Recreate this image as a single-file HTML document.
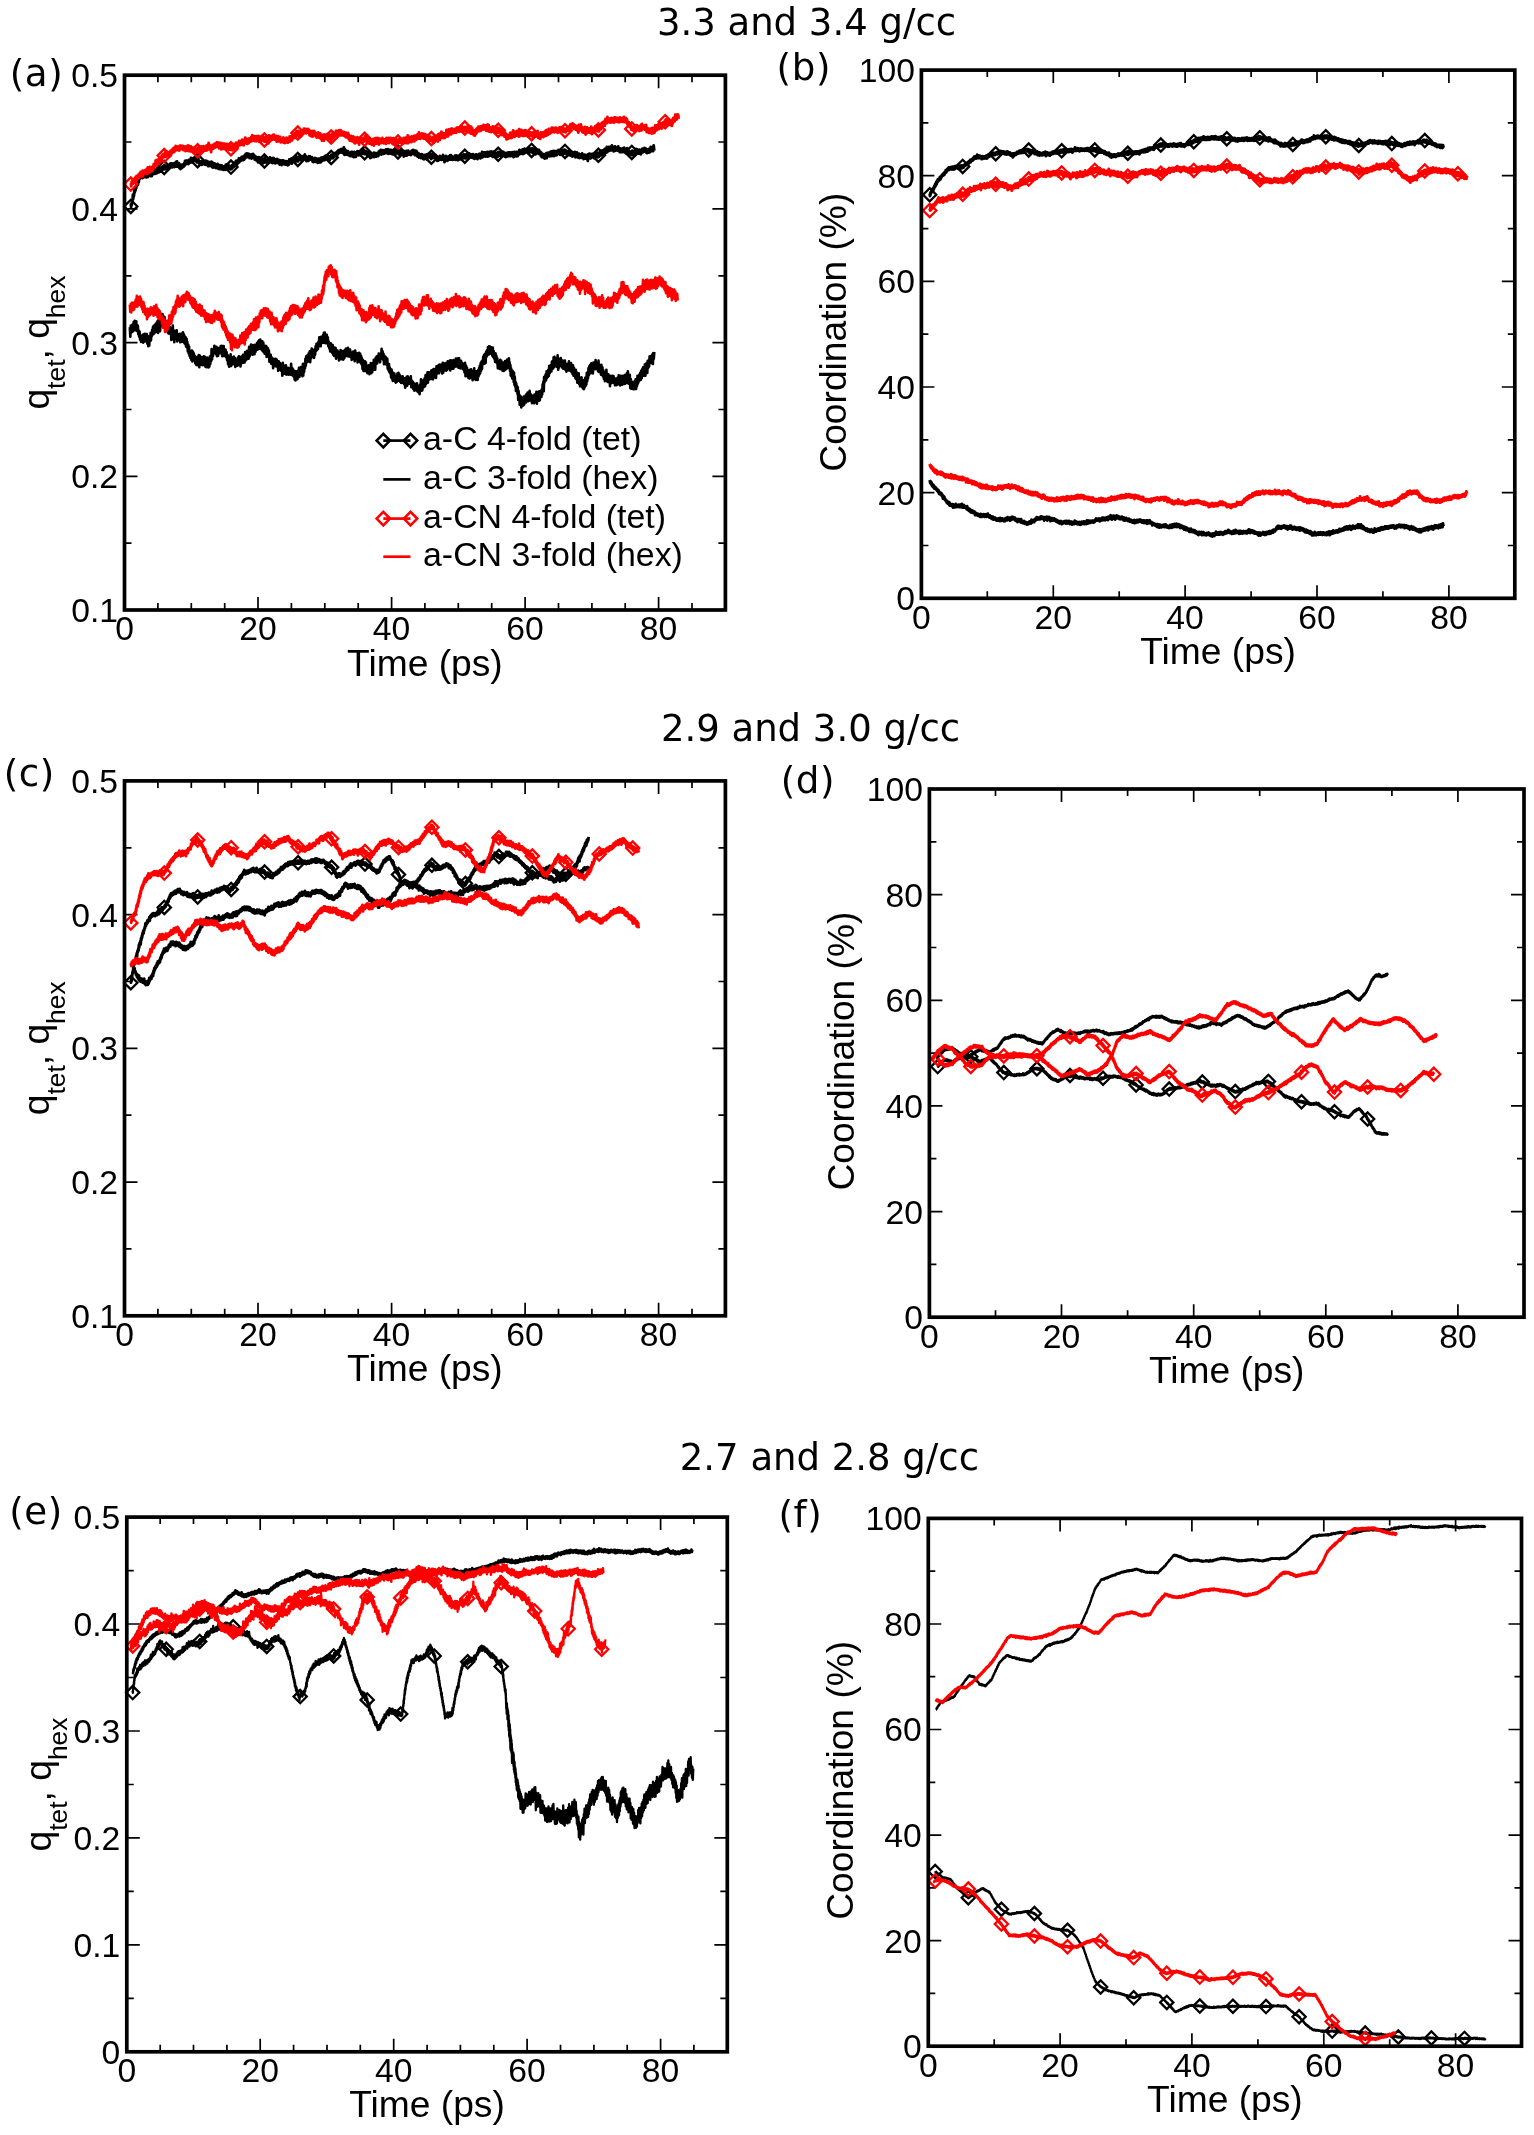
<!DOCTYPE html>
<html lang="en"><head><meta charset="utf-8"><title>Figure</title>
<style>html,body{margin:0;padding:0;background:#fff}svg{display:block;filter:blur(0.45px)}</style></head>
<body>
<svg width="1534" height="2135" viewBox="0 0 1534 2135" role="img" aria-label="Time evolution of order parameters and coordination">
<rect width="1534" height="2135" fill="#fff"/>
<g id="panel-a">
<path d="M157.9 610.0v-7.0M157.9 75.2v7.0M191.3 610.0v-7.0M191.3 75.2v7.0M224.7 610.0v-7.0M224.7 75.2v7.0M258.0 610.0v-13.0M258.0 75.2v13.0M291.4 610.0v-7.0M291.4 75.2v7.0M324.8 610.0v-7.0M324.8 75.2v7.0M358.2 610.0v-7.0M358.2 75.2v7.0M391.6 610.0v-13.0M391.6 75.2v13.0M424.9 610.0v-7.0M424.9 75.2v7.0M458.3 610.0v-7.0M458.3 75.2v7.0M491.7 610.0v-7.0M491.7 75.2v7.0M525.1 610.0v-13.0M525.1 75.2v13.0M558.5 610.0v-7.0M558.5 75.2v7.0M591.9 610.0v-7.0M591.9 75.2v7.0M625.2 610.0v-7.0M625.2 75.2v7.0M658.6 610.0v-13.0M658.6 75.2v13.0M692.0 610.0v-7.0M692.0 75.2v7.0M124.5 543.1h7.0M725.4 543.1h-7.0M124.5 476.3h13.0M725.4 476.3h-13.0M124.5 409.5h7.0M725.4 409.5h-7.0M124.5 342.6h13.0M725.4 342.6h-13.0M124.5 275.8h7.0M725.4 275.8h-7.0M124.5 208.9h13.0M725.4 208.9h-13.0M124.5 142.0h7.0M725.4 142.0h-7.0" stroke="#000" stroke-width="1.7" fill="none"/>
<path d="M130.8 203.5L131.1 207.2L131.5 203.3L131.8 205.0L132.2 199.8L132.5 202.0L132.9 194.7L133.2 199.1L133.6 194.3L134.0 195.9L134.3 190.2L134.7 192.6L135.1 188.8L135.5 190.5L135.9 186.6L136.3 188.2L136.7 183.0L137.1 185.8L137.5 182.3L137.9 184.8L138.3 179.9L138.7 182.3L139.2 178.1L139.6 179.0L140.1 174.8L140.6 177.6L141.1 175.3L141.6 177.8L142.1 175.2L142.6 178.0L143.1 173.7L143.6 177.1L144.1 172.7L144.7 177.0L145.2 173.8L145.7 177.0L146.2 173.0L146.7 177.3L147.2 172.9L147.7 177.1L148.2 173.1L148.7 176.2L149.3 171.9L149.8 175.3L150.3 173.2L150.8 176.1L151.3 172.3L151.8 176.1L152.3 171.8L152.8 174.4L153.3 171.6L153.8 174.0L154.3 170.1L154.9 173.8L155.4 170.1L155.9 173.3L156.4 169.0L156.9 173.3L157.4 169.7L157.9 172.5L158.4 168.8L158.9 172.4L159.4 168.5L159.9 171.3L160.4 167.7L161.0 171.7L161.5 167.6L162.0 170.2L162.5 166.5L163.0 168.7L163.5 165.9L164.0 169.3L164.5 165.0L165.1 168.6L165.6 166.1L166.1 169.3L166.6 165.9L167.2 168.9L167.7 165.6L168.2 167.9L168.7 165.1L169.3 168.1L169.8 163.9L170.3 166.8L170.9 163.3L171.4 166.1L171.9 163.3L172.4 167.3L172.9 163.9L173.4 166.3L173.9 163.3L174.4 167.0L174.9 162.8L175.4 166.1L176.0 161.8L176.5 166.6L177.0 161.4L177.5 164.9L178.0 163.1L178.5 166.8L179.0 163.2L179.5 168.0L180.0 164.3L180.5 169.1L181.1 165.0L181.6 168.2L182.1 164.7L182.6 167.4L183.1 164.3L183.6 166.8L184.1 163.4L184.5 165.8L185.0 161.0L185.5 164.6L186.0 160.6L186.5 163.9L187.0 160.6L187.5 163.7L188.0 161.0L188.5 164.2L188.9 160.0L189.4 162.6L189.9 159.6L190.4 162.6L190.9 157.8L191.5 162.4L192.0 158.8L192.5 162.0L193.0 158.2L193.6 161.3L194.1 157.9L194.6 160.7L195.1 157.6L195.7 160.5L196.2 158.4L196.7 162.3L197.3 158.7L197.8 162.0L198.3 158.5L198.8 163.4L199.3 160.8L199.8 164.0L200.4 161.3L200.9 164.1L201.4 161.4L201.9 164.8L202.4 160.9L202.9 164.0L203.5 160.8L204.0 164.1L204.5 161.5L205.0 164.5L205.5 160.6L206.1 164.9L206.6 160.8L207.1 163.9L207.6 161.7L208.1 166.1L208.6 162.0L209.1 166.0L209.6 162.2L210.1 165.4L210.6 162.2L211.1 165.9L211.6 161.7L212.1 167.1L212.6 162.4L213.1 167.7L213.6 163.3L214.1 167.4L214.6 163.3L215.1 167.4L215.6 165.0L216.1 168.1L216.7 164.3L217.2 167.2L217.7 163.8L218.2 168.7L218.7 165.6L219.2 169.1L219.7 165.2L220.2 168.1L220.7 165.4L221.2 169.4L221.7 165.4L222.2 168.8L222.7 166.1L223.3 169.8L223.8 166.5L224.3 169.6L224.8 166.2L225.3 169.9L225.8 164.6L226.4 169.5L226.9 164.4L227.4 168.5L227.9 165.0L228.4 168.2L228.9 165.3L229.5 169.1L230.0 166.1L230.5 169.4L231.0 166.7L231.5 169.1L232.0 165.2L232.5 168.2L232.9 164.3L233.4 166.7L233.9 162.8L234.4 166.6L234.9 163.2L235.4 165.6L235.9 160.9L236.4 164.8L236.9 160.7L237.3 164.4L237.8 160.4L238.3 162.9L238.8 158.4L239.3 162.4L239.8 158.6L240.3 161.1L240.8 158.0L241.3 160.7L241.7 156.9L242.2 160.1L242.7 156.7L243.2 160.2L243.7 156.5L244.2 159.6L244.7 155.1L245.2 158.3L245.7 154.0L246.3 156.9L246.8 153.4L247.3 157.1L247.9 153.7L248.4 157.2L249.0 153.9L249.5 158.0L250.1 154.7L250.6 156.8L251.1 154.7L251.6 158.5L252.2 154.1L252.7 156.7L253.2 154.0L253.7 157.9L254.3 155.3L254.8 159.5L255.3 156.2L255.9 160.1L256.4 157.1L256.9 160.3L257.4 157.5L258.0 162.4L258.5 157.2L259.0 161.7L259.5 157.3L260.1 161.5L260.6 159.0L261.1 162.8L261.6 159.3L262.2 163.1L262.7 159.0L263.2 163.3L263.8 159.2L264.3 162.6L264.8 157.3L265.3 162.3L265.8 159.8L266.3 162.6L266.9 159.6L267.4 162.1L267.9 159.4L268.4 162.2L268.9 158.4L269.4 161.9L270.0 157.5L270.5 161.0L271.0 158.4L271.5 162.6L272.0 158.5L272.6 163.0L273.1 157.8L273.6 161.4L274.1 158.3L274.6 163.2L275.1 159.9L275.6 163.3L276.1 159.3L276.6 161.8L277.1 158.8L277.6 162.5L278.1 159.9L278.6 163.4L279.1 159.9L279.7 164.7L280.2 160.4L280.7 164.0L281.2 160.7L281.7 165.0L282.2 160.4L282.7 163.7L283.2 160.4L283.7 164.1L284.2 161.0L284.7 164.1L285.2 161.3L285.7 164.7L286.2 161.1L286.8 164.6L287.3 161.3L287.8 165.4L288.3 161.1L288.8 164.7L289.3 159.5L289.8 163.3L290.3 160.1L290.9 163.2L291.4 158.3L291.9 163.7L292.4 159.0L292.9 162.1L293.4 158.2L293.9 161.2L294.4 157.7L295.0 161.5L295.5 158.3L296.0 160.7L296.5 156.4L297.0 161.4L297.5 157.4L298.1 161.4L298.6 157.7L299.1 159.8L299.6 155.2L300.2 159.8L300.7 156.0L301.2 160.4L301.7 156.4L302.3 159.2L302.8 156.3L303.3 158.7L303.8 155.7L304.4 157.7L304.9 154.4L305.4 158.5L305.9 156.1L306.4 161.0L306.9 157.8L307.4 160.9L308.0 157.0L308.5 160.9L309.0 156.2L309.5 159.5L310.0 156.5L310.5 159.5L311.1 157.4L311.6 159.8L312.1 157.1L312.6 161.5L313.1 158.9L313.6 162.1L314.1 159.5L314.6 161.3L315.1 157.8L315.6 161.8L316.2 158.3L316.7 161.8L317.2 159.5L317.7 162.8L318.2 158.6L318.7 162.7L319.2 158.9L319.7 162.2L320.2 158.5L320.7 162.3L321.2 157.7L321.7 161.3L322.2 157.3L322.7 160.2L323.2 157.1L323.7 160.4L324.3 156.7L324.8 160.1L325.3 155.8L325.8 159.1L326.3 155.4L326.8 158.7L327.3 155.3L327.8 158.2L328.3 155.6L328.8 159.5L329.3 156.7L329.8 160.4L330.3 156.2L330.8 158.7L331.3 154.6L331.9 158.2L332.4 156.2L332.9 158.3L333.4 154.5L333.9 157.3L334.4 153.1L334.9 156.4L335.5 153.4L336.0 156.0L336.5 152.2L337.0 154.9L337.5 151.2L338.0 154.4L338.5 150.2L339.0 152.9L339.6 150.7L340.1 152.3L340.7 149.2L341.2 152.6L341.8 148.9L342.3 152.3L342.9 149.5L343.4 153.4L343.9 147.4L344.5 154.8L345.0 149.2L345.5 153.5L346.0 150.3L346.6 154.7L347.1 151.2L347.6 154.9L348.2 151.2L348.7 155.0L349.2 152.7L349.7 155.9L350.3 152.7L350.8 156.2L351.3 151.8L351.8 155.5L352.3 152.0L352.8 156.5L353.3 153.2L353.8 157.2L354.3 151.9L354.8 156.1L355.3 152.8L355.9 156.8L356.4 152.1L356.9 155.4L357.4 151.2L357.9 154.7L358.4 151.4L358.9 155.3L359.4 151.3L359.9 154.7L360.4 151.1L360.9 153.8L361.4 149.8L361.9 152.7L362.4 150.9L363.0 153.8L363.5 149.5L364.0 153.4L364.5 150.5L365.0 154.2L365.5 151.6L366.0 154.3L366.6 151.3L367.1 154.7L367.6 152.6L368.1 155.4L368.6 152.2L369.2 156.6L369.7 153.4L370.2 158.1L370.7 153.6L371.3 157.6L371.8 153.9L372.3 156.9L372.8 154.2L373.3 156.9L373.8 152.7L374.3 157.1L374.8 153.0L375.3 156.5L375.8 153.9L376.3 156.6L376.8 153.2L377.3 156.1L377.8 153.6L378.3 156.1L378.8 151.5L379.3 154.2L379.8 150.6L380.3 154.1L380.8 149.8L381.4 154.5L381.9 150.6L382.4 153.5L382.9 150.1L383.4 153.8L383.9 150.5L384.4 153.5L384.9 150.5L385.4 153.0L385.9 149.5L386.4 153.1L386.9 149.6L387.4 153.2L387.9 149.2L388.4 153.8L388.9 149.6L389.4 153.3L389.9 149.8L390.4 153.6L390.9 150.0L391.5 153.5L392.0 150.2L392.5 154.3L393.0 150.8L393.6 154.2L394.1 150.1L394.6 153.9L395.1 149.7L395.6 153.9L396.2 150.4L396.7 153.0L397.2 149.5L397.7 153.0L398.2 149.9L398.7 154.4L399.3 150.6L399.8 154.9L400.3 150.3L400.8 154.3L401.3 151.7L401.8 154.0L402.3 150.8L402.8 154.8L403.3 151.3L403.8 156.5L404.4 151.1L404.9 153.7L405.4 151.3L405.9 155.7L406.4 150.9L406.9 155.6L407.4 150.9L407.9 154.2L408.4 150.7L408.9 154.7L409.5 151.9L410.0 154.6L410.5 151.7L411.0 155.0L411.5 151.0L412.0 154.2L412.5 150.1L413.0 153.3L413.5 150.0L414.0 154.0L414.5 151.6L415.0 155.2L415.5 150.6L416.0 154.4L416.5 151.0L417.0 156.2L417.5 152.8L418.0 156.7L418.5 153.2L419.1 157.6L419.6 154.4L420.1 157.1L420.6 154.4L421.1 158.1L421.6 154.1L422.1 157.7L422.6 154.6L423.1 158.9L423.6 155.2L424.1 159.3L424.7 155.0L425.2 158.9L425.7 155.4L426.2 158.7L426.7 154.4L427.2 159.5L427.7 154.6L428.2 157.3L428.7 153.6L429.3 156.8L429.8 154.6L430.3 158.0L430.8 154.1L431.3 159.1L431.8 155.3L432.3 157.8L432.8 154.1L433.3 157.2L433.8 154.6L434.3 158.2L434.8 154.9L435.3 158.1L435.9 155.1L436.4 159.6L436.9 156.7L437.4 160.9L437.9 157.2L438.4 160.6L438.9 157.0L439.4 159.2L439.9 155.8L440.4 159.5L440.9 156.6L441.4 159.8L441.9 156.7L442.4 159.6L443.0 155.0L443.5 159.7L444.0 156.5L444.5 162.1L445.0 156.6L445.5 160.3L446.0 155.9L446.5 160.4L447.0 156.7L447.5 160.9L448.0 157.0L448.5 159.9L449.0 156.1L449.5 159.6L450.0 155.4L450.5 159.6L451.0 155.1L451.5 159.6L452.0 156.1L452.5 159.8L453.0 156.8L453.5 159.5L454.0 156.8L454.5 159.0L455.0 155.7L455.5 159.9L456.0 155.4L456.5 158.9L457.0 155.7L457.5 160.0L458.0 156.4L458.5 160.0L459.0 157.0L459.5 159.1L460.0 155.6L460.5 159.1L461.0 155.3L461.5 159.7L462.0 154.8L462.5 158.7L463.0 155.6L463.5 158.2L464.0 154.5L464.5 156.9L465.0 155.3L465.5 158.3L466.1 154.5L466.6 157.2L467.1 154.4L467.6 158.6L468.1 154.5L468.6 158.3L469.1 153.5L469.6 157.0L470.1 154.2L470.6 156.8L471.1 154.7L471.6 157.7L472.1 154.5L472.6 157.6L473.1 154.2L473.6 158.4L474.1 154.8L474.6 158.8L475.1 155.2L475.6 158.2L476.1 154.5L476.6 158.3L477.1 154.6L477.6 159.1L478.1 155.8L478.6 158.0L479.1 154.0L479.6 157.6L480.1 153.9L480.6 158.3L481.1 153.8L481.6 157.3L482.1 151.9L482.6 157.3L483.2 152.4L483.7 156.5L484.2 152.5L484.7 156.2L485.2 152.3L485.7 156.6L486.2 152.8L486.7 155.6L487.2 152.0L487.7 156.5L488.2 153.0L488.7 156.3L489.2 151.9L489.7 155.9L490.2 151.8L490.7 155.4L491.2 151.5L491.7 155.7L492.2 152.2L492.7 156.8L493.2 151.6L493.8 156.0L494.3 152.1L494.8 156.5L495.3 153.0L495.8 156.8L496.3 153.0L496.8 156.2L497.3 152.8L497.8 156.9L498.3 152.0L498.8 155.1L499.3 152.3L499.8 155.6L500.3 152.1L500.8 156.3L501.3 152.5L501.8 155.9L502.3 152.0L502.8 155.6L503.3 151.9L503.8 155.0L504.3 152.6L504.8 156.5L505.3 153.6L505.8 157.1L506.3 152.9L506.8 156.6L507.3 153.2L507.8 156.3L508.3 152.4L508.8 156.2L509.3 152.5L509.8 155.6L510.3 152.5L510.8 156.0L511.3 152.8L511.8 155.7L512.3 152.1L512.8 156.4L513.3 153.5L513.8 157.2L514.3 152.0L514.8 155.9L515.3 152.2L515.8 156.1L516.3 152.0L516.8 156.3L517.3 152.0L517.9 156.1L518.4 151.7L518.9 154.5L519.4 150.0L520.0 153.5L520.5 150.6L521.0 153.8L521.5 150.5L522.0 153.1L522.6 149.3L523.1 154.0L523.6 150.5L524.1 153.5L524.6 148.7L525.2 152.9L525.7 149.3L526.2 152.3L526.8 149.1L527.3 151.9L527.8 148.8L528.3 153.0L528.9 149.0L529.4 152.7L529.9 148.4L530.4 152.2L531.0 149.2L531.5 151.8L532.0 148.5L532.5 152.6L533.0 148.3L533.5 153.4L534.1 149.3L534.6 151.8L535.1 148.3L535.6 154.4L536.1 149.9L536.6 153.3L537.1 150.0L537.6 153.1L538.1 149.8L538.6 153.8L539.1 150.0L539.6 154.1L540.2 151.7L540.7 155.7L541.2 152.5L541.7 157.0L542.2 153.7L542.7 156.6L543.2 154.0L543.7 157.7L544.2 154.2L544.7 158.6L545.2 154.1L545.7 157.7L546.3 153.1L546.8 158.0L547.3 152.9L547.8 155.5L548.3 152.6L548.8 156.2L549.3 153.9L549.8 156.4L550.3 151.9L550.9 155.8L551.4 151.5L551.9 156.1L552.4 152.1L552.9 155.4L553.4 151.0L553.9 156.0L554.4 151.1L554.9 155.0L555.4 151.1L556.0 155.4L556.5 151.3L557.0 155.1L557.5 150.7L558.0 153.8L558.5 149.9L559.1 153.4L559.6 150.6L560.1 154.9L560.6 150.5L561.1 153.7L561.6 150.6L562.2 153.8L562.7 150.3L563.2 153.4L563.7 150.0L564.2 153.7L564.7 149.7L565.3 153.1L565.8 150.2L566.3 154.0L566.8 151.2L567.3 155.9L567.8 151.2L568.3 154.8L568.9 150.7L569.4 154.3L569.9 150.7L570.4 155.5L570.9 152.1L571.4 154.7L571.9 151.8L572.4 156.6L572.9 152.5L573.5 155.8L574.0 152.3L574.5 156.3L575.0 152.0L575.5 157.3L576.0 152.8L576.5 156.1L577.0 152.4L577.6 157.1L578.1 154.5L578.6 157.7L579.1 153.7L579.6 158.0L580.1 154.5L580.6 157.7L581.1 154.7L581.6 157.9L582.1 153.5L582.7 158.0L583.2 154.8L583.7 159.2L584.2 154.7L584.7 158.3L585.2 154.8L585.7 158.7L586.2 155.1L586.7 158.4L587.2 155.0L587.8 160.9L588.3 154.2L588.8 158.0L589.3 153.7L589.8 158.4L590.3 153.8L590.8 158.4L591.3 154.8L591.9 157.3L592.4 154.0L592.9 157.0L593.4 154.6L593.9 158.0L594.4 154.6L594.9 158.1L595.4 154.0L596.0 157.1L596.5 153.3L597.0 156.0L597.5 152.7L598.0 157.4L598.5 153.3L599.0 156.8L599.5 152.3L600.1 155.5L600.6 151.0L601.1 154.4L601.6 150.6L602.1 155.3L602.7 150.4L603.2 154.6L603.7 151.4L604.2 153.7L604.7 148.9L605.2 153.2L605.8 148.8L606.3 152.6L606.8 146.8L607.3 152.0L607.8 147.4L608.4 150.9L608.9 147.0L609.4 150.8L609.9 147.2L610.4 149.6L611.0 146.3L611.5 150.3L612.0 145.3L612.5 149.6L613.1 147.1L613.6 151.3L614.1 146.9L614.6 151.0L615.1 146.5L615.6 150.6L616.1 147.4L616.6 149.8L617.2 147.6L617.7 150.7L618.2 146.5L618.7 150.8L619.2 148.1L619.7 152.1L620.2 148.3L620.7 152.2L621.2 149.0L621.7 152.2L622.2 148.6L622.7 152.0L623.2 148.2L623.7 151.0L624.2 147.7L624.7 152.3L625.2 150.0L625.7 153.1L626.2 148.9L626.7 153.5L627.2 148.1L627.7 152.4L628.2 149.4L628.7 152.9L629.2 151.1L629.7 154.0L630.3 151.6L630.8 154.5L631.3 151.4L631.8 155.2L632.3 150.7L632.8 155.2L633.3 152.3L633.8 154.9L634.3 151.0L634.8 154.6L635.3 150.0L635.8 152.8L636.3 148.8L636.8 152.8L637.4 149.5L637.9 152.8L638.4 149.9L638.9 153.7L639.4 149.7L639.9 153.5L640.4 150.1L640.9 154.4L641.4 149.6L641.9 152.5L642.4 148.7L642.9 152.3L643.5 148.8L644.0 151.5L644.5 147.9L645.0 151.3L645.5 148.7L646.0 152.4L646.5 148.9L647.0 153.2L647.6 149.3L648.1 152.7L648.6 149.3L649.1 152.7L649.6 148.5L650.1 152.0L650.7 147.0L651.2 151.1L651.7 147.2L652.2 151.1L652.7 147.6L653.2 151.1L653.7 145.4L654.3 150.7" fill="none" stroke="#000" stroke-width="2.8" stroke-linejoin="round"/>
<path d="M124.2 206.4L130.8 199.8L137.4 206.4L130.8 213.0Z" fill="none" stroke="#000" stroke-width="2.3"/><path d="M157.6 167.4L164.2 160.8L170.8 167.4L164.2 174.0Z" fill="none" stroke="#000" stroke-width="2.3"/><path d="M191.0 160.7L197.6 154.1L204.2 160.7L197.6 167.3Z" fill="none" stroke="#000" stroke-width="2.3"/><path d="M224.4 167.1L231.0 160.5L237.6 167.1L231.0 173.7Z" fill="none" stroke="#000" stroke-width="2.3"/><path d="M257.8 161.0L264.4 154.4L271.0 161.0L264.4 167.6Z" fill="none" stroke="#000" stroke-width="2.3"/><path d="M291.2 159.4L297.8 152.8L304.4 159.4L297.8 166.0Z" fill="none" stroke="#000" stroke-width="2.3"/><path d="M324.6 157.4L331.2 150.8L337.8 157.4L331.2 164.0Z" fill="none" stroke="#000" stroke-width="2.3"/><path d="M358.0 152.8L364.6 146.2L371.2 152.8L364.6 159.4Z" fill="none" stroke="#000" stroke-width="2.3"/><path d="M391.4 151.9L398.0 145.3L404.6 151.9L398.0 158.5Z" fill="none" stroke="#000" stroke-width="2.3"/><path d="M424.8 157.3L431.4 150.7L438.0 157.3L431.4 163.9Z" fill="none" stroke="#000" stroke-width="2.3"/><path d="M458.2 156.3L464.8 149.7L471.4 156.3L464.8 162.9Z" fill="none" stroke="#000" stroke-width="2.3"/><path d="M491.6 154.3L498.2 147.7L504.8 154.3L498.2 160.9Z" fill="none" stroke="#000" stroke-width="2.3"/><path d="M525.0 150.4L531.6 143.8L538.2 150.4L531.6 157.0Z" fill="none" stroke="#000" stroke-width="2.3"/><path d="M558.4 151.4L565.0 144.8L571.6 151.4L565.0 158.0Z" fill="none" stroke="#000" stroke-width="2.3"/><path d="M591.8 155.3L598.4 148.7L605.0 155.3L598.4 161.9Z" fill="none" stroke="#000" stroke-width="2.3"/><path d="M625.2 152.4L631.8 145.8L638.4 152.4L631.8 159.0Z" fill="none" stroke="#000" stroke-width="2.3"/>
<path d="M129.8 327.1L130.3 336.6L130.8 325.6L131.2 332.6L131.7 325.4L132.2 331.9L132.7 324.3L133.2 331.3L133.7 321.8L134.2 328.6L134.7 320.7L135.1 329.9L135.5 321.1L135.9 329.7L136.3 321.4L136.7 330.9L137.1 325.8L137.5 330.8L137.9 325.9L138.3 334.2L138.7 330.5L139.2 336.7L139.6 331.5L140.1 339.6L140.6 336.1L141.1 342.0L141.6 335.8L142.1 340.8L142.6 334.9L143.2 342.7L143.7 334.2L144.2 341.8L144.7 333.7L145.2 340.7L145.7 334.1L146.2 341.2L146.8 334.0L147.3 343.7L147.8 336.4L148.3 346.2L148.8 336.6L149.3 345.4L149.7 335.9L150.2 341.2L150.6 332.8L151.0 340.3L151.4 332.6L151.8 336.1L152.2 329.9L152.6 333.7L153.0 326.7L153.4 334.3L153.8 325.7L154.2 333.4L154.7 325.0L155.2 330.8L155.7 323.9L156.2 332.0L156.7 322.5L157.2 331.0L157.6 321.0L158.1 332.9L158.6 319.2L159.1 325.3L159.6 317.8L160.1 331.2L160.6 318.3L161.1 326.3L161.6 316.6L162.0 323.1L162.5 314.1L163.0 323.8L163.5 316.6L164.0 320.8L164.5 316.9L164.9 325.8L165.4 320.3L165.8 330.3L166.3 321.5L166.7 330.5L167.2 325.2L167.7 332.5L168.1 326.7L168.6 333.5L169.0 327.0L169.5 333.6L169.9 326.8L170.4 332.9L170.9 328.4L171.3 339.9L171.8 328.6L172.3 339.2L172.8 325.5L173.3 338.7L173.8 330.8L174.3 342.2L174.8 330.7L175.3 338.8L175.7 332.8L176.2 338.7L176.7 330.3L177.2 341.4L177.7 334.0L178.2 339.6L178.7 335.7L179.2 340.1L179.8 333.9L180.3 342.3L180.8 334.2L181.4 341.6L181.9 333.5L182.5 341.6L183.0 332.2L183.6 339.8L184.0 334.5L184.4 343.1L184.8 336.6L185.3 344.2L185.7 337.2L186.1 346.8L186.6 338.7L187.0 347.5L187.4 342.1L187.8 351.4L188.3 344.8L188.7 353.4L189.1 346.7L189.6 356.0L190.0 351.2L190.4 357.8L190.9 353.1L191.4 359.9L191.9 350.6L192.4 361.5L192.9 351.5L193.3 359.9L193.8 353.4L194.3 360.2L194.8 355.7L195.3 363.5L195.8 357.1L196.3 364.9L196.8 357.2L197.3 365.1L197.8 356.6L198.3 365.2L198.8 355.1L199.3 367.2L199.8 355.5L200.4 363.6L200.9 357.4L201.4 364.7L201.9 357.1L202.4 365.2L202.9 357.6L203.4 364.1L203.9 356.3L204.4 365.3L204.9 356.9L205.5 366.6L206.0 359.0L206.5 367.1L207.0 357.5L207.5 366.0L208.0 359.8L208.5 367.4L208.9 358.4L209.4 366.5L209.8 356.6L210.3 363.9L210.7 355.7L211.2 360.9L211.6 349.0L212.1 359.1L212.5 349.7L213.0 356.2L213.4 349.5L213.9 353.5L214.4 345.7L214.9 352.7L215.4 346.8L216.0 354.2L216.5 346.8L217.0 356.1L217.5 349.7L218.1 356.0L218.6 348.0L219.1 353.2L219.6 347.8L220.1 353.2L220.7 346.1L221.2 353.2L221.7 345.9L222.2 356.2L222.7 347.8L223.2 355.0L223.7 346.0L224.1 356.0L224.6 349.0L225.1 354.4L225.6 349.9L226.1 357.2L226.6 352.1L227.1 360.2L227.6 355.1L228.1 364.3L228.5 359.1L229.1 366.6L229.6 356.2L230.1 362.7L230.6 354.4L231.2 366.0L231.7 357.6L232.2 364.4L232.7 357.4L233.2 363.0L233.8 356.6L234.3 364.4L234.8 357.8L235.3 367.0L235.8 359.3L236.4 364.9L236.9 359.2L237.4 365.6L237.9 357.5L238.4 365.0L238.9 356.2L239.4 364.0L240.0 357.9L240.5 366.5L241.0 356.7L241.5 362.8L242.0 356.3L242.5 362.9L243.0 354.8L243.5 362.7L244.1 354.9L244.6 362.4L245.1 352.0L245.6 360.3L246.1 352.0L246.6 359.5L247.1 350.8L247.6 358.0L248.1 351.5L248.6 358.6L249.1 346.9L249.6 356.4L250.1 348.6L250.5 354.0L251.0 344.6L251.5 354.3L252.0 346.2L252.5 354.6L253.0 345.1L253.5 352.8L254.0 345.6L254.5 354.2L255.0 344.7L255.5 352.0L256.0 345.4L256.6 349.7L257.1 342.7L257.7 349.6L258.2 341.4L258.8 347.9L259.3 340.1L259.8 348.7L260.3 339.6L260.8 348.0L261.3 341.3L261.8 350.0L262.3 341.3L262.8 351.2L263.3 342.6L263.8 352.1L264.2 346.4L264.7 353.6L265.2 345.9L265.7 354.0L266.2 346.1L266.6 357.0L267.1 347.6L267.5 353.7L268.0 348.3L268.4 356.5L268.9 350.5L269.4 361.8L269.8 355.0L270.3 360.7L270.7 354.8L271.2 363.7L271.6 357.3L272.1 363.5L272.6 358.5L273.1 368.3L273.6 358.9L274.1 366.3L274.6 360.2L275.1 364.4L275.6 358.7L276.2 366.4L276.7 359.5L277.2 366.2L277.7 362.4L278.2 370.8L278.7 361.4L279.2 370.0L279.8 362.7L280.3 369.0L280.8 365.1L281.3 370.8L281.8 363.9L282.3 375.7L282.8 362.8L283.4 374.0L283.9 366.4L284.4 371.5L284.9 365.8L285.4 373.8L285.9 365.2L286.4 374.6L287.0 368.4L287.5 373.7L288.0 367.7L288.5 374.6L289.0 368.4L289.5 374.4L290.1 368.9L290.6 374.6L291.1 363.8L291.6 374.8L292.1 367.7L292.6 375.5L293.1 369.3L293.6 376.4L294.1 370.8L294.6 379.4L295.0 371.1L295.5 380.5L296.0 371.4L296.5 378.3L297.0 372.8L297.5 379.2L298.0 370.5L298.5 376.1L299.0 367.8L299.4 377.0L299.9 369.6L300.4 375.2L300.9 367.0L301.4 374.3L301.9 367.9L302.4 376.2L302.9 363.8L303.3 375.4L303.7 366.4L304.1 372.0L304.5 363.6L305.0 368.5L305.4 358.9L305.8 365.6L306.2 356.2L306.6 362.7L307.1 355.5L307.5 360.9L307.9 356.1L308.3 361.5L308.7 353.3L309.2 357.7L309.7 351.4L310.2 362.3L310.7 350.8L311.2 358.1L311.7 348.5L312.2 356.6L312.6 349.5L313.1 356.6L313.6 351.2L314.1 358.0L314.6 349.6L315.1 355.0L315.6 346.3L316.0 351.2L316.5 343.7L317.0 350.1L317.4 343.2L317.9 349.1L318.4 341.9L318.8 346.8L319.3 337.4L319.7 344.6L320.2 338.7L320.7 346.2L321.1 336.9L321.6 342.4L322.1 337.2L322.5 343.0L323.0 335.1L323.5 342.8L323.9 332.7L324.4 341.7L324.9 332.5L325.4 343.2L325.8 336.4L326.3 341.0L326.8 334.9L327.3 343.3L327.8 337.3L328.3 346.2L328.8 341.5L329.3 348.4L329.8 343.5L330.2 351.4L330.7 343.4L331.2 351.5L331.7 344.5L332.2 353.0L332.7 345.0L333.2 354.7L333.7 349.8L334.2 355.9L334.6 347.5L335.1 354.2L335.6 348.1L336.1 358.6L336.6 351.2L337.1 357.2L337.6 350.6L338.1 357.5L338.6 352.9L339.0 360.4L339.6 352.1L340.1 357.9L340.6 350.0L341.2 359.2L341.7 352.0L342.2 356.8L342.8 351.1L343.3 359.7L343.9 351.7L344.4 358.1L344.9 349.8L345.4 355.6L346.0 348.6L346.5 356.0L347.0 349.3L347.5 356.1L348.0 347.9L348.6 356.0L349.1 350.7L349.6 356.8L350.1 349.5L350.7 356.5L351.2 352.9L351.7 360.0L352.2 352.3L352.7 358.9L353.2 351.6L353.7 358.9L354.2 353.6L354.7 361.1L355.2 350.6L355.7 358.9L356.2 353.1L356.7 358.5L357.1 353.3L357.6 362.4L358.1 355.6L358.6 361.4L359.1 352.9L359.6 361.4L360.1 353.5L360.6 362.8L361.1 355.9L361.5 364.2L362.0 358.4L362.5 368.9L363.0 360.1L363.5 370.9L364.0 362.8L364.5 370.9L365.0 361.4L365.5 370.8L365.9 362.2L366.4 371.3L366.9 365.5L367.4 373.1L367.9 367.6L368.4 372.0L368.9 365.2L369.4 374.1L369.9 366.2L370.3 373.1L370.8 363.0L371.3 373.1L371.8 363.3L372.3 372.0L372.8 363.0L373.3 369.7L373.8 359.7L374.3 367.3L374.7 361.6L375.2 369.8L375.7 357.7L376.2 364.2L376.7 356.4L377.2 363.4L377.7 356.2L378.2 360.0L378.7 353.5L379.1 360.4L379.6 353.8L380.1 362.3L380.6 353.6L381.1 358.9L381.6 348.9L382.1 358.4L382.6 351.4L383.1 359.6L383.5 353.7L384.0 364.1L384.5 355.9L385.0 363.6L385.5 356.8L386.0 364.1L386.4 357.9L386.8 365.0L387.3 358.7L387.7 368.6L388.1 363.7L388.6 370.3L389.0 364.0L389.4 372.2L389.8 367.5L390.3 373.4L390.7 369.0L391.1 377.4L391.6 369.5L392.0 378.6L392.4 372.0L392.8 381.0L393.4 373.1L393.9 380.6L394.4 373.5L394.9 381.5L395.4 375.7L395.9 382.6L396.5 376.1L397.0 381.6L397.5 373.3L398.0 380.3L398.5 372.7L399.0 380.6L399.6 374.5L400.1 381.6L400.6 376.2L401.1 382.8L401.6 376.6L402.1 382.9L402.7 376.3L403.2 382.6L403.7 378.6L404.2 384.1L404.7 378.2L405.2 387.7L405.7 378.9L406.2 384.9L406.7 376.9L407.2 385.7L407.7 376.4L408.3 384.0L408.8 378.3L409.3 383.6L409.8 377.7L410.3 383.6L410.8 376.4L411.3 387.1L411.8 380.6L412.4 387.2L412.9 381.7L413.4 389.1L413.9 383.3L414.4 390.7L414.9 384.5L415.4 390.0L416.0 383.9L416.5 390.5L417.0 383.4L417.5 391.4L418.0 385.9L418.5 392.4L419.0 385.8L419.6 394.1L420.0 384.7L420.5 390.9L421.0 379.3L421.4 390.8L421.9 382.2L422.4 390.2L422.8 381.2L423.3 387.4L423.7 379.8L424.2 386.7L424.7 378.2L425.1 386.1L425.6 375.0L426.1 383.9L426.5 376.5L427.0 381.1L427.5 372.4L427.9 382.6L428.4 372.3L428.9 379.7L429.3 372.6L429.9 378.5L430.4 372.0L430.9 379.0L431.4 370.4L431.9 379.0L432.4 371.0L432.9 379.3L433.5 369.1L434.0 377.4L434.5 369.5L435.0 377.1L435.5 368.9L436.0 377.9L436.5 366.3L437.1 373.7L437.6 367.0L438.1 372.7L438.6 365.0L439.1 373.1L439.6 364.6L440.1 371.2L440.6 365.3L441.1 370.8L441.7 364.6L442.2 373.5L442.7 362.9L443.2 372.8L443.7 364.0L444.2 370.5L444.7 363.5L445.2 370.5L445.7 363.0L446.2 370.6L446.7 363.0L447.2 370.0L447.7 361.4L448.2 368.5L448.8 362.2L449.3 367.2L449.8 360.5L450.3 370.5L450.8 360.4L451.3 366.7L451.8 360.5L452.3 368.8L452.8 360.6L453.3 368.6L453.8 360.1L454.4 367.2L454.9 360.5L455.4 366.4L455.9 358.5L456.5 366.4L457.0 358.8L457.5 365.4L458.0 358.4L458.5 367.7L459.1 358.2L459.6 367.9L460.1 362.1L460.6 368.5L461.1 360.8L461.6 367.5L462.1 362.9L462.6 368.6L463.1 364.9L463.6 369.6L464.1 363.5L464.5 372.5L465.0 362.7L465.5 376.3L466.0 365.6L466.5 375.6L467.0 367.6L467.5 376.2L468.0 370.1L468.5 377.9L469.0 370.3L469.5 378.5L470.0 369.7L470.6 377.4L471.1 369.4L471.6 377.6L472.1 370.7L472.6 380.3L473.1 371.0L473.7 377.0L474.2 368.3L474.7 378.7L475.2 374.1L475.7 379.9L476.2 371.3L476.7 379.1L477.3 371.9L477.7 380.0L478.1 370.4L478.5 376.4L479.0 368.3L479.4 374.5L479.8 365.7L480.2 373.3L480.7 363.0L481.1 370.6L481.5 361.5L482.0 369.0L482.4 360.5L482.8 364.3L483.2 356.8L483.7 364.0L484.1 354.8L484.6 363.6L485.1 353.7L485.6 363.0L486.1 351.8L486.5 357.0L487.0 350.4L487.5 355.3L488.0 347.1L488.5 353.3L489.0 346.3L489.5 354.1L490.0 346.5L490.5 353.4L490.9 347.0L491.4 353.1L491.9 347.8L492.3 355.8L492.8 347.6L493.2 356.9L493.7 351.1L494.1 358.5L494.6 353.0L495.1 361.9L495.5 353.2L496.0 361.5L496.4 355.9L496.9 363.1L497.3 358.2L497.8 368.3L498.3 360.8L498.8 366.2L499.3 361.0L499.7 369.0L500.2 359.8L500.7 367.6L501.2 360.5L501.7 369.4L502.2 362.9L502.7 370.8L503.2 362.6L503.7 371.0L504.1 363.1L504.6 370.2L505.1 361.0L505.6 369.5L506.1 361.6L506.6 368.7L507.1 359.6L507.6 367.9L508.1 359.8L508.5 364.6L508.9 358.4L509.3 366.1L509.6 362.3L510.0 370.9L510.4 365.0L510.7 375.4L511.1 368.3L511.5 376.5L511.8 370.2L512.2 378.5L512.6 370.9L512.9 378.8L513.3 372.5L513.7 381.9L514.0 372.5L514.4 384.8L514.8 376.9L515.2 386.8L515.6 382.1L515.9 390.9L516.3 383.5L516.7 391.1L517.1 386.2L517.5 394.0L517.8 387.3L518.2 399.9L518.6 391.1L519.0 400.3L519.4 394.7L519.7 404.8L520.1 396.0L520.5 403.1L520.9 396.5L521.3 407.5L521.7 397.8L522.2 406.1L522.7 398.7L523.2 405.5L523.7 396.5L524.2 404.6L524.7 397.2L525.2 402.2L525.7 395.2L526.1 402.4L526.6 394.0L527.1 399.3L527.6 392.6L528.1 401.2L528.6 392.7L529.1 400.8L529.6 390.9L530.1 399.3L530.5 393.9L531.0 400.5L531.5 395.3L532.0 403.1L532.5 395.8L533.0 402.9L533.5 395.5L534.0 403.1L534.5 394.5L535.0 400.8L535.4 394.2L535.9 402.1L536.4 391.8L536.9 403.7L537.4 394.6L537.9 400.8L538.4 391.7L538.9 400.8L539.4 391.3L539.8 400.1L540.2 391.8L540.6 397.3L541.0 390.7L541.4 396.9L541.8 389.4L542.2 394.4L542.6 384.2L543.0 388.5L543.4 381.5L543.8 391.2L544.1 377.1L544.5 382.6L544.9 376.2L545.3 381.1L545.7 374.2L546.1 379.9L546.6 371.2L547.0 378.1L547.5 372.2L547.9 376.9L548.3 369.8L548.8 375.9L549.2 365.9L549.7 373.3L550.1 365.6L550.5 371.8L551.0 365.1L551.4 371.5L551.9 361.5L552.3 368.0L552.7 362.1L553.2 368.4L553.6 357.4L554.1 366.9L554.5 356.8L555.0 362.3L555.6 358.6L556.1 366.1L556.6 358.5L557.1 367.0L557.6 355.4L558.2 369.8L558.7 360.0L559.2 367.4L559.7 358.9L560.2 365.8L560.8 358.1L561.3 365.7L561.8 360.7L562.3 367.7L562.8 360.6L563.4 368.8L563.9 361.1L564.4 368.8L564.9 360.5L565.4 369.8L565.9 364.2L566.4 371.6L567.0 363.8L567.5 369.4L568.0 363.9L568.5 370.5L569.0 361.3L569.5 370.4L570.1 363.2L570.6 371.0L571.1 363.1L571.6 372.3L572.1 365.0L572.6 373.9L573.0 365.3L573.5 375.6L574.0 367.9L574.5 375.8L574.9 370.8L575.4 378.2L575.9 369.8L576.3 379.3L576.8 372.5L577.3 382.6L577.7 375.3L578.2 382.0L578.7 373.4L579.2 384.3L579.6 378.3L580.1 386.3L580.6 377.7L581.0 383.2L581.5 377.4L582.0 386.8L582.4 380.5L582.9 388.5L583.4 380.3L583.8 389.2L584.3 381.6L584.7 387.4L585.1 378.1L585.5 386.0L585.9 377.1L586.4 384.5L586.8 372.9L587.2 381.2L587.6 373.6L588.0 378.5L588.5 368.1L588.9 375.2L589.3 366.4L589.7 372.6L590.2 364.8L590.8 373.1L591.3 363.3L591.8 372.6L592.4 364.3L592.9 373.4L593.4 362.6L594.0 368.4L594.5 363.4L595.0 369.3L595.6 360.0L596.1 368.2L596.6 363.8L597.0 369.0L597.5 363.5L598.0 371.2L598.5 360.5L599.0 371.9L599.5 364.8L600.0 371.5L600.5 365.8L601.0 374.6L601.4 364.8L601.9 372.7L602.4 367.4L602.9 376.5L603.4 370.4L603.9 378.9L604.4 372.2L604.9 381.1L605.4 374.1L605.9 380.6L606.4 369.7L606.9 381.2L607.4 374.5L607.9 381.9L608.4 374.4L609.0 381.9L609.5 377.3L610.0 386.2L610.5 375.7L611.0 383.5L611.5 376.9L612.0 383.0L612.6 375.9L613.1 381.9L613.6 376.3L614.1 383.1L614.6 378.7L615.1 385.3L615.6 378.6L616.2 385.3L616.7 379.4L617.2 384.6L617.7 377.5L618.2 381.6L618.7 375.2L619.2 384.5L619.7 377.9L620.2 385.4L620.8 375.7L621.3 384.0L621.8 378.2L622.3 384.6L622.8 375.8L623.3 382.1L623.8 376.5L624.3 383.9L624.8 375.1L625.3 383.7L625.9 374.7L626.4 382.4L626.9 373.1L627.4 382.8L627.9 371.4L628.3 383.5L628.8 375.6L629.3 383.9L629.8 374.8L630.3 388.2L630.8 379.1L631.3 388.8L631.8 381.6L632.3 388.7L632.7 382.9L633.2 389.1L633.7 382.6L634.2 389.2L634.7 381.0L635.2 387.6L635.6 379.2L636.1 389.0L636.6 379.2L637.0 386.2L637.5 375.7L638.0 383.6L638.4 377.8L638.9 381.4L639.4 374.5L639.8 379.8L640.3 372.7L640.7 379.9L641.2 370.7L641.7 378.3L642.1 369.3L642.6 374.3L643.1 367.3L643.5 375.7L644.0 367.9L644.5 374.7L644.9 364.3L645.4 375.7L645.9 363.8L646.3 371.2L646.8 362.9L647.3 372.9L647.7 360.9L648.2 367.9L648.7 360.7L649.1 366.4L649.6 356.4L650.1 363.1L650.5 356.0L651.0 362.8L651.5 356.2L651.9 363.2L652.4 354.2L652.9 364.0L653.3 353.0L653.8 358.9L654.3 352.0" fill="none" stroke="#000" stroke-width="2.6" stroke-linejoin="round"/>
<path d="M130.8 183.1L131.2 186.4L131.7 181.6L132.2 184.0L132.7 180.0L133.2 183.8L133.7 179.5L134.2 182.8L134.7 178.2L135.2 181.6L135.6 177.0L136.1 180.4L136.6 175.9L137.1 179.5L137.6 175.9L138.1 178.5L138.6 174.3L139.1 177.9L139.6 173.4L140.1 177.2L140.6 171.8L141.1 175.4L141.6 171.6L142.1 176.4L142.6 170.7L143.1 176.3L143.6 171.5L144.1 173.5L144.7 170.4L145.2 172.8L145.7 169.8L146.2 173.9L146.7 168.9L147.2 173.8L147.7 167.5L148.2 173.1L148.7 167.7L149.3 171.6L149.8 166.9L150.3 172.0L150.8 167.1L151.3 169.3L151.8 166.8L152.3 171.1L152.8 167.2L153.2 168.7L153.7 164.1L154.2 168.0L154.7 163.4L155.2 166.0L155.7 160.4L156.2 165.0L156.7 159.9L157.2 165.5L157.6 159.7L158.1 162.9L158.6 159.4L159.1 163.8L159.6 158.2L160.1 162.7L160.6 157.7L161.1 161.4L161.6 155.9L162.0 159.1L162.5 154.7L163.0 157.5L163.5 153.8L164.0 156.8L164.5 153.3L165.0 157.1L165.5 151.5L166.0 156.6L166.5 151.5L167.1 156.2L167.6 151.9L168.1 156.2L168.6 152.6L169.1 156.1L169.6 152.1L170.1 156.0L170.6 150.7L171.1 154.7L171.6 150.2L172.1 153.0L172.7 148.6L173.2 151.1L173.7 147.9L174.2 152.0L174.7 147.4L175.2 150.0L175.7 146.0L176.2 150.3L176.7 146.4L177.2 149.4L177.7 146.7L178.3 150.1L178.8 147.0L179.3 150.6L179.8 145.6L180.3 148.8L180.8 145.7L181.4 149.0L181.9 146.0L182.4 148.9L182.9 145.8L183.4 150.0L183.9 146.3L184.4 150.0L185.0 147.1L185.5 151.0L186.0 146.4L186.5 149.8L187.0 146.7L187.5 150.6L188.0 145.4L188.5 151.0L189.1 146.0L189.6 151.1L190.1 146.9L190.6 151.3L191.1 146.3L191.6 150.8L192.1 148.5L192.6 150.9L193.2 147.7L193.7 152.3L194.2 148.3L194.7 151.6L195.2 147.1L195.7 152.1L196.2 149.6L196.7 152.9L197.3 148.7L197.8 152.4L198.3 147.3L198.8 151.7L199.3 148.1L199.8 153.2L200.4 147.4L200.9 152.2L201.4 146.4L201.9 150.5L202.4 147.4L202.9 151.1L203.5 146.1L204.0 150.8L204.5 146.6L205.0 150.7L205.5 147.4L206.1 150.7L206.6 145.5L207.1 150.4L207.6 145.8L208.1 148.9L208.6 142.8L209.1 149.4L209.6 144.8L210.1 149.0L210.6 145.6L211.1 152.1L211.6 145.7L212.1 149.0L212.6 145.0L213.1 148.9L213.6 144.8L214.1 148.2L214.6 143.7L215.1 147.5L215.6 143.8L216.1 146.0L216.7 142.4L217.2 146.8L217.7 142.4L218.2 146.9L218.7 144.1L219.2 148.3L219.7 142.9L220.2 146.7L220.7 142.9L221.2 149.3L221.7 143.6L222.2 148.4L222.7 143.4L223.3 148.8L223.8 144.4L224.3 148.5L224.8 143.6L225.3 148.1L225.8 144.7L226.4 148.8L226.9 143.8L227.4 148.2L227.9 144.2L228.4 149.6L228.9 146.6L229.5 149.6L230.0 147.5L230.5 149.8L231.0 145.5L231.5 149.8L232.0 145.7L232.5 150.3L233.0 145.4L233.5 149.1L234.0 144.2L234.5 149.1L235.1 144.5L235.6 149.8L236.1 142.6L236.6 148.6L237.1 142.8L237.6 147.4L238.1 142.7L238.6 145.8L239.1 140.8L239.6 144.2L240.1 141.2L240.6 145.1L241.1 140.9L241.6 144.0L242.1 139.6L242.6 144.5L243.1 140.4L243.7 145.4L244.2 139.9L244.7 143.1L245.2 137.7L245.7 143.2L246.2 139.2L246.7 143.5L247.2 139.0L247.7 143.8L248.2 140.5L248.7 142.8L249.3 138.3L249.8 142.0L250.3 138.4L250.8 141.7L251.3 137.0L251.8 139.9L252.3 135.1L252.8 140.8L253.3 136.8L253.8 140.3L254.4 136.1L254.9 141.0L255.4 137.2L255.9 141.2L256.4 136.2L256.9 141.1L257.4 137.1L258.0 140.9L258.5 136.0L259.0 141.5L259.5 137.3L260.1 141.2L260.6 136.6L261.1 141.6L261.6 136.3L262.2 140.5L262.7 135.6L263.2 140.3L263.8 137.0L264.3 141.5L264.8 137.4L265.3 141.8L265.8 136.9L266.3 141.6L266.8 136.2L267.3 141.7L267.8 136.9L268.4 143.3L268.9 135.5L269.4 142.0L269.9 136.2L270.4 140.9L270.9 135.9L271.4 139.9L271.9 136.1L272.5 139.6L273.0 134.8L273.5 138.2L274.0 134.7L274.5 139.7L275.0 136.4L275.6 139.3L276.1 135.9L276.6 141.6L277.1 137.1L277.6 140.1L278.2 136.2L278.7 141.3L279.2 137.3L279.7 141.4L280.2 136.8L280.8 142.4L281.3 138.9L281.8 142.2L282.3 139.6L282.9 141.9L283.4 137.3L283.9 142.7L284.4 138.8L284.9 143.0L285.5 138.6L286.0 141.7L286.5 137.7L287.0 142.3L287.5 139.2L288.1 142.7L288.6 138.0L289.1 141.3L289.6 136.5L290.2 141.5L290.6 137.0L291.1 140.7L291.6 136.2L292.1 140.4L292.6 136.1L293.1 138.5L293.6 133.7L294.1 137.8L294.6 133.9L295.0 137.8L295.5 132.6L296.0 137.0L296.5 130.8L297.0 135.3L297.5 131.1L298.1 134.8L298.6 131.0L299.1 137.2L299.6 131.8L300.2 136.9L300.7 131.4L301.2 136.0L301.7 131.3L302.3 134.2L302.8 130.1L303.3 132.6L303.8 128.7L304.4 131.2L304.9 128.8L305.4 133.1L305.9 128.8L306.4 133.4L306.9 129.3L307.4 131.8L308.0 128.9L308.5 132.7L309.0 129.6L309.5 135.1L310.0 131.4L310.5 135.8L311.1 131.1L311.6 136.3L312.1 130.8L312.6 136.6L313.1 132.2L313.6 134.4L314.1 130.8L314.7 135.4L315.2 132.2L315.7 136.4L316.2 133.4L316.7 137.5L317.2 133.8L317.7 137.4L318.3 132.5L318.8 137.4L319.3 134.0L319.8 138.1L320.3 133.4L320.8 138.7L321.3 135.5L321.9 140.6L322.4 134.8L322.9 140.2L323.4 135.5L323.9 140.6L324.5 134.3L325.0 138.6L325.5 135.2L326.1 138.9L326.6 135.5L327.1 138.9L327.6 134.0L328.2 138.6L328.7 134.1L329.2 138.5L329.8 135.0L330.3 139.0L330.8 135.8L331.3 140.8L331.9 134.5L332.4 138.0L332.9 132.2L333.4 138.3L333.9 134.0L334.4 137.4L334.9 133.1L335.4 135.8L335.9 130.8L336.4 133.7L336.9 130.9L337.4 135.2L338.0 130.8L338.5 134.6L339.0 130.3L339.5 135.3L340.0 130.2L340.5 134.8L341.0 130.4L341.5 135.4L342.0 131.3L342.5 135.1L343.1 132.1L343.6 135.5L344.1 131.8L344.6 135.7L345.1 133.0L345.6 137.1L346.2 132.6L346.7 137.3L347.2 133.6L347.7 137.1L348.2 133.0L348.7 139.2L349.2 135.2L349.8 140.7L350.3 137.1L350.8 140.1L351.3 136.0L351.8 141.2L352.3 137.2L352.9 141.3L353.4 136.5L353.9 142.3L354.4 137.5L355.0 143.3L355.5 137.6L356.0 142.4L356.5 139.2L357.0 142.4L357.6 137.2L358.1 142.4L358.6 139.4L359.1 144.6L359.7 138.4L360.2 142.0L360.7 137.6L361.3 141.7L361.8 137.9L362.3 140.9L362.9 138.5L363.4 141.7L363.9 137.8L364.5 141.3L365.0 136.2L365.5 140.8L366.0 135.8L366.6 141.7L367.1 135.5L367.6 141.6L368.1 138.9L368.6 143.4L369.2 138.0L369.7 143.7L370.2 139.3L370.7 143.4L371.3 140.3L371.8 144.9L372.3 140.6L372.8 144.6L373.3 139.0L373.8 145.5L374.3 140.0L374.8 143.9L375.3 138.2L375.8 142.6L376.4 138.2L376.9 143.7L377.4 137.8L377.9 141.6L378.4 138.1L378.9 144.5L379.4 138.6L379.9 143.0L380.4 139.0L380.9 143.1L381.4 139.0L381.9 141.9L382.4 137.9L382.9 142.9L383.5 140.2L384.0 143.4L384.5 139.5L385.0 142.4L385.5 139.3L386.0 143.9L386.5 137.8L387.0 142.5L387.5 138.3L388.0 142.6L388.5 138.0L389.0 143.0L389.6 138.2L390.1 142.3L390.6 137.9L391.1 142.2L391.6 139.0L392.1 143.3L392.6 138.5L393.1 144.1L393.6 138.2L394.2 143.6L394.7 138.9L395.2 143.5L395.7 138.9L396.2 146.4L396.7 140.2L397.2 144.4L397.7 139.9L398.2 142.8L398.7 139.1L399.2 142.8L399.7 140.1L400.2 142.5L400.7 138.9L401.2 142.7L401.7 139.6L402.2 143.6L402.7 139.7L403.2 143.5L403.7 137.8L404.2 143.0L404.7 139.0L405.2 142.8L405.7 137.6L406.2 143.2L406.7 138.3L407.2 141.9L407.7 135.4L408.2 143.2L408.7 136.5L409.2 140.4L409.7 137.8L410.2 141.8L410.7 137.2L411.2 142.1L411.7 136.3L412.2 141.3L412.8 137.6L413.3 141.2L413.8 135.9L414.3 141.4L414.8 135.6L415.3 139.1L415.8 136.5L416.3 139.8L416.8 134.9L417.3 138.4L417.9 134.1L418.4 138.5L418.9 132.4L419.4 138.5L419.9 134.7L420.4 138.9L420.9 134.0L421.4 137.4L421.9 133.3L422.4 137.7L423.0 133.6L423.5 138.6L424.0 134.2L424.5 138.7L425.0 134.1L425.6 138.8L426.1 135.2L426.6 139.3L427.1 135.0L427.6 140.4L428.2 135.3L428.7 140.5L429.2 137.2L429.7 141.1L430.2 136.7L430.8 140.9L431.3 137.7L431.8 141.3L432.3 137.6L432.8 140.2L433.3 137.0L433.8 142.8L434.3 137.0L434.8 140.4L435.3 136.5L435.9 141.0L436.4 135.6L436.9 139.3L437.4 135.6L437.9 141.5L438.4 134.1L438.9 138.6L439.4 133.6L439.9 139.9L440.4 134.1L440.9 138.0L441.4 131.7L441.9 137.2L442.4 133.4L443.0 137.9L443.5 133.2L444.0 138.1L444.5 133.5L445.0 137.8L445.5 133.1L446.0 136.9L446.5 129.9L447.0 136.4L447.5 131.3L448.0 136.3L448.6 129.5L449.1 133.5L449.6 130.1L450.1 134.3L450.6 129.1L451.1 134.4L451.6 128.3L452.1 132.4L452.6 129.2L453.1 133.1L453.7 129.2L454.2 132.5L454.7 129.2L455.2 132.5L455.7 128.6L456.2 132.8L456.7 127.6L457.2 131.1L457.8 127.3L458.3 131.2L458.8 127.6L459.3 131.9L459.8 127.3L460.4 131.4L460.9 127.6L461.4 130.6L461.9 126.5L462.5 131.8L463.0 127.8L463.5 131.6L464.0 127.1L464.5 130.1L465.1 126.9L465.6 131.0L466.1 127.6L466.6 131.2L467.1 126.7L467.6 131.2L468.1 126.7L468.7 132.3L469.2 129.2L469.7 132.3L470.2 126.9L470.7 133.6L471.2 126.6L471.7 133.4L472.3 128.4L472.8 134.1L473.3 130.6L473.8 135.1L474.3 130.3L474.8 135.6L475.3 130.8L475.9 134.1L476.4 129.0L476.9 132.6L477.4 128.0L477.9 131.5L478.4 126.6L478.9 130.8L479.4 126.8L479.9 131.0L480.4 126.4L481.0 130.7L481.5 126.4L482.0 129.8L482.5 125.9L483.0 129.6L483.5 124.8L484.0 128.7L484.5 125.5L485.0 129.3L485.5 125.3L486.1 130.6L486.6 126.5L487.1 130.8L487.6 124.5L488.1 130.5L488.6 124.9L489.1 131.5L489.6 127.2L490.1 130.6L490.6 127.7L491.2 132.0L491.7 127.3L492.2 131.4L492.7 126.3L493.2 131.4L493.7 126.7L494.2 131.7L494.7 128.1L495.2 131.7L495.7 127.8L496.3 132.4L496.8 129.0L497.3 132.7L497.8 127.6L498.3 132.9L498.8 128.1L499.3 132.0L499.8 128.9L500.4 132.3L500.9 129.2L501.4 134.6L501.9 130.2L502.4 135.2L502.9 131.7L503.5 135.1L504.0 131.5L504.5 136.6L505.0 132.5L505.5 136.7L506.0 133.6L506.5 139.4L507.1 134.6L507.6 139.0L508.1 135.2L508.6 138.4L509.1 134.8L509.6 138.0L510.1 132.8L510.6 136.5L511.1 132.6L511.6 138.0L512.1 133.8L512.6 136.9L513.1 130.5L513.7 136.8L514.2 132.2L514.7 136.8L515.2 131.6L515.7 135.0L516.2 131.9L516.7 135.7L517.2 130.9L517.7 134.2L518.2 131.8L518.7 136.7L519.2 129.1L519.7 136.1L520.2 130.4L520.8 135.3L521.3 129.9L521.8 135.0L522.3 131.5L522.8 135.8L523.3 130.7L523.8 134.8L524.3 131.1L524.8 135.8L525.4 130.2L525.9 134.4L526.4 130.6L526.9 134.9L527.4 131.3L527.9 136.5L528.4 131.7L528.9 136.0L529.5 132.0L530.0 135.7L530.5 132.3L531.0 135.6L531.5 132.7L532.0 136.4L532.5 133.2L533.1 136.9L533.6 131.9L534.1 134.9L534.6 132.1L535.1 136.6L535.6 131.6L536.2 136.4L536.7 132.0L537.2 136.7L537.7 131.0L538.2 138.0L538.7 133.9L539.3 136.2L539.8 134.0L540.3 138.8L540.8 132.4L541.3 136.9L541.8 132.7L542.3 136.3L542.8 132.4L543.4 137.2L543.9 133.2L544.4 136.3L544.9 131.4L545.4 135.1L545.9 130.3L546.4 135.6L546.9 129.8L547.4 133.3L547.9 130.0L548.4 134.5L548.9 128.8L549.4 133.5L549.9 129.6L550.5 133.4L551.0 128.4L551.5 132.0L552.0 127.6L552.5 132.1L553.0 127.8L553.5 131.5L554.0 127.8L554.5 132.3L555.0 129.1L555.5 131.6L556.0 127.7L556.6 130.6L557.1 128.6L557.6 132.8L558.1 128.3L558.6 132.1L559.1 127.7L559.6 131.5L560.1 127.1L560.7 131.0L561.2 127.4L561.7 130.5L562.2 127.2L562.7 131.7L563.2 127.8L563.7 131.9L564.2 128.9L564.8 131.7L565.3 128.7L565.8 132.3L566.3 128.8L566.8 130.8L567.4 127.2L567.9 130.7L568.4 127.0L569.0 130.3L569.5 126.0L570.0 130.7L570.5 124.2L571.1 129.6L571.6 125.1L572.1 127.8L572.6 123.3L573.1 127.9L573.7 124.1L574.2 129.0L574.7 125.1L575.2 128.9L575.7 126.1L576.2 129.8L576.7 125.8L577.3 130.7L577.8 127.0L578.3 132.7L578.8 124.9L579.3 130.9L579.8 124.9L580.3 128.9L580.9 124.3L581.4 129.4L581.9 127.4L582.4 132.2L582.9 127.6L583.5 132.7L584.0 127.4L584.5 131.0L585.0 127.0L585.5 134.5L586.1 128.7L586.6 133.5L587.1 127.5L587.6 132.3L588.1 128.3L588.7 132.4L589.2 128.5L589.7 132.9L590.2 129.2L590.7 131.8L591.3 126.7L591.8 134.1L592.3 128.5L592.8 133.2L593.3 128.3L593.9 131.9L594.4 128.2L594.9 132.0L595.4 126.2L595.9 130.8L596.4 126.1L597.0 131.0L597.5 125.8L598.0 131.3L598.5 126.2L599.0 131.3L599.5 126.6L600.0 129.5L600.5 126.1L601.0 129.4L601.4 123.5L601.9 126.7L602.4 122.5L602.9 126.4L603.4 122.0L603.9 125.3L604.4 121.2L604.9 125.7L605.4 119.0L605.9 123.0L606.4 119.4L606.9 123.1L607.4 117.0L607.9 122.3L608.4 118.5L609.0 121.4L609.5 118.9L610.0 122.5L610.5 118.4L611.0 121.8L611.5 117.9L612.0 122.3L612.6 118.6L613.1 122.1L613.6 118.0L614.1 122.6L614.6 117.4L615.1 120.7L615.7 117.4L616.2 121.3L616.7 118.1L617.2 121.7L617.7 118.0L618.2 122.2L618.7 118.3L619.3 122.3L619.8 117.5L620.3 121.6L620.8 118.2L621.3 121.6L621.8 119.2L622.3 121.8L622.9 117.7L623.4 121.9L623.9 117.0L624.4 122.0L624.9 118.3L625.4 121.4L625.9 117.8L626.4 122.5L626.9 118.9L627.4 124.2L627.9 122.1L628.3 126.4L628.8 122.2L629.3 126.0L629.8 123.3L630.3 127.3L630.8 124.7L631.3 129.6L631.8 126.2L632.3 130.2L632.8 127.5L633.3 130.5L633.8 127.2L634.3 131.2L634.8 125.5L635.3 130.5L635.9 125.3L636.4 129.4L636.9 125.2L637.4 129.4L637.9 126.7L638.4 129.6L638.9 126.1L639.4 131.0L640.0 126.4L640.5 128.8L641.0 124.6L641.5 130.4L642.0 123.9L642.5 127.7L643.0 125.5L643.5 128.3L644.1 125.7L644.6 129.5L645.1 125.5L645.6 129.6L646.1 124.8L646.6 132.0L647.2 128.0L647.7 131.1L648.2 128.6L648.7 132.8L649.2 128.8L649.7 132.8L650.2 128.7L650.8 132.8L651.3 128.4L651.8 133.5L652.3 127.9L652.8 132.6L653.3 129.2L653.8 133.0L654.3 127.6L654.7 132.3L655.2 125.3L655.7 130.0L656.2 126.6L656.7 130.4L657.2 125.1L657.7 128.7L658.2 124.3L658.7 129.0L659.1 125.0L659.6 128.4L660.1 122.9L660.6 128.2L661.1 123.2L661.6 128.7L662.1 123.3L662.6 127.5L663.1 122.3L663.5 125.6L664.0 122.0L664.5 125.8L665.0 120.4L665.5 124.1L666.0 119.5L666.5 124.7L667.1 120.5L667.6 124.5L668.1 119.8L668.7 124.0L669.2 120.0L669.7 124.9L670.3 120.5L670.8 125.0L671.3 120.3L671.9 125.9L672.3 119.7L672.8 123.5L673.3 118.0L673.8 121.5L674.3 118.2L674.8 121.3L675.3 114.6L675.8 119.4L676.3 116.2L676.7 119.5L677.2 114.4L677.7 118.2L678.2 114.7L678.7 118.8" fill="none" stroke="#f00" stroke-width="2.8" stroke-linejoin="round"/>
<path d="M124.2 184.1L130.8 177.5L137.4 184.1L130.8 190.7Z" fill="none" stroke="#f00" stroke-width="2.3"/><path d="M157.6 155.6L164.2 149.0L170.8 155.6L164.2 162.2Z" fill="none" stroke="#f00" stroke-width="2.3"/><path d="M191.0 150.7L197.6 144.1L204.2 150.7L197.6 157.3Z" fill="none" stroke="#f00" stroke-width="2.3"/><path d="M224.4 148.7L231.0 142.1L237.6 148.7L231.0 155.3Z" fill="none" stroke="#f00" stroke-width="2.3"/><path d="M257.8 139.9L264.4 133.3L271.0 139.9L264.4 146.5Z" fill="none" stroke="#f00" stroke-width="2.3"/><path d="M291.2 133.0L297.8 126.4L304.4 133.0L297.8 139.6Z" fill="none" stroke="#f00" stroke-width="2.3"/><path d="M324.6 137.0L331.2 130.4L337.8 137.0L331.2 143.6Z" fill="none" stroke="#f00" stroke-width="2.3"/><path d="M358.0 139.2L364.6 132.6L371.2 139.2L364.6 145.8Z" fill="none" stroke="#f00" stroke-width="2.3"/><path d="M391.4 142.0L398.0 135.4L404.6 142.0L398.0 148.6Z" fill="none" stroke="#f00" stroke-width="2.3"/><path d="M424.8 138.6L431.4 132.0L438.0 138.6L431.4 145.2Z" fill="none" stroke="#f00" stroke-width="2.3"/><path d="M458.2 128.0L464.8 121.4L471.4 128.0L464.8 134.6Z" fill="none" stroke="#f00" stroke-width="2.3"/><path d="M491.6 130.2L498.2 123.6L504.8 130.2L498.2 136.8Z" fill="none" stroke="#f00" stroke-width="2.3"/><path d="M525.0 133.7L531.6 127.1L538.2 133.7L531.6 140.3Z" fill="none" stroke="#f00" stroke-width="2.3"/><path d="M558.4 130.8L565.0 124.2L571.6 130.8L565.0 137.4Z" fill="none" stroke="#f00" stroke-width="2.3"/><path d="M591.8 129.9L598.4 123.3L605.0 129.9L598.4 136.5Z" fill="none" stroke="#f00" stroke-width="2.3"/><path d="M625.2 128.9L631.8 122.3L638.4 128.9L631.8 135.5Z" fill="none" stroke="#f00" stroke-width="2.3"/><path d="M658.6 121.7L665.2 115.1L671.8 121.7L665.2 128.3Z" fill="none" stroke="#f00" stroke-width="2.3"/>
<path d="M129.8 304.6L130.3 311.8L130.8 303.7L131.2 312.5L131.7 302.8L132.2 310.4L132.7 302.9L133.2 310.1L133.7 303.7L134.2 309.5L134.7 302.1L135.2 307.0L135.7 299.5L136.3 305.6L136.8 295.7L137.3 306.8L137.9 299.1L138.4 305.1L138.9 297.1L139.5 304.6L140.0 296.6L140.5 304.8L141.0 298.6L141.4 306.9L141.9 301.9L142.3 309.5L142.8 301.9L143.2 312.0L143.6 302.2L144.1 311.9L144.5 305.8L145.0 314.1L145.4 308.8L146.0 314.8L146.5 309.0L147.0 319.1L147.6 308.8L148.1 316.8L148.6 309.2L149.2 315.7L149.7 308.8L150.2 315.0L150.8 307.4L151.3 313.7L151.8 308.0L152.4 313.6L152.9 308.3L153.5 315.6L154.0 306.3L154.6 315.0L155.1 306.4L155.6 314.6L156.2 304.8L156.6 314.9L157.1 307.6L157.5 317.1L158.0 309.2L158.4 317.4L158.8 309.8L159.3 319.2L159.7 311.0L160.2 318.3L160.6 313.0L161.1 319.5L161.6 315.7L162.0 323.8L162.5 317.1L163.0 327.8L163.5 318.4L164.0 326.6L164.5 320.3L165.0 332.0L165.5 321.3L166.0 327.6L166.5 323.9L166.9 330.6L167.4 321.4L167.8 329.2L168.3 320.3L168.7 326.5L169.2 315.6L169.6 322.7L170.1 316.3L170.5 323.7L170.9 315.0L171.4 322.9L171.8 312.1L172.2 319.8L172.6 310.5L173.1 316.4L173.5 307.1L173.9 313.8L174.3 307.0L174.7 313.6L175.1 305.4L175.5 312.1L175.9 301.6L176.3 308.0L176.7 299.7L177.2 305.2L177.7 295.7L178.2 306.2L178.7 298.2L179.2 306.7L179.7 298.8L180.1 306.0L180.6 299.2L181.1 304.8L181.6 297.0L182.1 303.5L182.6 295.9L183.1 306.2L183.7 295.4L184.2 302.0L184.8 295.7L185.3 302.1L185.8 293.5L186.4 299.3L186.9 291.9L187.5 298.7L188.0 292.9L188.5 300.0L188.9 293.6L189.4 299.9L189.9 295.7L190.4 302.9L190.9 298.6L191.4 304.5L191.9 297.9L192.4 306.7L192.9 298.4L193.3 307.7L193.8 298.9L194.3 306.3L194.8 299.5L195.3 309.6L195.8 301.7L196.3 311.7L196.8 305.7L197.3 311.6L197.7 305.1L198.2 313.0L198.7 306.3L199.2 313.4L199.7 304.6L200.2 314.2L200.7 307.4L201.2 315.7L201.7 306.1L202.1 315.2L202.6 309.4L203.1 315.5L203.6 311.2L204.1 316.3L204.6 310.5L205.1 319.2L205.6 312.9L206.1 322.0L206.6 313.4L207.1 320.4L207.6 314.1L208.1 321.4L208.6 314.2L209.1 321.7L209.7 315.0L210.2 322.1L210.7 316.0L211.2 322.8L211.7 315.2L212.2 322.9L212.7 316.6L213.3 321.3L213.8 313.5L214.3 321.1L214.8 310.9L215.3 317.4L215.8 312.9L216.3 318.1L216.8 312.8L217.3 319.3L217.8 313.4L218.3 319.8L218.8 312.1L219.3 319.3L219.7 314.2L220.2 320.2L220.7 314.5L221.1 322.1L221.6 315.4L222.0 326.7L222.4 319.6L222.8 328.1L223.2 321.2L223.7 329.7L224.1 322.4L224.5 329.5L224.9 325.0L225.3 332.4L225.8 326.9L226.2 335.4L226.6 328.9L227.1 337.3L227.6 331.2L228.1 339.8L228.5 332.7L229.0 339.1L229.5 333.5L230.0 342.1L230.5 333.7L231.0 348.9L231.5 339.3L232.0 350.2L232.5 334.8L232.9 345.0L233.4 337.1L233.9 345.9L234.4 338.9L234.9 347.2L235.4 338.4L235.9 345.3L236.4 340.2L236.9 347.5L237.3 340.4L237.8 347.7L238.3 340.7L238.8 346.8L239.3 339.8L239.8 344.4L240.3 335.6L240.8 343.5L241.3 338.2L241.7 342.0L242.2 333.0L242.7 342.7L243.2 334.3L243.7 340.8L244.2 332.2L244.7 344.4L245.2 332.7L245.7 339.9L246.1 329.6L246.6 337.6L247.1 329.7L247.6 337.4L248.1 327.8L248.6 334.3L249.1 326.3L249.6 333.6L250.1 325.5L250.5 332.8L251.0 323.8L251.5 329.7L252.0 323.8L252.5 329.7L253.0 322.2L253.5 329.9L254.0 319.3L254.5 326.4L255.0 322.1L255.4 329.9L255.9 317.6L256.4 328.8L256.9 319.1L257.4 324.5L257.9 316.9L258.4 327.1L258.9 316.7L259.4 322.1L259.8 313.4L260.3 318.2L260.8 310.7L261.3 317.2L261.8 310.2L262.3 318.3L262.8 310.9L263.3 315.2L263.8 308.4L264.2 314.8L264.7 309.1L265.2 315.7L265.7 308.2L266.2 315.0L266.7 308.9L267.2 317.1L267.7 308.8L268.2 317.7L268.6 310.8L269.1 317.5L269.6 311.6L270.1 321.1L270.6 315.7L271.1 324.2L271.6 312.8L272.1 322.5L272.6 318.0L273.0 323.9L273.5 317.4L274.0 325.2L274.5 319.6L275.0 327.5L275.5 318.6L276.0 327.2L276.5 318.2L277.0 327.4L277.4 321.5L277.9 331.1L278.4 323.6L278.9 330.5L279.4 323.2L279.9 328.6L280.4 322.5L280.9 330.4L281.4 321.5L281.8 331.3L282.3 322.5L282.8 327.9L283.3 317.6L283.8 325.3L284.3 315.3L284.8 322.6L285.3 314.3L285.8 323.6L286.2 312.7L286.7 320.7L287.2 313.4L287.7 320.5L288.1 313.3L288.6 319.9L289.0 311.3L289.5 319.0L290.0 308.3L290.4 316.0L290.9 306.3L291.3 314.1L291.8 308.1L292.2 314.5L292.7 305.0L293.2 312.2L293.6 305.1L294.1 311.9L294.6 305.6L295.0 313.8L295.5 305.5L296.0 313.2L296.5 306.4L297.0 312.2L297.5 306.2L298.0 314.8L298.5 307.8L299.0 315.6L299.4 310.7L299.9 317.4L300.4 310.2L300.9 316.4L301.4 308.7L301.9 317.5L302.4 308.9L302.9 314.9L303.4 307.8L303.8 312.9L304.3 305.6L304.8 311.4L305.3 303.3L305.8 309.5L306.3 302.3L306.8 308.8L307.3 300.5L307.8 308.8L308.3 298.3L308.8 307.1L309.3 302.7L309.8 310.2L310.4 301.9L310.9 309.4L311.4 300.8L311.9 307.3L312.5 300.1L313.0 307.2L313.5 297.6L314.0 307.5L314.5 299.9L315.1 306.8L315.6 296.5L316.1 302.3L316.6 299.1L317.0 305.0L317.5 298.0L318.0 302.9L318.5 294.5L319.0 303.6L319.5 296.3L320.0 302.8L320.5 295.0L321.0 302.7L321.4 295.6L321.7 298.6L322.0 290.6L322.2 295.7L322.5 290.0L322.8 294.6L323.0 286.4L323.3 293.7L323.5 285.0L323.8 290.8L324.1 280.9L324.3 286.0L324.6 276.9L324.8 282.7L325.1 275.4L325.4 280.4L325.8 271.9L326.3 279.7L326.8 270.2L327.3 274.9L327.8 269.8L328.3 276.3L328.8 266.8L329.3 271.0L329.8 265.8L330.2 270.9L330.7 265.4L331.2 274.4L331.7 267.0L332.2 276.8L332.7 270.0L333.2 277.3L333.7 270.0L334.2 276.7L334.6 269.7L335.1 276.8L335.5 271.9L335.9 281.0L336.3 271.2L336.7 282.6L337.1 276.9L337.5 287.2L337.9 280.9L338.3 286.8L338.7 283.8L339.0 292.9L339.4 285.2L339.8 295.4L340.2 286.9L340.6 293.9L341.0 287.8L341.5 296.6L342.1 289.5L342.6 297.9L343.1 290.4L343.7 294.1L344.2 290.7L344.7 295.6L345.3 290.8L345.8 298.0L346.3 292.6L346.9 298.1L347.4 290.9L347.9 298.9L348.3 291.3L348.8 300.2L349.3 292.3L349.8 299.0L350.3 290.4L350.8 300.9L351.3 293.9L351.8 300.5L352.3 293.3L352.7 301.8L353.2 292.9L353.7 302.0L354.2 295.7L354.7 303.3L355.2 298.3L355.6 305.9L356.1 297.6L356.6 310.3L357.0 301.3L357.5 309.8L358.0 301.6L358.4 309.9L358.9 303.5L359.4 313.2L359.8 305.6L360.3 313.9L360.7 310.4L361.2 315.9L361.7 309.2L362.1 320.3L362.6 311.0L363.1 320.2L363.5 310.3L364.0 317.5L364.5 312.4L365.0 320.2L365.5 314.3L365.9 322.2L366.4 312.1L366.9 320.8L367.4 313.7L367.9 318.2L368.4 313.4L368.9 319.5L369.4 307.9L369.9 318.3L370.3 305.8L370.8 317.4L371.3 309.0L371.8 315.1L372.3 305.3L372.8 314.7L373.3 307.4L373.9 313.1L374.4 308.4L374.9 316.6L375.4 308.0L375.9 317.2L376.5 309.6L377.0 318.3L377.5 311.6L378.0 317.0L378.6 306.4L379.1 316.7L379.6 309.8L380.1 321.1L380.6 310.3L381.1 319.0L381.6 310.4L382.1 319.2L382.6 313.1L383.1 319.2L383.5 314.8L384.0 320.6L384.5 314.2L385.0 321.8L385.5 311.5L386.0 320.5L386.5 316.7L387.0 324.2L387.5 318.0L387.9 324.6L388.5 315.8L389.0 324.9L389.5 316.2L390.1 325.0L390.6 318.4L391.1 327.2L391.7 319.1L392.2 327.3L392.7 320.0L393.3 327.1L393.8 321.4L394.2 326.5L394.7 318.9L395.1 323.7L395.6 316.9L396.0 321.0L396.4 313.2L396.9 319.3L397.3 309.7L397.7 318.2L398.2 309.3L398.6 316.8L399.0 308.5L399.5 315.4L399.9 305.7L400.3 313.4L400.8 304.5L401.2 312.5L401.6 301.2L402.2 309.1L402.7 302.4L403.2 308.6L403.8 300.9L404.3 308.5L404.8 300.1L405.3 306.6L405.9 301.5L406.4 307.5L407.0 299.9L407.5 308.3L408.0 301.2L408.5 311.1L409.0 302.5L409.5 311.0L410.0 304.4L410.6 312.4L411.1 306.1L411.6 314.3L412.1 306.6L412.6 315.2L413.1 307.3L413.6 313.0L414.1 309.4L414.6 315.3L415.1 309.2L415.6 318.4L416.1 308.3L416.6 316.0L417.1 309.4L417.6 318.3L418.1 308.8L418.6 315.3L419.1 304.5L419.6 312.0L420.0 305.4L420.5 314.3L421.0 304.4L421.5 310.6L422.0 300.3L422.5 305.4L423.0 297.2L423.5 304.9L424.0 296.9L424.4 305.5L424.9 299.3L425.4 305.1L425.9 297.5L426.4 302.1L426.9 295.3L427.4 305.2L427.9 295.4L428.4 305.8L428.8 300.3L429.3 308.6L429.8 300.5L430.3 305.9L430.8 298.9L431.3 305.3L431.8 301.0L432.3 307.6L432.8 302.4L433.2 310.7L433.7 303.5L434.2 308.6L434.7 304.4L435.2 311.2L435.7 304.4L436.2 311.5L436.7 303.4L437.2 312.9L437.7 304.7L438.2 310.6L438.7 303.7L439.2 311.7L439.7 304.6L440.2 313.3L440.7 303.6L441.2 312.8L441.7 304.4L442.2 310.1L442.7 302.6L443.2 310.1L443.8 302.6L444.3 307.9L444.8 301.4L445.3 309.7L445.8 301.3L446.3 308.2L446.8 299.1L447.3 306.9L447.8 301.4L448.3 310.8L448.8 303.1L449.3 309.1L449.8 299.5L450.3 306.0L450.9 298.7L451.4 305.9L451.9 298.0L452.4 307.3L452.9 299.7L453.4 306.1L453.9 297.3L454.4 304.4L454.9 299.1L455.4 304.5L455.9 294.0L456.4 306.0L456.9 296.2L457.4 303.6L457.9 297.7L458.5 304.9L459.0 296.4L459.5 307.2L460.0 297.3L460.5 306.7L461.0 299.0L461.5 306.3L462.0 298.6L462.5 305.5L463.0 298.9L463.5 306.1L464.0 297.4L464.5 305.0L465.0 297.6L465.5 305.4L466.0 299.0L466.5 309.0L467.0 302.5L467.5 307.9L468.0 302.2L468.5 308.9L468.9 298.8L469.4 309.7L469.9 303.3L470.4 310.0L470.9 301.5L471.4 310.8L471.9 304.7L472.4 312.9L472.9 306.3L473.3 313.8L473.8 307.4L474.3 314.5L474.8 306.1L475.3 316.1L475.8 310.4L476.3 314.9L476.8 308.3L477.3 315.4L477.7 306.9L478.2 314.2L478.7 305.0L479.2 310.8L479.7 303.6L480.2 309.0L480.7 301.8L481.2 308.8L481.7 299.5L482.1 307.3L482.6 301.1L483.1 306.8L483.6 298.6L484.1 305.2L484.6 296.5L485.2 306.5L485.7 297.5L486.2 306.8L486.8 296.6L487.3 308.2L487.8 301.1L488.4 308.8L488.9 300.4L489.4 309.2L490.0 300.4L490.5 307.1L490.9 300.0L491.4 308.4L491.9 300.3L492.4 310.1L492.9 302.4L493.4 312.0L493.9 303.1L494.4 312.2L494.9 304.0L495.3 315.2L495.8 306.7L496.3 314.8L496.8 308.4L497.3 312.0L497.7 302.9L498.1 310.7L498.6 304.9L499.0 308.5L499.5 301.9L499.9 305.7L500.4 299.0L500.8 309.4L501.3 301.0L501.7 307.8L502.1 300.0L502.6 306.5L503.0 295.9L503.5 303.2L503.9 292.6L504.4 299.6L504.8 292.7L505.3 295.7L505.7 289.0L506.1 296.0L506.6 289.2L507.1 298.8L507.6 290.2L508.1 299.0L508.5 291.7L509.0 300.2L509.5 293.1L510.0 299.8L510.5 295.2L511.0 302.7L511.5 293.8L512.0 301.8L512.5 295.1L512.9 304.2L513.4 298.5L513.9 305.3L514.5 296.1L515.0 301.8L515.5 294.3L516.0 302.3L516.5 293.6L517.0 301.4L517.5 293.3L518.0 301.6L518.5 295.2L519.0 301.1L519.6 294.2L520.1 300.8L520.6 294.5L521.1 303.0L521.6 293.3L522.1 301.9L522.6 294.6L523.1 301.9L523.6 292.8L524.2 300.5L524.7 294.3L525.2 301.7L525.7 294.7L526.1 304.1L526.6 294.5L527.1 304.7L527.6 297.7L528.1 306.1L528.6 299.1L529.1 308.8L529.6 299.3L530.1 309.5L530.5 302.1L531.0 308.3L531.5 302.6L532.0 308.1L532.5 301.6L533.0 312.0L533.5 302.8L534.0 310.6L534.5 304.1L535.0 312.2L535.4 304.3L535.9 313.4L536.4 301.9L536.9 308.6L537.4 304.1L537.9 310.0L538.4 299.9L538.9 308.1L539.4 302.8L539.8 308.0L540.3 298.8L540.8 305.3L541.3 298.2L541.8 305.2L542.3 296.9L542.8 302.6L543.3 295.7L543.8 303.8L544.2 296.9L544.7 305.0L545.2 295.8L545.7 304.0L546.2 293.7L546.7 300.5L547.2 292.9L547.7 299.0L548.2 291.8L548.6 297.9L549.1 290.2L549.6 299.5L550.1 292.0L550.6 295.3L551.1 288.9L551.6 294.2L552.1 289.7L552.6 295.8L553.0 286.8L553.5 293.4L554.0 288.1L554.5 293.7L555.0 285.4L555.6 292.8L556.1 287.1L556.6 292.4L557.1 284.7L557.6 295.7L558.2 290.2L558.7 297.5L559.2 289.8L559.7 298.7L560.2 288.7L560.8 297.7L561.3 290.7L561.8 296.4L562.3 287.2L562.8 294.9L563.3 286.4L563.8 289.7L564.3 284.2L564.8 290.3L565.3 281.5L565.8 289.6L566.2 280.5L566.7 287.4L567.2 278.7L567.7 285.2L568.2 277.8L568.7 287.6L569.2 277.7L569.7 285.6L570.2 275.4L570.6 281.7L571.1 272.7L571.7 281.5L572.2 274.0L572.7 284.2L573.2 277.5L573.7 284.1L574.2 277.1L574.8 283.3L575.3 277.5L575.8 285.1L576.3 280.6L576.8 286.6L577.3 280.2L577.9 289.3L578.4 281.6L578.9 290.0L579.4 283.5L579.9 293.8L580.4 281.8L581.0 290.0L581.5 282.6L582.0 288.7L582.5 283.5L583.0 288.1L583.5 280.2L584.1 287.6L584.6 280.7L585.1 293.9L585.6 282.7L586.1 288.7L586.6 281.7L587.1 290.7L587.7 287.2L588.2 292.6L588.7 283.4L589.2 292.9L589.7 285.9L590.2 293.8L590.6 284.5L591.1 293.7L591.6 288.2L592.0 296.3L592.5 291.3L592.9 303.4L593.4 293.0L593.9 302.0L594.3 294.0L594.8 302.0L595.2 295.1L595.7 305.6L596.2 297.1L596.6 305.9L597.1 298.8L597.5 305.4L598.0 299.0L598.5 304.5L599.1 297.3L599.6 307.8L600.1 297.6L600.6 306.1L601.1 298.1L601.6 305.6L602.1 295.3L602.6 305.2L603.1 297.7L603.6 307.8L604.1 302.5L604.6 307.3L605.1 301.8L605.6 307.8L606.2 300.8L606.7 306.4L607.2 299.1L607.7 304.7L608.2 297.6L608.7 307.1L609.2 298.9L609.7 308.1L610.2 301.0L610.7 306.6L611.2 297.8L611.7 307.4L612.2 298.8L612.6 305.8L613.1 296.8L613.6 301.5L614.1 292.7L614.5 301.2L615.0 293.2L615.5 300.7L615.9 294.6L616.4 301.4L616.9 294.3L617.3 302.8L617.8 294.6L618.3 299.1L618.8 291.7L619.2 297.7L619.7 289.2L620.2 295.1L620.6 288.4L621.1 293.0L621.6 282.4L622.1 293.0L622.5 282.0L623.0 290.0L623.5 282.2L623.9 291.7L624.4 285.5L624.9 294.1L625.4 286.0L625.9 294.9L626.4 289.2L626.9 294.9L627.4 286.4L627.9 295.4L628.3 288.8L628.8 297.1L629.3 290.8L629.8 296.1L630.3 292.3L630.8 298.4L631.3 294.0L631.8 302.6L632.3 294.2L632.7 303.3L633.2 294.9L633.7 300.0L634.2 292.4L634.7 301.7L635.2 291.4L635.7 297.9L636.2 290.0L636.7 296.9L637.1 289.3L637.6 297.3L638.1 287.0L638.6 296.0L639.1 287.8L639.6 295.0L640.1 286.6L640.6 294.3L641.1 286.8L641.5 293.3L642.0 286.1L642.5 290.1L643.0 279.7L643.5 290.4L644.0 283.8L644.6 291.8L645.1 280.8L645.6 287.3L646.1 280.1L646.6 289.0L647.1 279.6L647.6 287.6L648.1 281.4L648.6 289.1L649.2 280.6L649.7 289.5L650.2 280.3L650.7 287.8L651.2 279.7L651.7 288.3L652.2 280.7L652.7 288.2L653.2 280.2L653.7 286.6L654.3 279.8L654.8 287.7L655.3 277.6L655.9 288.8L656.4 279.1L656.9 288.0L657.5 278.4L658.0 286.3L658.5 279.2L659.1 283.9L659.6 276.6L660.1 283.9L660.6 277.5L661.1 285.5L661.6 278.4L662.1 286.4L662.6 279.2L663.1 284.9L663.5 281.6L664.0 288.3L664.5 281.9L665.0 290.5L665.5 282.2L666.0 293.3L666.5 286.3L667.0 293.4L667.5 286.4L667.9 296.8L668.4 287.2L668.9 295.1L669.4 290.0L669.9 295.7L670.4 288.0L670.9 296.5L671.4 290.8L671.9 300.2L672.3 289.3L672.8 297.4L673.3 290.6L673.8 297.9L674.3 289.6L674.8 298.9L675.3 291.2L675.8 301.0L676.3 294.5L676.7 299.3L677.2 293.7L677.7 300.5" fill="none" stroke="#f00" stroke-width="2.6" stroke-linejoin="round"/>
<rect x="124.5" y="75.2" width="600.9" height="534.8" fill="none" stroke="#000" stroke-width="3.7"/>
<text x="124.5" y="640.4" font-family='"Liberation Sans", sans-serif' font-size="33.7" text-anchor="middle">0</text>
<text x="258.0" y="640.4" font-family='"Liberation Sans", sans-serif' font-size="33.7" text-anchor="middle">20</text>
<text x="391.6" y="640.4" font-family='"Liberation Sans", sans-serif' font-size="33.7" text-anchor="middle">40</text>
<text x="525.1" y="640.4" font-family='"Liberation Sans", sans-serif' font-size="33.7" text-anchor="middle">60</text>
<text x="658.6" y="640.4" font-family='"Liberation Sans", sans-serif' font-size="33.7" text-anchor="middle">80</text>
<text x="118.0" y="621.9" font-family='"Liberation Sans", sans-serif' font-size="33.7" text-anchor="end">0.1</text>
<text x="118.0" y="488.2" font-family='"Liberation Sans", sans-serif' font-size="33.7" text-anchor="end">0.2</text>
<text x="118.0" y="354.5" font-family='"Liberation Sans", sans-serif' font-size="33.7" text-anchor="end">0.3</text>
<text x="118.0" y="220.8" font-family='"Liberation Sans", sans-serif' font-size="33.7" text-anchor="end">0.4</text>
<text x="118.0" y="87.1" font-family='"Liberation Sans", sans-serif' font-size="33.7" text-anchor="end">0.5</text>
<text x="424.9" y="675.6" font-family='"Liberation Sans", sans-serif' font-size="37.2" text-anchor="middle">Time (ps)</text>
<text transform="translate(48.7 342.6) rotate(-90)" font-family='"Liberation Sans", sans-serif' font-size="37.2" text-anchor="middle">q<tspan font-size="26.4" dy="16">tet</tspan><tspan dy="-16">, q</tspan><tspan font-size="26.4" dy="16">hex</tspan></text>
</g>
<g id="panel-b">
<path d="M987.3 598.3v-7.0M987.3 70.1v7.0M1053.3 598.3v-13.0M1053.3 70.1v13.0M1119.2 598.3v-7.0M1119.2 70.1v7.0M1185.1 598.3v-13.0M1185.1 70.1v13.0M1251.1 598.3v-7.0M1251.1 70.1v7.0M1317.0 598.3v-13.0M1317.0 70.1v13.0M1382.9 598.3v-7.0M1382.9 70.1v7.0M1448.9 598.3v-13.0M1448.9 70.1v13.0M921.4 545.5h7.0M1514.8 545.5h-7.0M921.4 492.7h13.0M1514.8 492.7h-13.0M921.4 439.8h7.0M1514.8 439.8h-7.0M921.4 387.0h13.0M1514.8 387.0h-13.0M921.4 334.2h7.0M1514.8 334.2h-7.0M921.4 281.4h13.0M1514.8 281.4h-13.0M921.4 228.6h7.0M1514.8 228.6h-7.0M921.4 175.7h13.0M1514.8 175.7h-13.0M921.4 122.9h7.0M1514.8 122.9h-7.0" stroke="#000" stroke-width="1.7" fill="none"/>
<path d="M929.7 193.5L930.1 195.9L930.6 192.4L931.1 193.0L931.5 191.0L932.0 191.8L932.4 188.9L932.9 191.6L933.4 188.1L933.8 189.4L934.3 186.0L934.8 187.1L935.2 184.3L935.7 185.7L936.2 182.2L936.6 184.3L937.1 180.8L937.5 182.1L938.0 179.3L938.5 180.9L939.0 179.0L939.4 180.2L939.9 176.9L940.4 179.2L940.9 176.5L941.4 177.5L941.9 175.1L942.4 175.9L942.9 174.0L943.4 175.3L943.8 173.1L944.3 174.7L944.8 172.0L945.3 173.1L945.8 170.2L946.3 172.2L946.8 169.4L947.3 170.7L947.8 168.5L948.2 170.1L948.8 167.6L949.3 169.8L949.8 167.4L950.3 169.3L950.8 167.2L951.3 168.8L951.8 167.0L952.3 169.1L952.8 166.8L953.3 169.4L953.9 166.8L954.4 169.2L954.9 166.3L955.4 168.5L955.9 166.2L956.4 167.5L956.9 166.4L957.4 168.2L957.9 166.0L958.4 168.7L959.0 166.3L959.5 167.8L960.0 165.8L960.5 168.5L961.0 166.0L961.5 168.2L962.0 165.5L962.5 168.0L963.0 166.0L963.5 167.5L964.0 165.2L964.5 166.2L965.0 163.7L965.5 165.5L966.1 163.0L966.6 164.9L967.1 162.9L967.6 164.3L968.1 162.0L968.6 163.5L969.1 161.2L969.6 162.3L970.1 160.1L970.6 162.2L971.1 159.8L971.6 160.9L972.1 159.0L972.6 160.5L973.1 158.2L973.6 159.5L974.1 156.7L974.6 158.9L975.1 156.6L975.6 158.0L976.1 156.3L976.7 158.4L977.2 154.8L977.7 157.9L978.2 155.5L978.7 158.1L979.2 155.8L979.7 158.0L980.3 155.9L980.8 158.0L981.3 156.6L981.8 159.1L982.3 156.2L982.8 158.7L983.4 156.6L983.9 158.3L984.4 156.7L984.9 158.4L985.4 156.4L985.9 158.1L986.4 155.8L987.0 158.4L987.5 155.3L988.0 157.2L988.5 154.6L989.0 156.7L989.5 154.6L990.0 156.1L990.6 153.9L991.1 155.5L991.6 153.4L992.1 155.8L992.6 152.9L993.1 155.0L993.6 152.9L994.2 155.0L994.7 153.5L995.2 154.9L995.7 152.7L996.2 154.1L996.8 152.4L997.3 154.2L997.8 152.1L998.3 153.9L998.8 152.5L999.4 153.8L999.9 151.6L1000.4 152.8L1000.9 151.1L1001.4 152.9L1002.0 151.3L1002.5 153.6L1003.0 151.4L1003.5 153.4L1004.0 151.7L1004.6 154.1L1005.1 151.9L1005.6 154.1L1006.1 152.4L1006.6 154.6L1007.1 151.5L1007.6 154.3L1008.2 151.9L1008.7 154.1L1009.2 153.0L1009.7 154.6L1010.2 152.6L1010.7 155.6L1011.2 153.6L1011.8 156.0L1012.3 153.9L1012.8 157.2L1013.3 153.6L1013.8 156.1L1014.3 153.5L1014.9 155.2L1015.4 152.9L1015.9 154.7L1016.4 152.9L1016.9 153.9L1017.4 151.9L1018.0 153.7L1018.5 151.8L1019.0 153.2L1019.5 150.8L1020.0 152.7L1020.6 150.7L1021.1 153.1L1021.6 150.2L1022.1 152.4L1022.6 150.0L1023.2 152.8L1023.7 150.6L1024.2 152.2L1024.8 148.7L1025.3 151.7L1025.8 150.0L1026.3 150.9L1026.9 149.1L1027.4 151.3L1027.9 149.3L1028.4 150.8L1029.0 149.6L1029.5 153.0L1030.0 150.1L1030.5 152.5L1031.0 150.5L1031.5 152.2L1032.0 150.3L1032.6 152.4L1033.1 151.1L1033.6 152.6L1034.1 151.4L1034.6 153.9L1035.1 151.7L1035.6 153.9L1036.2 152.0L1036.7 154.2L1037.2 151.4L1037.7 155.1L1038.2 152.9L1038.7 155.1L1039.2 152.5L1039.7 155.4L1040.3 152.9L1040.8 155.1L1041.3 153.3L1041.8 155.2L1042.3 153.2L1042.8 155.1L1043.3 152.5L1043.8 154.7L1044.3 152.9L1044.8 154.9L1045.4 151.7L1045.9 156.1L1046.4 152.8L1046.9 154.8L1047.4 152.4L1047.9 154.9L1048.4 153.2L1048.9 155.1L1049.4 153.0L1050.0 155.5L1050.5 153.3L1051.0 154.7L1051.5 152.4L1052.0 154.0L1052.5 151.7L1053.0 153.7L1053.6 151.7L1054.1 153.3L1054.6 151.2L1055.1 153.3L1055.6 151.2L1056.1 153.0L1056.7 151.0L1057.2 153.4L1057.7 151.0L1058.2 152.7L1058.7 150.8L1059.2 153.1L1059.7 150.4L1060.3 152.5L1060.8 150.0L1061.3 152.4L1061.8 149.9L1062.3 151.9L1062.8 149.9L1063.3 152.8L1063.8 149.6L1064.3 151.6L1064.8 149.6L1065.3 151.1L1065.8 149.0L1066.3 151.4L1066.9 149.4L1067.4 151.4L1067.9 150.1L1068.4 152.0L1068.9 149.6L1069.4 151.7L1069.9 149.3L1070.4 151.1L1070.9 149.4L1071.4 151.6L1071.9 149.1L1072.4 152.5L1072.9 149.6L1073.4 151.0L1073.9 149.2L1074.4 150.9L1075.0 147.5L1075.5 150.7L1076.0 148.0L1076.5 150.7L1077.0 148.8L1077.5 150.5L1078.0 148.4L1078.5 150.6L1079.0 148.6L1079.5 151.2L1080.1 148.8L1080.6 150.7L1081.1 148.5L1081.6 150.2L1082.1 148.9L1082.6 150.6L1083.1 149.2L1083.6 150.4L1084.1 148.9L1084.6 150.8L1085.2 148.8L1085.7 150.5L1086.2 148.8L1086.7 150.6L1087.2 148.3L1087.8 150.1L1088.3 148.3L1088.8 151.1L1089.3 148.7L1089.8 150.1L1090.4 148.9L1090.9 151.0L1091.4 148.3L1091.9 150.9L1092.5 147.7L1093.0 150.2L1093.5 148.3L1094.0 151.0L1094.5 148.4L1095.1 150.7L1095.6 149.0L1096.1 151.6L1096.6 148.3L1097.1 151.6L1097.6 149.3L1098.1 151.8L1098.6 150.5L1099.2 152.5L1099.7 150.3L1100.2 152.6L1100.7 150.4L1101.2 152.6L1101.7 150.1L1102.2 152.5L1102.8 150.8L1103.3 152.7L1103.8 151.4L1104.3 153.8L1104.8 151.2L1105.3 153.5L1105.8 152.6L1106.4 154.7L1106.9 152.7L1107.4 154.7L1107.9 153.3L1108.4 155.3L1108.9 152.8L1109.4 155.9L1110.0 154.7L1110.5 156.8L1111.0 154.2L1111.5 157.4L1112.0 154.8L1112.5 156.9L1113.1 154.7L1113.6 156.8L1114.1 154.4L1114.6 156.6L1115.1 154.9L1115.7 156.9L1116.2 154.6L1116.7 156.1L1117.2 154.2L1117.8 155.8L1118.3 153.6L1118.8 155.7L1119.3 154.0L1119.8 155.4L1120.4 153.6L1120.9 155.3L1121.4 153.4L1121.9 155.5L1122.4 153.2L1122.9 155.3L1123.5 153.1L1124.0 154.8L1124.5 152.2L1125.0 154.4L1125.5 152.4L1126.0 153.9L1126.6 151.7L1127.1 154.5L1127.6 152.1L1128.1 154.7L1128.6 150.7L1129.1 154.0L1129.6 152.0L1130.2 153.6L1130.7 152.2L1131.2 153.7L1131.7 152.3L1132.2 153.6L1132.7 151.7L1133.2 154.5L1133.8 152.0L1134.3 153.8L1134.8 151.9L1135.3 153.6L1135.8 151.4L1136.3 153.7L1136.8 151.9L1137.3 153.5L1137.9 151.5L1138.4 153.5L1138.9 151.5L1139.4 154.3L1139.9 151.1L1140.4 152.9L1140.9 151.0L1141.5 152.3L1142.0 150.3L1142.5 151.8L1143.0 150.4L1143.5 152.2L1144.0 149.8L1144.5 151.8L1145.1 149.2L1145.6 152.1L1146.1 149.0L1146.6 150.8L1147.1 149.4L1147.6 151.6L1148.2 148.1L1148.7 150.2L1149.2 148.0L1149.7 150.3L1150.2 147.6L1150.7 149.2L1151.2 147.7L1151.7 149.3L1152.3 147.6L1152.8 149.4L1153.3 147.4L1153.8 149.7L1154.3 146.1L1154.8 148.4L1155.3 146.2L1155.8 147.2L1156.4 145.1L1156.9 147.2L1157.4 145.3L1157.9 146.9L1158.4 145.0L1158.9 146.7L1159.4 144.3L1159.9 146.5L1160.5 143.8L1161.0 146.3L1161.5 143.9L1162.0 146.4L1162.5 143.4L1163.0 146.0L1163.6 144.4L1164.1 146.3L1164.6 143.6L1165.1 146.1L1165.6 143.8L1166.1 146.1L1166.7 144.4L1167.2 146.1L1167.7 144.5L1168.2 146.6L1168.7 144.6L1169.3 146.5L1169.8 144.2L1170.3 145.8L1170.8 144.1L1171.3 145.7L1171.8 144.2L1172.3 146.4L1172.8 144.8L1173.3 146.2L1173.8 143.5L1174.3 146.0L1174.8 144.1L1175.3 146.2L1175.8 144.1L1176.3 146.4L1176.8 144.6L1177.3 146.5L1177.8 144.1L1178.3 145.9L1178.8 143.8L1179.3 145.7L1179.9 143.4L1180.4 146.1L1180.9 143.3L1181.4 146.3L1181.9 144.1L1182.4 146.0L1182.9 144.5L1183.4 146.3L1183.9 144.7L1184.4 146.7L1184.9 144.6L1185.4 145.6L1186.0 143.8L1186.5 145.1L1187.0 143.0L1187.5 144.8L1188.1 142.9L1188.6 144.7L1189.1 142.6L1189.6 144.2L1190.2 142.2L1190.7 143.5L1191.2 141.2L1191.7 143.7L1192.3 141.1L1192.8 143.1L1193.3 140.8L1193.8 142.4L1194.3 139.9L1194.8 142.1L1195.4 139.6L1195.9 141.4L1196.4 140.1L1196.9 141.4L1197.4 139.4L1197.9 141.6L1198.4 138.1L1198.9 140.7L1199.4 138.5L1199.9 140.3L1200.5 137.9L1201.0 139.7L1201.5 137.7L1202.0 139.6L1202.5 137.2L1203.0 139.8L1203.5 136.6L1204.0 138.9L1204.5 136.9L1205.0 139.7L1205.5 137.5L1206.0 139.8L1206.5 137.6L1207.1 139.7L1207.6 137.1L1208.1 139.0L1208.6 137.2L1209.1 139.7L1209.6 137.3L1210.1 139.5L1210.6 137.3L1211.1 139.0L1211.6 136.4L1212.1 139.0L1212.6 136.9L1213.1 138.6L1213.6 136.6L1214.1 139.3L1214.6 136.6L1215.1 138.9L1215.6 136.3L1216.2 139.2L1216.7 137.0L1217.2 139.3L1217.7 137.5L1218.2 138.8L1218.7 137.2L1219.2 139.6L1219.7 137.2L1220.2 138.5L1220.7 136.8L1221.2 138.7L1221.7 136.6L1222.2 138.7L1222.7 136.7L1223.2 139.4L1223.8 137.3L1224.3 139.3L1224.8 137.5L1225.3 140.3L1225.8 137.7L1226.3 139.4L1226.8 138.0L1227.3 139.4L1227.8 137.8L1228.3 139.5L1228.8 137.6L1229.4 139.8L1229.9 137.6L1230.4 139.9L1230.9 137.9L1231.4 140.0L1231.9 138.4L1232.4 140.2L1233.0 138.2L1233.5 140.4L1234.0 138.4L1234.5 140.3L1235.0 138.1L1235.5 140.9L1236.0 139.1L1236.5 140.9L1237.1 138.9L1237.6 141.4L1238.1 138.5L1238.6 141.0L1239.1 138.8L1239.6 140.4L1240.1 138.6L1240.6 140.6L1241.2 138.9L1241.7 140.4L1242.2 138.1L1242.7 140.6L1243.2 138.3L1243.7 140.8L1244.2 138.1L1244.7 140.5L1245.2 138.0L1245.7 139.9L1246.3 137.8L1246.8 140.2L1247.3 137.6L1247.8 140.8L1248.3 138.4L1248.8 140.4L1249.3 138.3L1249.8 140.6L1250.3 138.9L1250.9 140.1L1251.4 138.2L1251.9 140.5L1252.4 138.3L1252.9 139.6L1253.4 138.4L1254.0 140.7L1254.5 138.4L1255.0 140.5L1255.5 137.1L1256.0 139.6L1256.5 137.6L1257.1 139.4L1257.6 137.3L1258.1 139.1L1258.6 136.0L1259.1 139.5L1259.7 137.2L1260.2 139.3L1260.7 136.6L1261.2 138.8L1261.7 137.3L1262.2 138.8L1262.7 137.0L1263.2 139.4L1263.7 137.6L1264.3 139.7L1264.8 138.2L1265.3 140.2L1265.8 138.0L1266.3 140.3L1266.8 138.5L1267.3 140.6L1267.8 138.1L1268.4 141.2L1268.9 137.6L1269.4 140.0L1269.9 137.8L1270.4 140.8L1270.9 139.1L1271.4 141.2L1271.9 139.9L1272.4 141.5L1273.0 140.0L1273.5 142.5L1274.0 140.8L1274.5 143.1L1275.0 139.7L1275.5 143.0L1276.0 140.6L1276.5 143.1L1277.0 141.7L1277.6 143.7L1278.1 142.2L1278.6 144.2L1279.1 142.9L1279.6 144.9L1280.1 143.6L1280.6 146.2L1281.1 143.1L1281.6 146.0L1282.1 143.8L1282.7 146.1L1283.2 144.6L1283.7 146.4L1284.2 143.7L1284.7 146.0L1285.3 143.1L1285.8 146.2L1286.3 144.2L1286.8 145.6L1287.3 143.5L1287.8 145.6L1288.4 143.8L1288.9 145.5L1289.4 143.4L1289.9 145.3L1290.4 143.8L1291.0 146.0L1291.5 143.1L1292.0 145.2L1292.5 143.3L1293.0 145.3L1293.5 143.0L1294.0 144.8L1294.5 143.1L1295.0 145.1L1295.5 142.3L1296.1 144.8L1296.6 141.7L1297.1 144.1L1297.6 142.0L1298.1 143.8L1298.6 141.7L1299.1 143.1L1299.6 141.5L1300.1 143.1L1300.6 140.8L1301.1 142.4L1301.6 139.7L1302.1 142.6L1302.6 139.9L1303.2 143.0L1303.7 140.8L1304.2 142.7L1304.7 140.4L1305.2 142.2L1305.7 140.2L1306.2 141.7L1306.7 139.7L1307.2 142.0L1307.7 139.6L1308.2 141.7L1308.8 139.7L1309.3 141.0L1309.8 138.4L1310.3 141.2L1310.8 138.8L1311.3 139.8L1311.8 137.6L1312.3 139.4L1312.8 137.4L1313.4 139.1L1313.9 135.6L1314.4 138.4L1314.9 136.3L1315.4 138.8L1315.9 136.5L1316.4 137.5L1316.9 136.1L1317.5 138.0L1318.0 135.7L1318.5 137.8L1319.0 136.4L1319.5 138.1L1320.1 136.6L1320.6 138.0L1321.1 136.3L1321.6 138.3L1322.1 135.6L1322.6 138.2L1323.2 136.4L1323.7 138.5L1324.2 135.7L1324.7 138.0L1325.2 135.7L1325.8 138.1L1326.3 135.7L1326.8 137.7L1327.3 135.6L1327.8 138.5L1328.3 136.2L1328.8 139.1L1329.3 136.4L1329.8 138.9L1330.3 136.5L1330.8 138.4L1331.3 136.6L1331.8 139.6L1332.3 137.6L1332.9 139.5L1333.4 137.6L1333.9 140.3L1334.4 136.9L1334.9 140.0L1335.4 137.8L1335.9 140.0L1336.4 137.9L1336.9 140.0L1337.4 139.2L1337.9 140.8L1338.4 138.5L1338.9 140.9L1339.5 139.1L1340.0 141.7L1340.5 139.6L1341.0 141.9L1341.5 139.6L1342.0 142.4L1342.5 140.0L1343.0 142.8L1343.5 140.2L1344.0 142.4L1344.6 140.6L1345.1 142.9L1345.6 140.4L1346.1 142.7L1346.6 141.0L1347.1 142.9L1347.6 141.9L1348.1 143.5L1348.6 141.3L1349.1 143.5L1349.7 141.3L1350.2 144.2L1350.7 141.6L1351.2 144.4L1351.7 142.4L1352.2 144.2L1352.7 142.6L1353.2 144.6L1353.7 142.7L1354.2 144.9L1354.7 143.3L1355.3 145.2L1355.8 143.7L1356.3 145.7L1356.8 143.3L1357.3 145.9L1357.8 142.9L1358.3 146.5L1358.8 143.9L1359.3 146.1L1359.8 143.9L1360.4 145.9L1360.9 143.5L1361.4 145.7L1361.9 143.5L1362.4 145.5L1362.9 143.6L1363.5 145.5L1364.0 142.9L1364.5 145.5L1365.0 142.9L1365.5 144.2L1366.0 142.5L1366.5 143.9L1367.1 142.0L1367.6 143.7L1368.1 141.2L1368.6 143.6L1369.1 140.8L1369.6 142.8L1370.2 140.2L1370.7 142.6L1371.2 140.9L1371.7 142.5L1372.2 140.8L1372.7 143.2L1373.2 140.9L1373.8 142.9L1374.3 140.5L1374.8 143.1L1375.3 141.1L1375.8 142.8L1376.3 141.2L1376.8 143.1L1377.4 141.8L1377.9 143.6L1378.4 141.0L1378.9 143.4L1379.4 141.2L1379.9 143.3L1380.4 141.2L1381.0 143.1L1381.5 141.6L1382.0 143.8L1382.5 141.5L1383.0 144.1L1383.5 141.5L1384.0 143.9L1384.5 142.0L1385.0 143.9L1385.5 140.9L1386.1 144.2L1386.6 141.3L1387.1 144.0L1387.6 142.0L1388.1 144.3L1388.6 141.5L1389.1 143.5L1389.6 141.6L1390.1 145.1L1390.6 141.8L1391.2 143.8L1391.7 142.4L1392.2 144.0L1392.7 142.6L1393.2 144.7L1393.7 143.0L1394.2 145.4L1394.7 142.3L1395.2 145.0L1395.7 142.9L1396.3 144.7L1396.8 143.0L1397.3 144.9L1397.8 143.3L1398.3 145.8L1398.8 143.3L1399.3 145.4L1399.8 143.7L1400.3 145.8L1400.9 144.4L1401.4 146.8L1401.9 144.1L1402.4 146.8L1402.9 144.4L1403.4 145.8L1403.9 143.9L1404.4 145.4L1404.9 143.2L1405.4 145.8L1406.0 143.3L1406.5 144.9L1407.0 142.7L1407.5 144.6L1408.0 142.3L1408.5 144.4L1409.0 143.0L1409.5 144.6L1410.0 141.7L1410.5 144.0L1411.1 142.5L1411.6 144.3L1412.1 142.0L1412.6 144.0L1413.1 141.6L1413.6 143.6L1414.1 141.7L1414.6 145.1L1415.1 142.1L1415.7 143.5L1416.2 141.6L1416.7 142.9L1417.2 141.0L1417.7 142.5L1418.2 140.4L1418.7 143.2L1419.3 140.7L1419.8 143.0L1420.3 140.6L1420.8 143.1L1421.3 141.1L1421.8 143.3L1422.3 141.0L1422.9 142.2L1423.4 139.9L1423.9 141.9L1424.4 140.1L1424.9 142.2L1425.4 140.4L1425.9 142.4L1426.5 140.0L1427.0 143.2L1427.5 141.0L1428.0 143.6L1428.5 141.1L1429.0 143.6L1429.5 141.5L1430.1 142.8L1430.6 141.6L1431.1 143.8L1431.6 141.8L1432.1 144.6L1432.6 142.6L1433.2 145.0L1433.7 143.1L1434.2 145.0L1434.7 143.7L1435.2 146.0L1435.7 143.8L1436.2 146.3L1436.8 144.7L1437.3 146.9L1437.8 145.0L1438.3 146.6L1438.8 145.0L1439.4 147.2L1439.9 145.3L1440.4 147.7L1440.9 145.1L1441.4 147.4L1441.9 145.1L1442.5 147.9L1443.0 145.3L1443.5 147.8" fill="none" stroke="#000" stroke-width="3.0" stroke-linejoin="round"/>
<path d="M923.1 194.8L929.7 188.2L936.3 194.8L929.7 201.4Z" fill="none" stroke="#000" stroke-width="2.3"/><path d="M956.1 166.4L962.7 159.8L969.3 166.4L962.7 173.0Z" fill="none" stroke="#000" stroke-width="2.3"/><path d="M989.1 153.7L995.7 147.1L1002.3 153.7L995.7 160.3Z" fill="none" stroke="#000" stroke-width="2.3"/><path d="M1022.1 150.0L1028.7 143.4L1035.3 150.0L1028.7 156.6Z" fill="none" stroke="#000" stroke-width="2.3"/><path d="M1055.1 150.8L1061.7 144.2L1068.3 150.8L1061.7 157.4Z" fill="none" stroke="#000" stroke-width="2.3"/><path d="M1088.2 149.9L1094.8 143.3L1101.3 149.9L1094.8 156.5Z" fill="none" stroke="#000" stroke-width="2.3"/><path d="M1121.2 153.2L1127.8 146.6L1134.4 153.2L1127.8 159.8Z" fill="none" stroke="#000" stroke-width="2.3"/><path d="M1154.2 145.0L1160.8 138.4L1167.4 145.0L1160.8 151.6Z" fill="none" stroke="#000" stroke-width="2.3"/><path d="M1187.2 141.8L1193.8 135.2L1200.4 141.8L1193.8 148.4Z" fill="none" stroke="#000" stroke-width="2.3"/><path d="M1220.2 138.7L1226.8 132.1L1233.4 138.7L1226.8 145.3Z" fill="none" stroke="#000" stroke-width="2.3"/><path d="M1253.2 137.7L1259.8 131.1L1266.4 137.7L1259.8 144.3Z" fill="none" stroke="#000" stroke-width="2.3"/><path d="M1286.2 144.5L1292.8 137.9L1299.4 144.5L1292.8 151.1Z" fill="none" stroke="#000" stroke-width="2.3"/><path d="M1319.2 136.7L1325.8 130.1L1332.4 136.7L1325.8 143.3Z" fill="none" stroke="#000" stroke-width="2.3"/><path d="M1352.2 145.5L1358.8 138.9L1365.4 145.5L1358.8 152.1Z" fill="none" stroke="#000" stroke-width="2.3"/><path d="M1385.2 143.6L1391.8 137.0L1398.4 143.6L1391.8 150.2Z" fill="none" stroke="#000" stroke-width="2.3"/><path d="M1418.2 140.6L1424.8 134.0L1431.4 140.6L1424.8 147.2Z" fill="none" stroke="#000" stroke-width="2.3"/>
<path d="M929.7 480.0L930.2 483.0L930.6 481.2L931.1 484.3L931.6 482.4L932.1 486.0L932.6 484.5L933.1 487.2L933.6 484.9L934.1 488.4L934.6 486.6L935.0 488.8L935.5 487.0L936.0 489.5L936.5 488.2L937.0 490.8L937.5 489.3L938.0 491.9L938.5 490.2L939.0 493.8L939.4 491.9L939.9 494.3L940.4 492.5L940.9 494.7L941.4 493.2L941.9 496.1L942.4 494.5L942.9 498.7L943.4 495.8L943.8 498.5L944.3 496.6L944.8 499.7L945.3 499.0L945.8 501.2L946.3 500.4L946.8 502.8L947.3 500.9L947.8 503.7L948.2 502.2L948.8 504.4L949.3 502.2L949.8 505.7L950.4 503.5L950.9 505.9L951.4 504.4L952.0 506.1L952.5 504.2L953.0 507.6L953.6 504.5L954.1 507.3L954.6 505.5L955.2 507.2L955.7 504.0L956.2 507.0L956.7 505.3L957.2 507.0L957.8 505.0L958.3 506.8L958.8 504.7L959.3 507.2L959.9 504.9L960.4 507.1L960.9 504.3L961.4 506.5L961.9 503.9L962.5 507.7L963.0 505.0L963.5 507.6L964.0 505.1L964.5 507.6L965.1 506.0L965.6 508.2L966.1 506.8L966.6 509.1L967.2 506.1L967.7 509.9L968.2 508.6L968.7 510.8L969.2 508.6L969.8 511.5L970.3 509.3L970.8 512.3L971.3 510.2L971.8 512.5L972.4 510.6L972.9 512.9L973.4 511.0L973.9 513.1L974.5 511.6L975.0 515.1L975.5 512.7L976.0 515.1L976.5 513.4L977.1 515.4L977.6 513.7L978.1 515.9L978.6 514.0L979.1 516.0L979.6 514.7L980.2 516.9L980.7 514.0L981.2 516.8L981.7 515.0L982.2 516.7L982.7 514.3L983.2 516.3L983.8 514.2L984.3 516.8L984.8 514.6L985.3 516.5L985.8 514.5L986.3 516.8L986.8 514.1L987.4 516.6L987.9 513.7L988.4 516.4L988.9 515.0L989.4 517.7L989.9 515.3L990.5 517.9L991.0 516.4L991.5 518.8L992.0 516.5L992.5 519.0L993.0 516.6L993.5 519.7L994.1 517.7L994.6 519.3L995.1 517.5L995.6 519.9L996.1 518.6L996.6 520.7L997.1 518.7L997.7 520.6L998.2 518.6L998.7 520.6L999.2 518.1L999.8 521.1L1000.3 517.9L1000.8 520.8L1001.3 518.6L1001.8 520.8L1002.4 518.4L1002.9 520.7L1003.4 519.3L1003.9 521.2L1004.4 518.8L1005.0 521.2L1005.5 518.1L1006.0 520.5L1006.5 518.0L1007.1 520.3L1007.6 517.2L1008.1 519.8L1008.6 518.2L1009.1 519.8L1009.7 517.7L1010.2 520.7L1010.7 517.7L1011.2 520.0L1011.7 516.8L1012.3 519.4L1012.8 516.9L1013.3 518.8L1013.8 517.5L1014.4 519.5L1014.9 517.7L1015.4 520.5L1015.9 518.8L1016.4 521.2L1017.0 519.2L1017.5 522.1L1018.0 519.1L1018.5 521.5L1019.0 519.1L1019.6 521.3L1020.1 519.7L1020.6 522.4L1021.1 519.2L1021.7 522.6L1022.2 520.9L1022.7 523.2L1023.2 521.3L1023.7 523.2L1024.3 521.0L1024.8 523.8L1025.3 522.1L1025.8 523.5L1026.4 522.2L1026.9 524.6L1027.4 522.3L1027.9 524.4L1028.4 522.6L1029.0 523.8L1029.5 521.3L1030.0 522.8L1030.5 521.3L1031.0 523.6L1031.5 519.7L1032.0 522.7L1032.6 520.5L1033.1 521.7L1033.6 520.1L1034.1 522.2L1034.6 519.1L1035.1 520.8L1035.6 518.3L1036.2 520.1L1036.7 517.1L1037.2 519.7L1037.7 517.4L1038.2 519.1L1038.7 517.6L1039.2 519.3L1039.7 517.5L1040.3 519.2L1040.8 516.3L1041.3 518.4L1041.8 516.5L1042.3 518.9L1042.8 517.0L1043.3 519.2L1043.8 517.3L1044.3 520.6L1044.8 517.2L1045.4 519.2L1045.9 517.4L1046.4 519.6L1046.9 516.6L1047.4 520.6L1047.9 517.7L1048.4 519.5L1048.9 516.8L1049.4 519.5L1050.0 517.9L1050.5 521.2L1051.0 518.1L1051.5 520.0L1052.0 518.2L1052.5 520.7L1053.0 518.5L1053.6 520.5L1054.1 518.3L1054.6 520.4L1055.1 519.1L1055.6 521.3L1056.1 519.5L1056.6 521.9L1057.2 520.1L1057.7 522.4L1058.2 521.0L1058.7 523.0L1059.2 521.2L1059.7 523.5L1060.2 521.1L1060.8 522.9L1061.3 521.1L1061.8 524.2L1062.3 521.8L1062.8 523.5L1063.3 521.6L1063.8 523.2L1064.4 521.2L1064.9 522.6L1065.4 521.0L1065.9 523.7L1066.4 520.9L1066.9 523.3L1067.4 521.1L1068.0 523.5L1068.5 521.0L1069.0 523.2L1069.5 521.0L1070.0 524.1L1070.5 521.6L1071.1 523.0L1071.6 521.6L1072.1 524.6L1072.6 522.1L1073.1 523.9L1073.6 521.8L1074.1 524.2L1074.7 520.7L1075.2 523.3L1075.7 521.4L1076.2 523.7L1076.7 521.6L1077.2 524.3L1077.7 522.5L1078.3 524.1L1078.8 522.3L1079.3 524.6L1079.8 522.0L1080.3 524.8L1080.8 522.5L1081.3 524.5L1081.8 521.7L1082.3 523.9L1082.9 522.2L1083.4 523.9L1083.9 521.3L1084.4 524.2L1084.9 521.6L1085.4 523.4L1085.9 522.1L1086.4 524.1L1086.9 520.4L1087.5 523.6L1088.0 520.6L1088.5 523.3L1089.0 520.7L1089.5 523.0L1090.0 520.8L1090.5 522.8L1091.0 520.9L1091.5 522.5L1092.1 520.7L1092.6 522.2L1093.1 520.6L1093.6 522.6L1094.1 520.5L1094.6 522.0L1095.1 519.7L1095.7 521.0L1096.2 518.5L1096.7 520.6L1097.2 518.8L1097.7 520.5L1098.2 518.6L1098.7 520.5L1099.3 518.6L1099.8 521.4L1100.3 518.7L1100.8 520.7L1101.3 518.6L1101.8 520.2L1102.3 517.6L1102.9 520.3L1103.4 517.7L1103.9 519.9L1104.4 517.8L1104.9 520.3L1105.4 517.8L1105.9 520.0L1106.5 517.4L1107.0 519.7L1107.5 517.1L1108.0 520.1L1108.5 516.6L1109.0 518.9L1109.6 516.8L1110.1 518.8L1110.6 515.2L1111.1 519.2L1111.6 516.0L1112.1 519.6L1112.6 516.0L1113.2 518.8L1113.7 515.7L1114.2 518.3L1114.7 516.4L1115.2 519.5L1115.7 516.0L1116.2 518.6L1116.8 515.5L1117.3 518.0L1117.8 515.9L1118.3 518.6L1118.8 516.7L1119.3 519.2L1119.8 516.9L1120.4 519.2L1120.9 517.2L1121.4 519.0L1121.9 516.7L1122.4 519.1L1122.9 518.0L1123.4 520.1L1123.9 517.3L1124.4 520.5L1125.0 518.4L1125.5 520.3L1126.0 517.8L1126.5 520.2L1127.0 518.8L1127.5 520.8L1128.0 518.9L1128.5 520.3L1129.0 518.6L1129.5 521.6L1130.1 519.7L1130.6 521.8L1131.1 519.9L1131.6 522.2L1132.1 520.6L1132.6 522.6L1133.1 520.3L1133.7 522.8L1134.2 519.8L1134.7 523.1L1135.2 520.6L1135.7 522.9L1136.3 520.2L1136.8 521.8L1137.3 519.9L1137.8 522.3L1138.4 520.1L1138.9 521.8L1139.4 519.6L1139.9 521.7L1140.4 519.6L1140.9 521.9L1141.5 520.1L1142.0 522.6L1142.5 520.8L1143.0 522.1L1143.5 520.4L1144.0 523.1L1144.5 520.5L1145.1 522.8L1145.6 520.7L1146.1 522.4L1146.6 520.4L1147.1 523.9L1147.6 520.5L1148.2 523.3L1148.7 521.0L1149.2 522.9L1149.7 520.1L1150.2 523.3L1150.7 521.7L1151.2 523.4L1151.7 522.0L1152.2 525.3L1152.8 522.8L1153.3 524.7L1153.8 523.5L1154.3 525.1L1154.8 523.7L1155.3 525.7L1155.8 524.3L1156.3 526.2L1156.8 524.1L1157.3 526.9L1157.9 524.1L1158.4 527.3L1158.9 524.7L1159.4 527.5L1159.9 524.6L1160.4 527.3L1160.9 525.5L1161.4 527.4L1162.0 525.2L1162.5 526.8L1163.0 524.9L1163.5 526.9L1164.0 524.7L1164.6 527.1L1165.1 524.4L1165.6 526.7L1166.1 524.5L1166.6 527.3L1167.2 525.8L1167.7 527.5L1168.2 526.2L1168.7 528.0L1169.3 525.6L1169.8 528.0L1170.3 524.9L1170.8 527.7L1171.3 525.1L1171.8 527.8L1172.3 524.4L1172.9 527.2L1173.4 525.4L1173.9 527.0L1174.4 524.0L1174.9 526.8L1175.4 524.6L1175.9 526.8L1176.5 523.7L1177.0 527.0L1177.5 525.0L1178.0 526.9L1178.5 524.1L1179.0 526.5L1179.5 524.9L1180.1 528.1L1180.6 525.1L1181.1 527.9L1181.6 525.5L1182.1 527.8L1182.6 526.2L1183.2 528.7L1183.7 526.5L1184.2 529.6L1184.7 526.8L1185.2 529.5L1185.7 527.1L1186.2 530.2L1186.8 527.6L1187.3 530.2L1187.8 528.4L1188.3 530.8L1188.8 528.9L1189.3 531.8L1189.8 529.2L1190.4 531.8L1190.9 528.7L1191.4 531.8L1191.9 530.1L1192.4 532.0L1192.9 529.9L1193.4 532.2L1194.0 530.1L1194.5 532.8L1195.0 530.3L1195.5 533.1L1196.0 531.2L1196.5 533.6L1197.0 532.2L1197.6 534.5L1198.1 531.8L1198.6 535.0L1199.3 531.9L1200.0 533.9L1200.5 532.4L1201.0 534.5L1201.5 531.8L1202.1 535.2L1202.6 532.3L1203.1 534.5L1203.6 532.2L1204.1 534.9L1204.6 533.0L1205.1 535.2L1205.7 533.5L1206.2 535.3L1206.7 532.9L1207.2 534.9L1207.7 533.1L1208.2 534.8L1208.7 532.5L1209.3 535.1L1209.8 533.9L1210.3 535.7L1210.8 533.7L1211.3 536.1L1211.8 534.8L1212.4 536.6L1212.9 533.5L1213.4 535.7L1213.9 533.6L1214.4 536.1L1214.9 533.1L1215.4 534.6L1216.0 531.6L1216.5 534.5L1217.0 532.6L1217.5 534.6L1218.0 532.5L1218.5 534.6L1219.0 532.2L1219.6 534.7L1220.1 532.3L1220.6 534.1L1221.1 532.0L1221.6 533.8L1222.1 532.6L1222.6 534.8L1223.2 532.5L1223.7 534.2L1224.2 532.0L1224.7 533.9L1225.2 531.2L1225.7 532.6L1226.2 531.1L1226.8 533.2L1227.3 531.1L1227.8 532.8L1228.3 530.0L1228.8 532.5L1229.3 530.5L1229.9 533.2L1230.4 531.3L1230.9 533.2L1231.4 531.6L1231.9 534.0L1232.4 531.3L1232.9 533.1L1233.5 530.7L1234.0 533.6L1234.5 531.1L1235.0 533.1L1235.5 529.8L1236.0 533.1L1236.5 531.1L1237.1 532.9L1237.6 531.0L1238.1 532.9L1238.6 531.3L1239.1 533.9L1239.6 530.9L1240.1 533.7L1240.6 530.9L1241.2 533.2L1241.7 531.5L1242.2 533.6L1242.7 531.3L1243.2 533.3L1243.7 531.0L1244.2 533.1L1244.7 531.5L1245.2 533.0L1245.7 531.1L1246.3 533.4L1246.8 531.4L1247.3 533.3L1247.8 530.4L1248.3 532.7L1248.8 529.5L1249.3 532.0L1249.8 530.1L1250.3 533.0L1250.9 530.0L1251.4 532.4L1251.9 530.3L1252.4 532.8L1252.9 530.6L1253.4 532.8L1253.9 531.0L1254.5 533.6L1255.0 531.6L1255.5 533.2L1256.0 532.3L1256.5 533.9L1257.0 532.5L1257.5 534.5L1258.1 532.5L1258.6 535.5L1259.1 532.7L1259.6 535.1L1260.1 532.7L1260.6 535.5L1261.2 532.8L1261.7 534.5L1262.2 533.0L1262.7 534.3L1263.2 532.0L1263.8 534.6L1264.3 532.4L1264.8 535.0L1265.3 532.5L1265.8 534.8L1266.4 532.0L1266.9 534.1L1267.4 532.0L1267.9 533.9L1268.5 531.8L1269.0 533.9L1269.5 531.1L1270.0 533.7L1270.5 531.2L1271.0 533.5L1271.5 531.3L1272.1 532.8L1272.6 530.1L1273.1 532.7L1273.6 529.7L1274.1 531.5L1274.6 529.6L1275.1 531.3L1275.7 528.7L1276.2 530.0L1276.7 526.8L1277.2 528.4L1277.7 525.8L1278.2 528.6L1278.8 526.0L1279.3 528.2L1279.8 526.1L1280.3 528.7L1280.8 526.6L1281.4 528.7L1281.9 526.1L1282.4 527.4L1282.9 526.1L1283.4 527.6L1284.0 525.5L1284.5 527.7L1285.0 525.8L1285.5 528.4L1286.1 526.0L1286.6 528.6L1287.1 526.1L1287.6 529.6L1288.1 526.5L1288.6 528.8L1289.1 526.4L1289.6 528.5L1290.1 525.7L1290.6 527.9L1291.1 525.7L1291.6 528.8L1292.1 527.3L1292.6 529.6L1293.1 527.1L1293.6 529.1L1294.1 526.9L1294.6 529.2L1295.1 527.0L1295.6 529.6L1296.1 527.6L1296.7 529.9L1297.2 527.6L1297.7 529.7L1298.2 527.8L1298.7 529.4L1299.2 527.5L1299.7 530.7L1300.2 527.3L1300.7 529.9L1301.2 527.8L1301.7 530.2L1302.2 528.1L1302.7 530.4L1303.2 528.5L1303.8 531.1L1304.3 529.1L1304.8 532.1L1305.3 530.2L1305.8 532.2L1306.3 529.6L1306.8 532.6L1307.4 530.4L1307.9 532.6L1308.4 530.9L1308.9 533.1L1309.4 531.3L1309.9 533.9L1310.5 531.2L1311.0 534.2L1311.5 532.0L1312.0 535.3L1312.5 532.9L1313.1 535.3L1313.6 532.8L1314.1 534.7L1314.7 531.8L1315.2 535.2L1315.7 533.0L1316.3 535.2L1316.8 532.8L1317.3 534.7L1317.9 532.8L1318.4 534.7L1318.9 532.3L1319.4 534.6L1319.9 532.6L1320.4 534.6L1321.0 532.3L1321.5 534.2L1322.0 532.6L1322.5 535.0L1323.0 532.3L1323.5 534.6L1324.0 532.5L1324.6 534.9L1325.1 532.8L1325.6 534.9L1326.1 532.6L1326.6 535.2L1327.1 532.2L1327.6 533.9L1328.1 532.3L1328.7 534.3L1329.2 531.3L1329.7 535.2L1330.2 532.2L1330.7 534.2L1331.2 531.3L1331.7 533.8L1332.2 531.6L1332.7 533.6L1333.2 530.5L1333.8 533.1L1334.3 530.8L1334.8 532.8L1335.3 531.1L1335.8 532.4L1336.3 530.5L1336.8 532.4L1337.3 530.5L1337.8 532.5L1338.4 529.9L1338.9 531.9L1339.4 529.0L1339.9 531.3L1340.4 529.2L1340.9 531.2L1341.4 529.3L1341.9 530.6L1342.5 528.6L1343.0 530.5L1343.5 528.2L1344.0 530.2L1344.5 527.1L1345.0 529.6L1345.6 526.9L1346.1 529.4L1346.6 526.3L1347.1 529.4L1347.6 527.6L1348.1 529.3L1348.6 526.4L1349.2 529.2L1349.7 525.9L1350.2 528.7L1350.7 526.3L1351.2 529.8L1351.7 526.6L1352.2 529.0L1352.8 525.7L1353.3 528.3L1353.8 526.4L1354.3 528.0L1354.8 526.2L1355.3 528.6L1355.8 525.9L1356.4 527.6L1356.9 525.5L1357.4 527.8L1357.9 524.3L1358.4 527.8L1358.9 524.3L1359.5 527.0L1360.0 524.6L1360.5 528.0L1361.0 524.5L1361.5 527.4L1362.1 525.9L1362.6 528.8L1363.1 526.1L1363.6 529.0L1364.2 527.3L1364.7 529.7L1365.2 528.3L1365.7 530.5L1366.2 528.5L1366.8 530.6L1367.3 528.5L1367.8 531.4L1368.3 529.3L1368.9 531.3L1369.4 529.5L1369.9 532.2L1370.5 530.2L1371.0 531.4L1371.5 529.1L1372.0 531.9L1372.6 530.3L1373.1 532.7L1373.6 530.5L1374.1 532.3L1374.6 528.4L1375.2 531.6L1375.7 529.1L1376.2 531.6L1376.7 529.6L1377.2 530.8L1377.7 528.6L1378.3 530.5L1378.8 528.5L1379.3 530.7L1379.8 528.2L1380.3 530.3L1380.9 527.4L1381.4 529.3L1381.9 527.2L1382.4 529.5L1382.9 527.3L1383.4 529.5L1383.9 527.3L1384.4 528.7L1384.9 526.3L1385.4 528.9L1385.9 526.4L1386.4 528.5L1386.9 526.4L1387.4 528.7L1387.9 526.9L1388.5 528.5L1389.0 526.1L1389.5 528.0L1390.0 525.8L1390.5 527.6L1391.0 525.6L1391.5 527.6L1392.0 525.8L1392.5 527.4L1393.0 525.3L1393.5 527.0L1394.0 525.5L1394.5 528.5L1395.0 526.3L1395.5 528.4L1396.0 525.9L1396.5 528.3L1397.0 525.5L1397.5 527.2L1398.1 525.1L1398.6 527.0L1399.1 524.7L1399.6 526.6L1400.1 525.1L1400.6 527.3L1401.1 525.0L1401.7 527.1L1402.2 525.0L1402.7 527.2L1403.2 525.4L1403.7 527.1L1404.2 525.0L1404.7 528.2L1405.3 526.1L1405.8 527.8L1406.3 525.4L1406.8 527.7L1407.3 526.2L1407.8 528.3L1408.3 526.1L1408.8 528.8L1409.3 526.6L1409.8 529.5L1410.4 526.8L1410.9 528.7L1411.4 526.1L1411.9 529.1L1412.4 527.3L1412.9 529.7L1413.4 527.0L1413.9 528.8L1414.4 528.1L1414.9 530.0L1415.4 528.1L1415.9 530.6L1416.4 528.8L1416.9 531.2L1417.5 529.4L1418.0 531.4L1418.5 529.9L1419.0 532.1L1419.5 529.2L1420.0 532.0L1420.5 529.4L1421.0 532.3L1421.5 529.3L1422.0 531.2L1422.5 528.8L1423.1 531.0L1423.6 528.6L1424.1 530.6L1424.6 528.1L1425.1 530.4L1425.6 527.8L1426.2 529.6L1426.7 527.8L1427.2 530.0L1427.7 527.1L1428.2 530.3L1428.7 527.0L1429.2 529.3L1429.8 526.8L1430.3 528.8L1430.8 526.6L1431.3 528.7L1431.8 526.1L1432.3 529.2L1432.8 526.4L1433.3 529.5L1433.8 526.1L1434.3 527.9L1434.9 525.3L1435.4 528.1L1435.9 525.6L1436.4 527.8L1436.9 525.5L1437.4 527.8L1437.9 525.8L1438.4 528.3L1438.9 524.9L1439.4 527.0L1439.9 524.8L1440.4 527.5L1441.0 524.2L1441.5 527.1L1442.0 524.7L1442.5 527.2L1443.0 523.5L1443.5 526.3" fill="none" stroke="#000" stroke-width="2.8" stroke-linejoin="round"/>
<path d="M929.7 208.7L930.2 210.5L930.6 206.6L931.1 209.8L931.6 206.6L932.1 208.6L932.6 205.0L933.1 207.7L933.6 204.3L934.1 206.5L934.6 203.7L935.0 205.1L935.5 202.3L936.0 204.2L936.5 201.2L937.0 202.6L937.5 199.4L938.0 201.6L938.5 197.6L939.0 201.7L939.5 199.0L940.0 202.3L940.5 198.5L941.0 201.4L941.5 199.3L942.0 201.5L942.6 197.4L943.1 202.4L943.6 197.7L944.1 201.5L944.6 198.3L945.1 200.7L945.6 197.9L946.1 199.9L946.6 197.2L947.1 201.1L947.7 196.9L948.2 199.3L948.7 195.8L949.2 199.1L949.7 196.1L950.2 199.6L950.7 196.8L951.2 198.8L951.7 195.1L952.3 199.2L952.8 195.3L953.3 199.5L953.8 195.8L954.3 198.6L954.8 194.8L955.3 197.8L955.9 194.8L956.4 197.3L956.9 193.8L957.4 197.1L957.9 194.0L958.4 196.8L958.9 194.0L959.4 196.3L960.0 193.2L960.5 196.3L961.0 191.7L961.5 196.6L962.0 192.8L962.5 195.7L963.0 193.8L963.5 196.2L964.0 193.1L964.6 195.7L965.1 191.8L965.6 194.8L966.1 190.9L966.6 193.8L967.1 189.9L967.6 193.7L968.1 188.9L968.6 192.6L969.1 189.2L969.6 191.4L970.1 187.6L970.6 191.6L971.1 188.3L971.6 191.4L972.2 188.9L972.7 190.8L973.2 188.5L973.7 190.7L974.2 186.2L974.7 190.5L975.2 187.1L975.7 189.8L976.2 186.3L976.8 189.4L977.3 186.3L977.8 188.1L978.3 185.8L978.8 188.4L979.3 185.4L979.9 188.3L980.4 183.9L980.9 189.9L981.4 184.8L981.9 187.7L982.4 184.7L982.9 187.6L983.5 184.3L984.0 187.3L984.5 183.4L985.0 188.2L985.5 185.1L986.0 187.8L986.5 184.1L987.0 187.2L987.5 183.0L988.0 186.6L988.6 183.4L989.1 187.3L989.6 183.7L990.1 185.9L990.6 181.8L991.1 185.9L991.6 181.8L992.1 185.9L992.6 182.7L993.1 185.2L993.7 181.8L994.2 186.4L994.7 182.8L995.2 186.2L995.7 183.2L996.2 187.3L996.8 181.8L997.3 186.2L997.8 181.4L998.3 186.4L998.8 182.8L999.4 185.9L999.9 182.6L1000.4 186.0L1000.9 182.6L1001.4 186.3L1002.0 183.7L1002.5 186.5L1003.0 182.5L1003.5 186.9L1004.0 184.3L1004.6 187.6L1005.1 183.6L1005.6 186.9L1006.1 183.6L1006.6 187.4L1007.2 184.7L1007.7 189.9L1008.2 185.3L1008.7 188.3L1009.2 186.0L1009.7 188.8L1010.3 185.7L1010.8 188.7L1011.3 186.1L1011.8 190.6L1012.3 186.1L1012.8 188.4L1013.4 185.8L1013.9 188.2L1014.4 184.7L1014.9 187.8L1015.4 183.8L1016.0 187.7L1016.5 184.4L1017.0 186.0L1017.5 183.3L1018.0 187.7L1018.5 183.4L1019.1 185.9L1019.6 182.2L1020.1 185.6L1020.6 179.9L1021.1 184.9L1021.7 182.4L1022.2 184.6L1022.7 181.4L1023.2 184.2L1023.7 180.6L1024.3 183.1L1024.8 179.8L1025.3 183.8L1025.8 179.3L1026.4 182.3L1026.9 179.0L1027.4 182.3L1027.9 178.2L1028.4 180.8L1028.9 177.2L1029.5 180.6L1030.0 177.1L1030.5 180.0L1031.0 178.0L1031.5 180.6L1032.0 177.4L1032.5 180.3L1033.0 175.6L1033.5 178.9L1034.0 175.3L1034.6 179.5L1035.1 175.0L1035.6 178.7L1036.1 174.2L1036.6 178.7L1037.1 174.9L1037.6 176.7L1038.1 174.1L1038.6 177.1L1039.2 173.7L1039.7 176.6L1040.2 172.7L1040.7 175.9L1041.2 172.6L1041.7 175.4L1042.2 172.9L1042.7 176.2L1043.2 172.9L1043.7 176.4L1044.3 172.2L1044.8 176.3L1045.3 173.4L1045.8 176.8L1046.3 173.6L1046.8 176.1L1047.3 171.1L1047.8 175.8L1048.3 171.5L1048.8 175.1L1049.4 172.1L1049.9 176.2L1050.4 172.7L1050.9 176.0L1051.4 172.0L1051.9 175.3L1052.4 172.6L1052.9 174.9L1053.5 171.2L1054.0 174.0L1054.5 171.5L1055.0 174.9L1055.6 172.1L1056.1 174.9L1056.6 170.9L1057.1 174.7L1057.6 171.3L1058.2 176.2L1058.7 171.5L1059.2 174.0L1059.7 171.3L1060.3 173.8L1060.8 171.1L1061.3 174.6L1061.8 171.3L1062.3 174.1L1062.8 172.3L1063.3 176.1L1063.8 172.1L1064.3 175.6L1064.9 172.6L1065.4 175.5L1065.9 173.4L1066.4 176.1L1066.9 173.0L1067.4 176.2L1067.9 173.4L1068.4 176.5L1068.9 173.0L1069.4 177.2L1069.9 174.1L1070.4 179.0L1071.0 174.7L1071.5 177.5L1072.0 174.8L1072.5 176.5L1073.0 172.8L1073.5 176.4L1074.0 173.5L1074.5 176.1L1075.0 172.9L1075.5 176.0L1076.1 172.9L1076.6 178.1L1077.1 172.4L1077.6 175.7L1078.1 174.0L1078.6 176.7L1079.1 173.2L1079.6 176.3L1080.1 171.5L1080.6 175.5L1081.2 172.8L1081.7 176.6L1082.2 172.2L1082.7 176.7L1083.2 172.2L1083.7 176.2L1084.2 173.0L1084.7 175.0L1085.3 170.5L1085.8 175.2L1086.3 172.1L1086.8 174.4L1087.3 171.9L1087.8 174.9L1088.4 170.9L1088.9 173.9L1089.4 170.3L1089.9 173.7L1090.4 169.9L1090.9 172.3L1091.4 169.4L1092.0 172.0L1092.5 169.7L1093.0 171.8L1093.5 168.6L1094.0 172.7L1094.5 168.5L1095.1 171.1L1095.6 168.2L1096.1 171.9L1096.6 168.6L1097.1 171.1L1097.6 167.9L1098.1 172.0L1098.6 168.5L1099.2 173.7L1099.7 168.1L1100.2 173.7L1100.7 168.9L1101.2 173.1L1101.7 170.1L1102.2 172.8L1102.8 170.5L1103.3 173.6L1103.8 169.7L1104.3 174.3L1104.8 171.3L1105.3 174.0L1105.8 171.2L1106.3 174.8L1106.8 170.9L1107.3 174.1L1107.8 171.5L1108.3 173.5L1108.8 169.1L1109.3 174.5L1109.8 171.3L1110.3 176.1L1110.8 171.0L1111.3 173.8L1111.8 170.9L1112.3 174.6L1112.9 171.7L1113.4 175.0L1113.9 170.9L1114.4 174.6L1114.9 172.6L1115.4 175.5L1115.9 171.9L1116.4 175.7L1116.9 172.5L1117.4 176.6L1117.9 171.8L1118.4 176.0L1118.9 173.1L1119.4 176.5L1119.9 173.2L1120.4 175.9L1121.0 172.3L1121.5 177.1L1122.0 173.3L1122.5 178.1L1123.0 173.3L1123.5 176.5L1124.0 173.7L1124.5 176.3L1125.0 174.6L1125.6 176.4L1126.1 173.3L1126.6 177.5L1127.1 174.8L1127.6 178.0L1128.1 175.8L1128.6 177.7L1129.2 173.7L1129.7 176.7L1130.2 174.5L1130.7 177.5L1131.3 173.1L1131.8 176.5L1132.3 171.9L1132.9 175.1L1133.4 171.7L1133.9 177.1L1134.4 172.6L1135.0 176.9L1135.5 172.6L1136.0 176.1L1136.5 172.8L1137.0 176.9L1137.5 173.4L1138.0 175.2L1138.6 172.0L1139.1 174.4L1139.6 171.4L1140.1 174.0L1140.6 171.2L1141.1 173.2L1141.6 170.4L1142.1 173.3L1142.6 170.4L1143.1 173.6L1143.7 170.2L1144.2 173.1L1144.7 171.2L1145.2 174.4L1145.7 169.6L1146.2 173.7L1146.7 169.7L1147.2 173.4L1147.7 170.3L1148.2 173.7L1148.8 169.9L1149.3 172.7L1149.8 170.2L1150.3 173.3L1150.8 169.6L1151.3 172.6L1151.8 170.1L1152.3 173.3L1152.8 170.1L1153.3 174.6L1153.8 170.8L1154.4 174.8L1154.9 171.4L1155.4 175.4L1155.9 170.7L1156.4 174.7L1156.9 171.6L1157.4 173.4L1157.9 170.8L1158.4 173.5L1158.9 171.5L1159.4 175.1L1159.9 171.3L1160.5 174.8L1161.0 171.6L1161.5 176.2L1162.0 170.3L1162.5 173.8L1163.0 169.8L1163.6 174.1L1164.1 169.3L1164.6 174.4L1165.1 170.7L1165.6 172.9L1166.1 169.9L1166.7 174.1L1167.2 169.9L1167.7 172.6L1168.2 169.0L1168.7 172.4L1169.3 168.0L1169.8 172.7L1170.3 168.9L1170.8 171.2L1171.3 168.6L1171.8 171.3L1172.3 168.1L1172.8 171.3L1173.3 167.9L1173.8 171.6L1174.3 168.0L1174.8 170.1L1175.3 167.9L1175.8 170.3L1176.3 166.9L1176.8 170.5L1177.3 166.2L1177.8 170.0L1178.3 166.9L1178.8 170.4L1179.3 167.5L1179.9 171.2L1180.4 167.6L1180.9 171.9L1181.4 168.2L1181.9 170.9L1182.4 167.5L1182.9 170.2L1183.4 166.9L1183.9 170.0L1184.4 167.1L1184.9 170.7L1185.4 168.6L1186.0 171.1L1186.5 167.9L1187.0 171.3L1187.5 168.8L1188.1 172.2L1188.6 168.5L1189.1 172.1L1189.6 167.7L1190.2 172.3L1190.7 169.0L1191.2 171.1L1191.7 169.0L1192.3 172.3L1192.8 168.5L1193.3 172.0L1193.8 169.2L1194.3 171.5L1194.8 168.8L1195.3 171.7L1195.8 168.2L1196.4 171.3L1196.9 168.2L1197.4 171.4L1197.9 167.2L1198.4 170.3L1198.9 168.4L1199.4 170.3L1199.9 166.9L1200.4 170.8L1200.9 167.2L1201.4 169.9L1201.9 166.2L1202.4 169.9L1203.0 166.9L1203.5 169.5L1204.0 167.0L1204.5 169.9L1205.0 166.9L1205.5 169.8L1206.0 167.1L1206.5 170.3L1207.0 167.1L1207.5 170.1L1208.0 165.5L1208.5 169.8L1209.0 166.8L1209.6 170.4L1210.1 166.9L1210.6 170.8L1211.1 166.8L1211.6 171.4L1212.1 167.2L1212.6 169.7L1213.1 166.9L1213.6 169.7L1214.1 166.8L1214.6 171.2L1215.1 167.7L1215.6 170.8L1216.2 167.3L1216.7 169.9L1217.2 166.9L1217.7 169.5L1218.2 166.3L1218.7 169.3L1219.2 166.6L1219.7 168.2L1220.2 166.4L1220.7 169.4L1221.2 165.2L1221.7 168.9L1222.2 165.6L1222.7 168.2L1223.2 164.6L1223.8 168.7L1224.3 164.8L1224.8 168.4L1225.3 165.7L1225.8 168.4L1226.3 164.4L1226.8 168.2L1227.3 164.0L1227.8 167.6L1228.3 165.0L1228.8 167.4L1229.4 164.2L1229.9 167.9L1230.4 165.2L1230.9 167.9L1231.4 165.1L1231.9 169.9L1232.4 165.9L1233.0 168.4L1233.5 166.4L1234.0 169.3L1234.5 165.3L1235.0 168.3L1235.5 165.5L1236.0 169.4L1236.5 165.8L1237.1 169.2L1237.6 166.8L1238.1 169.3L1238.6 166.1L1239.1 169.0L1239.6 165.3L1240.1 169.8L1240.6 167.1L1241.2 171.3L1241.7 168.6L1242.2 172.3L1242.7 168.6L1243.2 171.2L1243.7 169.1L1244.2 172.6L1244.7 168.9L1245.2 172.2L1245.7 170.2L1246.3 173.6L1246.8 171.5L1247.3 173.5L1247.8 171.2L1248.3 174.9L1248.8 172.6L1249.3 177.7L1249.8 172.8L1250.3 176.7L1250.9 172.7L1251.4 177.5L1251.9 174.7L1252.4 178.0L1252.9 174.4L1253.4 177.9L1254.0 175.5L1254.5 179.7L1255.0 176.1L1255.5 178.9L1256.0 175.8L1256.5 180.6L1257.1 177.4L1257.6 180.7L1258.1 177.5L1258.6 181.3L1259.1 178.5L1259.7 182.5L1260.2 179.5L1260.7 182.7L1261.2 179.0L1261.7 181.9L1262.2 179.1L1262.7 182.7L1263.2 179.0L1263.7 182.0L1264.2 178.4L1264.7 182.2L1265.2 178.9L1265.8 180.9L1266.3 178.9L1266.8 181.9L1267.3 178.5L1267.8 181.5L1268.3 179.1L1268.8 181.9L1269.3 179.1L1269.8 182.8L1270.3 179.0L1270.8 182.1L1271.3 179.5L1271.9 182.7L1272.4 180.0L1272.9 182.4L1273.4 179.7L1273.9 181.5L1274.4 178.2L1274.9 181.6L1275.4 178.8L1275.9 182.1L1276.4 178.7L1277.0 182.0L1277.5 179.1L1278.0 182.6L1278.5 178.9L1279.0 181.7L1279.5 179.6L1280.0 182.0L1280.5 179.2L1281.0 182.2L1281.5 178.3L1282.1 182.2L1282.6 178.9L1283.1 182.9L1283.6 178.9L1284.1 182.1L1284.6 178.7L1285.2 182.0L1285.7 177.7L1286.2 181.7L1286.7 178.4L1287.3 181.3L1287.8 177.2L1288.3 180.4L1288.8 176.7L1289.4 179.9L1289.9 175.6L1290.4 179.1L1290.9 176.7L1291.5 179.0L1292.0 175.4L1292.5 179.6L1293.0 175.8L1293.5 179.6L1294.0 174.6L1294.5 178.6L1295.0 173.4L1295.5 175.5L1296.1 172.9L1296.6 175.6L1297.1 171.2L1297.6 176.8L1298.1 172.3L1298.6 177.4L1299.1 172.3L1299.6 176.0L1300.1 171.1L1300.6 175.1L1301.1 171.1L1301.6 173.7L1302.1 171.1L1302.6 173.6L1303.2 169.8L1303.7 171.9L1304.2 169.0L1304.7 172.3L1305.2 169.1L1305.7 172.0L1306.2 168.6L1306.7 172.3L1307.2 169.4L1307.7 172.2L1308.2 168.6L1308.8 171.7L1309.3 168.7L1309.8 172.1L1310.3 169.1L1310.8 172.7L1311.3 168.7L1311.8 172.6L1312.3 169.1L1312.8 172.2L1313.4 167.5L1313.9 170.5L1314.4 168.5L1314.9 171.4L1315.4 168.4L1315.9 171.0L1316.4 166.6L1316.9 169.8L1317.5 166.7L1318.0 169.9L1318.5 167.1L1319.0 171.7L1319.5 167.1L1320.1 169.7L1320.6 165.7L1321.1 169.7L1321.6 166.6L1322.1 170.4L1322.6 166.3L1323.2 169.3L1323.7 165.1L1324.2 168.4L1324.7 164.8L1325.2 169.0L1325.8 165.9L1326.3 169.9L1326.8 165.9L1327.3 167.9L1327.8 164.8L1328.3 167.3L1328.8 164.5L1329.3 168.0L1329.8 164.2L1330.3 167.2L1330.8 164.7L1331.3 167.5L1331.8 164.2L1332.3 167.1L1332.9 164.6L1333.4 167.3L1333.9 163.6L1334.4 168.1L1334.9 165.4L1335.4 168.6L1335.9 164.6L1336.4 167.9L1336.9 164.4L1337.4 167.7L1337.9 164.5L1338.4 167.0L1338.9 164.3L1339.5 166.6L1340.0 163.1L1340.5 166.9L1341.0 164.6L1341.5 167.8L1342.0 164.5L1342.5 167.6L1343.0 165.5L1343.5 169.4L1344.0 165.5L1344.6 168.6L1345.1 166.0L1345.6 169.1L1346.1 166.1L1346.6 169.9L1347.1 165.8L1347.6 170.2L1348.1 166.0L1348.6 168.7L1349.1 166.1L1349.7 169.5L1350.2 167.0L1350.7 170.7L1351.2 168.1L1351.7 171.1L1352.2 167.3L1352.7 170.4L1353.2 166.9L1353.7 171.4L1354.2 168.5L1354.7 171.5L1355.3 168.4L1355.8 172.1L1356.3 168.5L1356.8 172.2L1357.3 168.9L1357.8 171.8L1358.3 169.4L1358.8 174.4L1359.3 169.2L1359.8 173.5L1360.4 169.9L1360.9 173.1L1361.4 170.9L1361.9 174.3L1362.4 169.2L1362.9 174.1L1363.5 168.8L1364.0 172.4L1364.5 169.2L1365.0 173.0L1365.5 170.4L1366.0 172.8L1366.5 168.3L1367.1 172.7L1367.6 168.3L1368.1 172.1L1368.6 168.8L1369.1 171.7L1369.6 168.5L1370.2 171.1L1370.7 167.5L1371.2 171.1L1371.7 167.5L1372.2 170.9L1372.7 166.5L1373.2 170.0L1373.7 166.1L1374.2 170.0L1374.7 166.5L1375.3 169.5L1375.8 165.8L1376.3 169.1L1376.8 164.0L1377.3 168.7L1377.8 164.7L1378.3 168.8L1378.8 165.7L1379.3 169.3L1379.8 164.5L1380.4 169.1L1380.9 165.1L1381.4 167.7L1381.9 164.3L1382.4 167.5L1382.9 164.0L1383.4 167.0L1383.9 163.7L1384.5 168.5L1385.0 165.1L1385.5 167.6L1386.0 164.9L1386.5 168.3L1387.0 164.1L1387.6 168.5L1388.1 164.2L1388.6 167.4L1389.1 164.3L1389.6 166.8L1390.1 163.3L1390.6 166.4L1391.2 162.5L1391.7 165.8L1392.2 163.1L1392.6 167.2L1393.1 164.2L1393.6 167.7L1394.1 163.4L1394.6 169.0L1395.1 165.9L1395.6 170.2L1396.1 165.8L1396.6 169.4L1397.0 167.4L1397.5 171.0L1398.0 168.8L1398.5 172.8L1399.0 170.6L1399.5 173.4L1400.0 170.9L1400.5 174.1L1401.0 172.3L1401.4 175.6L1401.9 173.3L1402.4 177.0L1402.9 174.5L1403.4 177.4L1403.9 175.2L1404.4 178.1L1404.9 175.1L1405.4 178.3L1405.8 175.7L1406.3 178.9L1406.8 175.8L1407.3 179.9L1407.8 177.0L1408.3 180.4L1408.8 177.5L1409.3 181.3L1409.8 177.5L1410.3 182.5L1410.8 177.6L1411.4 180.9L1411.9 177.9L1412.4 180.8L1412.9 176.8L1413.4 180.2L1414.0 177.2L1414.5 179.7L1415.0 176.1L1415.5 179.3L1416.1 176.4L1416.6 180.1L1417.1 175.8L1417.6 177.9L1418.1 174.3L1418.6 176.8L1419.0 173.5L1419.5 176.6L1420.0 173.5L1420.5 175.4L1421.0 171.8L1421.5 175.8L1422.0 171.6L1422.5 174.4L1423.0 171.4L1423.5 174.3L1423.9 170.6L1424.4 173.1L1424.9 169.9L1425.4 172.5L1425.9 170.2L1426.5 174.5L1427.0 169.7L1427.5 172.6L1428.0 168.3L1428.5 172.2L1429.0 169.1L1429.5 173.2L1430.1 169.0L1430.6 172.7L1431.1 168.3L1431.6 172.7L1432.1 168.4L1432.6 171.9L1433.2 167.4L1433.7 171.9L1434.2 169.4L1434.7 172.1L1435.2 168.6L1435.7 171.6L1436.2 168.1L1436.7 171.8L1437.2 169.5L1437.8 172.5L1438.3 169.3L1438.8 172.3L1439.3 168.4L1439.8 172.2L1440.3 169.7L1440.8 173.0L1441.3 169.6L1441.8 172.3L1442.3 169.4L1442.9 172.9L1443.4 170.3L1443.9 172.3L1444.4 169.0L1444.9 171.2L1445.4 168.8L1445.9 172.9L1446.4 168.9L1446.9 172.9L1447.5 169.6L1448.0 172.5L1448.5 169.4L1449.0 172.3L1449.5 170.0L1450.0 173.4L1450.5 170.1L1451.0 172.9L1451.5 170.1L1452.0 173.3L1452.6 169.7L1453.1 173.8L1453.6 171.0L1454.1 174.4L1454.6 171.5L1455.1 174.9L1455.6 173.0L1456.1 175.6L1456.6 172.3L1457.1 175.6L1457.7 172.2L1458.2 176.0L1458.7 172.6L1459.2 176.1L1459.7 173.2L1460.2 175.8L1460.8 172.4L1461.3 177.7L1461.8 174.7L1462.3 177.4L1462.8 174.7L1463.3 177.4L1463.9 174.6L1464.4 178.8L1464.9 175.8L1465.4 178.5L1465.9 175.5L1466.4 178.8L1467.0 175.8" fill="none" stroke="#f00" stroke-width="3.0" stroke-linejoin="round"/>
<path d="M923.1 210.5L929.7 203.9L936.3 210.5L929.7 217.1Z" fill="none" stroke="#f00" stroke-width="2.3"/><path d="M956.1 194.2L962.7 187.6L969.3 194.2L962.7 200.8Z" fill="none" stroke="#f00" stroke-width="2.3"/><path d="M989.1 184.2L995.7 177.6L1002.3 184.2L995.7 190.8Z" fill="none" stroke="#f00" stroke-width="2.3"/><path d="M1022.1 179.1L1028.7 172.5L1035.3 179.1L1028.7 185.7Z" fill="none" stroke="#f00" stroke-width="2.3"/><path d="M1055.1 172.9L1061.7 166.3L1068.3 172.9L1061.7 179.5Z" fill="none" stroke="#f00" stroke-width="2.3"/><path d="M1088.2 170.4L1094.8 163.8L1101.3 170.4L1094.8 177.0Z" fill="none" stroke="#f00" stroke-width="2.3"/><path d="M1121.2 176.2L1127.8 169.6L1134.4 176.2L1127.8 182.8Z" fill="none" stroke="#f00" stroke-width="2.3"/><path d="M1154.2 173.2L1160.8 166.6L1167.4 173.2L1160.8 179.8Z" fill="none" stroke="#f00" stroke-width="2.3"/><path d="M1187.2 170.4L1193.8 163.8L1200.4 170.4L1193.8 177.0Z" fill="none" stroke="#f00" stroke-width="2.3"/><path d="M1220.2 166.1L1226.8 159.5L1233.4 166.1L1226.8 172.7Z" fill="none" stroke="#f00" stroke-width="2.3"/><path d="M1253.2 179.8L1259.8 173.2L1266.4 179.8L1259.8 186.4Z" fill="none" stroke="#f00" stroke-width="2.3"/><path d="M1286.2 176.7L1292.8 170.1L1299.4 176.7L1292.8 183.3Z" fill="none" stroke="#f00" stroke-width="2.3"/><path d="M1319.2 167.0L1325.8 160.4L1332.4 167.0L1325.8 173.6Z" fill="none" stroke="#f00" stroke-width="2.3"/><path d="M1352.2 171.9L1358.8 165.3L1365.4 171.9L1358.8 178.5Z" fill="none" stroke="#f00" stroke-width="2.3"/><path d="M1385.2 165.2L1391.8 158.6L1398.4 165.2L1391.8 171.8Z" fill="none" stroke="#f00" stroke-width="2.3"/><path d="M1418.2 171.0L1424.8 164.4L1431.4 171.0L1424.8 177.6Z" fill="none" stroke="#f00" stroke-width="2.3"/><path d="M1451.3 173.8L1457.9 167.2L1464.5 173.8L1457.9 180.4Z" fill="none" stroke="#f00" stroke-width="2.3"/>
<path d="M929.7 463.9L930.2 466.6L930.6 465.0L931.1 468.1L931.6 466.0L932.1 469.1L932.6 467.3L933.1 470.5L933.6 468.3L934.1 471.6L934.6 469.7L935.1 472.8L935.6 470.0L936.1 472.5L936.6 470.4L937.1 474.3L937.6 471.3L938.2 473.0L938.7 472.0L939.2 474.1L939.7 471.9L940.2 474.2L940.7 471.8L941.2 474.9L941.8 472.2L942.3 475.0L942.8 472.9L943.3 475.5L943.8 473.7L944.3 476.6L944.9 474.9L945.4 477.5L945.9 474.5L946.4 477.1L946.9 474.9L947.5 476.8L948.0 474.7L948.5 477.5L949.0 475.3L949.6 477.6L950.1 475.0L950.6 478.1L951.1 474.2L951.6 478.3L952.2 475.0L952.7 477.8L953.2 475.6L953.7 478.5L954.2 475.5L954.7 478.4L955.2 475.4L955.8 478.6L956.3 476.1L956.8 478.6L957.3 476.9L957.8 479.0L958.3 476.8L958.9 479.7L959.4 477.1L959.9 479.8L960.4 477.2L960.9 479.5L961.4 477.5L961.9 480.2L962.4 477.0L963.0 480.1L963.5 477.6L964.0 479.7L964.5 478.1L965.0 479.9L965.5 478.5L966.0 482.4L966.5 478.9L967.0 481.8L967.6 478.7L968.1 482.7L968.6 479.9L969.1 482.7L969.6 480.5L970.1 482.7L970.6 480.8L971.1 482.8L971.6 480.6L972.1 484.1L972.7 481.2L973.2 484.2L973.7 481.4L974.2 484.1L974.7 481.7L975.2 484.8L975.7 482.9L976.2 485.0L976.8 482.5L977.3 485.3L977.8 483.6L978.3 486.1L978.8 484.4L979.3 487.0L979.9 483.7L980.4 487.6L980.9 484.1L981.4 488.0L981.9 484.9L982.4 488.3L982.9 484.9L983.5 487.7L984.0 485.3L984.5 487.9L985.0 485.6L985.5 488.5L986.0 484.9L986.5 488.3L987.0 485.0L987.5 488.8L988.0 486.5L988.6 488.8L989.1 486.5L989.6 488.6L990.1 486.7L990.6 488.7L991.1 487.0L991.6 489.5L992.1 486.5L992.6 490.1L993.1 486.9L993.7 489.4L994.2 487.3L994.7 489.7L995.2 487.3L995.7 490.0L996.2 487.9L996.8 489.7L997.3 487.2L997.8 488.6L998.3 485.7L998.8 488.6L999.4 485.9L999.9 488.3L1000.4 485.9L1000.9 488.8L1001.4 486.0L1002.0 489.5L1002.5 486.1L1003.0 489.0L1003.5 485.7L1004.0 488.1L1004.5 485.6L1005.1 487.3L1005.6 485.4L1006.1 487.3L1006.6 485.1L1007.1 487.7L1007.6 485.4L1008.1 487.3L1008.6 484.3L1009.1 487.7L1009.6 485.6L1010.2 488.8L1010.7 486.1L1011.2 488.1L1011.7 484.7L1012.2 487.8L1012.7 485.6L1013.2 488.0L1013.7 485.8L1014.2 487.8L1014.7 485.3L1015.3 487.5L1015.8 485.6L1016.3 489.1L1016.8 486.8L1017.3 488.7L1017.8 486.6L1018.3 490.2L1018.9 486.7L1019.4 489.7L1019.9 487.5L1020.4 491.0L1020.9 488.4L1021.4 490.6L1022.0 488.2L1022.5 491.7L1023.0 489.2L1023.5 491.9L1024.0 490.5L1024.5 492.7L1025.0 490.7L1025.6 492.8L1026.1 490.5L1026.6 493.1L1027.1 490.8L1027.6 493.4L1028.1 490.7L1028.6 494.0L1029.2 491.6L1029.7 494.0L1030.2 491.8L1030.7 494.9L1031.2 492.0L1031.7 495.0L1032.2 492.2L1032.8 495.3L1033.3 492.2L1033.8 495.1L1034.3 492.7L1034.8 495.0L1035.3 492.1L1035.8 495.1L1036.4 492.6L1036.9 494.9L1037.4 492.5L1037.9 496.2L1038.4 494.7L1038.9 496.9L1039.5 494.4L1040.0 497.0L1040.5 495.3L1041.0 498.0L1041.5 495.4L1042.0 498.5L1042.5 494.9L1043.1 497.4L1043.6 494.6L1044.1 497.7L1044.6 495.5L1045.1 499.2L1045.6 497.0L1046.1 499.4L1046.6 497.6L1047.1 500.1L1047.7 497.5L1048.2 499.7L1048.7 497.9L1049.2 500.7L1049.7 498.2L1050.2 500.1L1050.7 498.1L1051.2 500.6L1051.7 497.9L1052.2 500.3L1052.8 498.5L1053.3 500.7L1053.8 498.4L1054.3 501.3L1054.8 498.7L1055.3 500.5L1055.8 498.9L1056.3 500.8L1056.9 497.5L1057.4 501.2L1057.9 498.9L1058.4 500.2L1058.9 497.8L1059.5 500.7L1060.0 498.5L1060.5 500.9L1061.0 497.5L1061.6 499.9L1062.1 497.9L1062.6 499.6L1063.1 496.9L1063.6 500.0L1064.2 497.3L1064.7 500.6L1065.2 497.3L1065.7 499.6L1066.2 496.6L1066.7 500.5L1067.2 496.1L1067.8 499.3L1068.3 496.7L1068.8 499.2L1069.3 496.8L1069.8 499.7L1070.3 496.6L1070.8 499.6L1071.4 496.2L1071.9 498.5L1072.4 496.5L1072.9 499.2L1073.4 496.5L1073.9 498.2L1074.4 496.3L1075.0 499.0L1075.5 496.0L1076.0 498.6L1076.5 495.5L1077.0 498.1L1077.5 494.8L1078.0 498.3L1078.5 495.2L1079.0 498.0L1079.5 495.7L1080.1 498.4L1080.6 495.2L1081.1 497.2L1081.6 495.0L1082.1 497.9L1082.6 495.4L1083.1 497.7L1083.6 495.3L1084.1 499.2L1084.6 496.4L1085.2 498.3L1085.7 496.5L1086.2 499.2L1086.7 497.5L1087.2 499.4L1087.7 497.0L1088.2 499.6L1088.8 496.9L1089.3 499.5L1089.8 497.4L1090.3 500.1L1090.8 497.8L1091.3 500.7L1091.8 497.6L1092.4 500.5L1092.9 497.5L1093.4 501.6L1093.9 499.0L1094.4 501.1L1094.9 499.0L1095.5 501.4L1096.0 499.1L1096.5 502.0L1097.0 499.2L1097.5 501.5L1098.1 499.7L1098.6 501.5L1099.1 498.3L1099.6 502.1L1100.1 499.8L1100.7 501.8L1101.2 497.9L1101.7 501.9L1102.2 499.0L1102.8 501.5L1103.3 498.4L1103.8 501.7L1104.3 499.1L1104.8 501.8L1105.3 498.9L1105.8 501.9L1106.3 499.2L1106.8 500.9L1107.3 498.9L1107.9 501.1L1108.4 498.2L1108.9 500.4L1109.4 497.9L1109.9 500.5L1110.4 498.1L1110.9 500.7L1111.4 496.6L1111.9 499.9L1112.5 497.0L1113.0 499.6L1113.5 497.7L1114.0 499.7L1114.5 496.9L1115.0 499.8L1115.5 497.7L1116.0 499.5L1116.6 496.7L1117.1 499.4L1117.6 496.2L1118.1 498.3L1118.6 496.6L1119.1 498.3L1119.6 495.6L1120.2 498.1L1120.7 495.5L1121.2 498.4L1121.7 494.9L1122.2 497.3L1122.7 495.3L1123.2 498.1L1123.8 495.3L1124.3 497.8L1124.8 495.1L1125.3 497.9L1125.8 494.2L1126.3 497.7L1126.8 494.8L1127.3 496.7L1127.8 494.8L1128.4 496.9L1128.9 494.1L1129.4 497.2L1129.9 494.3L1130.4 497.4L1130.9 494.9L1131.4 497.7L1131.9 495.2L1132.4 497.3L1132.9 495.2L1133.5 497.7L1134.0 495.4L1134.5 499.1L1135.0 495.0L1135.5 497.4L1136.0 495.4L1136.5 497.6L1137.0 495.5L1137.5 498.3L1138.1 495.6L1138.6 498.9L1139.1 496.1L1139.6 498.8L1140.1 496.9L1140.6 499.5L1141.2 497.6L1141.7 499.9L1142.2 496.8L1142.7 500.2L1143.2 496.9L1143.7 500.8L1144.2 498.8L1144.8 501.2L1145.3 499.5L1145.8 502.0L1146.3 499.1L1146.8 501.3L1147.3 499.1L1147.8 501.4L1148.4 499.6L1148.9 501.8L1149.4 499.3L1149.9 501.4L1150.4 498.8L1150.9 502.4L1151.4 498.7L1152.0 501.4L1152.5 499.1L1153.0 500.7L1153.5 498.4L1154.0 500.5L1154.5 498.1L1155.0 500.6L1155.6 497.9L1156.1 499.7L1156.6 497.7L1157.1 499.6L1157.6 497.4L1158.1 500.1L1158.7 498.1L1159.2 500.6L1159.7 497.8L1160.2 500.1L1160.7 497.2L1161.2 499.9L1161.7 497.5L1162.3 499.3L1162.8 497.1L1163.3 499.4L1163.8 497.1L1164.3 500.7L1164.8 497.2L1165.3 499.4L1165.9 497.0L1166.4 499.7L1166.9 498.2L1167.4 502.0L1167.9 498.1L1168.5 501.1L1169.0 498.5L1169.5 502.1L1170.0 499.5L1170.6 502.4L1171.1 500.4L1171.6 503.3L1172.1 500.5L1172.6 503.8L1173.2 501.3L1173.7 504.4L1174.2 501.9L1174.7 503.8L1175.2 500.9L1175.7 503.3L1176.2 500.9L1176.7 503.2L1177.2 500.9L1177.8 503.8L1178.3 499.5L1178.8 502.8L1179.3 500.7L1179.8 503.4L1180.3 501.6L1180.8 504.2L1181.3 501.6L1181.8 503.8L1182.3 500.9L1182.9 504.0L1183.4 501.7L1183.9 504.2L1184.4 502.5L1184.9 505.2L1185.4 502.4L1185.9 504.3L1186.4 502.1L1187.0 504.7L1187.5 502.3L1188.0 503.9L1188.5 501.2L1189.0 503.9L1189.5 501.6L1190.0 503.5L1190.6 500.4L1191.1 502.8L1191.6 500.8L1192.1 503.5L1192.6 500.6L1193.1 503.9L1193.6 501.0L1194.2 503.5L1194.7 500.3L1195.2 503.1L1195.7 500.3L1196.3 502.7L1196.8 500.1L1197.3 502.8L1197.9 500.2L1198.4 503.0L1198.9 500.6L1199.5 502.5L1200.0 501.2L1200.5 503.3L1201.0 501.7L1201.5 503.9L1202.1 501.7L1202.6 504.2L1203.1 502.1L1203.6 504.7L1204.1 501.7L1204.6 504.7L1205.1 502.5L1205.7 505.1L1206.2 502.6L1206.7 504.6L1207.2 503.0L1207.7 505.7L1208.2 503.5L1208.7 507.0L1209.3 504.8L1209.8 506.8L1210.3 503.6L1210.8 506.1L1211.3 503.6L1211.8 506.1L1212.3 503.0L1212.8 506.0L1213.4 503.7L1213.9 506.6L1214.4 503.8L1214.9 506.2L1215.4 503.1L1215.9 505.8L1216.4 503.7L1216.9 506.1L1217.4 503.1L1217.9 506.1L1218.5 502.9L1219.0 504.8L1219.5 501.9L1220.0 503.9L1220.5 501.5L1221.0 504.8L1221.5 502.0L1222.0 504.8L1222.5 501.6L1223.1 505.1L1223.6 502.4L1224.1 504.8L1224.6 503.0L1225.1 505.1L1225.6 503.0L1226.1 506.2L1226.7 504.0L1227.2 507.2L1227.7 504.6L1228.2 506.3L1228.7 504.7L1229.2 506.7L1229.7 504.8L1230.3 507.6L1230.8 504.9L1231.3 508.0L1231.8 505.0L1232.3 507.0L1232.8 504.5L1233.4 506.4L1233.9 504.5L1234.4 506.3L1234.9 504.3L1235.4 506.7L1235.9 503.8L1236.4 505.7L1237.0 501.9L1237.5 505.1L1238.0 502.3L1238.5 503.9L1239.0 502.4L1239.5 504.8L1240.0 502.2L1240.6 504.7L1241.1 503.0L1241.6 504.8L1242.1 501.7L1242.6 503.0L1243.1 500.6L1243.6 502.8L1244.2 498.9L1244.7 501.6L1245.2 498.6L1245.7 500.5L1246.2 497.7L1246.7 499.9L1247.2 497.0L1247.8 499.4L1248.3 496.2L1248.8 498.5L1249.3 495.4L1249.8 497.5L1250.3 495.3L1250.9 497.5L1251.4 495.0L1251.9 496.6L1252.4 493.5L1252.9 496.5L1253.5 493.7L1254.0 495.0L1254.5 492.7L1255.0 495.4L1255.5 492.1L1256.1 494.8L1256.6 491.6L1257.1 494.3L1257.6 492.4L1258.2 494.9L1258.7 491.4L1259.2 493.9L1259.7 492.2L1260.2 494.6L1260.7 491.7L1261.2 493.7L1261.7 491.7L1262.2 493.3L1262.8 490.6L1263.3 493.1L1263.8 491.4L1264.3 494.2L1264.8 491.5L1265.3 492.7L1265.8 490.7L1266.3 493.1L1266.8 491.3L1267.3 492.8L1267.9 491.5L1268.4 493.4L1268.9 490.9L1269.4 493.8L1269.9 491.0L1270.4 494.1L1270.9 492.4L1271.4 493.6L1271.9 491.4L1272.4 494.1L1272.9 491.6L1273.5 493.5L1274.0 491.4L1274.5 493.2L1275.0 489.8L1275.5 494.0L1276.0 491.4L1276.5 494.1L1277.0 490.9L1277.5 493.7L1278.0 490.6L1278.5 493.7L1279.0 490.5L1279.5 493.7L1280.0 491.3L1280.5 494.0L1281.1 492.0L1281.6 494.0L1282.1 491.3L1282.6 495.0L1283.1 490.9L1283.6 493.9L1284.1 490.8L1284.6 492.7L1285.1 491.0L1285.6 493.7L1286.2 491.4L1286.7 494.2L1287.2 491.3L1287.7 494.0L1288.2 490.3L1288.7 494.1L1289.2 492.2L1289.8 494.6L1290.3 491.5L1290.8 494.4L1291.3 492.9L1291.8 495.9L1292.3 493.9L1292.8 496.1L1293.4 493.9L1293.9 496.0L1294.4 494.1L1294.9 496.9L1295.4 494.4L1295.9 498.1L1296.5 496.1L1297.0 498.1L1297.5 496.5L1298.0 499.5L1298.5 496.8L1299.0 499.5L1299.5 496.8L1300.1 498.8L1300.6 497.2L1301.1 499.8L1301.6 497.6L1302.1 500.0L1302.6 497.9L1303.1 501.2L1303.7 498.5L1304.2 501.5L1304.7 499.1L1305.2 501.4L1305.7 499.2L1306.2 501.0L1306.7 499.6L1307.2 503.0L1307.7 500.0L1308.2 502.3L1308.8 500.0L1309.3 503.1L1309.8 499.5L1310.3 502.0L1310.8 499.3L1311.3 502.4L1311.8 500.0L1312.3 502.1L1312.8 500.0L1313.4 502.5L1313.9 500.3L1314.4 502.6L1314.9 500.0L1315.4 502.7L1315.9 500.3L1316.4 502.8L1316.9 500.9L1317.4 503.0L1317.9 500.4L1318.5 503.8L1319.0 500.7L1319.5 503.0L1320.0 501.0L1320.5 503.6L1321.0 501.6L1321.5 504.0L1322.0 501.4L1322.5 504.7L1323.0 502.0L1323.6 504.4L1324.1 501.5L1324.6 506.0L1325.1 503.3L1325.6 505.7L1326.1 502.3L1326.6 504.9L1327.1 502.4L1327.6 505.2L1328.1 501.9L1328.7 505.3L1329.2 503.0L1329.7 505.5L1330.2 502.7L1330.7 505.1L1331.2 503.3L1331.7 506.4L1332.2 503.9L1332.7 507.7L1333.2 504.7L1333.8 506.8L1334.3 504.2L1334.8 506.2L1335.3 503.9L1335.8 506.6L1336.3 503.9L1336.8 506.8L1337.3 504.4L1337.8 506.4L1338.4 504.5L1338.9 506.6L1339.4 505.0L1339.9 506.9L1340.4 503.9L1340.9 506.3L1341.4 503.7L1341.9 505.6L1342.5 503.9L1343.0 506.9L1343.5 503.8L1344.0 506.0L1344.5 504.0L1345.0 505.8L1345.6 503.0L1346.1 506.0L1346.6 503.3L1347.1 505.8L1347.6 503.6L1348.1 506.0L1348.6 503.6L1349.2 505.0L1349.7 502.4L1350.2 504.4L1350.7 501.8L1351.2 503.9L1351.7 500.8L1352.2 503.4L1352.8 500.3L1353.3 503.0L1353.8 500.3L1354.3 502.8L1354.8 499.6L1355.3 502.2L1355.8 499.3L1356.4 501.5L1356.9 498.5L1357.4 501.1L1357.9 498.5L1358.4 500.7L1358.9 498.3L1359.5 500.1L1360.0 496.4L1360.5 500.3L1361.0 498.0L1361.5 500.5L1362.1 498.2L1362.6 500.0L1363.1 498.1L1363.6 500.3L1364.2 497.4L1364.7 500.9L1365.2 497.1L1365.7 499.1L1366.2 497.3L1366.8 499.9L1367.3 496.4L1367.8 500.1L1368.3 497.8L1368.9 501.6L1369.4 499.6L1369.9 501.7L1370.4 500.1L1370.9 502.3L1371.5 499.9L1372.0 502.8L1372.5 500.4L1373.0 503.3L1373.5 501.3L1374.1 503.5L1374.6 502.1L1375.1 504.2L1375.6 502.2L1376.2 504.6L1376.7 502.1L1377.2 504.3L1377.7 501.9L1378.2 504.7L1378.8 501.3L1379.3 506.0L1379.8 503.1L1380.3 506.4L1380.8 503.4L1381.4 505.6L1381.9 503.3L1382.4 506.2L1382.9 504.0L1383.4 506.9L1383.9 503.0L1384.5 505.7L1385.0 503.8L1385.5 505.6L1386.0 502.6L1386.5 505.6L1387.0 502.1L1387.6 505.1L1388.1 502.3L1388.6 504.7L1389.1 502.8L1389.6 505.0L1390.1 502.0L1390.6 504.6L1391.2 501.9L1391.7 505.9L1392.2 501.6L1392.7 504.5L1393.2 501.8L1393.7 503.6L1394.2 500.4L1394.8 503.3L1395.3 500.5L1395.8 503.0L1396.3 500.2L1396.8 502.4L1397.3 499.6L1397.8 500.8L1398.4 498.1L1398.9 501.4L1399.4 498.1L1399.9 499.2L1400.4 496.7L1400.9 498.6L1401.4 496.0L1402.0 498.3L1402.5 494.7L1403.0 497.4L1403.5 494.7L1404.1 497.8L1404.6 494.3L1405.1 496.6L1405.6 494.6L1406.1 496.6L1406.7 492.4L1407.2 494.9L1407.7 491.3L1408.2 494.8L1408.7 491.9L1409.3 493.9L1409.8 490.7L1410.3 493.9L1410.8 491.7L1411.4 494.3L1411.9 491.1L1412.4 493.9L1412.9 491.1L1413.4 493.4L1414.0 490.9L1414.5 493.3L1415.0 490.8L1415.5 493.6L1416.1 490.9L1416.6 492.9L1417.1 490.6L1417.6 494.3L1418.1 491.7L1418.6 495.0L1419.0 493.0L1419.5 497.4L1420.0 494.7L1420.5 497.4L1421.0 495.6L1421.5 498.0L1422.0 496.0L1422.5 499.2L1423.0 497.0L1423.5 500.4L1424.0 497.6L1424.5 500.3L1425.0 498.2L1425.6 501.0L1426.1 498.4L1426.6 501.2L1427.1 498.4L1427.7 501.0L1428.2 498.5L1428.7 501.0L1429.2 499.4L1429.7 501.6L1430.3 499.2L1430.8 502.1L1431.3 499.8L1431.8 501.9L1432.3 499.8L1432.8 501.7L1433.3 500.2L1433.8 501.7L1434.4 499.4L1434.9 502.0L1435.4 499.4L1435.9 502.6L1436.4 498.8L1436.9 502.6L1437.4 499.2L1437.9 502.2L1438.4 500.4L1438.9 501.9L1439.5 499.7L1440.0 502.7L1440.5 499.8L1441.0 502.3L1441.5 499.4L1442.0 501.6L1442.5 499.7L1443.0 500.9L1443.5 497.9L1444.1 500.8L1444.6 497.6L1445.1 499.9L1445.6 497.6L1446.1 500.3L1446.6 497.7L1447.2 499.5L1447.7 497.1L1448.2 499.8L1448.7 497.0L1449.2 499.0L1449.7 496.4L1450.2 499.8L1450.8 496.8L1451.3 499.6L1451.8 496.8L1452.3 498.5L1452.8 496.0L1453.3 498.1L1453.9 495.5L1454.4 497.8L1454.9 495.2L1455.4 497.2L1455.9 495.5L1456.5 498.0L1457.0 495.5L1457.5 498.0L1458.0 495.2L1458.6 498.3L1459.1 495.7L1459.6 497.8L1460.1 495.4L1460.6 497.2L1461.2 495.6L1461.7 497.0L1462.2 494.4L1462.8 496.3L1463.3 494.1L1463.8 496.4L1464.3 494.0L1464.9 496.6L1465.4 493.5L1465.9 495.1L1466.4 491.5L1467.0 493.7" fill="none" stroke="#f00" stroke-width="2.8" stroke-linejoin="round"/>
<rect x="921.4" y="70.1" width="593.4" height="528.2" fill="none" stroke="#000" stroke-width="3.7"/>
<text x="921.4" y="628.7" font-family='"Liberation Sans", sans-serif' font-size="33.7" text-anchor="middle">0</text>
<text x="1053.3" y="628.7" font-family='"Liberation Sans", sans-serif' font-size="33.7" text-anchor="middle">20</text>
<text x="1185.1" y="628.7" font-family='"Liberation Sans", sans-serif' font-size="33.7" text-anchor="middle">40</text>
<text x="1317.0" y="628.7" font-family='"Liberation Sans", sans-serif' font-size="33.7" text-anchor="middle">60</text>
<text x="1448.9" y="628.7" font-family='"Liberation Sans", sans-serif' font-size="33.7" text-anchor="middle">80</text>
<text x="914.9" y="610.2" font-family='"Liberation Sans", sans-serif' font-size="33.7" text-anchor="end">0</text>
<text x="914.9" y="504.6" font-family='"Liberation Sans", sans-serif' font-size="33.7" text-anchor="end">20</text>
<text x="914.9" y="398.9" font-family='"Liberation Sans", sans-serif' font-size="33.7" text-anchor="end">40</text>
<text x="914.9" y="293.3" font-family='"Liberation Sans", sans-serif' font-size="33.7" text-anchor="end">60</text>
<text x="914.9" y="187.6" font-family='"Liberation Sans", sans-serif' font-size="33.7" text-anchor="end">80</text>
<text x="914.9" y="82.0" font-family='"Liberation Sans", sans-serif' font-size="33.7" text-anchor="end">100</text>
<text x="1218.1" y="663.9" font-family='"Liberation Sans", sans-serif' font-size="37.2" text-anchor="middle">Time (ps)</text>
<text transform="translate(846.1 332.2) rotate(-90)" font-family='"Liberation Sans", sans-serif' font-size="37.2" text-anchor="middle">Coordination (%)</text>
</g>
<g id="panel-c">
<path d="M157.9 1315.8v-7.0M157.9 780.9v7.0M191.3 1315.8v-7.0M191.3 780.9v7.0M224.7 1315.8v-7.0M224.7 780.9v7.0M258.0 1315.8v-13.0M258.0 780.9v13.0M291.4 1315.8v-7.0M291.4 780.9v7.0M324.8 1315.8v-7.0M324.8 780.9v7.0M358.2 1315.8v-7.0M358.2 780.9v7.0M391.6 1315.8v-13.0M391.6 780.9v13.0M424.9 1315.8v-7.0M424.9 780.9v7.0M458.3 1315.8v-7.0M458.3 780.9v7.0M491.7 1315.8v-7.0M491.7 780.9v7.0M525.1 1315.8v-13.0M525.1 780.9v13.0M558.5 1315.8v-7.0M558.5 780.9v7.0M591.9 1315.8v-7.0M591.9 780.9v7.0M625.2 1315.8v-7.0M625.2 780.9v7.0M658.6 1315.8v-13.0M658.6 780.9v13.0M692.0 1315.8v-7.0M692.0 780.9v7.0M124.5 1248.9h7.0M725.4 1248.9h-7.0M124.5 1182.1h13.0M725.4 1182.1h-13.0M124.5 1115.2h7.0M725.4 1115.2h-7.0M124.5 1048.3h13.0M725.4 1048.3h-13.0M124.5 981.5h7.0M725.4 981.5h-7.0M124.5 914.6h13.0M725.4 914.6h-13.0M124.5 847.8h7.0M725.4 847.8h-7.0" stroke="#000" stroke-width="1.7" fill="none"/>
<path d="M130.8 981.2L131.0 982.7L131.3 979.0L131.6 981.1L131.8 976.3L132.1 976.7L132.4 972.3L132.6 973.7L132.9 970.4L133.2 970.6L133.4 966.5L133.7 966.9L134.0 962.6L134.4 964.7L134.7 960.7L135.1 961.8L135.4 958.5L135.8 960.5L136.1 955.7L136.5 958.1L136.8 953.2L137.1 956.5L137.5 950.8L137.8 952.4L138.2 949.0L138.5 950.7L138.9 944.8L139.2 947.6L139.6 942.9L139.9 945.4L140.3 941.5L140.7 944.4L141.0 938.3L141.4 940.1L141.8 935.8L142.1 937.8L142.5 933.2L142.9 934.7L143.2 930.9L143.6 933.4L144.0 929.5L144.3 930.3L144.7 927.1L145.1 927.8L145.4 923.4L145.9 926.0L146.4 922.6L146.9 924.1L147.4 920.3L147.9 922.6L148.4 919.7L148.8 920.8L149.3 917.1L149.8 920.8L150.3 916.0L150.8 917.7L151.3 914.6L151.8 916.8L152.4 913.6L152.9 916.0L153.4 913.2L154.0 915.6L154.5 914.0L155.0 916.2L155.6 913.1L156.1 914.8L156.6 912.6L157.2 915.1L157.6 911.3L158.1 913.6L158.6 909.4L159.1 914.0L159.6 910.3L160.1 912.8L160.6 909.4L161.1 911.5L161.6 907.2L162.0 910.5L162.5 907.5L163.0 909.7L163.5 907.1L164.0 908.5L164.5 905.7L164.9 907.4L165.4 904.6L165.8 906.6L166.3 903.0L166.7 904.7L167.2 901.3L167.7 902.7L168.1 899.5L168.6 901.6L169.0 897.4L169.5 899.0L169.9 895.1L170.4 897.6L170.9 893.4L171.3 896.1L171.8 893.1L172.3 895.3L172.8 892.7L173.3 894.7L173.8 891.7L174.3 893.8L174.8 891.0L175.3 893.9L175.7 890.6L176.2 893.6L176.7 890.7L177.2 892.4L177.7 889.2L178.2 891.2L178.7 889.1L179.2 892.4L179.7 888.9L180.2 892.6L180.8 890.5L181.3 894.1L181.8 891.4L182.3 894.3L182.8 892.4L183.4 895.2L183.9 892.0L184.4 894.3L184.9 892.5L185.5 894.8L186.0 893.1L186.5 895.1L187.0 892.2L187.5 896.7L188.0 893.9L188.5 896.5L189.1 893.9L189.6 897.2L190.1 894.1L190.6 897.1L191.1 894.5L191.6 896.6L192.1 893.8L192.6 896.7L193.2 893.2L193.7 897.7L194.2 895.5L194.7 898.9L195.2 895.6L195.7 898.4L196.2 895.1L196.7 898.0L197.3 895.6L197.8 897.7L198.3 895.0L198.8 897.2L199.3 894.5L199.8 897.3L200.4 895.4L200.9 898.2L201.4 894.8L201.9 896.5L202.4 893.8L202.9 896.8L203.5 894.0L204.0 897.5L204.5 894.9L205.0 896.8L205.5 893.4L206.1 897.1L206.6 893.3L207.1 895.6L207.6 893.9L208.1 895.2L208.6 892.7L209.1 895.0L209.6 893.1L210.1 895.5L210.6 892.3L211.2 895.1L211.7 890.7L212.2 894.0L212.7 891.8L213.2 893.7L213.7 891.1L214.2 892.7L214.7 890.0L215.2 892.2L215.7 890.3L216.3 891.9L216.8 889.0L217.3 892.5L217.8 888.8L218.3 892.0L218.8 888.8L219.4 892.0L219.9 888.0L220.4 890.9L220.9 888.0L221.4 890.4L222.0 887.2L222.5 889.9L223.0 887.0L223.5 889.1L224.0 885.9L224.6 888.6L225.1 886.3L225.6 888.7L226.2 886.6L226.7 888.9L227.2 886.9L227.8 890.1L228.3 887.7L228.9 891.3L229.4 888.8L230.0 892.1L230.5 889.5L231.0 890.6L231.5 886.8L232.0 890.1L232.5 886.9L232.9 889.6L233.4 884.6L233.9 887.9L234.4 884.9L234.9 886.7L235.4 883.2L235.9 884.8L236.4 881.7L236.9 884.7L237.3 880.4L237.8 883.1L238.3 879.2L238.8 882.2L239.3 876.9L239.8 879.6L240.3 875.6L240.8 878.6L241.3 874.8L241.7 877.7L242.2 873.8L242.7 875.2L243.2 871.8L243.7 874.3L244.2 869.9L244.8 873.7L245.3 871.0L245.8 874.3L246.3 870.9L246.8 873.4L247.3 871.0L247.8 873.6L248.4 870.5L248.9 872.9L249.4 870.1L249.9 872.1L250.4 869.6L250.9 872.2L251.5 869.0L252.0 871.5L252.5 868.5L253.0 871.1L253.5 868.0L254.0 871.7L254.5 868.9L255.0 872.2L255.6 869.7L256.1 872.2L256.6 868.0L257.1 872.2L257.6 869.8L258.1 872.0L258.6 870.2L259.1 872.4L259.7 869.2L260.2 872.8L260.7 870.6L261.2 872.7L261.7 868.4L262.2 872.6L262.7 869.8L263.2 872.8L263.8 870.2L264.3 873.2L264.8 871.2L265.3 874.6L265.8 872.3L266.3 875.7L266.9 873.3L267.4 875.6L267.9 872.6L268.4 876.5L268.9 873.8L269.4 875.8L270.0 874.3L270.5 877.7L271.0 875.1L271.5 877.8L272.0 875.6L272.6 878.1L273.0 873.5L273.5 876.3L274.0 873.1L274.5 875.4L275.0 872.8L275.5 874.8L276.0 872.0L276.5 874.4L277.0 871.7L277.4 873.8L277.9 870.5L278.4 873.1L278.9 869.7L279.4 872.4L279.9 868.8L280.4 870.6L280.9 867.2L281.4 869.9L281.9 867.0L282.5 869.7L283.0 866.3L283.5 868.6L284.0 865.2L284.5 867.8L285.1 864.2L285.6 866.2L286.1 863.6L286.6 866.2L287.2 863.3L287.7 866.0L288.2 862.1L288.7 865.3L289.2 862.0L289.8 864.6L290.3 861.7L290.8 864.5L291.3 862.1L291.8 863.5L292.3 861.4L292.9 864.4L293.4 861.3L293.9 864.0L294.4 861.8L294.9 863.4L295.4 860.9L296.0 863.8L296.5 861.1L297.0 863.0L297.5 860.7L298.0 863.7L298.6 860.7L299.1 863.5L299.6 861.2L300.1 863.5L300.6 860.1L301.1 863.0L301.7 860.7L302.2 863.6L302.7 860.9L303.2 863.7L303.7 861.0L304.2 863.5L304.8 860.9L305.3 863.7L305.8 861.2L306.3 864.1L306.8 861.3L307.3 863.7L307.9 860.9L308.4 863.3L308.9 861.5L309.4 863.6L309.9 860.6L310.4 862.3L310.9 860.0L311.5 862.8L312.0 859.4L312.5 861.9L313.0 859.6L313.5 861.8L314.0 859.4L314.6 862.2L315.1 858.7L315.6 862.7L316.1 858.4L316.6 862.6L317.1 858.6L317.7 862.4L318.2 859.2L318.7 861.9L319.2 859.3L319.8 862.1L320.3 860.2L320.8 862.9L321.3 860.2L321.8 862.9L322.4 860.2L322.9 862.0L323.4 859.8L323.9 862.3L324.4 860.8L325.0 863.9L325.5 861.8L326.0 864.3L326.5 862.3L327.1 864.8L327.6 862.8L328.1 866.9L328.6 863.2L329.1 866.4L329.7 864.5L330.2 867.6L330.7 865.0L331.2 867.7L331.7 865.6L332.2 869.6L332.7 866.8L333.2 870.6L333.7 867.8L334.2 872.8L334.6 870.8L335.1 873.8L335.6 872.2L336.1 876.7L336.6 873.7L337.1 877.5L337.6 873.6L338.2 876.6L338.7 873.5L339.2 875.7L339.8 873.4L340.3 876.8L340.8 874.2L341.4 875.8L341.9 873.7L342.4 875.2L343.0 871.9L343.5 874.4L343.9 871.2L344.4 873.8L344.9 871.0L345.4 872.4L345.9 869.2L346.4 871.1L346.9 867.4L347.4 870.1L347.9 868.0L348.3 869.9L348.8 866.2L349.3 867.9L349.8 864.7L350.3 866.5L350.8 863.5L351.3 867.7L351.8 864.0L352.3 866.0L352.9 863.7L353.4 865.0L353.9 862.6L354.4 864.4L355.0 862.1L355.5 865.5L356.0 862.1L356.5 864.4L357.0 861.5L357.6 863.8L358.1 860.8L358.6 864.2L359.1 861.2L359.7 863.8L360.2 861.6L360.7 863.9L361.3 860.8L361.8 865.1L362.3 862.0L362.9 863.9L363.4 862.1L363.9 864.7L364.5 862.9L365.0 865.3L365.5 862.7L366.0 865.4L366.6 863.5L367.1 866.8L367.6 864.8L368.1 866.7L368.6 864.8L369.2 867.2L369.7 865.7L370.2 867.6L370.7 866.3L371.3 868.9L371.8 866.7L372.3 869.9L372.8 867.8L373.4 870.7L373.9 868.5L374.4 870.8L375.0 869.7L375.5 871.9L376.0 869.8L376.6 873.3L377.1 869.8L377.6 873.0L378.2 870.3L378.6 872.6L379.1 869.6L379.5 871.8L380.0 867.7L380.4 869.3L380.9 865.7L381.3 867.7L381.8 864.2L382.2 866.1L382.7 862.6L383.1 863.7L383.6 860.3L384.0 861.9L384.6 859.6L385.1 862.2L385.6 858.6L386.2 861.0L386.7 857.7L387.2 859.6L387.8 857.1L388.3 859.4L388.8 856.4L389.4 859.3L389.9 856.5L390.3 859.5L390.8 858.8L391.2 861.3L391.6 860.3L392.1 863.4L392.5 860.5L392.9 864.7L393.4 861.8L393.8 866.1L394.2 864.9L394.7 869.0L395.1 867.0L395.6 869.5L396.0 867.6L396.4 872.6L396.9 869.8L397.3 873.6L397.7 870.8L398.2 874.6L398.6 873.1L399.0 876.2L399.5 875.3L399.9 880.0L400.3 878.0L400.8 882.9L401.2 881.0L401.6 885.0L402.1 881.2L402.7 884.3L403.2 882.2L403.7 884.0L404.2 880.5L404.7 883.3L405.2 880.9L405.7 883.2L406.3 880.7L406.8 882.8L407.3 881.0L407.9 884.2L408.4 881.6L408.9 884.8L409.5 882.4L410.0 885.5L410.5 882.6L411.0 885.1L411.6 882.4L412.1 886.7L412.6 882.1L413.1 885.7L413.7 881.9L414.2 886.1L414.7 882.1L415.2 884.9L415.8 881.3L416.3 883.8L416.7 880.6L417.2 882.9L417.7 879.3L418.2 881.2L418.6 878.2L419.1 880.1L419.6 877.1L420.1 878.8L420.6 874.8L421.0 877.1L421.5 874.3L422.0 875.7L422.5 872.2L422.9 874.3L423.4 871.0L423.9 872.4L424.4 869.5L424.9 871.5L425.4 868.6L425.9 870.7L426.4 867.5L426.9 870.0L427.4 866.7L427.9 869.1L428.4 866.1L428.9 867.3L429.4 864.1L429.8 866.0L430.3 863.4L430.8 864.9L431.3 862.7L431.8 866.3L432.3 864.0L432.8 866.7L433.3 863.6L433.8 868.0L434.3 865.7L434.8 868.1L435.3 866.3L435.8 870.2L436.3 866.5L436.8 868.5L437.3 865.9L437.8 869.7L438.3 866.1L438.8 868.8L439.3 866.1L439.8 869.7L440.3 866.7L440.8 869.3L441.3 866.5L441.8 868.8L442.3 865.7L442.8 868.2L443.3 865.0L443.8 867.0L444.3 865.1L444.8 867.3L445.3 864.4L445.8 866.3L446.3 863.4L446.8 865.0L447.3 863.7L447.8 866.3L448.4 864.0L448.9 868.2L449.4 865.5L449.9 867.8L450.5 865.3L451.0 869.3L451.5 867.0L452.0 869.8L452.5 868.0L453.1 872.8L453.5 869.7L453.9 873.0L454.4 871.4L454.8 876.4L455.3 873.1L455.7 876.4L456.2 874.7L456.6 878.7L457.0 876.2L457.5 879.8L457.9 878.4L458.4 882.2L458.8 879.7L459.3 883.1L459.8 879.7L460.4 882.2L460.9 880.1L461.4 883.2L461.9 881.2L462.4 884.5L463.0 882.1L463.5 885.4L464.0 883.5L464.5 885.7L465.0 883.1L465.5 885.3L466.0 881.5L466.4 883.8L466.9 880.5L467.4 882.3L467.9 878.8L468.4 880.3L468.8 877.6L469.3 879.7L469.8 877.3L470.3 878.8L470.7 875.0L471.2 876.7L471.7 872.9L472.2 874.9L472.7 871.8L473.1 873.8L473.6 870.0L474.1 871.6L474.6 868.2L475.1 870.7L475.5 866.2L476.0 869.5L476.5 866.1L477.0 869.0L477.5 864.7L478.1 866.9L478.6 864.6L479.1 867.3L479.6 864.0L480.1 866.7L480.6 864.5L481.1 866.0L481.6 863.0L482.2 865.0L482.7 862.4L483.2 864.7L483.7 861.1L484.2 864.6L484.7 861.1L485.3 863.6L485.8 861.6L486.3 863.1L486.8 860.5L487.3 862.1L487.9 859.9L488.4 862.9L488.9 859.6L489.4 862.4L489.9 859.0L490.3 860.4L490.8 857.4L491.3 859.3L491.8 857.2L492.3 859.0L492.7 855.4L493.2 856.8L493.7 854.9L494.2 856.5L494.7 852.7L495.2 855.5L495.7 853.5L496.2 856.0L496.7 854.7L497.3 857.4L497.8 854.2L498.3 857.2L498.8 855.2L499.3 858.0L499.9 855.4L500.4 858.8L500.9 856.2L501.4 858.3L502.0 854.8L502.5 856.5L503.0 853.7L503.5 857.7L504.0 854.1L504.6 856.0L505.1 853.7L505.6 854.8L506.1 852.0L506.6 855.4L507.1 852.0L507.7 855.4L508.2 852.5L508.7 855.3L509.2 851.8L509.7 856.4L510.2 853.1L510.7 856.6L511.2 853.6L511.8 856.4L512.3 854.8L512.8 856.9L513.3 855.3L513.8 858.2L514.3 855.6L514.9 859.0L515.4 856.5L515.9 859.5L516.4 856.4L516.9 860.1L517.5 857.8L518.0 860.2L518.5 858.3L519.0 861.9L519.6 860.1L520.1 862.7L520.6 860.9L521.1 863.5L521.6 861.8L522.2 865.1L522.7 863.3L523.2 865.7L523.7 863.8L524.2 866.9L524.8 865.1L525.3 868.1L525.8 866.2L526.3 868.6L526.9 866.7L527.4 870.1L527.9 867.4L528.4 871.3L528.9 869.2L529.5 872.5L530.0 870.9L530.5 873.9L531.0 871.0L531.5 873.8L532.0 871.0L532.6 874.6L533.1 871.4L533.6 875.1L534.1 872.3L534.6 875.7L535.1 872.8L535.6 875.9L536.1 874.4L536.6 877.4L537.2 874.5L537.7 876.5L538.2 873.3L538.7 875.7L539.2 872.4L539.8 873.7L540.3 871.0L540.8 873.6L541.3 870.7L541.8 872.6L542.4 870.0L542.9 872.0L543.4 868.2L543.9 870.7L544.5 868.8L545.0 871.4L545.5 868.3L546.0 870.2L546.5 867.1L547.1 870.2L547.6 867.1L548.1 869.1L548.6 866.5L549.1 869.1L549.7 865.6L550.2 869.7L550.7 867.3L551.2 870.5L551.7 868.7L552.2 870.7L552.7 868.9L553.2 872.4L553.8 869.1L554.3 872.5L554.8 869.9L555.3 873.1L555.8 871.4L556.3 874.8L556.8 870.6L557.3 874.1L557.8 871.6L558.3 874.7L558.8 872.7L559.4 874.8L559.9 873.2L560.4 876.2L560.9 873.4L561.4 875.7L561.9 873.5L562.4 875.7L562.9 872.8L563.4 875.5L563.9 873.3L564.4 875.6L564.9 872.9L565.4 876.1L565.9 873.2L566.5 876.1L567.0 873.1L567.5 874.9L568.0 871.6L568.5 874.3L569.0 871.8L569.5 874.0L570.0 870.0L570.6 872.8L571.1 870.5L571.6 872.2L572.1 869.2L572.6 872.9L573.1 870.6L573.6 872.8L574.1 870.8L574.7 873.5L575.2 871.0L575.7 874.0L576.2 871.6L576.7 875.0L577.2 871.7L577.7 874.5L578.2 870.7L578.8 874.1L579.3 871.5L579.8 873.3L580.3 871.3L580.8 874.3L581.3 870.7L581.9 873.5L582.4 870.2L582.9 872.3L583.4 868.5L584.0 870.1L584.5 867.4L585.0 870.1L585.5 867.9L586.1 869.8L586.6 867.3L587.2 869.1L587.7 867.1L588.2 869.3L588.8 867.5L589.3 870.8" fill="none" stroke="#000" stroke-width="2.8" stroke-linejoin="round"/>
<path d="M124.2 982.8L130.8 976.2L137.4 982.8L130.8 989.4Z" fill="none" stroke="#000" stroke-width="2.3"/><path d="M157.7 907.4L164.3 900.8L170.9 907.4L164.3 914.0Z" fill="none" stroke="#000" stroke-width="2.3"/><path d="M191.1 896.9L197.7 890.3L204.3 896.9L197.7 903.5Z" fill="none" stroke="#000" stroke-width="2.3"/><path d="M224.6 889.4L231.2 882.8L237.8 889.4L231.2 896.0Z" fill="none" stroke="#000" stroke-width="2.3"/><path d="M258.0 872.1L264.6 865.5L271.2 872.1L264.6 878.7Z" fill="none" stroke="#000" stroke-width="2.3"/><path d="M291.5 862.8L298.1 856.2L304.7 862.8L298.1 869.4Z" fill="none" stroke="#000" stroke-width="2.3"/><path d="M325.0 867.2L331.6 860.6L338.2 867.2L331.6 873.8Z" fill="none" stroke="#000" stroke-width="2.3"/><path d="M358.4 864.1L365.0 857.5L371.6 864.1L365.0 870.7Z" fill="none" stroke="#000" stroke-width="2.3"/><path d="M391.9 874.5L398.5 867.9L405.1 874.5L398.5 881.1Z" fill="none" stroke="#000" stroke-width="2.3"/><path d="M425.3 865.2L431.9 858.6L438.5 865.2L431.9 871.8Z" fill="none" stroke="#000" stroke-width="2.3"/><path d="M458.8 883.5L465.4 876.9L472.0 883.5L465.4 890.1Z" fill="none" stroke="#000" stroke-width="2.3"/><path d="M492.3 856.6L498.9 850.0L505.5 856.6L498.9 863.2Z" fill="none" stroke="#000" stroke-width="2.3"/><path d="M525.7 872.8L532.3 866.2L538.9 872.8L532.3 879.4Z" fill="none" stroke="#000" stroke-width="2.3"/><path d="M559.2 874.2L565.8 867.6L572.4 874.2L565.8 880.8Z" fill="none" stroke="#000" stroke-width="2.3"/>
<path d="M133.7 966.9L134.1 971.2L134.6 968.1L135.0 972.4L135.5 971.2L135.9 974.7L136.4 973.5L136.8 976.5L137.3 974.1L137.8 978.3L138.2 976.0L138.7 979.8L139.1 975.6L139.6 980.8L140.1 978.2L140.6 981.6L141.1 978.3L141.6 981.9L142.1 979.0L142.7 982.6L143.2 979.1L143.7 982.3L144.2 978.7L144.7 983.8L145.3 981.8L145.8 985.0L146.3 981.6L146.8 984.8L147.3 981.1L147.8 984.9L148.4 982.3L148.8 983.5L149.2 978.0L149.6 981.4L150.1 977.7L150.5 979.6L150.9 976.5L151.4 979.0L151.8 975.1L152.2 976.5L152.6 973.5L153.1 976.2L153.5 970.9L153.9 973.0L154.3 968.1L154.8 970.4L155.2 966.7L155.6 968.5L156.1 965.4L156.5 967.1L156.9 963.2L157.4 965.5L157.8 961.3L158.2 963.6L158.7 961.5L159.1 963.2L159.6 959.8L160.0 962.0L160.4 957.6L160.9 959.1L161.3 955.1L161.7 957.5L162.2 953.3L162.6 954.7L163.0 951.3L163.5 953.1L164.0 948.7L164.5 952.4L165.0 949.3L165.5 951.3L166.0 948.0L166.5 950.7L166.9 947.6L167.4 950.8L167.9 947.0L168.4 948.6L168.9 945.0L169.4 946.6L169.9 943.8L170.4 946.7L170.9 942.0L171.4 944.8L171.9 941.7L172.5 944.3L173.0 941.7L173.5 945.1L174.1 942.0L174.6 944.9L175.1 942.4L175.7 946.2L176.2 941.9L176.7 945.2L177.2 942.3L177.8 945.4L178.3 942.9L178.8 946.3L179.3 942.7L179.8 946.9L180.3 944.1L180.9 947.9L181.4 945.2L181.9 948.0L182.4 946.0L182.9 949.5L183.4 946.2L184.0 949.8L184.5 946.2L185.0 950.0L185.5 947.8L186.0 950.0L186.6 946.5L187.1 948.9L187.6 946.0L188.1 948.9L188.6 945.2L189.2 947.5L189.7 944.1L190.2 946.6L190.7 942.0L191.3 946.0L191.8 943.7L192.3 945.7L192.8 942.2L193.3 944.6L193.8 940.8L194.2 943.6L194.6 938.9L195.1 940.3L195.5 936.1L195.9 938.2L196.3 935.1L196.8 936.8L197.2 932.7L197.6 934.8L198.0 931.4L198.5 933.2L198.9 929.6L199.3 932.0L199.8 927.7L200.2 929.8L200.7 925.2L201.2 927.3L201.7 924.6L202.1 927.1L202.6 922.4L203.1 925.2L203.6 921.0L204.1 923.4L204.6 920.5L205.1 922.6L205.6 918.8L206.1 921.4L206.6 917.4L207.1 922.9L207.6 918.7L208.1 920.5L208.6 917.9L209.1 920.8L209.6 918.5L210.1 920.6L210.6 919.1L211.2 920.9L211.7 918.5L212.2 921.3L212.7 918.1L213.2 919.7L213.7 917.5L214.2 920.3L214.7 916.1L215.2 920.0L215.7 917.0L216.3 920.6L216.8 917.1L217.3 920.8L217.8 917.5L218.3 919.7L218.8 915.4L219.4 921.1L219.9 917.1L220.4 920.1L220.9 917.7L221.4 920.0L222.0 916.7L222.5 919.5L223.0 915.7L223.5 919.6L224.0 916.0L224.6 917.9L225.1 915.0L225.6 917.1L226.1 914.2L226.7 916.4L227.2 913.4L227.7 917.2L228.2 913.8L228.7 917.3L229.3 914.5L229.8 917.8L230.3 914.6L230.8 917.3L231.4 914.8L231.9 917.5L232.4 913.3L232.9 917.3L233.4 912.4L233.9 915.8L234.5 913.3L235.0 915.1L235.5 911.8L236.0 916.2L236.5 911.3L237.0 915.8L237.5 911.7L238.0 913.7L238.5 911.0L239.0 913.3L239.6 910.4L240.1 912.0L240.6 909.2L241.1 911.5L241.6 909.1L242.1 910.6L242.6 907.5L243.1 910.0L243.6 907.1L244.2 910.1L244.7 906.6L245.2 909.8L245.7 907.0L246.2 910.1L246.7 906.7L247.2 909.8L247.7 907.6L248.3 910.2L248.8 906.8L249.3 910.6L249.8 907.4L250.3 910.4L250.8 908.4L251.3 911.3L251.9 909.0L252.4 912.3L252.9 910.4L253.4 912.9L253.9 909.5L254.4 913.4L255.0 910.3L255.5 913.4L256.0 910.3L256.5 912.9L257.0 909.7L257.5 913.2L258.0 909.9L258.6 912.5L259.1 909.7L259.6 912.9L260.1 910.4L260.6 913.9L261.1 910.8L261.6 913.8L262.2 910.7L262.7 914.2L263.2 911.6L263.7 913.6L264.2 910.8L264.7 915.3L265.2 910.8L265.8 912.6L266.3 909.3L266.8 912.0L267.3 909.5L267.8 911.2L268.3 906.8L268.8 910.9L269.4 907.3L269.9 909.7L270.4 908.0L270.9 909.9L271.4 905.9L271.9 909.6L272.4 906.7L273.0 909.3L273.5 905.6L274.0 907.9L274.5 903.9L275.0 906.6L275.5 904.2L276.0 906.3L276.5 903.1L277.1 906.0L277.6 902.9L278.1 905.4L278.6 902.4L279.1 906.9L279.6 903.8L280.1 906.2L280.6 903.6L281.1 906.6L281.7 902.5L282.2 905.5L282.7 902.0L283.2 905.9L283.7 902.5L284.2 905.5L284.7 903.8L285.2 905.4L285.7 902.4L286.2 905.3L286.8 902.2L287.3 904.2L287.8 901.3L288.3 903.2L288.9 900.7L289.4 904.7L289.9 901.5L290.4 904.0L290.9 900.2L291.5 903.8L292.0 900.6L292.5 902.5L293.0 900.1L293.5 902.6L294.1 898.9L294.6 901.3L295.0 898.6L295.5 900.1L296.0 897.1L296.5 901.3L297.0 896.4L297.5 899.5L298.0 895.9L298.5 897.6L299.0 893.8L299.4 896.9L299.9 892.9L300.4 896.1L300.9 893.4L301.4 895.4L301.9 891.9L302.4 895.7L302.9 892.2L303.4 894.4L303.9 892.1L304.5 894.1L305.0 890.8L305.5 895.6L306.0 892.5L306.5 895.8L307.0 893.1L307.6 895.9L308.1 892.4L308.6 896.0L309.1 893.0L309.6 895.4L310.1 893.1L310.6 896.3L311.2 892.3L311.7 894.1L312.2 891.0L312.7 893.8L313.2 890.8L313.7 893.3L314.2 890.9L314.8 893.7L315.3 890.5L315.8 893.2L316.3 890.0L316.8 892.9L317.3 890.4L317.8 892.4L318.4 890.5L318.9 893.0L319.4 890.7L319.9 892.9L320.4 890.2L320.9 893.2L321.4 890.1L322.0 893.6L322.5 891.2L323.0 894.1L323.5 891.9L324.0 894.8L324.5 891.9L325.0 895.9L325.5 892.9L326.0 895.6L326.5 893.5L327.1 897.6L327.6 894.7L328.1 897.6L328.6 895.0L329.1 898.5L329.6 895.3L330.1 898.1L330.6 896.2L331.1 898.6L331.7 895.4L332.2 899.2L332.7 896.8L333.2 899.9L333.7 896.9L334.2 899.6L334.6 896.5L335.1 898.4L335.6 895.2L336.1 896.9L336.6 895.1L337.1 897.7L337.6 894.0L338.1 896.6L338.6 893.1L339.0 896.0L339.5 891.1L340.0 895.6L340.5 890.7L341.0 892.0L341.5 888.8L342.0 891.6L342.5 886.9L343.0 889.4L343.5 886.3L343.9 887.8L344.4 883.8L344.9 886.6L345.4 882.9L345.9 886.1L346.5 883.3L347.0 886.5L347.5 884.1L348.0 888.6L348.5 884.9L349.0 887.5L349.5 885.0L350.1 888.0L350.6 884.3L351.1 887.1L351.6 884.7L352.1 887.6L352.6 884.4L353.2 887.2L353.7 884.4L354.2 886.7L354.7 883.9L355.2 887.8L355.7 885.7L356.3 888.3L356.8 886.0L357.3 888.8L357.8 885.2L358.3 888.0L358.9 885.6L359.4 889.0L359.9 885.8L360.4 889.3L361.0 886.7L361.5 891.5L362.0 888.1L362.5 891.6L363.0 888.7L363.5 893.2L364.0 889.9L364.5 893.7L365.0 891.3L365.5 895.2L365.9 893.0L366.4 896.8L366.9 894.4L367.4 898.4L367.9 894.8L368.4 899.2L368.9 896.8L369.4 900.8L369.9 898.5L370.3 900.8L370.8 897.8L371.3 901.3L371.8 898.5L372.3 903.4L372.8 899.7L373.3 904.1L373.8 899.8L374.3 904.3L374.7 900.7L375.2 904.8L375.7 902.0L376.2 905.2L376.7 902.9L377.2 905.9L377.7 903.3L378.2 907.5L378.7 903.3L379.2 907.5L379.7 902.5L380.2 905.9L380.7 903.0L381.3 905.6L381.8 902.9L382.3 904.9L382.8 902.0L383.3 905.3L383.8 901.2L384.3 903.8L384.9 900.8L385.4 904.6L385.9 901.1L386.4 903.7L386.9 899.5L387.4 902.8L387.9 898.6L388.4 903.1L388.9 898.5L389.4 901.1L389.9 897.1L390.4 901.3L390.9 897.5L391.4 899.3L391.9 895.4L392.3 897.4L392.8 893.5L393.3 896.1L393.8 892.6L394.3 895.3L394.8 892.1L395.3 895.4L395.8 891.1L396.3 892.1L396.7 887.9L397.2 890.8L397.7 886.9L398.2 888.8L398.7 885.6L399.2 887.4L399.7 883.5L400.2 886.7L400.7 883.0L401.2 885.5L401.7 882.3L402.2 884.8L402.7 882.5L403.2 884.6L403.7 881.0L404.2 883.4L404.7 879.9L405.2 883.7L405.7 880.7L406.3 884.5L406.8 882.0L407.3 885.5L407.9 883.4L408.4 886.1L408.9 884.9L409.5 888.2L410.0 884.2L410.5 887.4L411.0 884.6L411.6 887.1L412.1 884.7L412.6 888.4L413.1 884.0L413.7 886.7L414.2 884.2L414.7 886.7L415.2 884.4L415.8 887.1L416.3 884.9L416.8 888.0L417.3 885.1L417.8 888.3L418.3 886.0L418.8 890.3L419.4 885.6L419.9 890.2L420.4 886.9L420.9 890.1L421.4 887.5L421.9 890.9L422.4 888.2L422.9 891.5L423.5 888.7L424.0 893.5L424.5 890.2L425.0 892.9L425.6 890.3L426.1 892.5L426.6 890.6L427.1 893.1L427.6 890.8L428.2 893.9L428.7 891.6L429.2 894.3L429.7 891.8L430.2 895.8L430.7 891.5L431.2 895.1L431.7 891.6L432.2 894.8L432.7 891.9L433.2 895.5L433.7 891.6L434.2 896.1L434.8 892.6L435.3 894.3L435.8 890.8L436.3 894.1L436.8 890.9L437.3 893.3L437.8 890.8L438.3 892.8L438.8 890.5L439.3 893.5L439.8 890.3L440.3 893.4L440.8 891.3L441.3 895.0L441.8 891.5L442.3 894.5L442.9 891.6L443.4 894.8L443.9 891.3L444.4 894.9L444.9 891.8L445.4 895.5L445.9 893.1L446.4 895.6L446.9 893.0L447.5 895.2L448.0 892.6L448.5 895.6L449.0 891.9L449.5 895.5L450.1 892.8L450.6 895.2L451.1 891.4L451.6 894.6L452.1 892.7L452.7 897.3L453.2 892.8L453.7 895.1L454.2 892.8L454.8 895.4L455.3 893.0L455.8 895.7L456.3 893.1L456.8 895.7L457.4 893.3L457.9 896.5L458.4 892.7L458.9 894.3L459.4 891.4L459.9 893.7L460.4 890.4L460.9 894.8L461.5 891.9L462.0 894.5L462.5 891.5L463.0 894.9L463.5 890.1L464.0 892.1L464.5 889.6L465.0 892.1L465.6 888.9L466.1 890.8L466.6 888.3L467.1 891.1L467.6 888.8L468.1 891.6L468.6 888.1L469.1 890.8L469.7 886.9L470.2 890.1L470.7 887.0L471.2 888.8L471.7 886.5L472.2 890.2L472.7 886.3L473.2 889.5L473.7 885.9L474.2 889.3L474.7 885.6L475.2 888.2L475.8 885.0L476.3 888.4L476.8 885.7L477.3 889.9L477.8 886.7L478.3 889.4L478.8 887.1L479.3 889.5L479.8 886.5L480.3 889.4L480.8 887.1L481.3 889.5L481.8 886.8L482.3 889.4L482.8 886.8L483.3 890.2L483.9 886.4L484.4 890.7L484.9 886.1L485.4 889.8L485.9 886.6L486.4 889.6L486.9 885.8L487.4 889.2L487.9 886.4L488.4 888.8L488.9 885.8L489.4 888.9L490.0 885.9L490.5 888.2L491.0 885.3L491.5 887.2L492.0 884.8L492.6 887.0L493.1 884.0L493.6 886.7L494.1 882.9L494.7 886.6L495.2 881.5L495.7 885.0L496.2 881.5L496.7 885.0L497.2 881.4L497.7 886.1L498.2 881.6L498.7 883.5L499.2 880.9L499.7 883.2L500.2 880.0L500.7 883.7L501.2 880.6L501.7 882.7L502.2 879.9L502.7 882.2L503.3 879.7L503.8 882.0L504.3 879.7L504.8 883.2L505.3 879.0L505.8 882.4L506.3 879.5L506.8 883.0L507.3 880.6L507.8 882.7L508.3 879.1L508.8 882.1L509.3 878.8L509.8 881.8L510.3 879.2L510.8 882.6L511.4 879.2L511.9 881.9L512.4 878.7L512.9 882.9L513.4 878.6L513.9 884.4L514.4 880.1L514.9 883.5L515.4 879.8L516.0 883.4L516.5 881.0L517.0 884.5L517.5 882.2L518.0 884.5L518.5 882.2L519.0 884.5L519.5 881.6L520.1 884.9L520.6 880.0L521.1 884.3L521.6 881.2L522.1 884.1L522.6 880.6L523.1 884.0L523.6 880.7L524.2 883.4L524.7 880.2L525.2 883.6L525.7 878.9L526.2 881.4L526.7 878.0L527.2 880.8L527.8 876.4L528.3 879.9L528.8 876.8L529.3 878.8L529.9 875.2L530.4 878.2L530.9 873.9L531.4 877.4L531.9 873.0L532.4 876.3L533.0 873.7L533.5 876.4L534.0 873.8L534.5 877.2L535.0 873.7L535.5 876.3L536.0 873.4L536.5 876.1L537.1 872.2L537.6 878.0L538.1 873.5L538.6 875.6L539.1 872.9L539.6 875.4L540.1 873.1L540.6 875.7L541.2 872.1L541.7 875.5L542.2 872.9L542.7 876.9L543.2 873.6L543.7 877.7L544.2 873.5L544.7 876.5L545.3 874.2L545.8 878.4L546.3 875.0L546.8 877.8L547.3 875.2L547.8 877.4L548.3 876.1L548.8 879.4L549.3 876.5L549.8 879.4L550.3 877.5L550.8 879.6L551.3 876.5L551.8 879.7L552.4 877.3L552.9 881.1L553.4 878.6L553.9 882.3L554.4 879.7L554.9 881.8L555.4 878.6L555.9 881.9L556.4 877.6L556.9 879.7L557.4 876.2L557.9 880.2L558.4 877.3L558.9 880.2L559.4 876.6L559.9 881.7L560.5 877.0L561.0 880.4L561.5 877.6L562.0 880.3L562.5 877.2L563.0 880.3L563.5 876.4L564.0 879.6L564.5 876.4L565.0 879.8L565.5 875.5L566.0 877.6L566.6 874.1L567.1 876.2L567.6 872.9L568.1 875.8L568.6 872.0L569.1 874.9L569.6 870.5L570.1 873.7L570.7 869.9L571.1 873.1L571.6 869.4L572.1 872.9L572.6 868.0L573.0 870.0L573.5 866.5L574.0 868.3L574.5 865.1L575.0 867.9L575.4 864.1L575.9 867.5L576.4 863.4L576.8 866.2L577.3 861.3L577.7 863.2L578.2 858.5L578.6 860.5L579.0 857.0L579.5 861.3L579.9 855.6L580.4 858.1L580.8 854.4L581.2 856.7L581.7 852.0L582.1 854.3L582.6 849.7L583.0 851.9L583.4 847.9L583.9 850.6L584.3 846.1L584.7 847.5L585.1 843.5L585.6 846.3L586.0 842.0L586.4 845.3L586.9 839.9L587.3 842.6L587.7 839.1L588.2 840.7L588.6 836.8" fill="none" stroke="#000" stroke-width="2.8" stroke-linejoin="round"/>
<path d="M130.8 921.1L131.2 922.8L131.6 919.5L132.1 920.9L132.5 916.9L133.0 919.8L133.4 914.7L133.9 916.3L134.3 913.2L134.8 915.3L135.2 911.9L135.6 914.2L136.0 908.9L136.3 911.0L136.6 905.5L137.0 907.3L137.3 904.1L137.6 906.5L137.9 901.9L138.3 903.7L138.6 899.3L138.9 901.7L139.2 896.0L139.6 897.9L139.9 893.6L140.2 896.2L140.5 891.0L140.9 893.2L141.2 888.1L141.5 890.1L142.0 885.9L142.4 888.7L142.9 884.0L143.3 886.2L143.8 881.4L144.2 883.9L144.7 879.0L145.1 882.1L145.6 877.9L146.0 881.8L146.5 877.6L146.9 880.3L147.4 875.4L147.9 878.6L148.4 873.5L148.9 878.4L149.5 874.6L150.0 878.1L150.5 873.7L151.0 876.8L151.6 872.8L152.1 875.2L152.6 872.4L153.1 875.2L153.6 871.6L154.2 875.1L154.7 871.2L155.2 874.1L155.7 871.3L156.2 875.0L156.8 871.1L157.3 875.6L157.8 872.2L158.3 875.9L158.8 871.5L159.3 874.8L159.9 870.4L160.4 874.4L160.9 870.4L161.4 874.3L161.9 870.7L162.5 875.1L163.0 871.7L163.5 875.1L164.0 871.1L164.5 873.3L164.9 870.3L165.4 872.4L165.8 868.6L166.3 870.5L166.7 866.8L167.2 870.3L167.7 864.5L168.1 866.8L168.6 863.6L169.0 866.8L169.5 861.9L169.9 864.5L170.4 860.6L170.9 863.2L171.3 859.4L171.8 861.6L172.3 858.3L172.8 861.4L173.3 857.1L173.8 859.7L174.3 856.1L174.8 858.0L175.3 854.0L175.7 857.3L176.2 853.2L176.7 855.9L177.2 853.1L177.7 856.1L178.3 852.5L178.8 854.9L179.3 850.6L179.8 855.2L180.3 851.8L180.8 856.4L181.4 851.4L181.9 854.6L182.4 851.0L182.9 855.5L183.4 851.1L183.9 855.1L184.4 851.3L185.0 854.8L185.5 850.8L186.0 856.0L186.5 850.7L187.0 853.2L187.4 849.6L187.9 853.1L188.3 848.1L188.8 850.4L189.2 848.0L189.7 849.3L190.1 846.9L190.6 849.3L191.1 844.0L191.5 846.7L192.0 842.6L192.4 844.9L192.9 841.0L193.3 844.1L193.8 840.5L194.3 843.4L194.8 839.8L195.3 841.5L195.8 838.2L196.3 842.6L196.8 836.7L197.3 840.9L197.7 838.2L198.2 842.3L198.7 839.5L199.2 844.1L199.7 841.0L200.2 843.6L200.7 841.0L201.2 845.6L201.7 842.7L202.1 847.0L202.6 845.2L203.1 849.3L203.5 846.9L203.9 851.7L204.3 849.0L204.8 852.4L205.2 849.0L205.6 854.0L206.0 852.5L206.4 856.9L206.8 854.6L207.2 858.2L207.6 855.4L208.0 860.2L208.5 857.4L209.0 861.9L209.5 857.9L210.0 863.9L210.5 861.0L210.9 865.5L211.4 862.7L211.9 866.2L212.3 861.9L212.8 864.6L213.2 861.0L213.6 863.1L214.0 858.6L214.4 860.8L214.9 856.7L215.3 858.7L215.7 854.8L216.1 858.6L216.5 853.6L217.0 855.8L217.4 851.4L217.8 854.7L218.3 850.9L218.8 853.4L219.3 849.9L219.7 854.1L220.2 848.4L220.7 852.6L221.2 848.9L221.7 850.9L222.2 847.5L222.7 849.8L223.2 845.9L223.7 848.3L224.2 845.1L224.7 848.5L225.2 844.3L225.8 847.0L226.3 844.4L226.8 847.7L227.3 845.4L227.9 848.2L228.4 845.5L228.9 849.0L229.4 847.1L230.0 850.6L230.5 847.2L231.0 851.0L231.5 848.2L232.0 851.6L232.5 848.5L232.9 851.9L233.4 848.0L233.9 851.8L234.4 848.4L234.9 852.8L235.4 850.5L235.9 854.0L236.4 851.4L236.9 855.9L237.3 852.7L237.9 856.0L238.4 853.0L238.9 855.6L239.4 852.0L239.9 856.0L240.4 852.6L240.9 856.0L241.4 851.7L242.0 856.8L242.5 854.1L243.0 856.8L243.5 853.3L244.0 857.3L244.5 853.9L245.0 857.6L245.5 854.6L246.1 857.9L246.6 854.4L247.1 859.1L247.6 854.6L248.1 858.2L248.6 853.5L249.1 856.2L249.6 852.3L250.1 854.9L250.5 851.0L251.0 854.3L251.5 850.6L252.0 854.4L252.5 849.8L253.0 852.4L253.5 848.4L254.0 851.0L254.5 847.4L255.0 851.2L255.4 846.5L255.9 850.8L256.4 843.8L256.9 848.9L257.4 843.9L257.9 848.0L258.4 843.7L258.9 847.3L259.4 842.8L259.8 845.4L260.3 842.3L260.8 845.6L261.3 841.1L261.8 844.0L262.3 839.7L262.8 844.0L263.3 840.1L263.8 843.9L264.3 839.6L264.8 843.7L265.3 840.6L265.8 845.1L266.4 841.3L266.9 844.2L267.4 840.7L267.9 845.5L268.4 842.8L269.0 846.7L269.5 843.2L270.0 846.8L270.5 844.9L271.1 848.3L271.6 845.4L272.1 848.2L272.6 845.3L273.1 847.6L273.6 843.6L274.2 847.5L274.7 842.4L275.2 845.8L275.7 842.5L276.2 845.6L276.8 841.4L277.3 844.4L277.8 841.5L278.3 844.4L278.8 839.2L279.3 843.2L279.9 839.3L280.4 843.1L280.9 839.0L281.4 841.8L281.9 838.7L282.5 842.2L283.0 838.9L283.5 841.4L284.0 837.5L284.5 841.5L285.1 837.1L285.6 841.7L286.1 837.3L286.6 839.6L287.2 836.5L287.7 840.4L288.2 836.2L288.7 840.3L289.2 837.3L289.7 842.0L290.2 839.2L290.6 843.2L291.1 840.3L291.6 843.5L292.1 840.5L292.6 844.3L293.1 841.1L293.6 845.0L294.1 841.8L294.6 844.9L295.0 842.2L295.5 845.3L296.0 843.3L296.5 847.6L297.0 843.9L297.5 848.5L298.1 844.2L298.6 848.2L299.1 845.3L299.6 849.0L300.2 846.0L300.7 850.9L301.2 846.9L301.7 849.8L302.3 846.8L302.8 851.1L303.3 848.3L303.8 851.1L304.4 848.1L304.9 851.6L305.4 847.6L305.9 850.9L306.4 846.9L306.9 849.6L307.4 846.0L308.0 849.5L308.5 845.7L309.0 849.5L309.5 843.6L310.0 849.1L310.5 844.9L311.1 848.3L311.6 845.5L312.1 847.8L312.6 843.7L313.1 846.4L313.6 842.8L314.1 845.6L314.6 843.5L315.1 845.8L315.6 842.4L316.1 844.0L316.6 839.9L317.0 842.8L317.5 839.7L318.0 842.4L318.5 839.4L319.0 843.3L319.5 838.0L320.0 840.1L320.5 836.6L321.0 840.0L321.4 836.1L322.0 839.3L322.5 837.0L323.0 840.9L323.5 836.1L324.0 839.6L324.6 835.2L325.1 838.4L325.6 834.5L326.1 838.2L326.6 834.7L327.1 837.4L327.7 832.8L328.2 836.3L328.7 832.8L329.2 837.1L329.7 834.6L330.2 838.6L330.7 835.5L331.1 839.8L331.6 836.8L332.0 841.5L332.5 837.5L332.9 842.2L333.4 839.9L333.8 844.5L334.2 841.0L334.7 845.3L335.1 842.5L335.6 847.2L336.1 843.6L336.6 848.0L337.1 844.3L337.6 849.2L338.1 847.5L338.6 850.9L339.0 849.1L339.5 853.6L340.0 849.0L340.5 855.2L341.0 851.2L341.5 855.3L342.0 853.5L342.5 859.2L343.0 854.0L343.5 857.6L344.0 854.4L344.5 856.8L345.0 853.5L345.5 856.2L346.0 853.0L346.6 856.4L347.1 852.5L347.6 854.9L348.1 851.5L348.6 855.1L349.1 851.0L349.7 854.8L350.2 851.2L350.7 854.8L351.2 851.6L351.7 853.9L352.2 851.4L352.7 853.3L353.3 850.0L353.8 854.6L354.3 849.6L354.8 852.9L355.3 849.6L355.8 852.0L356.3 849.8L356.8 853.2L357.4 850.8L357.9 855.3L358.4 849.8L358.9 852.6L359.4 849.9L359.9 853.3L360.4 849.0L360.9 853.3L361.4 849.7L362.0 853.0L362.5 850.3L363.0 853.0L363.5 849.2L364.0 852.9L364.5 850.5L365.0 854.3L365.5 850.8L365.9 855.3L366.4 851.5L366.9 855.2L367.4 852.6L367.9 855.7L368.4 853.3L368.9 856.9L369.4 854.7L369.9 859.6L370.3 854.7L370.8 858.3L371.3 854.5L371.8 857.0L372.3 853.0L372.8 855.2L373.3 851.3L373.8 854.7L374.3 850.7L374.7 852.8L375.2 848.7L375.7 851.3L376.2 847.2L376.7 850.8L377.2 846.2L377.7 849.0L378.2 844.7L378.7 848.3L379.1 844.2L379.6 845.7L380.1 841.9L380.6 845.7L381.2 842.4L381.7 845.7L382.2 841.2L382.7 845.2L383.2 840.6L383.7 843.1L384.3 840.1L384.8 844.9L385.3 840.7L385.8 845.3L386.3 840.1L386.9 843.7L387.4 839.7L387.9 843.5L388.4 838.9L388.9 842.7L389.4 839.3L390.0 843.0L390.5 840.2L391.0 843.5L391.5 840.5L392.0 843.0L392.5 840.8L393.1 844.3L393.6 842.6L394.1 846.5L394.6 843.5L395.1 847.1L395.7 844.2L396.2 848.0L396.7 845.1L397.2 848.4L397.7 845.4L398.2 849.7L398.8 845.6L399.3 850.7L399.8 847.7L400.3 851.1L400.9 847.0L401.4 850.6L401.9 848.1L402.4 851.7L402.9 849.0L403.5 851.4L404.0 848.7L404.5 850.9L405.0 847.0L405.5 850.7L406.0 847.9L406.5 851.5L407.0 846.7L407.5 850.4L408.0 847.1L408.5 850.0L409.0 845.4L409.5 849.0L409.9 844.6L410.4 847.5L410.9 843.3L411.4 846.0L411.9 843.5L412.4 846.3L412.9 842.4L413.4 846.7L413.9 841.9L414.4 844.7L414.9 840.7L415.4 844.5L415.9 840.6L416.5 843.9L417.0 840.5L417.5 843.6L418.0 839.9L418.5 843.3L419.0 839.7L419.6 843.7L420.0 838.6L420.5 841.0L421.0 837.0L421.5 840.2L422.0 836.0L422.5 838.3L423.0 834.0L423.5 837.7L424.0 833.7L424.4 836.1L424.9 831.5L425.4 834.8L425.9 831.1L426.4 833.0L426.9 828.7L427.4 832.0L427.9 828.3L428.4 831.4L428.8 827.5L429.3 829.9L429.8 827.3L430.3 829.3L430.8 825.2L431.3 828.1L431.8 824.8L432.3 828.8L432.8 825.7L433.2 828.8L433.7 826.7L434.2 831.1L434.7 829.5L435.2 833.0L435.7 830.3L436.2 835.1L436.7 832.7L437.2 835.7L437.6 833.1L438.1 837.4L438.5 835.8L439.0 839.4L439.4 836.8L439.9 840.1L440.3 837.4L440.8 842.1L441.2 839.0L441.7 844.2L442.1 840.7L442.6 845.9L443.0 840.9L443.6 846.3L444.1 842.2L444.6 845.7L445.2 843.1L445.7 846.8L446.2 842.1L446.8 846.0L447.3 842.0L447.8 844.8L448.4 841.3L448.9 845.4L449.4 842.3L449.9 845.5L450.5 842.0L451.0 846.5L451.5 842.5L452.0 846.0L452.5 844.3L453.1 847.9L453.6 844.5L454.1 848.9L454.6 846.0L455.2 848.9L455.7 846.2L456.2 848.8L456.7 847.0L457.2 849.5L457.8 846.6L458.3 849.1L458.8 846.3L459.3 849.3L459.8 846.1L460.4 851.5L460.9 846.2L461.4 849.8L461.9 846.0L462.5 849.8L463.0 846.4L463.5 849.6L464.0 847.1L464.5 849.9L465.0 847.4L465.5 851.3L466.0 849.3L466.5 853.6L467.0 849.8L467.5 854.5L468.0 850.5L468.5 855.3L468.9 852.5L469.4 856.9L469.9 853.7L470.4 857.7L470.9 854.5L471.4 858.2L471.8 856.0L472.3 861.9L472.8 856.9L473.2 863.0L473.7 859.0L474.1 863.4L474.6 861.0L475.0 865.2L475.5 862.1L476.0 867.1L476.4 862.5L476.9 867.6L477.3 865.4L477.8 868.7L478.2 866.5L478.8 870.2L479.3 867.4L479.8 870.8L480.4 866.7L480.9 871.7L481.4 868.0L482.0 871.9L482.5 868.6L483.0 871.8L483.6 869.5L484.1 872.2L484.5 867.0L484.9 869.0L485.4 865.4L485.8 867.0L486.2 863.7L486.6 865.4L487.0 860.3L487.5 862.7L487.9 857.7L488.3 860.8L488.7 856.6L489.1 858.6L489.5 854.2L490.0 855.9L490.4 851.8L490.7 853.6L491.1 848.0L491.5 851.4L491.9 845.9L492.3 847.8L492.7 843.5L493.1 845.7L493.5 840.7L493.9 842.2L494.4 838.5L494.9 841.0L495.3 838.0L495.8 839.8L496.3 837.2L496.8 839.9L497.3 836.2L497.8 838.2L498.3 835.5L498.8 839.0L499.4 835.9L499.9 840.6L500.4 837.3L500.9 840.7L501.4 836.2L502.0 841.0L502.5 837.9L503.0 842.2L503.5 840.0L504.0 844.1L504.6 839.7L505.1 844.3L505.6 840.7L506.1 844.9L506.6 841.4L507.2 845.2L507.7 840.9L508.2 845.3L508.7 841.2L509.2 844.8L509.7 841.1L510.2 845.8L510.8 841.1L511.3 845.3L511.8 843.6L512.3 847.1L512.8 842.6L513.3 846.4L513.8 843.8L514.4 847.2L514.9 844.6L515.4 848.5L515.9 844.4L516.4 847.7L516.9 845.4L517.5 848.5L518.0 845.1L518.5 848.8L519.0 843.6L519.5 849.8L520.0 845.9L520.5 849.6L521.1 847.3L521.6 849.9L522.1 846.4L522.6 850.0L523.1 847.4L523.6 851.4L524.1 848.2L524.7 852.5L525.2 849.0L525.7 853.0L526.1 849.7L526.6 854.7L527.1 850.8L527.6 854.6L528.1 850.3L528.6 855.9L529.1 851.7L529.6 855.4L530.1 853.2L530.5 857.3L531.0 854.3L531.5 857.9L532.0 853.8L532.5 858.3L533.0 854.7L533.4 858.6L533.9 856.7L534.3 860.4L534.8 857.9L535.3 861.7L535.7 859.4L536.2 863.5L536.6 861.1L537.1 865.2L537.5 862.6L538.0 866.7L538.4 863.7L538.9 868.2L539.3 864.3L539.8 869.3L540.2 866.2L540.7 869.8L541.1 866.9L541.6 872.2L542.0 868.7L542.5 873.6L542.9 870.7L543.4 875.1L543.8 872.0L544.3 875.9L544.7 873.2L545.2 876.0L545.7 872.8L546.2 876.0L546.7 873.0L547.2 876.6L547.7 871.7L548.2 874.1L548.6 869.8L549.1 873.1L549.6 869.5L550.1 871.6L550.6 867.2L551.1 869.2L551.6 866.2L552.1 868.2L552.6 864.5L553.0 866.8L553.5 863.3L554.0 864.2L554.5 860.6L555.0 864.2L555.5 858.9L556.0 862.7L556.5 857.6L557.0 860.1L557.4 856.4L557.9 858.8L558.4 854.5L558.9 858.7L559.5 856.2L560.0 861.1L560.5 857.5L561.0 861.3L561.5 857.1L562.1 861.4L562.6 858.8L563.1 861.4L563.6 859.5L564.2 863.1L564.7 859.2L565.2 862.7L565.7 858.9L566.2 862.5L566.7 861.1L567.2 865.1L567.7 861.5L568.2 865.7L568.7 863.5L569.2 866.8L569.7 864.4L570.2 869.2L570.6 866.3L571.1 869.4L571.6 867.5L572.1 870.3L572.6 868.4L573.1 872.4L573.6 869.8L574.1 872.9L574.6 869.8L575.1 874.5L575.6 869.0L576.1 873.4L576.6 871.3L577.2 874.9L577.7 872.3L578.2 876.2L578.7 873.2L579.2 877.7L579.7 873.8L580.2 876.9L580.8 874.4L581.3 877.4L581.8 874.9L582.3 878.1L582.8 874.8L583.3 878.2L583.8 875.6L584.3 879.6L584.8 875.9L585.3 877.6L585.8 874.6L586.3 877.1L586.8 873.3L587.3 875.6L587.8 870.6L588.2 874.2L588.7 871.3L589.2 873.9L589.7 869.3L590.2 871.9L590.7 868.2L591.1 870.3L591.5 865.0L591.9 867.4L592.3 862.1L592.7 865.6L593.1 861.9L593.5 864.0L594.0 859.0L594.4 861.4L594.8 856.6L595.2 859.3L595.6 854.7L596.1 857.7L596.6 853.7L597.0 857.1L597.5 853.6L598.0 855.6L598.5 853.1L599.0 855.4L599.5 851.4L600.0 855.2L600.5 851.4L601.0 854.8L601.4 850.8L601.9 853.9L602.4 849.9L602.9 853.7L603.4 849.5L603.9 852.2L604.4 850.1L605.0 852.3L605.5 849.6L606.0 851.6L606.5 848.3L607.1 851.1L607.6 847.6L608.1 851.4L608.6 847.4L609.1 850.7L609.7 846.4L610.2 848.9L610.7 846.5L611.2 849.3L611.7 846.1L612.2 848.9L612.8 844.6L613.3 847.8L613.8 843.1L614.3 846.8L614.8 842.8L615.3 845.9L615.8 841.6L616.3 845.1L616.8 842.0L617.3 844.6L617.9 840.4L618.4 844.8L618.9 840.2L619.4 843.3L619.9 839.4L620.4 843.1L620.9 840.1L621.4 844.7L621.9 839.0L622.5 842.8L623.0 838.3L623.5 841.8L623.9 838.6L624.4 842.7L624.9 839.6L625.4 843.7L625.9 841.0L626.4 846.2L626.9 842.1L627.4 845.2L627.9 843.1L628.3 847.1L628.8 843.1L629.3 847.0L629.8 843.9L630.3 847.8L630.8 844.5L631.3 848.2L631.8 845.6L632.3 849.3L632.9 846.4L633.4 850.7L633.9 846.9L634.4 849.9L635.0 847.6L635.5 850.1L636.0 849.1L636.5 851.9L637.0 847.8L637.6 851.9L638.1 848.8L638.6 852.4" fill="none" stroke="#f00" stroke-width="2.8" stroke-linejoin="round"/>
<path d="M124.2 922.9L130.8 916.3L137.4 922.9L130.8 929.5Z" fill="none" stroke="#f00" stroke-width="2.3"/><path d="M157.7 873.1L164.3 866.5L170.9 873.1L164.3 879.7Z" fill="none" stroke="#f00" stroke-width="2.3"/><path d="M191.1 840.0L197.7 833.4L204.3 840.0L197.7 846.6Z" fill="none" stroke="#f00" stroke-width="2.3"/><path d="M224.6 847.8L231.2 841.2L237.8 847.8L231.2 854.4Z" fill="none" stroke="#f00" stroke-width="2.3"/><path d="M258.0 841.8L264.6 835.2L271.2 841.8L264.6 848.4Z" fill="none" stroke="#f00" stroke-width="2.3"/><path d="M291.5 846.8L298.1 840.2L304.7 846.8L298.1 853.4Z" fill="none" stroke="#f00" stroke-width="2.3"/><path d="M325.0 838.8L331.6 832.2L338.2 838.8L331.6 845.4Z" fill="none" stroke="#f00" stroke-width="2.3"/><path d="M358.4 851.6L365.0 845.0L371.6 851.6L365.0 858.2Z" fill="none" stroke="#f00" stroke-width="2.3"/><path d="M391.9 847.4L398.5 840.8L405.1 847.4L398.5 854.0Z" fill="none" stroke="#f00" stroke-width="2.3"/><path d="M425.3 827.3L431.9 820.7L438.5 827.3L431.9 833.9Z" fill="none" stroke="#f00" stroke-width="2.3"/><path d="M458.8 849.9L465.4 843.3L472.0 849.9L465.4 856.5Z" fill="none" stroke="#f00" stroke-width="2.3"/><path d="M492.3 837.8L498.9 831.2L505.5 837.8L498.9 844.4Z" fill="none" stroke="#f00" stroke-width="2.3"/><path d="M525.7 856.1L532.3 849.5L538.9 856.1L532.3 862.7Z" fill="none" stroke="#f00" stroke-width="2.3"/><path d="M559.2 862.3L565.8 855.7L572.4 862.3L565.8 868.9Z" fill="none" stroke="#f00" stroke-width="2.3"/><path d="M592.6 854.0L599.2 847.4L605.8 854.0L599.2 860.6Z" fill="none" stroke="#f00" stroke-width="2.3"/><path d="M626.1 848.1L632.7 841.5L639.3 848.1L632.7 854.7Z" fill="none" stroke="#f00" stroke-width="2.3"/>
<path d="M130.8 963.0L131.3 966.0L131.8 961.8L132.4 964.9L132.9 960.7L133.5 963.8L134.0 960.6L134.6 964.2L135.1 959.0L135.6 962.9L136.2 958.5L136.7 963.0L137.2 958.8L137.8 963.4L138.3 958.8L138.8 963.5L139.4 959.1L139.9 963.0L140.4 959.2L141.0 962.0L141.5 958.7L142.0 962.5L142.6 956.7L143.1 960.8L143.6 958.6L144.2 961.3L144.7 957.8L145.2 960.4L145.8 957.9L146.3 962.0L146.8 957.8L147.4 962.2L147.8 957.9L148.2 959.4L148.6 955.0L149.1 957.7L149.5 952.7L149.9 955.9L150.3 949.4L150.7 952.7L151.2 949.6L151.6 952.4L152.0 947.9L152.4 949.5L152.8 944.6L153.2 948.0L153.7 944.4L154.2 947.9L154.7 942.6L155.2 945.4L155.7 940.7L156.2 943.9L156.7 939.7L157.2 942.3L157.6 938.6L158.1 942.1L158.6 936.3L159.1 940.5L159.6 934.5L160.1 939.2L160.7 936.3L161.2 939.5L161.7 934.4L162.2 939.5L162.7 934.1L163.2 939.3L163.7 935.2L164.3 938.3L164.8 934.8L165.3 938.8L165.8 933.7L166.3 939.0L166.8 933.8L167.4 936.9L167.9 933.6L168.4 936.5L168.9 933.4L169.4 935.9L169.9 932.2L170.4 934.8L170.9 930.4L171.3 934.9L171.8 931.4L172.3 933.2L172.8 930.0L173.3 933.5L173.8 928.4L174.3 932.3L174.8 928.6L175.3 932.1L175.7 927.6L176.2 932.0L176.7 928.0L177.2 930.4L177.7 926.8L178.2 931.1L178.7 928.4L179.2 934.9L179.7 930.5L180.1 934.4L180.6 931.3L181.1 937.9L181.6 932.4L182.1 940.4L182.6 934.1L183.1 939.8L183.6 937.3L184.1 940.7L184.5 935.5L185.0 939.3L185.5 934.5L186.0 936.7L186.5 931.7L187.0 934.6L187.5 930.3L188.0 934.5L188.5 929.0L188.9 934.9L189.4 930.1L189.9 933.0L190.4 928.3L190.9 931.5L191.4 927.5L191.9 929.7L192.4 925.5L192.9 928.0L193.3 924.6L193.8 927.3L194.3 923.2L194.8 926.2L195.3 920.5L195.8 925.4L196.3 921.5L196.8 924.7L197.3 920.0L197.8 924.0L198.3 920.8L198.8 923.8L199.3 920.4L199.8 923.6L200.4 919.0L200.9 923.3L201.4 919.4L201.9 924.3L202.4 921.1L202.9 924.4L203.5 919.5L204.0 924.7L204.5 920.3L205.0 924.2L205.5 920.7L206.1 924.9L206.6 920.3L207.1 925.0L207.6 920.8L208.1 923.9L208.6 920.6L209.1 924.9L209.7 921.7L210.2 924.4L210.7 920.5L211.2 923.5L211.7 920.5L212.2 924.5L212.7 920.8L213.3 924.9L213.8 921.0L214.3 925.4L214.8 920.9L215.3 924.9L215.8 921.3L216.4 925.1L216.9 921.2L217.4 926.6L218.0 923.5L218.5 927.1L219.0 924.6L219.6 928.7L220.1 925.2L220.6 929.4L221.2 925.9L221.7 930.8L222.2 925.7L222.7 929.7L223.2 925.6L223.8 930.0L224.3 925.0L224.8 929.7L225.3 924.6L225.8 929.2L226.3 925.3L226.8 929.1L227.4 925.5L227.9 929.4L228.4 924.3L228.9 927.4L229.4 924.0L229.9 927.3L230.5 924.1L231.0 927.0L231.5 923.7L232.0 927.0L232.5 924.6L233.0 928.4L233.5 924.1L234.0 929.2L234.5 924.7L235.1 927.0L235.6 923.4L236.1 927.3L236.6 924.0L237.1 927.1L237.6 922.3L238.1 928.0L238.6 925.6L239.1 928.7L239.6 924.4L240.2 928.1L240.7 923.3L241.2 926.9L241.7 922.9L242.2 925.0L242.7 920.9L243.2 924.8L243.7 921.6L244.1 926.5L244.6 925.1L245.0 929.6L245.5 926.6L245.9 932.9L246.4 928.5L246.8 932.3L247.3 929.1L247.7 934.0L248.2 930.9L248.6 934.9L249.1 932.1L249.5 937.4L250.0 934.6L250.5 939.4L250.9 935.5L251.4 940.5L251.8 936.5L252.3 941.4L252.8 938.9L253.2 944.1L253.7 940.1L254.1 945.5L254.6 943.1L255.1 945.9L255.5 943.4L256.0 946.9L256.4 943.9L256.9 948.6L257.4 944.5L257.9 949.4L258.5 945.3L259.0 950.1L259.5 945.3L260.0 949.0L260.6 945.0L261.1 947.8L261.6 944.2L262.1 949.7L262.6 943.9L263.2 948.6L263.7 944.3L264.2 946.9L264.7 943.7L265.2 948.0L265.8 945.0L266.3 950.8L266.8 946.4L267.3 950.6L267.8 947.8L268.3 952.7L268.8 947.8L269.4 952.0L269.9 948.9L270.4 952.4L270.9 948.9L271.4 954.2L271.9 949.9L272.4 954.8L273.0 951.7L273.5 954.9L274.0 950.6L274.5 955.4L275.0 950.7L275.5 952.9L276.0 948.6L276.5 953.0L277.0 949.3L277.4 951.3L277.9 947.7L278.4 952.1L278.9 947.6L279.4 952.2L279.9 948.9L280.4 950.9L280.9 948.1L281.4 950.4L281.8 946.5L282.3 950.7L282.8 945.8L283.3 949.2L283.8 944.6L284.3 946.2L284.8 941.8L285.3 945.1L285.8 941.0L286.2 943.4L286.7 940.3L287.2 943.1L287.7 937.6L288.2 940.9L288.7 936.9L289.2 939.5L289.7 934.5L290.2 939.1L290.6 933.2L291.1 937.8L291.5 933.5L292.0 936.7L292.5 932.2L292.9 935.6L293.4 930.3L293.8 933.3L294.3 928.8L294.8 932.2L295.2 928.7L295.7 931.0L296.1 926.6L296.6 929.3L297.1 924.1L297.5 927.6L298.0 922.8L298.5 927.7L299.0 923.8L299.5 928.7L300.1 925.3L300.6 929.8L301.1 925.2L301.6 929.7L302.2 926.2L302.7 928.4L303.2 925.1L303.7 929.8L304.2 926.5L304.8 931.4L305.3 927.7L305.8 930.0L306.3 925.5L306.8 929.5L307.3 923.9L307.8 929.1L308.2 925.2L308.7 927.6L309.2 923.2L309.7 927.9L310.2 922.0L310.7 926.3L311.2 921.3L311.7 923.8L312.2 919.2L312.6 922.8L313.1 918.7L313.6 921.6L314.1 915.8L314.6 919.5L315.1 914.8L315.6 919.0L316.1 913.8L316.6 917.6L317.0 913.5L317.5 915.7L318.0 911.5L318.5 914.0L319.0 910.6L319.5 912.9L320.0 909.3L320.5 913.0L321.0 908.4L321.4 912.9L321.9 908.0L322.4 911.7L322.9 907.9L323.4 910.1L323.9 906.3L324.4 910.6L324.9 906.3L325.5 910.6L326.0 907.2L326.5 911.0L327.0 907.4L327.5 911.1L328.0 907.1L328.5 911.9L329.1 908.6L329.6 912.3L330.1 907.5L330.6 912.5L331.1 909.1L331.6 912.1L332.2 909.2L332.7 912.5L333.2 907.6L333.7 911.6L334.2 908.5L334.7 911.5L335.2 909.2L335.8 913.0L336.3 908.2L336.8 914.1L337.3 910.2L337.8 914.6L338.3 910.4L338.8 914.8L339.4 911.5L339.9 913.3L340.4 911.3L340.9 914.9L341.4 911.4L341.9 916.5L342.4 912.8L343.0 916.7L343.5 911.7L344.0 915.2L344.5 912.6L345.0 916.3L345.5 912.7L346.0 917.7L346.6 913.2L347.1 918.2L347.6 913.6L348.1 917.4L348.6 913.7L349.1 917.8L349.7 915.1L350.2 918.4L350.7 915.6L351.2 919.5L351.7 916.0L352.2 920.0L352.7 917.2L353.2 919.8L353.7 915.9L354.2 918.9L354.7 913.2L355.2 916.6L355.7 912.5L356.2 917.1L356.7 911.7L357.1 915.9L357.6 910.6L358.1 915.2L358.6 910.8L359.1 913.4L359.6 908.2L360.1 912.6L360.6 908.1L361.1 910.3L361.5 906.6L362.0 909.7L362.5 904.8L363.0 911.4L363.5 905.7L364.1 909.3L364.6 905.6L365.1 908.8L365.6 904.9L366.1 907.3L366.6 903.9L367.2 907.3L367.7 903.5L368.2 908.1L368.7 904.3L369.2 909.1L369.7 904.1L370.2 908.2L370.8 904.7L371.3 908.8L371.8 905.2L372.3 908.9L372.8 904.2L373.3 906.9L373.9 902.5L374.4 906.4L374.9 903.1L375.4 905.0L375.9 901.8L376.5 905.5L377.0 900.2L377.5 904.6L378.0 901.6L378.6 904.6L379.1 900.7L379.6 903.5L380.1 900.4L380.6 905.2L381.1 900.7L381.7 903.3L382.2 898.7L382.7 903.8L383.2 900.6L383.7 903.2L384.2 899.5L384.7 904.9L385.2 900.5L385.7 905.2L386.2 902.6L386.8 906.3L387.3 902.7L387.8 906.3L388.3 901.5L388.8 906.7L389.3 903.0L389.8 906.6L390.3 904.6L390.8 907.4L391.3 904.2L391.9 908.9L392.4 904.1L392.9 907.9L393.4 904.2L393.9 907.3L394.4 902.8L394.9 906.1L395.4 903.3L395.9 906.2L396.4 902.4L397.0 905.4L397.5 901.8L398.0 906.1L398.5 900.5L399.0 904.5L399.5 901.5L400.0 904.3L400.5 900.7L401.0 905.2L401.6 901.1L402.1 905.9L402.6 901.7L403.1 905.4L403.6 901.5L404.1 905.3L404.6 900.2L405.1 904.8L405.6 900.3L406.2 905.2L406.7 900.4L407.2 903.7L407.7 899.3L408.2 903.4L408.7 898.9L409.3 903.4L409.8 900.2L410.3 903.0L410.8 898.9L411.3 903.0L411.8 898.6L412.3 903.0L412.9 899.0L413.4 903.2L413.9 899.9L414.4 902.9L414.9 899.7L415.4 902.0L415.9 897.8L416.4 901.4L416.9 896.9L417.4 900.9L418.0 896.8L418.5 900.5L419.0 896.2L419.5 901.3L420.0 896.5L420.5 900.7L421.0 897.0L421.5 901.6L422.0 895.8L422.5 901.2L423.1 897.6L423.6 901.6L424.1 897.3L424.6 901.4L425.1 897.7L425.6 901.1L426.1 896.6L426.7 900.4L427.2 897.5L427.7 901.5L428.2 898.3L428.7 903.1L429.2 897.7L429.7 902.2L430.3 899.0L430.8 902.3L431.3 898.8L431.8 902.4L432.3 899.0L432.8 902.4L433.4 897.7L433.9 900.9L434.4 897.3L434.9 901.1L435.4 897.1L435.9 900.7L436.4 897.1L437.0 900.7L437.5 897.0L438.0 900.8L438.5 896.3L439.0 899.6L439.5 895.7L440.0 899.2L440.6 895.6L441.1 898.3L441.6 896.0L442.1 899.1L442.6 896.2L443.1 898.8L443.6 895.2L444.2 898.7L444.7 892.5L445.2 896.7L445.7 892.8L446.2 898.1L446.7 894.8L447.2 899.2L447.8 895.7L448.3 898.0L448.8 893.7L449.3 898.8L449.8 894.6L450.3 898.0L450.9 895.7L451.4 899.1L451.9 894.8L452.4 901.3L452.9 896.4L453.4 900.2L453.9 897.0L454.4 901.7L454.9 897.2L455.4 900.9L455.9 895.8L456.4 902.2L456.9 897.3L457.4 901.4L457.9 898.6L458.5 901.9L459.0 898.8L459.5 901.9L460.0 898.1L460.5 902.7L461.0 897.9L461.5 902.2L462.0 899.3L462.5 902.9L463.0 899.3L463.5 901.6L464.0 898.6L464.5 903.5L465.1 898.8L465.6 902.8L466.1 899.6L466.6 904.4L467.1 899.4L467.7 902.1L468.2 898.8L468.7 901.4L469.2 897.5L469.8 901.7L470.3 898.5L470.8 901.4L471.3 896.4L471.8 900.2L472.4 897.1L472.9 899.5L473.4 896.5L474.0 898.7L474.5 894.8L475.0 897.6L475.6 892.1L476.1 896.7L476.6 894.3L477.2 896.8L477.7 892.2L478.2 895.6L478.8 891.4L479.3 895.8L479.8 891.6L480.3 895.2L480.8 892.8L481.4 895.9L481.9 893.0L482.4 897.2L482.9 894.4L483.4 898.6L484.0 893.7L484.5 898.1L485.0 894.6L485.5 898.9L486.1 893.7L486.5 898.7L487.0 895.5L487.5 898.9L488.0 895.0L488.5 900.1L489.0 896.3L489.5 900.8L490.0 898.0L490.5 902.0L490.9 898.1L491.4 903.2L491.9 900.3L492.4 903.7L492.9 901.4L493.4 904.0L493.9 900.6L494.4 904.9L494.9 900.8L495.3 905.2L495.8 900.0L496.4 905.3L496.9 902.0L497.4 906.1L497.9 902.5L498.4 906.2L499.0 903.3L499.5 907.4L500.0 903.7L500.5 908.3L501.0 903.6L501.6 908.3L502.1 904.8L502.6 909.0L503.1 903.8L503.7 908.4L504.2 904.1L504.7 908.4L505.2 905.4L505.7 909.3L506.2 905.1L506.7 908.3L507.3 906.5L507.8 908.6L508.3 905.6L508.8 908.4L509.3 906.2L509.8 909.7L510.3 905.5L510.9 909.7L511.4 907.4L511.9 910.7L512.4 906.6L512.9 910.0L513.4 907.1L514.0 911.0L514.5 907.9L515.0 912.3L515.5 907.6L516.0 912.2L516.6 910.1L517.1 913.1L517.6 910.7L518.1 914.5L518.7 910.7L519.2 914.3L519.7 911.8L520.2 914.3L520.7 910.7L521.3 915.1L521.7 910.5L522.2 913.4L522.7 909.6L523.2 913.3L523.7 908.1L524.2 910.5L524.7 907.3L525.2 910.4L525.7 906.4L526.1 909.0L526.6 904.8L527.1 908.0L527.6 903.5L528.1 906.6L528.6 901.5L529.1 905.1L529.6 901.5L530.1 904.3L530.6 900.7L531.1 902.9L531.7 898.6L532.2 902.7L532.7 898.5L533.2 903.1L533.7 898.0L534.2 902.7L534.7 898.8L535.3 902.2L535.8 898.5L536.3 901.3L536.8 897.9L537.3 900.9L537.8 897.4L538.3 900.4L538.9 896.1L539.4 902.1L539.9 898.0L540.4 900.7L540.9 897.1L541.4 900.4L541.9 897.2L542.5 900.1L543.0 896.8L543.5 902.1L544.0 897.5L544.5 902.1L545.0 897.6L545.6 901.9L546.1 896.8L546.6 901.4L547.1 898.6L547.6 901.8L548.1 898.0L548.6 903.0L549.2 898.7L549.7 901.1L550.2 897.1L550.7 899.7L551.2 897.1L551.8 900.0L552.3 896.4L552.8 899.4L553.3 895.0L553.9 898.4L554.4 894.2L554.9 898.0L555.4 894.2L555.9 898.3L556.5 893.7L557.0 899.4L557.5 895.8L558.0 899.0L558.5 895.2L559.0 898.8L559.6 897.8L560.1 901.2L560.6 897.7L561.1 901.8L561.6 897.8L562.1 902.6L562.6 897.6L563.2 902.6L563.7 899.4L564.2 904.2L564.7 900.6L565.2 904.7L565.7 899.6L566.2 905.4L566.7 901.9L567.2 906.4L567.7 902.8L568.2 908.0L568.7 904.4L569.2 907.8L569.7 905.2L570.2 909.6L570.6 906.1L571.1 909.8L571.6 908.0L572.1 912.1L572.6 907.8L573.1 913.1L573.6 909.9L574.1 914.4L574.5 911.3L575.0 915.5L575.4 912.2L575.8 916.8L576.3 914.6L576.7 920.4L577.2 916.0L577.6 919.1L578.1 916.9L578.5 921.2L579.0 917.5L579.5 922.2L580.0 917.3L580.5 921.1L581.0 916.6L581.5 920.3L582.0 916.1L582.5 919.9L583.1 915.2L583.6 918.9L584.1 914.8L584.6 917.6L585.1 914.5L585.6 918.4L586.1 912.3L586.6 917.5L587.2 912.8L587.7 916.0L588.2 912.2L588.7 915.4L589.2 911.7L589.7 915.4L590.2 912.5L590.7 915.9L591.2 912.7L591.7 917.9L592.2 914.0L592.6 918.3L593.1 914.0L593.6 918.9L594.1 914.7L594.6 918.0L595.1 916.6L595.6 920.0L596.1 914.3L596.6 920.5L597.0 917.5L597.5 921.2L598.0 918.6L598.5 920.4L599.0 918.5L599.5 922.5L600.0 918.6L600.5 923.4L601.0 919.3L601.4 923.3L601.9 919.7L602.4 922.8L602.9 918.0L603.4 921.2L603.9 917.6L604.4 920.2L604.9 917.0L605.4 920.1L605.8 917.1L606.3 920.2L606.8 915.3L607.3 918.6L607.8 914.9L608.3 918.0L608.8 914.4L609.3 917.1L609.8 912.9L610.2 916.0L610.7 911.3L611.2 915.4L611.7 910.9L612.3 914.4L612.8 911.0L613.3 914.1L613.8 909.4L614.3 912.9L614.9 909.7L615.4 913.2L615.9 909.4L616.4 912.9L616.9 908.6L617.4 912.1L618.0 908.1L618.5 912.4L619.0 907.3L619.5 912.3L620.0 908.1L620.5 911.6L621.1 908.5L621.6 912.3L622.1 908.2L622.6 912.7L623.1 909.2L623.7 912.9L624.2 909.6L624.7 914.9L625.2 912.1L625.7 915.5L626.2 911.9L626.8 916.1L627.3 912.3L627.8 916.2L628.3 914.8L628.8 918.9L629.3 915.1L629.8 918.8L630.3 915.6L630.8 919.7L631.3 915.7L631.8 920.5L632.3 916.6L632.7 923.5L633.2 918.7L633.7 922.1L634.2 917.8L634.7 923.0L635.2 919.2L635.7 923.5L636.2 921.3L636.7 926.3L637.1 921.4L637.6 926.4L638.1 922.8L638.6 928.3" fill="none" stroke="#f00" stroke-width="2.8" stroke-linejoin="round"/>
<rect x="124.5" y="780.9" width="600.9" height="534.9" fill="none" stroke="#000" stroke-width="3.7"/>
<text x="124.5" y="1346.2" font-family='"Liberation Sans", sans-serif' font-size="33.7" text-anchor="middle">0</text>
<text x="258.0" y="1346.2" font-family='"Liberation Sans", sans-serif' font-size="33.7" text-anchor="middle">20</text>
<text x="391.6" y="1346.2" font-family='"Liberation Sans", sans-serif' font-size="33.7" text-anchor="middle">40</text>
<text x="525.1" y="1346.2" font-family='"Liberation Sans", sans-serif' font-size="33.7" text-anchor="middle">60</text>
<text x="658.6" y="1346.2" font-family='"Liberation Sans", sans-serif' font-size="33.7" text-anchor="middle">80</text>
<text x="118.0" y="1327.7" font-family='"Liberation Sans", sans-serif' font-size="33.7" text-anchor="end">0.1</text>
<text x="118.0" y="1194.0" font-family='"Liberation Sans", sans-serif' font-size="33.7" text-anchor="end">0.2</text>
<text x="118.0" y="1060.2" font-family='"Liberation Sans", sans-serif' font-size="33.7" text-anchor="end">0.3</text>
<text x="118.0" y="926.5" font-family='"Liberation Sans", sans-serif' font-size="33.7" text-anchor="end">0.4</text>
<text x="118.0" y="792.8" font-family='"Liberation Sans", sans-serif' font-size="33.7" text-anchor="end">0.5</text>
<text x="424.9" y="1381.4" font-family='"Liberation Sans", sans-serif' font-size="37.2" text-anchor="middle">Time (ps)</text>
<text transform="translate(48.7 1048.3) rotate(-90)" font-family='"Liberation Sans", sans-serif' font-size="37.2" text-anchor="middle">q<tspan font-size="26.4" dy="16">tet</tspan><tspan dy="-16">, q</tspan><tspan font-size="26.4" dy="16">hex</tspan></text>
</g>
<g id="panel-d">
<path d="M995.5 1317.2v-7.0M995.5 789.0v7.0M1061.5 1317.2v-13.0M1061.5 789.0v13.0M1127.6 1317.2v-7.0M1127.6 789.0v7.0M1193.7 1317.2v-13.0M1193.7 789.0v13.0M1259.7 1317.2v-7.0M1259.7 789.0v7.0M1325.8 1317.2v-13.0M1325.8 789.0v13.0M1391.9 1317.2v-7.0M1391.9 789.0v7.0M1457.9 1317.2v-13.0M1457.9 789.0v13.0M929.4 1264.4h7.0M1524.0 1264.4h-7.0M929.4 1211.6h13.0M1524.0 1211.6h-13.0M929.4 1158.7h7.0M1524.0 1158.7h-7.0M929.4 1105.9h13.0M1524.0 1105.9h-13.0M929.4 1053.1h7.0M1524.0 1053.1h-7.0M929.4 1000.3h13.0M1524.0 1000.3h-13.0M929.4 947.5h7.0M1524.0 947.5h-7.0M929.4 894.6h13.0M1524.0 894.6h-13.0M929.4 841.8h7.0M1524.0 841.8h-7.0" stroke="#000" stroke-width="1.7" fill="none"/>
<path d="M937.7 1065.7L938.2 1066.6L938.7 1064.8L939.2 1065.5L939.7 1064.0L940.2 1064.8L940.6 1063.1L941.1 1063.5L941.6 1061.4L942.1 1062.9L942.6 1061.2L943.1 1061.9L943.6 1060.3L944.1 1060.6L944.6 1059.3L945.1 1060.3L945.6 1059.4L946.1 1060.6L946.6 1059.5L947.2 1060.9L947.7 1059.9L948.2 1061.4L948.7 1060.0L949.3 1061.5L949.8 1060.5L950.3 1062.0L950.8 1060.8L951.3 1062.3L951.9 1061.1L952.4 1062.9L952.9 1061.4L953.4 1062.2L953.9 1060.7L954.5 1061.4L955.0 1059.7L955.5 1060.6L956.0 1059.3L956.6 1059.9L957.1 1058.5L957.6 1059.6L958.1 1058.2L958.6 1058.9L959.2 1057.9L959.7 1059.0L960.2 1057.5L960.7 1058.4L961.2 1057.2L961.7 1058.2L962.3 1057.2L962.8 1058.0L963.3 1057.0L963.8 1057.9L964.3 1056.9L964.8 1058.2L965.3 1056.7L965.8 1058.0L966.4 1056.4L966.9 1057.7L967.4 1056.4L967.9 1058.1L968.4 1056.6L968.9 1057.6L969.4 1056.4L969.9 1057.7L970.4 1055.9L971.0 1057.4L971.5 1056.8L972.0 1058.2L972.5 1057.1L973.0 1059.0L973.5 1057.6L974.1 1059.7L974.6 1058.3L975.1 1059.9L975.6 1058.7L976.1 1060.1L976.7 1059.5L977.2 1061.4L977.7 1059.8L978.2 1061.7L978.7 1060.5L979.2 1062.4L979.8 1061.0L980.3 1062.5L980.8 1061.1L981.3 1061.5L981.8 1060.0L982.3 1061.3L982.9 1059.8L983.4 1060.7L983.9 1059.7L984.4 1060.7L984.9 1059.1L985.4 1060.2L985.9 1058.8L986.5 1060.0L987.0 1058.4L987.5 1059.1L988.0 1057.8L988.5 1058.9L989.0 1057.6L989.5 1058.3L990.0 1057.8L990.5 1059.5L991.0 1058.8L991.5 1060.6L992.0 1060.0L992.5 1061.5L993.0 1060.7L993.5 1062.6L993.9 1061.7L994.4 1063.4L994.9 1062.7L995.4 1064.1L995.9 1063.4L996.4 1064.9L996.9 1064.5L997.4 1066.3L997.9 1065.8L998.3 1067.6L998.8 1066.9L999.3 1068.6L999.8 1068.3L1000.3 1069.9L1000.8 1069.4L1001.3 1070.9L1001.8 1070.0L1002.3 1072.1L1002.7 1071.0L1003.2 1072.9L1003.7 1071.8L1004.3 1073.1L1004.8 1072.4L1005.3 1073.7L1005.8 1072.7L1006.3 1074.3L1006.8 1072.1L1007.3 1074.5L1007.8 1073.2L1008.3 1074.4L1008.8 1073.6L1009.4 1074.5L1009.9 1073.4L1010.4 1074.8L1010.9 1073.7L1011.4 1075.3L1011.9 1074.1L1012.4 1075.0L1012.9 1074.6L1013.4 1075.6L1013.9 1074.5L1014.5 1075.9L1015.0 1074.6L1015.5 1075.9L1016.0 1074.7L1016.5 1075.6L1017.0 1074.1L1017.5 1075.1L1018.1 1074.6L1018.6 1075.2L1019.1 1073.8L1019.6 1075.4L1020.1 1074.1L1020.6 1075.2L1021.1 1074.3L1021.7 1075.0L1022.2 1074.2L1022.7 1074.9L1023.2 1073.4L1023.7 1075.1L1024.2 1073.8L1024.7 1075.0L1025.3 1073.8L1025.8 1074.5L1026.3 1073.1L1026.8 1073.7L1027.3 1072.2L1027.8 1073.4L1028.3 1071.9L1028.9 1072.7L1029.4 1071.1L1029.9 1071.9L1030.4 1070.4L1030.9 1071.1L1031.4 1069.6L1032.0 1070.8L1032.5 1069.0L1033.0 1069.9L1033.5 1068.1L1034.0 1069.5L1034.5 1068.1L1035.0 1069.2L1035.6 1068.0L1036.1 1068.9L1036.6 1068.0L1037.1 1069.3L1037.7 1068.0L1038.2 1069.4L1038.7 1068.5L1039.2 1069.9L1039.7 1068.7L1040.3 1070.1L1040.8 1068.6L1041.3 1070.0L1041.8 1068.8L1042.3 1070.7L1042.8 1069.1L1043.3 1071.1L1043.8 1070.5L1044.3 1072.0L1044.8 1071.5L1045.3 1073.1L1045.8 1072.0L1046.3 1074.0L1046.7 1073.1L1047.2 1074.8L1047.7 1074.2L1048.2 1076.0L1048.7 1075.1L1049.2 1077.2L1049.7 1075.8L1050.2 1078.0L1050.7 1076.9L1051.2 1078.8L1051.7 1077.7L1052.3 1079.3L1052.8 1078.3L1053.3 1079.8L1053.8 1078.8L1054.3 1080.2L1054.9 1079.1L1055.4 1080.4L1055.9 1079.2L1056.4 1081.0L1057.0 1080.4L1057.5 1081.7L1058.0 1080.7L1058.5 1081.6L1059.0 1079.9L1059.6 1080.9L1060.1 1079.7L1060.6 1080.4L1061.1 1079.0L1061.6 1079.7L1062.2 1078.2L1062.7 1079.3L1063.2 1077.7L1063.7 1078.7L1064.3 1076.9L1064.8 1077.7L1065.3 1076.2L1065.8 1077.0L1066.4 1076.0L1066.9 1077.1L1067.5 1075.7L1068.1 1077.0L1068.6 1075.6L1069.2 1076.3L1069.7 1075.4L1070.3 1077.0L1070.8 1075.3L1071.3 1076.6L1071.8 1075.3L1072.3 1076.5L1072.9 1075.1L1073.4 1076.8L1073.9 1075.6L1074.4 1076.6L1074.9 1075.8L1075.5 1077.7L1076.0 1076.2L1076.5 1078.0L1077.0 1076.6L1077.6 1077.9L1078.1 1076.9L1078.6 1078.5L1079.1 1077.2L1079.6 1078.6L1080.2 1076.7L1080.7 1078.1L1081.2 1076.9L1081.7 1078.5L1082.2 1077.3L1082.8 1078.5L1083.3 1077.4L1083.8 1078.9L1084.3 1077.8L1084.9 1079.2L1085.4 1077.9L1085.9 1078.6L1086.4 1077.8L1086.9 1078.9L1087.4 1077.6L1087.9 1078.8L1088.4 1077.8L1088.9 1078.9L1089.5 1077.7L1090.0 1079.7L1090.5 1077.8L1091.0 1079.2L1091.5 1078.1L1092.0 1080.0L1092.5 1078.5L1093.0 1079.8L1093.5 1078.6L1094.0 1079.2L1094.6 1078.2L1095.1 1079.4L1095.6 1078.5L1096.1 1079.6L1096.6 1078.8L1097.1 1080.0L1097.7 1078.5L1098.2 1080.0L1098.8 1078.8L1099.3 1079.8L1099.8 1078.7L1100.4 1079.4L1100.9 1077.6L1101.5 1079.5L1102.0 1077.8L1102.6 1079.0L1103.1 1077.5L1103.6 1078.7L1104.2 1077.3L1104.7 1077.8L1105.2 1076.1L1105.7 1077.6L1106.2 1076.5L1106.8 1077.3L1107.3 1076.4L1107.8 1077.1L1108.3 1075.9L1108.8 1076.8L1109.4 1075.9L1109.9 1077.1L1110.4 1076.0L1110.9 1077.3L1111.4 1076.1L1111.9 1077.4L1112.4 1076.0L1112.9 1077.3L1113.4 1075.7L1113.9 1077.1L1114.5 1075.6L1115.0 1076.7L1115.5 1075.8L1116.0 1077.1L1116.5 1076.3L1117.0 1077.4L1117.5 1076.3L1118.0 1077.7L1118.5 1076.0L1119.0 1077.4L1119.6 1076.5L1120.1 1077.8L1120.6 1076.6L1121.1 1077.9L1121.6 1077.0L1122.1 1078.1L1122.6 1077.5L1123.1 1078.8L1123.6 1078.2L1124.2 1079.3L1124.7 1078.5L1125.2 1080.1L1125.7 1079.0L1126.2 1080.3L1126.7 1079.3L1127.2 1080.9L1127.7 1080.0L1128.2 1081.1L1128.7 1080.4L1129.3 1081.7L1129.8 1080.4L1130.3 1081.7L1130.8 1080.9L1131.3 1082.2L1131.8 1081.8L1132.3 1083.0L1132.8 1082.2L1133.3 1084.1L1133.9 1083.1L1134.4 1084.5L1134.9 1083.1L1135.4 1084.8L1135.9 1083.9L1136.4 1085.6L1136.9 1085.0L1137.5 1086.3L1138.0 1085.8L1138.5 1087.4L1139.0 1086.5L1139.5 1088.4L1140.0 1087.1L1140.5 1088.7L1141.1 1087.8L1141.6 1089.0L1142.1 1088.6L1142.6 1089.7L1143.1 1088.6L1143.6 1090.2L1144.2 1088.9L1144.7 1090.6L1145.2 1089.6L1145.7 1091.3L1146.2 1089.8L1146.7 1091.3L1147.2 1090.3L1147.8 1092.0L1148.3 1091.5L1148.8 1093.0L1149.3 1091.8L1149.8 1093.6L1150.3 1092.7L1150.8 1093.9L1151.4 1093.2L1151.9 1094.6L1152.4 1093.6L1152.9 1094.7L1153.4 1093.1L1153.9 1095.1L1154.4 1093.8L1155.0 1095.0L1155.5 1093.8L1156.0 1095.3L1156.5 1094.2L1157.0 1095.6L1157.5 1094.1L1158.0 1095.4L1158.6 1093.7L1159.1 1095.0L1159.6 1094.0L1160.1 1095.4L1160.6 1094.0L1161.1 1095.1L1161.7 1094.1L1162.1 1094.8L1162.6 1093.5L1163.1 1094.3L1163.6 1092.6L1164.1 1093.9L1164.6 1092.2L1165.1 1093.1L1165.6 1091.4L1166.1 1091.9L1166.6 1090.2L1167.1 1091.1L1167.6 1089.3L1168.1 1090.2L1168.6 1088.8L1169.1 1089.6L1169.6 1088.0L1170.1 1089.7L1170.6 1088.0L1171.1 1089.0L1171.6 1088.1L1172.1 1089.5L1172.6 1088.2L1173.1 1089.2L1173.6 1087.7L1174.1 1088.4L1174.6 1087.4L1175.1 1088.6L1175.7 1087.4L1176.2 1088.4L1176.7 1087.6L1177.2 1088.4L1177.7 1086.8L1178.2 1088.2L1178.7 1086.9L1179.2 1088.1L1179.7 1087.0L1180.2 1088.2L1180.7 1087.0L1181.2 1087.6L1181.7 1086.2L1182.2 1087.6L1182.7 1085.9L1183.2 1087.3L1183.7 1085.0L1184.2 1086.3L1184.7 1085.3L1185.2 1086.4L1185.8 1085.1L1186.3 1085.9L1186.8 1084.7L1187.3 1085.9L1187.8 1084.1L1188.3 1085.1L1188.8 1083.9L1189.3 1085.1L1189.8 1083.9L1190.3 1084.8L1190.8 1083.2L1191.3 1084.3L1191.8 1082.8L1192.3 1084.1L1192.8 1082.6L1193.3 1083.9L1193.8 1082.3L1194.3 1083.5L1194.8 1082.2L1195.3 1083.5L1195.8 1082.3L1196.4 1082.7L1196.9 1081.5L1197.4 1082.8L1197.9 1080.8L1198.4 1082.1L1199.0 1080.5L1199.5 1081.3L1200.0 1080.2L1200.5 1082.1L1201.0 1080.7L1201.5 1082.3L1202.0 1081.6L1202.6 1082.5L1203.1 1081.4L1203.6 1083.2L1204.1 1081.8L1204.6 1083.3L1205.1 1082.5L1205.6 1084.1L1206.1 1082.7L1206.6 1084.6L1207.1 1083.1L1207.7 1084.7L1208.2 1083.6L1208.7 1085.4L1209.2 1084.4L1209.7 1085.5L1210.2 1084.6L1210.7 1086.3L1211.2 1085.2L1211.7 1086.5L1212.2 1084.7L1212.8 1086.4L1213.3 1085.1L1213.8 1086.2L1214.3 1084.8L1214.8 1085.9L1215.3 1085.3L1215.9 1086.7L1216.4 1084.7L1216.9 1086.3L1217.4 1084.3L1217.9 1086.2L1218.4 1084.9L1218.9 1085.9L1219.5 1084.2L1220.0 1085.3L1220.5 1084.2L1221.0 1085.5L1221.5 1084.5L1222.0 1086.4L1222.6 1085.1L1223.1 1086.6L1223.6 1085.0L1224.1 1086.9L1224.6 1086.0L1225.2 1087.2L1225.7 1086.9L1226.2 1088.0L1226.7 1087.2L1227.3 1088.7L1227.8 1087.8L1228.3 1089.4L1228.8 1088.1L1229.3 1089.7L1229.8 1088.7L1230.3 1089.9L1230.8 1089.0L1231.3 1090.0L1231.8 1089.5L1232.3 1091.0L1232.8 1090.2L1233.3 1091.4L1233.8 1090.5L1234.3 1092.2L1234.8 1091.4L1235.3 1092.5L1235.8 1091.1L1236.3 1092.4L1236.8 1090.8L1237.4 1092.2L1237.9 1090.8L1238.4 1091.9L1238.9 1090.5L1239.4 1091.6L1239.9 1090.4L1240.4 1090.6L1240.9 1089.4L1241.4 1090.6L1241.9 1089.0L1242.4 1090.1L1242.9 1088.7L1243.5 1090.1L1244.0 1088.5L1244.5 1089.7L1245.0 1088.4L1245.5 1089.6L1246.0 1087.5L1246.5 1088.6L1247.0 1087.2L1247.6 1088.3L1248.1 1086.7L1248.6 1087.4L1249.1 1086.2L1249.6 1087.2L1250.1 1085.7L1250.6 1086.4L1251.2 1085.3L1251.7 1086.2L1252.2 1084.6L1252.7 1085.7L1253.2 1083.7L1253.7 1085.3L1254.2 1083.9L1254.8 1084.5L1255.3 1083.2L1255.8 1084.1L1256.3 1082.1L1256.8 1084.1L1257.3 1082.3L1257.8 1083.7L1258.3 1082.0L1258.9 1084.1L1259.4 1082.2L1259.9 1083.4L1260.4 1082.0L1260.9 1083.4L1261.4 1081.6L1261.9 1082.9L1262.4 1081.7L1262.9 1082.6L1263.5 1081.4L1264.0 1082.9L1264.5 1081.6L1265.0 1083.1L1265.5 1081.2L1266.0 1082.1L1266.5 1080.9L1267.0 1082.2L1267.6 1080.8L1268.1 1082.1L1268.5 1081.3L1269.0 1082.9L1269.5 1082.2L1270.0 1083.5L1270.5 1082.5L1271.0 1084.3L1271.4 1083.5L1271.9 1085.1L1272.4 1084.4L1272.9 1086.3L1273.4 1085.2L1273.8 1086.8L1274.3 1085.8L1274.8 1087.8L1275.3 1087.0L1275.8 1088.7L1276.3 1088.4L1276.8 1089.8L1277.3 1088.4L1277.7 1090.6L1278.2 1089.3L1278.7 1091.5L1279.2 1090.6L1279.7 1092.0L1280.2 1091.7L1280.7 1093.0L1281.2 1092.1L1281.7 1093.9L1282.1 1093.5L1282.6 1094.9L1283.1 1094.2L1283.6 1096.1L1284.1 1095.0L1284.6 1096.8L1285.1 1096.0L1285.6 1097.6L1286.2 1095.7L1286.7 1097.2L1287.2 1096.2L1287.7 1097.7L1288.2 1096.9L1288.7 1098.0L1289.2 1097.2L1289.8 1098.7L1290.3 1097.4L1290.8 1098.9L1291.3 1098.1L1291.8 1099.1L1292.3 1097.9L1292.8 1099.0L1293.4 1098.4L1293.9 1100.1L1294.4 1099.3L1294.9 1100.5L1295.5 1099.3L1296.0 1100.8L1296.5 1100.0L1297.0 1101.3L1297.6 1100.3L1298.1 1101.6L1298.6 1100.7L1299.1 1101.6L1299.7 1101.0L1300.2 1102.2L1300.7 1101.0L1301.2 1102.2L1301.8 1101.2L1302.3 1102.4L1302.8 1101.3L1303.3 1102.9L1303.8 1101.5L1304.3 1102.8L1304.9 1101.8L1305.4 1103.5L1305.9 1102.2L1306.4 1103.5L1306.9 1102.4L1307.5 1103.7L1308.0 1102.3L1308.5 1104.0L1309.0 1102.8L1309.5 1104.4L1310.0 1103.3L1310.6 1104.7L1311.1 1103.6L1311.6 1104.6L1312.1 1103.4L1312.7 1104.4L1313.2 1103.5L1313.7 1104.7L1314.2 1103.2L1314.7 1104.5L1315.3 1103.4L1315.8 1104.1L1316.3 1102.7L1316.8 1104.3L1317.3 1103.2L1317.9 1104.5L1318.4 1103.0L1318.9 1105.4L1319.4 1104.0L1320.0 1106.2L1320.5 1105.2L1321.0 1106.5L1321.5 1105.8L1322.0 1107.3L1322.6 1106.6L1323.1 1108.0L1323.6 1107.0L1324.1 1108.8L1324.6 1107.6L1325.2 1109.1L1325.7 1108.1L1326.2 1109.5L1326.7 1108.9L1327.2 1110.3L1327.8 1109.0L1328.3 1110.0L1328.8 1108.9L1329.3 1110.8L1329.8 1109.4L1330.3 1110.6L1330.9 1109.7L1331.4 1110.8L1331.9 1109.9L1332.4 1111.1L1332.9 1110.2L1333.5 1111.7L1334.0 1110.7L1334.5 1112.2L1335.0 1111.4L1335.6 1112.9L1336.1 1111.9L1336.6 1113.1L1337.1 1112.6L1337.7 1113.8L1338.2 1112.9L1338.7 1114.7L1339.2 1113.9L1339.8 1115.3L1340.3 1114.5L1340.8 1116.1L1341.3 1114.8L1341.9 1116.0L1342.4 1115.0L1342.9 1116.4L1343.4 1115.1L1343.9 1116.6L1344.5 1115.5L1345.0 1117.1L1345.5 1115.8L1346.0 1117.0L1346.6 1116.1L1347.1 1117.5L1347.6 1116.5L1348.1 1117.7L1348.6 1116.3L1349.1 1117.4L1349.6 1115.6L1350.1 1116.3L1350.6 1114.6L1351.1 1115.2L1351.6 1113.6L1352.1 1114.4L1352.6 1112.5L1353.0 1112.9L1353.5 1111.4L1354.0 1112.2L1354.5 1110.5L1355.1 1111.5L1355.6 1110.0L1356.1 1110.8L1356.7 1109.1L1357.2 1110.1L1357.8 1109.2L1358.3 1109.7L1358.9 1108.3L1359.4 1109.5L1359.9 1108.8L1360.4 1110.4L1360.8 1110.0L1361.3 1111.7L1361.8 1110.9L1362.3 1112.8L1362.8 1112.2L1363.3 1113.9L1363.7 1113.4L1364.2 1114.8L1364.7 1114.0L1365.2 1115.7L1365.7 1115.3L1366.2 1117.2L1366.6 1116.3L1367.1 1118.9L1367.5 1118.2L1368.0 1120.4L1368.5 1119.6L1368.9 1121.9L1369.4 1120.8L1369.8 1123.2L1370.3 1122.9L1370.7 1125.1L1371.2 1124.4L1371.7 1126.5L1372.1 1126.3L1372.6 1128.1L1373.1 1127.5L1373.6 1129.5L1374.1 1129.1L1374.6 1131.5L1375.0 1130.6L1375.5 1132.7L1376.0 1132.2L1376.6 1133.5L1377.1 1132.5L1377.6 1133.5L1378.2 1132.4L1378.7 1133.4L1379.2 1132.5L1379.8 1134.0L1380.3 1132.7L1380.8 1133.8L1381.4 1133.0L1381.9 1134.5L1382.4 1133.4L1383.0 1134.5L1383.5 1133.2L1384.0 1134.5L1384.6 1133.3L1385.1 1134.5L1385.6 1133.7L1386.2 1134.5L1386.7 1133.5L1387.2 1134.6L1387.8 1133.4" fill="none" stroke="#000" stroke-width="2.6" stroke-linejoin="round"/>
<path d="M931.1 1066.6L937.7 1060.0L944.3 1066.6L937.7 1073.2Z" fill="none" stroke="#000" stroke-width="2.3"/><path d="M964.2 1056.8L970.8 1050.2L977.4 1056.8L970.8 1063.4Z" fill="none" stroke="#000" stroke-width="2.3"/><path d="M997.2 1072.6L1003.8 1066.0L1010.4 1072.6L1003.8 1079.2Z" fill="none" stroke="#000" stroke-width="2.3"/><path d="M1030.3 1068.8L1036.9 1062.2L1043.5 1068.8L1036.9 1075.4Z" fill="none" stroke="#000" stroke-width="2.3"/><path d="M1063.4 1075.5L1070.0 1068.9L1076.6 1075.5L1070.0 1082.1Z" fill="none" stroke="#000" stroke-width="2.3"/><path d="M1096.5 1078.2L1103.0 1071.6L1109.6 1078.2L1103.0 1084.8Z" fill="none" stroke="#000" stroke-width="2.3"/><path d="M1129.5 1084.9L1136.1 1078.3L1142.7 1084.9L1136.1 1091.5Z" fill="none" stroke="#000" stroke-width="2.3"/><path d="M1162.6 1089.1L1169.2 1082.5L1175.8 1089.1L1169.2 1095.7Z" fill="none" stroke="#000" stroke-width="2.3"/><path d="M1195.7 1082.0L1202.3 1075.4L1208.9 1082.0L1202.3 1088.6Z" fill="none" stroke="#000" stroke-width="2.3"/><path d="M1228.7 1091.6L1235.3 1085.0L1241.9 1091.6L1235.3 1098.2Z" fill="none" stroke="#000" stroke-width="2.3"/><path d="M1261.8 1081.4L1268.4 1074.8L1275.0 1081.4L1268.4 1088.0Z" fill="none" stroke="#000" stroke-width="2.3"/><path d="M1294.9 1101.7L1301.5 1095.1L1308.1 1101.7L1301.5 1108.3Z" fill="none" stroke="#000" stroke-width="2.3"/><path d="M1327.9 1111.7L1334.5 1105.1L1341.1 1111.7L1334.5 1118.3Z" fill="none" stroke="#000" stroke-width="2.3"/><path d="M1361.0 1119.0L1367.6 1112.4L1374.2 1119.0L1367.6 1125.6Z" fill="none" stroke="#000" stroke-width="2.3"/>
<path d="M936.7 1057.2L937.2 1058.2L937.7 1056.4L938.2 1057.2L938.7 1055.2L939.2 1056.0L939.7 1054.0L940.2 1055.0L940.6 1053.2L941.1 1053.9L941.6 1052.3L942.1 1053.2L942.6 1051.3L943.1 1051.9L943.6 1050.3L944.1 1050.7L944.6 1048.9L945.1 1050.2L945.6 1049.1L946.1 1049.8L946.6 1048.5L947.2 1049.9L947.7 1048.4L948.2 1049.6L948.7 1048.3L949.3 1049.5L949.8 1048.1L950.3 1049.1L950.8 1047.8L951.3 1048.9L951.9 1047.1L952.4 1048.6L952.9 1048.0L953.4 1049.6L953.8 1048.8L954.3 1050.1L954.8 1049.1L955.3 1051.0L955.8 1050.5L956.3 1051.7L956.8 1050.5L957.3 1052.1L957.8 1051.4L958.2 1053.1L958.7 1052.1L959.2 1053.6L959.7 1052.6L960.2 1054.3L960.7 1053.1L961.2 1054.3L961.7 1053.1L962.3 1054.5L962.8 1053.3L963.3 1055.1L963.8 1053.9L964.3 1054.9L964.8 1054.1L965.4 1055.2L965.9 1054.1L966.4 1055.6L966.9 1054.8L967.4 1056.3L967.9 1055.1L968.4 1056.7L969.0 1055.4L969.5 1056.4L970.0 1055.1L970.5 1055.9L971.0 1054.0L971.5 1055.0L972.0 1054.0L972.6 1054.5L973.1 1052.7L973.6 1054.0L974.1 1052.5L974.6 1053.3L975.1 1051.6L975.6 1052.7L976.2 1050.8L976.7 1051.9L977.2 1050.7L977.7 1051.4L978.2 1050.0L978.7 1051.0L979.2 1049.0L979.8 1050.1L980.3 1049.0L980.8 1050.4L981.3 1049.6L981.8 1051.1L982.3 1049.9L982.9 1051.2L983.4 1050.4L983.9 1051.6L984.4 1050.8L984.9 1051.8L985.4 1050.7L985.9 1051.9L986.5 1050.2L987.0 1051.9L987.5 1050.9L988.0 1052.5L988.5 1051.1L989.0 1052.5L989.5 1051.6L990.1 1052.1L990.6 1051.0L991.1 1051.6L991.6 1050.5L992.1 1051.0L992.7 1049.6L993.2 1050.6L993.7 1049.2L994.2 1050.3L994.8 1048.6L995.3 1049.5L995.8 1048.2L996.3 1049.1L996.8 1047.9L997.4 1048.5L997.9 1046.8L998.3 1047.4L998.8 1045.4L999.3 1045.8L999.8 1043.9L1000.3 1044.4L1000.8 1042.4L1001.3 1043.2L1001.8 1040.9L1002.3 1041.5L1002.7 1039.7L1003.2 1039.9L1003.7 1038.5L1004.3 1039.6L1004.8 1037.6L1005.3 1039.1L1005.8 1037.7L1006.3 1038.6L1006.8 1037.7L1007.3 1038.3L1007.8 1037.4L1008.3 1038.5L1008.8 1036.8L1009.4 1038.0L1009.9 1036.5L1010.4 1037.4L1010.9 1035.7L1011.4 1036.8L1011.9 1035.7L1012.4 1036.6L1012.9 1035.2L1013.4 1036.5L1013.9 1035.2L1014.5 1036.4L1015.0 1034.6L1015.5 1036.2L1016.0 1035.0L1016.5 1036.5L1017.0 1035.4L1017.5 1036.2L1018.1 1035.3L1018.6 1036.5L1019.1 1035.2L1019.6 1036.6L1020.1 1035.6L1020.6 1037.2L1021.1 1035.6L1021.7 1037.1L1022.2 1035.9L1022.7 1037.1L1023.2 1035.9L1023.7 1037.5L1024.2 1036.2L1024.7 1037.7L1025.3 1037.0L1025.8 1039.0L1026.3 1037.8L1026.8 1039.2L1027.3 1038.5L1027.8 1040.4L1028.3 1038.8L1028.9 1039.9L1029.4 1039.2L1029.9 1040.4L1030.4 1039.2L1030.9 1040.7L1031.4 1039.8L1032.0 1041.7L1032.5 1040.3L1033.0 1041.7L1033.5 1040.8L1034.0 1042.2L1034.5 1041.0L1035.0 1042.4L1035.6 1041.3L1036.1 1042.6L1036.6 1041.8L1037.1 1043.2L1037.7 1042.0L1038.2 1043.5L1038.7 1042.4L1039.2 1043.7L1039.7 1042.6L1040.3 1043.6L1040.8 1042.4L1041.3 1044.0L1041.8 1043.0L1042.3 1044.4L1042.8 1042.2L1043.3 1043.4L1043.8 1041.4L1044.3 1041.8L1044.8 1040.1L1045.3 1040.2L1045.8 1038.5L1046.3 1039.4L1046.7 1037.7L1047.2 1038.8L1047.7 1036.5L1048.2 1037.2L1048.7 1035.6L1049.2 1036.2L1049.7 1034.4L1050.2 1035.1L1050.7 1033.4L1051.2 1033.9L1051.7 1032.7L1052.3 1033.0L1052.8 1031.5L1053.3 1032.9L1053.8 1031.5L1054.3 1032.2L1054.9 1030.8L1055.4 1031.5L1055.9 1029.8L1056.4 1030.7L1057.0 1029.3L1057.5 1030.6L1058.0 1028.9L1058.5 1030.2L1059.0 1029.6L1059.6 1031.1L1060.1 1030.1L1060.6 1031.8L1061.1 1030.2L1061.6 1032.0L1062.2 1031.1L1062.7 1032.6L1063.2 1031.7L1063.7 1033.2L1064.3 1032.3L1064.8 1033.5L1065.3 1032.5L1065.8 1034.2L1066.3 1032.9L1066.8 1034.3L1067.3 1032.9L1067.9 1034.1L1068.4 1032.7L1068.9 1033.8L1069.4 1032.5L1069.9 1034.0L1070.4 1032.8L1070.9 1033.8L1071.4 1033.2L1071.9 1034.0L1072.5 1032.6L1073.0 1033.9L1073.5 1032.7L1074.0 1033.7L1074.5 1032.6L1075.0 1033.8L1075.5 1032.9L1076.0 1034.0L1076.5 1033.0L1077.0 1034.0L1077.6 1032.9L1078.1 1033.8L1078.6 1032.6L1079.1 1033.7L1079.6 1032.5L1080.2 1033.9L1080.7 1032.2L1081.2 1032.9L1081.7 1032.0L1082.2 1032.7L1082.8 1031.8L1083.3 1032.4L1083.8 1031.1L1084.3 1032.2L1084.9 1030.8L1085.4 1031.9L1085.9 1030.6L1086.4 1032.0L1086.9 1030.8L1087.4 1032.6L1087.9 1030.6L1088.4 1032.7L1088.9 1031.1L1089.5 1032.4L1090.0 1030.8L1090.5 1032.0L1091.0 1030.6L1091.5 1031.1L1092.0 1030.4L1092.5 1031.2L1093.0 1030.0L1093.5 1031.2L1094.0 1030.2L1094.6 1031.4L1095.1 1030.3L1095.6 1031.0L1096.1 1029.8L1096.6 1031.1L1097.1 1029.9L1097.6 1031.4L1098.1 1030.3L1098.6 1031.0L1099.2 1030.0L1099.7 1031.4L1100.2 1030.9L1100.7 1031.8L1101.2 1031.3L1101.7 1032.2L1102.2 1031.5L1102.7 1032.5L1103.2 1031.0L1103.7 1033.3L1104.3 1032.0L1104.8 1033.8L1105.3 1032.5L1105.8 1033.7L1106.3 1032.5L1106.8 1034.4L1107.3 1033.1L1107.8 1034.4L1108.3 1033.5L1108.8 1035.1L1109.4 1034.0L1109.9 1035.0L1110.4 1033.4L1110.9 1034.5L1111.4 1033.2L1111.9 1034.2L1112.4 1033.3L1112.9 1034.3L1113.4 1033.0L1113.9 1034.1L1114.5 1033.2L1115.0 1033.9L1115.5 1032.8L1116.0 1033.9L1116.5 1032.9L1117.0 1034.0L1117.5 1032.7L1118.0 1033.7L1118.5 1032.5L1119.0 1033.9L1119.6 1032.4L1120.1 1033.7L1120.6 1032.5L1121.1 1033.5L1121.6 1032.1L1122.1 1033.3L1122.6 1032.0L1123.1 1032.9L1123.6 1031.8L1124.2 1032.8L1124.7 1031.3L1125.2 1032.6L1125.7 1031.3L1126.2 1032.0L1126.7 1030.9L1127.2 1031.7L1127.7 1030.4L1128.2 1031.3L1128.7 1030.3L1129.3 1031.0L1129.8 1030.1L1130.3 1030.8L1130.8 1029.4L1131.3 1030.6L1131.8 1028.9L1132.3 1030.5L1132.8 1028.4L1133.3 1029.3L1133.9 1027.6L1134.4 1028.4L1134.9 1026.7L1135.4 1027.9L1135.9 1026.2L1136.4 1027.3L1136.9 1025.8L1137.5 1026.7L1138.0 1025.4L1138.5 1025.8L1139.0 1024.2L1139.5 1025.0L1140.0 1023.5L1140.5 1024.5L1141.1 1023.0L1141.6 1024.0L1142.1 1022.4L1142.6 1023.1L1143.1 1021.3L1143.6 1022.1L1144.2 1021.2L1144.7 1021.7L1145.2 1020.0L1145.7 1021.0L1146.2 1019.9L1146.7 1020.5L1147.2 1019.2L1147.8 1019.9L1148.3 1018.4L1148.8 1020.1L1149.3 1017.8L1149.8 1018.6L1150.3 1017.1L1150.8 1018.3L1151.4 1016.8L1151.9 1017.2L1152.4 1016.1L1152.9 1017.4L1153.4 1016.2L1153.9 1017.2L1154.4 1016.4L1155.0 1017.2L1155.5 1016.2L1156.0 1017.7L1156.5 1015.9L1157.0 1017.5L1157.5 1016.1L1158.0 1017.5L1158.6 1016.2L1159.1 1017.6L1159.6 1016.1L1160.1 1017.6L1160.6 1016.0L1161.1 1017.2L1161.7 1015.8L1162.2 1017.3L1162.7 1016.4L1163.2 1017.9L1163.7 1017.2L1164.2 1018.6L1164.7 1017.4L1165.3 1019.2L1165.8 1018.0L1166.3 1019.7L1166.8 1018.5L1167.3 1019.8L1167.8 1019.1L1168.3 1020.6L1168.9 1019.6L1169.4 1021.2L1169.9 1020.3L1170.4 1021.3L1170.9 1020.6L1171.4 1022.2L1171.9 1020.7L1172.5 1022.2L1173.0 1020.9L1173.5 1022.1L1174.0 1021.3L1174.5 1022.5L1175.0 1021.3L1175.5 1022.4L1176.1 1021.2L1176.6 1022.4L1177.1 1021.4L1177.6 1023.2L1178.1 1021.7L1178.6 1023.1L1179.2 1021.8L1179.7 1023.1L1180.2 1021.7L1180.7 1023.1L1181.2 1022.0L1181.7 1023.3L1182.2 1022.2L1182.7 1023.6L1183.2 1022.5L1183.7 1023.8L1184.2 1023.2L1184.7 1024.3L1185.2 1023.4L1185.8 1024.7L1186.3 1023.5L1186.8 1025.1L1187.3 1023.9L1187.8 1025.1L1188.3 1023.5L1188.8 1025.3L1189.3 1024.2L1189.8 1025.7L1190.3 1024.4L1190.8 1025.7L1191.3 1024.8L1191.8 1026.2L1192.3 1025.2L1192.8 1026.3L1193.3 1025.5L1193.8 1026.6L1194.3 1025.7L1194.8 1027.2L1195.3 1026.4L1195.8 1027.5L1196.4 1026.4L1196.9 1027.9L1197.4 1027.0L1197.9 1028.1L1198.4 1026.6L1199.0 1028.4L1199.5 1026.8L1200.0 1028.1L1200.5 1027.0L1201.0 1027.8L1201.5 1026.1L1202.0 1027.4L1202.6 1025.5L1203.1 1026.8L1203.6 1025.4L1204.1 1027.0L1204.6 1025.3L1205.1 1026.5L1205.6 1025.3L1206.1 1026.5L1206.6 1024.9L1207.1 1025.9L1207.7 1024.3L1208.2 1025.4L1208.7 1024.0L1209.2 1024.7L1209.7 1023.4L1210.2 1025.1L1210.7 1022.3L1211.2 1024.0L1211.7 1022.3L1212.2 1023.5L1212.8 1022.5L1213.3 1023.8L1213.8 1022.7L1214.3 1024.0L1214.8 1022.6L1215.3 1024.2L1215.9 1023.1L1216.4 1024.9L1216.9 1023.2L1217.4 1024.3L1217.9 1023.5L1218.4 1024.5L1218.9 1023.5L1219.5 1024.6L1220.0 1023.7L1220.5 1024.8L1221.0 1024.0L1221.5 1025.8L1222.0 1023.6L1222.6 1024.6L1223.1 1022.5L1223.6 1023.8L1224.1 1022.6L1224.6 1023.4L1225.2 1021.8L1225.7 1023.0L1226.2 1021.4L1226.7 1022.5L1227.3 1020.7L1227.8 1021.5L1228.3 1020.2L1228.8 1020.9L1229.3 1019.4L1229.9 1020.4L1230.4 1019.0L1230.9 1019.8L1231.4 1018.0L1231.9 1019.2L1232.5 1017.2L1233.0 1018.4L1233.5 1017.2L1234.0 1018.0L1234.6 1016.6L1235.1 1017.4L1235.6 1015.8L1236.1 1016.6L1236.6 1015.3L1237.2 1016.2L1237.7 1015.0L1238.2 1016.3L1238.7 1015.3L1239.2 1016.3L1239.8 1015.4L1240.3 1017.1L1240.8 1016.2L1241.3 1017.7L1241.9 1016.4L1242.4 1017.9L1242.9 1017.0L1243.4 1018.7L1243.9 1017.9L1244.5 1019.4L1245.0 1018.2L1245.5 1019.7L1246.0 1018.5L1246.5 1020.1L1247.0 1019.4L1247.6 1021.1L1248.1 1020.2L1248.6 1021.4L1249.1 1020.5L1249.6 1022.1L1250.1 1021.3L1250.6 1022.7L1251.2 1021.9L1251.7 1023.7L1252.2 1023.0L1252.7 1024.7L1253.2 1023.8L1253.7 1025.0L1254.2 1024.2L1254.8 1025.7L1255.3 1024.6L1255.8 1025.7L1256.3 1024.9L1256.8 1026.2L1257.3 1025.1L1257.8 1026.3L1258.3 1025.4L1258.9 1026.8L1259.4 1025.6L1259.9 1026.8L1260.4 1025.9L1260.9 1027.0L1261.4 1026.3L1261.9 1027.5L1262.4 1026.6L1263.0 1028.1L1263.5 1026.8L1264.0 1028.1L1264.5 1026.9L1265.0 1028.6L1265.5 1027.3L1266.0 1028.2L1266.6 1026.4L1267.1 1027.3L1267.6 1025.9L1268.1 1026.7L1268.6 1025.3L1269.1 1026.2L1269.7 1024.6L1270.2 1025.7L1270.7 1023.8L1271.2 1024.5L1271.7 1023.2L1272.2 1023.8L1272.8 1022.4L1273.3 1022.8L1273.8 1021.9L1274.3 1022.5L1274.8 1021.2L1275.3 1022.0L1275.8 1020.4L1276.3 1021.0L1276.8 1019.4L1277.3 1019.9L1277.7 1018.5L1278.2 1018.6L1278.7 1016.9L1279.2 1017.5L1279.7 1016.3L1280.2 1017.0L1280.7 1015.1L1281.2 1016.1L1281.7 1014.6L1282.1 1015.4L1282.6 1013.4L1283.1 1014.2L1283.6 1012.9L1284.1 1013.3L1284.6 1012.3L1285.1 1012.8L1285.6 1011.2L1286.2 1012.3L1286.7 1010.6L1287.2 1011.8L1287.7 1010.6L1288.2 1011.5L1288.7 1010.1L1289.2 1011.3L1289.8 1009.6L1290.3 1010.8L1290.8 1009.4L1291.3 1010.5L1291.8 1008.9L1292.3 1009.8L1292.8 1008.6L1293.4 1009.5L1293.9 1008.2L1294.4 1009.2L1294.9 1007.8L1295.4 1008.8L1295.9 1007.9L1296.4 1008.8L1296.9 1007.7L1297.4 1008.8L1297.9 1007.1L1298.4 1008.1L1298.9 1006.8L1299.4 1007.8L1299.9 1005.8L1300.4 1007.5L1300.9 1006.3L1301.4 1007.1L1302.0 1006.0L1302.5 1007.2L1303.0 1006.2L1303.5 1007.3L1304.0 1005.8L1304.5 1007.4L1305.0 1005.4L1305.5 1006.5L1306.0 1005.4L1306.5 1006.3L1307.0 1005.1L1307.5 1005.8L1308.0 1004.1L1308.5 1005.6L1309.0 1004.2L1309.5 1005.2L1310.0 1004.1L1310.5 1005.3L1311.1 1004.1L1311.6 1005.2L1312.1 1003.5L1312.6 1004.8L1313.1 1003.3L1313.6 1004.4L1314.1 1003.7L1314.6 1004.7L1315.1 1003.5L1315.6 1004.7L1316.2 1003.1L1316.7 1004.2L1317.2 1003.1L1317.7 1004.4L1318.2 1002.4L1318.7 1003.6L1319.2 1002.0L1319.7 1003.7L1320.2 1002.4L1320.7 1003.2L1321.3 1001.7L1321.8 1002.9L1322.3 1001.8L1322.8 1002.5L1323.3 1001.1L1323.8 1002.5L1324.3 1001.3L1324.8 1002.4L1325.3 1000.5L1325.9 1001.6L1326.4 1000.5L1326.9 1001.5L1327.4 1000.0L1327.9 1000.9L1328.4 999.3L1328.9 1000.6L1329.4 998.5L1329.9 999.9L1330.4 998.9L1331.0 999.5L1331.5 998.5L1332.0 999.4L1332.5 998.1L1333.0 999.2L1333.5 998.3L1334.0 999.1L1334.6 997.4L1335.1 998.5L1335.6 997.1L1336.1 997.6L1336.6 996.2L1337.2 996.7L1337.7 995.4L1338.2 996.7L1338.7 994.7L1339.3 995.9L1339.8 994.4L1340.3 995.2L1340.8 993.6L1341.3 994.5L1341.9 993.3L1342.4 994.3L1342.9 992.8L1343.4 993.5L1343.9 992.4L1344.5 993.3L1345.0 991.6L1345.5 992.9L1346.0 991.3L1346.6 992.3L1347.1 991.4L1347.6 992.1L1348.1 990.6L1348.6 991.8L1349.1 991.0L1349.6 993.2L1350.1 991.9L1350.6 993.6L1351.1 992.8L1351.6 994.6L1352.1 993.9L1352.6 995.6L1353.0 994.8L1353.5 996.4L1354.0 995.7L1354.5 997.4L1355.1 996.9L1355.6 998.5L1356.1 997.6L1356.7 999.2L1357.2 998.6L1357.8 999.7L1358.3 998.7L1358.9 1000.3L1359.4 999.7L1359.9 1000.1L1360.4 997.9L1360.9 998.9L1361.4 996.9L1361.8 997.5L1362.3 996.1L1362.8 996.5L1363.3 994.5L1363.8 995.5L1364.3 993.5L1364.8 994.3L1365.3 992.8L1365.8 993.0L1366.2 991.4L1366.7 991.6L1367.1 989.6L1367.6 989.8L1368.0 987.8L1368.5 987.8L1369.0 985.9L1369.4 986.2L1369.9 984.0L1370.3 984.2L1370.8 981.8L1371.2 981.9L1371.7 979.7L1372.1 980.4L1372.6 978.5L1373.1 979.3L1373.6 977.1L1374.1 977.9L1374.6 976.4L1375.0 976.8L1375.5 975.2L1376.0 975.8L1376.6 974.6L1377.1 976.3L1377.6 975.1L1378.2 976.3L1378.7 974.1L1379.2 976.1L1379.8 974.8L1380.3 976.7L1380.8 975.7L1381.4 977.1L1381.9 976.2L1382.4 976.8L1383.0 975.7L1383.5 976.4L1384.0 975.3L1384.6 976.1L1385.1 974.9L1385.6 975.7L1386.2 974.0L1386.7 975.4L1387.2 973.8L1387.8 975.1" fill="none" stroke="#000" stroke-width="2.6" stroke-linejoin="round"/>
<path d="M937.7 1058.1L938.2 1060.1L938.7 1059.2L939.2 1061.7L939.7 1060.4L940.2 1062.4L940.6 1061.4L941.1 1064.1L941.6 1062.1L942.1 1063.5L942.6 1062.8L943.1 1064.8L943.6 1063.8L944.1 1066.1L944.6 1064.6L945.1 1066.3L945.6 1064.2L946.1 1066.0L946.6 1064.2L947.2 1065.7L947.7 1063.6L948.2 1065.8L948.7 1064.1L949.3 1065.2L949.8 1063.7L950.3 1064.7L950.8 1063.2L951.3 1064.7L951.9 1063.1L952.4 1064.6L952.9 1062.4L953.4 1063.0L953.8 1061.0L954.3 1062.5L954.8 1060.2L955.3 1061.1L955.8 1059.5L956.3 1060.4L956.8 1058.0L957.3 1059.0L957.8 1056.7L958.2 1057.5L958.7 1055.6L959.2 1056.1L959.7 1055.6L960.2 1057.5L960.7 1056.9L961.2 1058.5L961.7 1057.7L962.2 1060.1L962.6 1059.0L963.1 1061.0L963.6 1059.9L964.1 1062.5L964.6 1061.6L965.1 1063.4L965.6 1063.0L966.1 1064.8L966.6 1063.6L967.2 1065.4L967.7 1063.8L968.2 1065.5L968.8 1064.4L969.3 1065.9L969.9 1065.2L970.4 1066.9L971.0 1065.6L971.5 1067.2L972.0 1065.8L972.5 1067.3L973.0 1065.2L973.5 1066.7L974.0 1065.5L974.5 1066.4L975.1 1065.2L975.6 1066.6L976.1 1065.1L976.6 1066.1L977.1 1064.9L977.6 1066.4L978.1 1064.5L978.6 1066.0L979.2 1064.3L979.7 1066.4L980.2 1064.1L980.7 1065.5L981.2 1064.9L981.7 1065.8L982.2 1063.9L982.7 1064.5L983.2 1062.8L983.7 1063.4L984.2 1061.4L984.7 1062.3L985.1 1060.0L985.6 1060.7L986.1 1059.1L986.6 1060.4L987.1 1058.2L987.6 1059.4L988.1 1057.3L988.6 1057.8L989.1 1056.2L989.5 1057.4L990.0 1056.3L990.6 1057.7L991.1 1056.0L991.6 1057.9L992.1 1056.4L992.6 1057.8L993.1 1056.6L993.6 1057.5L994.1 1056.2L994.6 1057.3L995.1 1055.8L995.6 1057.6L996.1 1055.3L996.6 1057.0L997.1 1054.9L997.7 1056.4L998.2 1055.2L998.7 1056.7L999.2 1055.5L999.7 1056.7L1000.2 1055.6L1000.7 1056.9L1001.2 1055.4L1001.7 1056.9L1002.2 1055.6L1002.7 1056.4L1003.2 1055.2L1003.7 1057.1L1004.3 1055.7L1004.8 1057.0L1005.3 1055.6L1005.8 1057.0L1006.3 1055.4L1006.8 1056.8L1007.3 1055.5L1007.9 1057.3L1008.4 1055.3L1008.9 1057.1L1009.4 1055.5L1009.9 1057.1L1010.4 1055.3L1011.0 1057.6L1011.5 1056.2L1012.0 1057.5L1012.5 1056.4L1013.0 1057.8L1013.5 1056.3L1014.0 1057.6L1014.6 1055.7L1015.1 1056.7L1015.6 1054.8L1016.1 1056.5L1016.6 1055.0L1017.1 1056.8L1017.6 1055.3L1018.2 1056.9L1018.7 1055.1L1019.2 1056.8L1019.7 1055.5L1020.2 1057.0L1020.7 1055.3L1021.2 1057.3L1021.8 1055.4L1022.3 1057.0L1022.8 1054.8L1023.3 1056.3L1023.8 1054.9L1024.3 1056.3L1024.8 1055.2L1025.3 1056.4L1025.8 1055.3L1026.3 1056.4L1026.8 1055.2L1027.4 1056.8L1027.9 1055.1L1028.4 1056.5L1028.9 1055.2L1029.4 1057.1L1029.9 1055.7L1030.4 1056.8L1030.9 1055.5L1031.4 1057.1L1031.9 1055.6L1032.4 1057.2L1032.9 1055.5L1033.4 1057.1L1033.9 1055.3L1034.5 1056.8L1035.0 1055.6L1035.5 1056.7L1036.0 1054.9L1036.5 1056.7L1037.0 1054.6L1037.5 1056.3L1038.1 1054.2L1038.6 1056.3L1039.1 1054.0L1039.7 1055.1L1040.2 1053.7L1040.7 1054.8L1041.3 1053.4L1041.8 1054.8L1042.3 1053.2L1042.8 1054.2L1043.3 1051.8L1043.8 1053.4L1044.3 1051.2L1044.8 1052.1L1045.3 1049.9L1045.8 1050.9L1046.3 1048.9L1046.7 1050.2L1047.2 1049.0L1047.7 1049.2L1048.2 1047.2L1048.7 1048.9L1049.2 1046.6L1049.7 1047.7L1050.2 1045.5L1050.7 1046.4L1051.1 1044.1L1051.6 1045.1L1052.1 1043.5L1052.6 1044.6L1053.1 1042.4L1053.6 1043.8L1054.1 1041.8L1054.6 1043.1L1055.1 1041.2L1055.5 1042.4L1056.0 1040.1L1056.5 1040.7L1057.0 1039.3L1057.5 1040.3L1058.0 1038.4L1058.5 1039.4L1059.0 1038.1L1059.5 1038.9L1060.0 1036.5L1060.5 1038.4L1061.0 1036.3L1061.5 1038.5L1062.0 1035.5L1062.5 1037.5L1063.1 1035.5L1063.6 1037.5L1064.1 1035.6L1064.6 1037.2L1065.1 1035.9L1065.6 1037.0L1066.2 1035.4L1066.7 1037.2L1067.2 1035.9L1067.7 1037.4L1068.2 1035.7L1068.8 1037.1L1069.3 1036.3L1069.8 1037.9L1070.4 1036.3L1070.9 1038.3L1071.5 1036.2L1072.0 1039.3L1072.6 1037.2L1073.1 1038.7L1073.6 1037.2L1074.2 1039.2L1074.7 1037.6L1075.2 1039.7L1075.8 1038.3L1076.3 1040.7L1076.8 1038.9L1077.4 1040.8L1077.9 1039.7L1078.4 1041.5L1079.0 1040.5L1079.5 1042.6L1080.0 1040.8L1080.5 1042.5L1081.0 1040.0L1081.5 1040.9L1082.0 1039.4L1082.4 1040.7L1082.9 1038.6L1083.4 1039.3L1083.9 1038.0L1084.4 1039.0L1084.9 1037.3L1085.4 1038.1L1085.9 1035.9L1086.4 1037.4L1086.8 1035.2L1087.3 1036.7L1087.9 1035.0L1088.4 1036.7L1088.9 1035.1L1089.4 1037.0L1089.9 1034.9L1090.5 1036.8L1091.0 1035.4L1091.5 1037.1L1092.0 1035.7L1092.5 1037.1L1093.1 1035.6L1093.6 1037.1L1094.1 1036.2L1094.6 1037.8L1095.2 1036.1L1095.6 1038.9L1096.1 1037.4L1096.6 1039.2L1097.1 1038.0L1097.6 1040.6L1098.1 1039.1L1098.6 1041.7L1099.1 1041.0L1099.6 1042.9L1100.1 1041.9L1100.6 1044.0L1101.1 1042.7L1101.6 1044.4L1102.1 1043.4L1102.6 1045.7L1103.1 1044.4L1103.6 1046.7L1104.0 1045.8L1104.5 1047.9L1105.0 1046.9L1105.5 1049.1L1106.0 1048.3L1106.5 1051.0L1106.9 1049.8L1107.4 1051.2L1107.9 1049.8L1108.4 1052.4L1108.9 1051.5L1109.4 1053.4L1109.8 1052.2L1110.3 1054.3L1110.8 1053.4L1111.2 1055.5L1111.6 1054.8L1112.0 1057.7L1112.4 1057.4L1112.8 1059.6L1113.2 1058.5L1113.7 1061.2L1114.1 1060.5L1114.5 1062.7L1114.9 1062.7L1115.3 1064.6L1115.7 1064.6L1116.2 1067.4L1116.7 1066.7L1117.2 1068.8L1117.6 1068.1L1118.1 1070.0L1118.6 1069.2L1119.1 1071.4L1119.6 1070.3L1120.1 1072.4L1120.6 1071.8L1121.1 1073.6L1121.6 1073.5L1122.0 1075.4L1122.5 1074.4L1123.1 1076.8L1123.6 1074.1L1124.1 1076.9L1124.7 1075.1L1125.2 1077.1L1125.7 1074.9L1126.3 1076.7L1126.8 1075.3L1127.3 1076.2L1127.9 1075.0L1128.4 1076.8L1128.9 1075.0L1129.5 1076.5L1130.0 1074.6L1130.5 1075.4L1131.1 1074.1L1131.6 1075.2L1132.1 1073.8L1132.6 1074.8L1133.2 1073.5L1133.7 1075.0L1134.2 1073.3L1134.8 1074.6L1135.3 1073.3L1135.8 1074.4L1136.4 1073.1L1136.9 1074.9L1137.4 1074.1L1137.9 1076.0L1138.4 1074.3L1139.0 1076.0L1139.5 1074.8L1140.0 1076.5L1140.5 1075.5L1141.1 1077.3L1141.6 1076.0L1142.1 1078.3L1142.6 1077.1L1143.1 1079.0L1143.7 1077.5L1144.2 1079.3L1144.7 1077.9L1145.2 1079.8L1145.7 1078.6L1146.3 1080.1L1146.8 1079.4L1147.3 1081.1L1147.8 1080.2L1148.4 1082.2L1148.9 1080.4L1149.4 1082.8L1149.9 1081.9L1150.4 1082.7L1150.9 1081.0L1151.4 1081.5L1151.9 1080.1L1152.4 1080.8L1152.9 1079.5L1153.3 1080.8L1153.8 1078.6L1154.3 1080.1L1154.8 1078.2L1155.3 1079.6L1155.8 1077.3L1156.3 1078.4L1156.8 1076.6L1157.3 1077.7L1157.7 1075.8L1158.3 1076.8L1158.8 1074.9L1159.3 1076.3L1159.8 1074.9L1160.3 1076.0L1160.8 1074.2L1161.3 1074.9L1161.9 1073.3L1162.4 1074.9L1162.9 1073.2L1163.4 1074.4L1163.9 1072.9L1164.4 1073.9L1165.0 1072.7L1165.5 1074.1L1166.0 1072.8L1166.5 1073.7L1167.0 1071.9L1167.5 1072.9L1168.1 1071.3L1168.6 1072.3L1169.1 1071.1L1169.6 1073.0L1170.1 1071.9L1170.5 1073.7L1171.0 1072.7L1171.5 1074.7L1172.0 1073.9L1172.5 1075.9L1172.9 1075.4L1173.4 1077.5L1173.9 1076.9L1174.4 1078.8L1174.9 1077.6L1175.4 1079.9L1175.8 1079.0L1176.3 1080.9L1176.8 1080.1L1177.3 1082.2L1177.8 1081.1L1178.3 1083.1L1178.8 1082.1L1179.3 1083.8L1179.7 1082.5L1180.2 1084.6L1180.7 1083.3L1181.2 1085.2L1181.7 1084.2L1182.2 1085.7L1182.7 1084.3L1183.2 1086.4L1183.7 1085.1L1184.1 1086.9L1184.6 1086.1L1185.1 1087.9L1185.6 1086.7L1186.1 1088.7L1186.6 1088.3L1187.1 1090.0L1187.6 1088.9L1188.1 1090.1L1188.6 1089.1L1189.2 1090.4L1189.7 1089.4L1190.2 1090.6L1190.7 1089.2L1191.2 1090.5L1191.8 1089.1L1192.3 1091.3L1192.8 1090.3L1193.3 1091.6L1193.9 1090.8L1194.4 1092.4L1194.9 1091.1L1195.4 1092.5L1195.9 1091.8L1196.4 1093.6L1196.9 1092.7L1197.5 1094.2L1198.0 1093.6L1198.5 1095.2L1199.0 1093.9L1199.5 1095.7L1200.0 1095.7L1200.5 1096.3L1201.0 1095.3L1201.6 1096.8L1202.1 1094.7L1202.6 1095.8L1203.1 1094.1L1203.7 1095.6L1204.2 1093.2L1204.7 1095.4L1205.2 1093.7L1205.7 1095.2L1206.3 1093.3L1206.8 1094.5L1207.3 1093.3L1207.8 1094.7L1208.3 1092.6L1208.9 1093.6L1209.4 1092.6L1209.9 1094.0L1210.4 1092.0L1211.0 1093.3L1211.5 1090.7L1212.0 1092.6L1212.5 1091.0L1213.0 1091.9L1213.6 1090.2L1214.1 1091.5L1214.6 1090.0L1215.1 1091.9L1215.6 1089.9L1216.2 1092.1L1216.7 1091.2L1217.2 1093.1L1217.8 1091.8L1218.3 1093.5L1218.8 1092.4L1219.4 1094.0L1219.9 1092.8L1220.4 1094.6L1221.0 1093.6L1221.5 1095.8L1222.0 1095.2L1222.5 1096.8L1223.0 1095.7L1223.5 1098.0L1224.0 1096.9L1224.4 1099.7L1224.9 1099.2L1225.4 1101.3L1225.9 1100.1L1226.4 1102.3L1226.9 1101.1L1227.4 1103.5L1227.9 1102.4L1228.4 1103.5L1228.9 1102.6L1229.4 1104.3L1229.9 1103.4L1230.4 1105.4L1230.8 1104.4L1231.3 1106.2L1231.8 1105.1L1232.3 1107.5L1232.8 1105.9L1233.3 1108.1L1233.8 1106.9L1234.3 1108.0L1234.8 1107.1L1235.3 1108.3L1235.8 1106.4L1236.4 1107.5L1236.9 1105.1L1237.4 1106.6L1237.9 1105.2L1238.4 1106.3L1238.9 1104.1L1239.4 1105.6L1239.9 1103.3L1240.5 1104.4L1241.0 1102.6L1241.5 1103.8L1242.0 1102.0L1242.5 1102.9L1243.0 1101.3L1243.5 1102.3L1244.0 1100.6L1244.6 1102.1L1245.1 1099.8L1245.6 1101.5L1246.1 1099.6L1246.6 1100.9L1247.1 1099.7L1247.6 1101.1L1248.1 1099.4L1248.6 1100.7L1249.2 1099.1L1249.7 1101.1L1250.2 1099.2L1250.7 1100.6L1251.2 1099.1L1251.7 1100.2L1252.2 1098.6L1252.7 1100.4L1253.2 1098.5L1253.7 1099.4L1254.3 1098.0L1254.8 1099.1L1255.3 1097.6L1255.8 1098.5L1256.3 1096.5L1256.8 1097.7L1257.4 1095.8L1257.9 1097.3L1258.4 1095.8L1258.9 1097.2L1259.5 1095.1L1260.0 1096.4L1260.5 1094.2L1261.0 1095.6L1261.5 1094.0L1262.1 1095.0L1262.6 1093.1L1263.1 1094.9L1263.7 1093.2L1264.2 1094.1L1264.8 1093.1L1265.3 1093.9L1265.9 1092.5L1266.4 1093.6L1267.0 1092.3L1267.5 1093.8L1268.1 1091.9L1268.6 1093.3L1269.1 1091.1L1269.6 1093.1L1270.1 1090.4L1270.6 1092.2L1271.1 1090.4L1271.6 1091.8L1272.1 1089.8L1272.6 1091.2L1273.1 1089.7L1273.7 1090.6L1274.2 1089.1L1274.7 1090.2L1275.2 1088.8L1275.7 1089.8L1276.2 1088.3L1276.7 1089.4L1277.2 1087.4L1277.7 1088.5L1278.2 1087.4L1278.7 1088.2L1279.3 1086.3L1279.8 1087.0L1280.3 1085.3L1280.8 1086.7L1281.3 1084.9L1281.8 1085.7L1282.3 1084.1L1282.9 1085.1L1283.4 1083.6L1283.9 1084.8L1284.4 1082.4L1284.9 1084.1L1285.4 1082.0L1286.0 1084.0L1286.5 1081.2L1287.0 1083.1L1287.5 1080.7L1288.0 1081.6L1288.5 1079.9L1289.0 1081.1L1289.6 1079.7L1290.1 1080.6L1290.6 1078.6L1291.1 1080.4L1291.6 1078.0L1292.1 1078.9L1292.6 1077.0L1293.2 1078.6L1293.7 1076.5L1294.2 1078.2L1294.7 1076.4L1295.2 1077.5L1295.7 1075.2L1296.2 1076.8L1296.8 1074.7L1297.3 1075.9L1297.8 1074.5L1298.4 1075.5L1299.0 1073.7L1299.6 1075.1L1300.1 1073.0L1300.7 1073.6L1301.2 1071.1L1301.7 1072.7L1302.2 1070.7L1302.7 1071.6L1303.2 1068.9L1303.7 1070.5L1304.1 1068.3L1304.6 1069.7L1305.1 1067.3L1305.6 1068.2L1306.1 1066.4L1306.7 1067.9L1307.2 1066.0L1307.7 1067.0L1308.3 1065.1L1308.8 1066.4L1309.3 1064.4L1309.9 1066.0L1310.4 1064.4L1310.9 1065.4L1311.5 1063.8L1312.0 1065.4L1312.5 1064.4L1313.1 1066.2L1313.6 1064.8L1314.1 1066.5L1314.7 1065.3L1315.2 1066.9L1315.7 1065.7L1316.3 1067.2L1316.8 1066.2L1317.3 1067.9L1317.8 1066.6L1318.3 1069.6L1318.7 1068.9L1319.2 1071.4L1319.6 1070.4L1320.1 1072.7L1320.6 1071.2L1321.0 1073.7L1321.5 1073.5L1321.9 1075.7L1322.4 1075.2L1322.9 1077.2L1323.3 1077.1L1323.8 1079.4L1324.3 1079.1L1324.7 1081.6L1325.2 1080.7L1325.7 1083.1L1326.1 1081.9L1326.6 1084.1L1327.1 1082.7L1327.6 1084.5L1328.1 1083.7L1328.6 1085.8L1329.1 1085.3L1329.6 1087.6L1330.1 1086.9L1330.5 1089.0L1331.0 1088.2L1331.5 1090.2L1332.0 1089.6L1332.5 1091.5L1333.0 1090.9L1333.5 1092.8L1334.0 1092.5L1334.5 1093.3L1335.0 1091.3L1335.4 1091.7L1335.9 1089.6L1336.4 1090.5L1336.9 1088.6L1337.4 1089.3L1337.9 1087.1L1338.4 1088.2L1338.9 1086.1L1339.4 1087.2L1339.8 1085.5L1340.3 1086.3L1340.8 1084.3L1341.3 1085.4L1341.8 1083.8L1342.3 1085.3L1342.8 1083.0L1343.3 1083.8L1343.8 1082.2L1344.2 1083.4L1344.7 1081.7L1345.3 1083.1L1345.8 1081.6L1346.3 1083.4L1346.8 1082.6L1347.3 1083.8L1347.9 1083.0L1348.4 1084.8L1348.9 1083.4L1349.4 1084.7L1349.9 1084.0L1350.5 1086.3L1351.0 1084.8L1351.5 1087.0L1352.0 1085.0L1352.6 1086.6L1353.1 1085.3L1353.6 1087.0L1354.1 1085.8L1354.6 1087.2L1355.2 1086.5L1355.7 1088.2L1356.2 1086.6L1356.7 1088.5L1357.2 1087.7L1357.8 1089.1L1358.3 1088.0L1358.8 1089.5L1359.3 1087.9L1359.9 1090.5L1360.4 1089.1L1360.9 1090.3L1361.4 1088.4L1361.9 1089.9L1362.5 1087.9L1363.0 1089.3L1363.5 1088.2L1364.0 1089.3L1364.5 1087.0L1365.1 1088.5L1365.6 1086.8L1366.1 1088.0L1366.6 1086.1L1367.1 1087.6L1367.7 1086.6L1368.2 1088.2L1368.7 1086.6L1369.2 1088.0L1369.7 1085.8L1370.2 1087.9L1370.7 1086.5L1371.2 1088.4L1371.7 1087.0L1372.3 1088.5L1372.8 1086.4L1373.3 1087.7L1373.8 1086.1L1374.3 1087.6L1374.8 1086.3L1375.3 1087.7L1375.8 1086.8L1376.4 1089.0L1376.9 1087.0L1377.4 1088.3L1377.9 1086.8L1378.4 1088.2L1378.9 1086.9L1379.4 1088.9L1379.9 1086.8L1380.5 1088.3L1381.0 1087.3L1381.5 1088.3L1382.0 1086.9L1382.5 1088.7L1383.1 1087.3L1383.6 1088.8L1384.1 1087.7L1384.6 1089.4L1385.1 1088.2L1385.7 1089.9L1386.2 1088.7L1386.7 1090.5L1387.2 1089.1L1387.8 1090.5L1388.3 1089.4L1388.8 1090.8L1389.3 1089.5L1389.8 1090.6L1390.3 1089.4L1390.8 1090.7L1391.3 1089.4L1391.8 1091.3L1392.3 1089.5L1392.8 1090.7L1393.3 1089.9L1393.8 1091.2L1394.3 1089.5L1394.8 1090.9L1395.3 1089.5L1395.8 1091.0L1396.3 1089.0L1396.9 1091.0L1397.4 1089.9L1397.9 1091.1L1398.4 1090.0L1398.9 1091.0L1399.4 1089.6L1399.9 1091.2L1400.4 1089.9L1400.9 1091.2L1401.4 1089.3L1401.9 1090.9L1402.4 1088.6L1402.9 1089.9L1403.4 1088.0L1403.8 1089.6L1404.3 1088.0L1404.8 1089.5L1405.3 1087.3L1405.8 1088.4L1406.3 1086.7L1406.8 1088.2L1407.3 1086.2L1407.8 1087.6L1408.3 1085.0L1408.8 1086.3L1409.3 1084.6L1409.8 1085.5L1410.2 1083.5L1410.7 1084.5L1411.2 1082.7L1411.7 1083.9L1412.2 1081.9L1412.7 1083.4L1413.2 1081.3L1413.7 1082.4L1414.2 1080.4L1414.6 1082.0L1415.1 1079.2L1415.6 1080.3L1416.1 1078.4L1416.6 1079.4L1417.1 1077.8L1417.6 1078.7L1418.1 1076.8L1418.6 1077.8L1419.0 1075.7L1419.5 1076.8L1420.0 1075.2L1420.5 1076.2L1421.0 1074.4L1421.5 1075.3L1422.0 1073.2L1422.5 1074.1L1423.0 1072.1L1423.5 1073.6L1423.9 1071.3L1424.5 1073.2L1425.0 1072.1L1425.5 1073.9L1426.0 1072.3L1426.5 1073.5L1427.0 1072.4L1427.5 1074.2L1428.1 1073.0L1428.6 1074.6L1429.1 1073.1L1429.6 1074.2L1430.1 1072.6L1430.6 1074.5L1431.1 1072.8L1431.7 1074.1L1432.2 1073.2L1432.7 1074.7L1433.2 1072.9L1433.7 1074.3" fill="none" stroke="#f00" stroke-width="3.0" stroke-linejoin="round"/>
<path d="M931.1 1058.8L937.7 1052.2L944.3 1058.8L937.7 1065.4Z" fill="none" stroke="#f00" stroke-width="2.3"/><path d="M964.2 1066.5L970.8 1059.9L977.4 1066.5L970.8 1073.1Z" fill="none" stroke="#f00" stroke-width="2.3"/><path d="M997.2 1055.9L1003.8 1049.3L1010.4 1055.9L1003.8 1062.5Z" fill="none" stroke="#f00" stroke-width="2.3"/><path d="M1030.3 1055.7L1036.9 1049.1L1043.5 1055.7L1036.9 1062.3Z" fill="none" stroke="#f00" stroke-width="2.3"/><path d="M1063.4 1036.8L1070.0 1030.2L1076.6 1036.8L1070.0 1043.4Z" fill="none" stroke="#f00" stroke-width="2.3"/><path d="M1096.5 1045.6L1103.0 1039.0L1109.6 1045.6L1103.0 1052.2Z" fill="none" stroke="#f00" stroke-width="2.3"/><path d="M1129.5 1073.6L1136.1 1067.0L1142.7 1073.6L1136.1 1080.2Z" fill="none" stroke="#f00" stroke-width="2.3"/><path d="M1162.6 1071.6L1169.2 1065.0L1175.8 1071.6L1169.2 1078.2Z" fill="none" stroke="#f00" stroke-width="2.3"/><path d="M1195.7 1095.1L1202.3 1088.5L1208.9 1095.1L1202.3 1101.7Z" fill="none" stroke="#f00" stroke-width="2.3"/><path d="M1228.7 1107.1L1235.3 1100.5L1241.9 1107.1L1235.3 1113.7Z" fill="none" stroke="#f00" stroke-width="2.3"/><path d="M1261.8 1092.6L1268.4 1086.0L1275.0 1092.6L1268.4 1099.2Z" fill="none" stroke="#f00" stroke-width="2.3"/><path d="M1294.9 1072.3L1301.5 1065.7L1308.1 1072.3L1301.5 1078.9Z" fill="none" stroke="#f00" stroke-width="2.3"/><path d="M1327.9 1092.1L1334.5 1085.5L1341.1 1092.1L1334.5 1098.7Z" fill="none" stroke="#f00" stroke-width="2.3"/><path d="M1361.0 1087.0L1367.6 1080.4L1374.2 1087.0L1367.6 1093.6Z" fill="none" stroke="#f00" stroke-width="2.3"/><path d="M1394.1 1090.4L1400.7 1083.8L1407.3 1090.4L1400.7 1097.0Z" fill="none" stroke="#f00" stroke-width="2.3"/><path d="M1427.2 1074.2L1433.8 1067.6L1440.3 1074.2L1433.8 1080.8Z" fill="none" stroke="#f00" stroke-width="2.3"/>
<path d="M931.8 1058.8L932.3 1059.6L932.8 1057.5L933.3 1058.6L933.8 1056.1L934.3 1057.3L934.8 1054.8L935.3 1055.7L935.8 1054.0L936.2 1055.2L936.7 1052.2L937.2 1052.9L937.7 1050.6L938.2 1051.8L938.7 1050.2L939.2 1050.9L939.7 1049.0L940.2 1050.7L940.6 1048.7L941.1 1049.6L941.6 1047.5L942.1 1048.7L942.6 1047.1L943.1 1047.9L943.6 1046.1L944.1 1047.0L944.6 1045.5L945.1 1046.7L945.6 1045.2L946.1 1047.7L946.6 1046.0L947.2 1047.9L947.7 1046.9L948.2 1048.5L948.7 1046.7L949.3 1048.1L949.8 1047.2L950.3 1048.6L950.8 1047.8L951.3 1049.2L951.9 1047.5L952.4 1049.5L952.9 1048.9L953.4 1050.8L953.8 1049.9L954.3 1052.4L954.8 1051.1L955.3 1053.5L955.8 1052.2L956.3 1054.1L956.8 1053.3L957.3 1054.9L957.8 1053.8L958.2 1056.0L958.7 1055.1L959.2 1057.0L959.7 1055.1L960.2 1056.7L960.7 1054.8L961.2 1055.6L961.7 1053.7L962.2 1055.0L962.6 1052.9L963.1 1054.3L963.6 1052.0L964.1 1053.8L964.6 1051.3L965.1 1052.7L965.6 1050.9L966.1 1051.7L966.6 1049.8L967.1 1051.0L967.6 1049.3L968.2 1050.3L968.7 1048.1L969.2 1049.5L969.7 1047.3L970.2 1048.8L970.8 1046.9L971.3 1048.5L971.8 1046.9L972.3 1048.0L972.9 1046.5L973.4 1047.4L973.9 1045.4L974.4 1046.6L974.9 1045.2L975.5 1047.3L976.0 1045.6L976.5 1047.0L977.0 1045.7L977.5 1047.3L978.1 1046.2L978.6 1047.3L979.1 1045.9L979.6 1047.8L980.2 1046.4L980.7 1047.7L981.2 1046.3L981.7 1048.0L982.2 1046.2L982.7 1048.9L983.2 1048.3L983.7 1049.7L984.2 1049.2L984.7 1051.6L985.1 1049.9L985.6 1052.0L986.1 1051.3L986.6 1052.9L987.1 1051.7L987.6 1053.7L988.1 1052.2L988.6 1054.0L989.1 1053.1L989.5 1055.3L990.0 1053.4L990.6 1056.0L991.1 1053.7L991.6 1055.5L992.1 1054.1L992.6 1055.5L993.1 1054.2L993.6 1055.5L994.1 1054.8L994.6 1056.2L995.1 1055.4L995.6 1057.0L996.1 1055.3L996.6 1056.6L997.1 1055.1L997.7 1056.8L998.2 1055.4L998.7 1057.3L999.2 1055.5L999.7 1057.0L1000.2 1055.8L1000.7 1057.6L1001.2 1056.2L1001.7 1057.3L1002.2 1055.8L1002.7 1057.1L1003.2 1056.0L1003.7 1057.7L1004.3 1055.4L1004.8 1057.0L1005.3 1054.7L1005.8 1056.2L1006.3 1054.5L1006.8 1056.0L1007.3 1054.2L1007.9 1055.9L1008.4 1054.0L1008.9 1055.7L1009.4 1054.2L1009.9 1055.5L1010.4 1053.8L1011.0 1055.4L1011.5 1054.0L1012.0 1055.4L1012.5 1053.7L1013.0 1055.0L1013.5 1052.7L1014.0 1055.2L1014.6 1052.7L1015.1 1054.9L1015.6 1053.3L1016.1 1055.9L1016.6 1054.0L1017.1 1055.2L1017.6 1053.8L1018.2 1055.2L1018.7 1054.1L1019.2 1055.2L1019.7 1053.6L1020.2 1055.3L1020.7 1053.8L1021.2 1055.1L1021.8 1054.0L1022.3 1055.1L1022.8 1053.9L1023.3 1056.0L1023.8 1054.0L1024.3 1055.4L1024.8 1054.4L1025.3 1056.0L1025.8 1054.3L1026.3 1056.5L1026.8 1054.6L1027.4 1056.3L1027.9 1054.8L1028.4 1056.6L1028.9 1054.9L1029.4 1056.6L1029.9 1055.2L1030.4 1056.4L1030.9 1054.9L1031.4 1057.0L1031.9 1055.5L1032.4 1057.3L1032.9 1055.1L1033.4 1057.2L1033.9 1055.4L1034.5 1057.1L1035.0 1055.4L1035.5 1056.9L1036.0 1055.8L1036.5 1057.5L1037.0 1056.4L1037.5 1057.6L1038.1 1056.0L1038.6 1058.0L1039.1 1056.7L1039.7 1058.6L1040.2 1057.5L1040.7 1059.2L1041.3 1058.2L1041.8 1059.9L1042.3 1058.8L1042.8 1061.4L1043.3 1059.7L1043.8 1061.0L1044.3 1060.4L1044.8 1062.6L1045.3 1061.4L1045.8 1063.2L1046.3 1062.4L1046.7 1064.0L1047.2 1063.3L1047.7 1065.1L1048.2 1063.4L1048.7 1066.2L1049.2 1065.0L1049.7 1066.8L1050.2 1065.7L1050.7 1067.6L1051.1 1066.5L1051.6 1068.5L1052.1 1067.3L1052.6 1069.4L1053.1 1068.0L1053.6 1069.9L1054.1 1068.9L1054.6 1070.4L1055.1 1069.7L1055.5 1071.5L1056.0 1070.2L1056.5 1072.1L1057.0 1070.9L1057.5 1073.2L1058.0 1072.6L1058.5 1074.2L1059.0 1073.2L1059.5 1075.2L1060.0 1074.0L1060.4 1075.6L1060.9 1074.5L1061.4 1076.8L1061.9 1075.8L1062.4 1076.5L1062.9 1075.0L1063.5 1076.4L1064.0 1074.5L1064.5 1075.6L1065.0 1074.2L1065.6 1075.5L1066.1 1073.8L1066.6 1075.0L1067.1 1073.8L1067.6 1075.1L1068.2 1073.2L1068.7 1074.5L1069.2 1073.1L1069.7 1074.2L1070.2 1072.4L1070.8 1073.6L1071.3 1072.0L1071.8 1073.5L1072.3 1072.0L1072.8 1072.9L1073.3 1071.4L1073.8 1073.0L1074.4 1071.0L1074.9 1072.3L1075.4 1070.5L1075.9 1071.5L1076.4 1070.1L1076.9 1071.1L1077.4 1069.8L1078.0 1070.8L1078.5 1069.0L1079.0 1070.0L1079.5 1068.5L1080.0 1070.3L1080.5 1069.0L1081.0 1070.3L1081.5 1069.4L1082.0 1071.2L1082.4 1070.4L1082.9 1071.8L1083.4 1070.9L1083.9 1072.4L1084.4 1071.5L1084.9 1073.4L1085.4 1071.6L1085.9 1074.1L1086.4 1072.9L1086.8 1075.1L1087.3 1073.8L1087.8 1075.0L1088.4 1073.9L1088.9 1075.0L1089.4 1073.3L1089.9 1074.5L1090.4 1072.7L1090.9 1074.0L1091.4 1072.5L1092.0 1073.7L1092.5 1071.9L1093.0 1073.0L1093.5 1071.7L1094.0 1072.8L1094.5 1070.9L1095.1 1072.3L1095.6 1070.8L1096.1 1072.6L1096.6 1071.1L1097.1 1072.3L1097.6 1070.2L1098.1 1071.2L1098.6 1069.4L1099.1 1070.9L1099.6 1069.3L1100.0 1070.3L1100.5 1068.3L1101.0 1069.3L1101.5 1067.2L1102.0 1068.3L1102.5 1066.9L1103.0 1067.7L1103.5 1066.3L1104.0 1066.9L1104.4 1065.0L1104.9 1066.0L1105.4 1063.9L1105.9 1065.5L1106.4 1063.0L1106.9 1064.7L1107.3 1062.1L1107.8 1062.7L1108.2 1059.8L1108.7 1060.7L1109.1 1058.8L1109.6 1059.4L1110.0 1057.3L1110.5 1057.8L1111.0 1056.1L1111.4 1057.0L1111.9 1054.9L1112.3 1055.4L1112.8 1053.2L1113.1 1052.8L1113.5 1050.5L1113.9 1050.7L1114.3 1048.5L1114.7 1048.4L1115.1 1046.1L1115.5 1046.6L1115.9 1043.8L1116.3 1044.1L1116.7 1041.5L1117.2 1042.0L1117.6 1040.3L1118.1 1041.2L1118.6 1039.3L1119.1 1040.2L1119.6 1038.6L1120.1 1039.1L1120.6 1037.3L1121.1 1037.8L1121.6 1036.5L1122.0 1037.4L1122.5 1034.7L1123.1 1036.2L1123.6 1034.7L1124.1 1036.6L1124.6 1035.3L1125.1 1037.2L1125.6 1035.6L1126.1 1037.4L1126.7 1035.5L1127.2 1037.6L1127.7 1036.3L1128.2 1037.1L1128.7 1036.2L1129.2 1038.2L1129.7 1036.9L1130.3 1038.2L1130.8 1036.7L1131.3 1038.4L1131.8 1037.0L1132.3 1038.0L1132.8 1036.0L1133.4 1037.9L1133.9 1036.0L1134.4 1037.5L1134.9 1035.7L1135.4 1036.5L1136.0 1035.4L1136.5 1036.9L1137.0 1034.7L1137.5 1035.8L1138.1 1034.1L1138.6 1035.8L1139.1 1034.2L1139.6 1035.5L1140.1 1033.7L1140.7 1034.9L1141.2 1033.3L1141.7 1034.4L1142.2 1033.1L1142.7 1034.8L1143.2 1033.6L1143.7 1034.4L1144.3 1033.0L1144.8 1033.8L1145.3 1032.6L1145.8 1034.2L1146.3 1032.1L1146.8 1033.8L1147.3 1031.4L1147.9 1033.6L1148.4 1031.0L1148.9 1032.1L1149.4 1031.1L1149.9 1032.1L1150.4 1030.5L1151.0 1033.1L1151.5 1031.5L1152.0 1033.2L1152.5 1032.3L1153.0 1034.5L1153.6 1032.8L1154.1 1034.6L1154.6 1033.4L1155.1 1034.9L1155.7 1033.9L1156.2 1035.6L1156.7 1034.5L1157.2 1035.4L1157.7 1034.3L1158.3 1036.5L1158.8 1035.3L1159.3 1036.9L1159.8 1035.7L1160.3 1036.8L1160.8 1035.3L1161.3 1036.9L1161.8 1036.0L1162.3 1037.6L1162.8 1036.3L1163.4 1037.9L1163.9 1036.7L1164.4 1038.2L1164.9 1037.1L1165.4 1039.0L1165.9 1037.9L1166.4 1039.3L1166.9 1038.4L1167.4 1040.1L1167.9 1038.9L1168.5 1040.1L1169.0 1039.0L1169.5 1040.8L1170.0 1038.7L1170.5 1039.9L1170.9 1037.9L1171.4 1039.1L1171.9 1037.2L1172.4 1037.8L1172.9 1035.2L1173.4 1037.0L1173.9 1034.8L1174.4 1036.0L1174.9 1034.0L1175.3 1035.0L1175.8 1033.1L1176.3 1033.8L1176.8 1032.1L1177.3 1032.9L1177.8 1030.8L1178.3 1031.4L1178.8 1029.4L1179.3 1030.8L1179.7 1028.8L1180.2 1029.6L1180.7 1027.5L1181.2 1029.0L1181.7 1026.6L1182.2 1027.0L1182.7 1025.2L1183.2 1025.1L1183.7 1023.5L1184.1 1024.1L1184.6 1022.3L1185.1 1023.0L1185.6 1020.9L1186.2 1022.5L1186.7 1021.1L1187.2 1022.2L1187.7 1020.9L1188.2 1022.0L1188.7 1019.5L1189.2 1022.0L1189.8 1019.7L1190.3 1021.2L1190.8 1019.3L1191.3 1020.1L1191.8 1019.0L1192.3 1020.6L1192.8 1018.4L1193.4 1020.1L1193.9 1018.1L1194.4 1019.3L1194.9 1017.9L1195.4 1019.4L1195.9 1017.4L1196.4 1018.5L1196.9 1016.6L1197.5 1018.0L1198.0 1015.8L1198.5 1017.3L1199.0 1015.2L1199.5 1016.8L1200.0 1014.6L1200.5 1016.4L1201.0 1015.1L1201.6 1016.9L1202.1 1015.7L1202.6 1016.9L1203.1 1015.4L1203.7 1016.8L1204.2 1015.8L1204.7 1016.9L1205.2 1015.7L1205.7 1017.4L1206.3 1015.8L1206.8 1017.3L1207.3 1016.4L1207.8 1017.7L1208.3 1016.5L1208.9 1018.5L1209.4 1017.6L1209.9 1019.0L1210.4 1017.7L1211.0 1019.2L1211.5 1018.2L1212.0 1019.5L1212.5 1018.3L1213.0 1019.9L1213.6 1019.0L1214.1 1020.6L1214.6 1018.7L1215.1 1021.1L1215.6 1019.7L1216.1 1020.6L1216.6 1018.1L1217.1 1019.4L1217.6 1017.0L1218.1 1017.6L1218.6 1015.5L1219.1 1016.4L1219.6 1014.2L1220.0 1015.3L1220.5 1013.5L1221.0 1014.3L1221.5 1011.9L1222.0 1012.9L1222.5 1010.8L1223.0 1011.1L1223.5 1009.1L1224.0 1009.6L1224.4 1007.7L1224.9 1008.3L1225.4 1006.2L1225.9 1007.4L1226.4 1004.9L1226.9 1006.2L1227.4 1003.5L1227.9 1005.3L1228.4 1003.9L1229.0 1005.7L1229.5 1003.8L1230.0 1004.8L1230.5 1003.0L1231.1 1004.3L1231.6 1002.2L1232.1 1003.7L1232.6 1002.1L1233.2 1003.3L1233.7 1001.6L1234.2 1002.9L1234.7 1001.6L1235.3 1003.4L1235.8 1001.7L1236.3 1004.0L1236.8 1002.5L1237.3 1004.3L1237.9 1002.9L1238.4 1004.5L1238.9 1003.3L1239.4 1005.1L1239.9 1004.1L1240.4 1005.7L1241.0 1004.5L1241.5 1005.6L1242.0 1004.8L1242.5 1006.1L1243.0 1004.8L1243.5 1006.7L1244.0 1005.2L1244.6 1007.1L1245.1 1005.4L1245.6 1006.8L1246.1 1005.8L1246.6 1007.4L1247.1 1006.4L1247.6 1008.2L1248.1 1006.9L1248.6 1008.9L1249.2 1007.8L1249.7 1008.9L1250.2 1007.8L1250.7 1009.4L1251.2 1008.5L1251.7 1010.3L1252.2 1009.0L1252.7 1010.8L1253.2 1009.5L1253.7 1011.1L1254.3 1009.6L1254.8 1011.1L1255.3 1010.4L1255.8 1012.2L1256.3 1010.7L1256.8 1012.9L1257.4 1011.3L1257.9 1013.4L1258.4 1012.4L1258.9 1013.9L1259.5 1012.8L1260.0 1014.8L1260.5 1013.2L1261.0 1015.0L1261.5 1013.8L1262.1 1015.9L1262.6 1015.1L1263.1 1016.3L1263.6 1015.0L1264.1 1016.6L1264.7 1015.0L1265.2 1016.3L1265.7 1015.2L1266.2 1016.2L1266.7 1014.3L1267.2 1015.8L1267.8 1013.9L1268.3 1015.5L1268.8 1013.6L1269.3 1015.1L1269.8 1013.5L1270.4 1014.7L1270.9 1013.4L1271.4 1014.4L1271.9 1013.5L1272.4 1016.4L1272.9 1016.0L1273.3 1017.5L1273.8 1016.6L1274.3 1018.9L1274.8 1018.2L1275.3 1019.9L1275.8 1019.0L1276.3 1021.4L1276.8 1020.6L1277.3 1022.7L1277.7 1021.1L1278.2 1023.8L1278.7 1022.8L1279.2 1024.3L1279.7 1023.5L1280.2 1025.3L1280.7 1023.9L1281.2 1026.5L1281.7 1025.3L1282.1 1027.6L1282.6 1026.4L1283.1 1028.5L1283.6 1027.3L1284.1 1029.4L1284.6 1027.8L1285.1 1030.1L1285.6 1028.6L1286.1 1030.6L1286.5 1029.8L1287.0 1031.4L1287.5 1030.6L1288.0 1032.5L1288.5 1031.4L1289.0 1032.7L1289.6 1032.0L1290.1 1034.1L1290.6 1032.9L1291.1 1034.4L1291.6 1033.1L1292.1 1035.7L1292.6 1033.5L1293.2 1035.2L1293.7 1033.6L1294.2 1036.0L1294.7 1034.9L1295.2 1036.5L1295.7 1035.3L1296.2 1037.3L1296.8 1036.5L1297.3 1038.2L1297.8 1037.0L1298.3 1038.8L1298.8 1038.3L1299.3 1040.3L1299.7 1039.2L1300.2 1041.0L1300.7 1039.9L1301.2 1041.4L1301.7 1040.3L1302.2 1042.6L1302.7 1041.6L1303.2 1043.4L1303.7 1041.8L1304.1 1043.8L1304.6 1042.9L1305.1 1045.2L1305.6 1043.8L1306.1 1046.0L1306.7 1044.4L1307.2 1046.0L1307.7 1045.2L1308.3 1046.3L1308.8 1044.7L1309.3 1046.0L1309.9 1044.8L1310.4 1046.3L1310.9 1045.1L1311.5 1046.5L1312.0 1044.9L1312.5 1046.2L1313.1 1044.6L1313.6 1046.1L1314.1 1044.5L1314.7 1045.5L1315.2 1043.6L1315.7 1044.9L1316.3 1043.5L1316.8 1044.8L1317.3 1042.8L1317.8 1043.5L1318.3 1040.6L1318.7 1041.9L1319.2 1039.9L1319.6 1040.8L1320.1 1038.3L1320.6 1039.6L1321.0 1036.5L1321.5 1037.0L1321.9 1035.1L1322.4 1035.6L1322.9 1033.3L1323.3 1034.1L1323.8 1031.9L1324.3 1033.0L1324.7 1030.6L1325.2 1031.3L1325.7 1028.8L1326.1 1030.2L1326.6 1027.6L1327.1 1028.2L1327.6 1025.9L1328.1 1026.4L1328.6 1024.8L1329.1 1025.8L1329.6 1023.3L1330.1 1024.9L1330.5 1022.0L1331.0 1022.8L1331.5 1020.7L1332.0 1021.5L1332.5 1019.3L1333.0 1019.8L1333.5 1018.6L1334.0 1021.0L1334.5 1019.9L1335.0 1022.2L1335.4 1020.7L1335.9 1023.0L1336.4 1022.3L1336.9 1023.5L1337.4 1022.8L1337.9 1024.9L1338.4 1023.9L1338.9 1025.8L1339.4 1024.7L1339.8 1027.2L1340.3 1025.6L1340.8 1027.9L1341.3 1026.3L1341.8 1028.5L1342.3 1027.5L1342.8 1029.1L1343.3 1028.0L1343.8 1029.9L1344.2 1028.6L1344.7 1030.8L1345.3 1029.1L1345.8 1029.8L1346.3 1028.6L1346.8 1029.3L1347.3 1027.0L1347.9 1029.5L1348.4 1027.4L1348.9 1028.7L1349.4 1026.5L1349.9 1027.6L1350.5 1025.4L1351.0 1027.0L1351.5 1025.4L1352.0 1027.0L1352.6 1024.4L1353.0 1025.7L1353.5 1023.8L1354.0 1024.6L1354.5 1023.1L1355.0 1024.2L1355.5 1022.4L1356.0 1023.8L1356.5 1021.3L1357.0 1022.7L1357.4 1020.8L1357.9 1022.0L1358.4 1020.2L1358.9 1021.5L1359.4 1019.1L1359.9 1020.5L1360.4 1018.2L1360.9 1020.1L1361.4 1018.7L1361.9 1020.5L1362.5 1019.6L1363.0 1021.6L1363.5 1019.9L1364.0 1021.9L1364.5 1020.4L1365.1 1021.7L1365.6 1020.3L1366.1 1022.1L1366.6 1021.1L1367.2 1022.5L1367.7 1022.0L1368.2 1023.3L1368.7 1021.7L1369.2 1023.2L1369.7 1022.4L1370.2 1023.8L1370.7 1022.2L1371.3 1023.5L1371.8 1022.5L1372.3 1023.8L1372.8 1022.5L1373.3 1024.1L1373.8 1022.8L1374.3 1024.4L1374.8 1022.9L1375.3 1024.5L1375.9 1022.7L1376.4 1024.3L1376.9 1023.1L1377.4 1024.5L1377.9 1023.3L1378.4 1024.6L1378.9 1022.9L1379.4 1024.8L1379.9 1023.0L1380.5 1024.7L1381.0 1022.9L1381.5 1024.1L1382.0 1022.4L1382.5 1023.6L1383.1 1021.7L1383.6 1023.4L1384.1 1021.4L1384.6 1022.9L1385.1 1021.8L1385.7 1022.8L1386.2 1021.5L1386.7 1022.5L1387.2 1021.0L1387.8 1022.2L1388.3 1020.4L1388.8 1021.8L1389.3 1019.9L1389.8 1021.8L1390.3 1020.1L1390.9 1021.0L1391.4 1019.4L1391.9 1020.3L1392.4 1018.9L1392.9 1019.9L1393.5 1018.0L1394.0 1019.4L1394.5 1017.7L1395.0 1019.0L1395.5 1017.6L1396.0 1019.1L1396.6 1017.6L1397.1 1019.1L1397.6 1017.9L1398.1 1019.2L1398.6 1017.8L1399.1 1019.8L1399.7 1017.9L1400.2 1019.6L1400.7 1018.6L1401.2 1020.1L1401.7 1018.6L1402.3 1020.6L1402.8 1019.4L1403.3 1021.6L1403.8 1019.7L1404.3 1021.4L1404.8 1019.9L1405.4 1021.8L1405.8 1020.9L1406.3 1022.9L1406.8 1021.9L1407.3 1023.4L1407.8 1022.1L1408.3 1023.7L1408.8 1023.2L1409.3 1025.5L1409.8 1024.4L1410.2 1026.7L1410.7 1025.4L1411.2 1027.1L1411.7 1026.0L1412.2 1027.8L1412.7 1027.0L1413.2 1029.1L1413.7 1027.7L1414.2 1030.5L1414.6 1029.4L1415.1 1031.4L1415.6 1030.4L1416.1 1032.2L1416.6 1031.6L1417.1 1033.9L1417.6 1032.9L1418.1 1034.8L1418.6 1033.5L1419.0 1036.1L1419.5 1035.5L1420.0 1037.3L1420.5 1036.4L1421.0 1038.6L1421.5 1037.3L1422.0 1039.2L1422.5 1038.6L1423.0 1040.7L1423.5 1040.0L1423.9 1041.6L1424.5 1039.8L1425.0 1041.0L1425.5 1039.3L1426.0 1041.3L1426.6 1039.1L1427.1 1040.5L1427.6 1038.8L1428.2 1039.8L1428.7 1038.6L1429.2 1039.4L1429.7 1037.7L1430.3 1038.8L1430.8 1037.4L1431.3 1038.5L1431.9 1036.8L1432.4 1038.4L1432.9 1035.9L1433.5 1037.1L1434.0 1035.7L1434.5 1037.1L1435.1 1034.9L1435.6 1036.5L1436.1 1034.6L1436.7 1036.0" fill="none" stroke="#f00" stroke-width="3.0" stroke-linejoin="round"/>
<rect x="929.4" y="789.0" width="594.6" height="528.2" fill="none" stroke="#000" stroke-width="3.7"/>
<text x="929.4" y="1347.6" font-family='"Liberation Sans", sans-serif' font-size="33.7" text-anchor="middle">0</text>
<text x="1061.5" y="1347.6" font-family='"Liberation Sans", sans-serif' font-size="33.7" text-anchor="middle">20</text>
<text x="1193.7" y="1347.6" font-family='"Liberation Sans", sans-serif' font-size="33.7" text-anchor="middle">40</text>
<text x="1325.8" y="1347.6" font-family='"Liberation Sans", sans-serif' font-size="33.7" text-anchor="middle">60</text>
<text x="1457.9" y="1347.6" font-family='"Liberation Sans", sans-serif' font-size="33.7" text-anchor="middle">80</text>
<text x="922.9" y="1329.1" font-family='"Liberation Sans", sans-serif' font-size="33.7" text-anchor="end">0</text>
<text x="922.9" y="1223.5" font-family='"Liberation Sans", sans-serif' font-size="33.7" text-anchor="end">20</text>
<text x="922.9" y="1117.8" font-family='"Liberation Sans", sans-serif' font-size="33.7" text-anchor="end">40</text>
<text x="922.9" y="1012.2" font-family='"Liberation Sans", sans-serif' font-size="33.7" text-anchor="end">60</text>
<text x="922.9" y="906.5" font-family='"Liberation Sans", sans-serif' font-size="33.7" text-anchor="end">80</text>
<text x="922.9" y="800.9" font-family='"Liberation Sans", sans-serif' font-size="33.7" text-anchor="end">100</text>
<text x="1226.7" y="1382.8" font-family='"Liberation Sans", sans-serif' font-size="37.2" text-anchor="middle">Time (ps)</text>
<text transform="translate(854.1 1051.1) rotate(-90)" font-family='"Liberation Sans", sans-serif' font-size="37.2" text-anchor="middle">Coordination (%)</text>
</g>
<g id="panel-e">
<path d="M160.2 2051.8v-7.0M160.2 1517.1v7.0M193.5 2051.8v-7.0M193.5 1517.1v7.0M226.9 2051.8v-7.0M226.9 1517.1v7.0M260.2 2051.8v-13.0M260.2 1517.1v13.0M293.6 2051.8v-7.0M293.6 1517.1v7.0M327.0 2051.8v-7.0M327.0 1517.1v7.0M360.3 2051.8v-7.0M360.3 1517.1v7.0M393.7 2051.8v-13.0M393.7 1517.1v13.0M427.1 2051.8v-7.0M427.1 1517.1v7.0M460.4 2051.8v-7.0M460.4 1517.1v7.0M493.8 2051.8v-7.0M493.8 1517.1v7.0M527.1 2051.8v-13.0M527.1 1517.1v13.0M560.5 2051.8v-7.0M560.5 1517.1v7.0M593.9 2051.8v-7.0M593.9 1517.1v7.0M627.2 2051.8v-7.0M627.2 1517.1v7.0M660.6 2051.8v-13.0M660.6 1517.1v13.0M693.9 2051.8v-7.0M693.9 1517.1v7.0M126.8 1998.3h7.0M727.3 1998.3h-7.0M126.8 1944.9h13.0M727.3 1944.9h-13.0M126.8 1891.4h7.0M727.3 1891.4h-7.0M126.8 1837.9h13.0M727.3 1837.9h-13.0M126.8 1784.5h7.0M727.3 1784.5h-7.0M126.8 1731.0h13.0M727.3 1731.0h-13.0M126.8 1677.5h7.0M727.3 1677.5h-7.0M126.8 1624.0h13.0M727.3 1624.0h-13.0M126.8 1570.6h7.0M727.3 1570.6h-7.0" stroke="#000" stroke-width="1.7" fill="none"/>
<path d="M132.7 1690.9L132.9 1692.8L133.1 1686.2L133.3 1689.7L133.5 1685.1L133.7 1686.4L133.9 1681.7L134.1 1684.1L134.3 1678.7L134.5 1680.8L134.7 1675.2L135.1 1677.9L135.6 1674.3L136.0 1676.1L136.4 1672.3L136.9 1674.7L137.3 1668.3L137.8 1672.6L138.2 1668.7L138.7 1670.3L139.1 1666.9L139.6 1668.9L140.0 1664.9L140.5 1669.3L141.0 1664.8L141.5 1667.8L142.0 1663.3L142.5 1666.3L143.0 1662.3L143.5 1665.8L144.0 1661.9L144.4 1664.8L144.9 1660.3L145.4 1665.1L145.9 1660.6L146.4 1663.7L146.9 1660.5L147.4 1663.7L147.9 1659.6L148.4 1662.2L148.8 1658.8L149.3 1661.5L149.8 1657.7L150.3 1660.0L150.8 1654.6L151.3 1658.9L151.8 1654.5L152.3 1657.0L152.8 1652.0L153.2 1655.8L153.7 1651.9L154.2 1654.9L154.7 1651.4L155.2 1654.0L155.6 1649.2L156.1 1651.3L156.5 1647.1L157.0 1649.7L157.4 1643.9L157.9 1649.0L158.3 1643.3L158.8 1646.8L159.2 1641.5L159.6 1643.8L160.1 1640.3L160.6 1644.0L161.1 1642.7L161.6 1646.3L162.0 1641.3L162.5 1646.5L163.0 1643.8L163.5 1648.0L164.0 1644.4L164.5 1649.6L165.0 1645.6L165.5 1649.5L166.0 1646.8L166.5 1650.9L166.9 1647.9L167.4 1653.6L167.9 1648.8L168.4 1654.1L168.9 1649.9L169.4 1654.6L169.9 1651.9L170.4 1655.2L170.9 1651.5L171.3 1656.3L171.8 1651.5L172.3 1657.4L172.8 1654.1L173.3 1659.0L173.8 1654.5L174.3 1659.3L174.8 1654.6L175.3 1658.5L175.7 1654.3L176.2 1657.7L176.7 1653.2L177.2 1656.5L177.7 1651.6L178.2 1655.3L178.7 1651.2L179.2 1655.1L179.7 1650.9L180.1 1654.4L180.6 1650.6L181.1 1652.9L181.6 1650.0L182.1 1652.7L182.6 1647.2L183.1 1652.1L183.6 1646.7L184.2 1650.9L184.7 1646.9L185.2 1650.0L185.7 1645.9L186.2 1648.3L186.8 1643.2L187.3 1648.5L187.8 1644.2L188.3 1646.5L188.8 1641.3L189.4 1646.5L189.9 1642.5L190.4 1645.7L190.9 1641.5L191.5 1645.1L192.0 1641.0L192.5 1645.8L193.0 1641.8L193.5 1645.6L194.1 1640.3L194.6 1644.7L195.1 1642.2L195.6 1646.4L196.1 1642.2L196.7 1646.0L197.2 1641.7L197.7 1645.7L198.2 1642.5L198.7 1645.1L199.2 1639.9L199.7 1643.3L200.2 1638.8L200.7 1644.1L201.2 1639.3L201.7 1642.1L202.1 1637.7L202.6 1641.7L203.1 1637.2L203.6 1640.2L204.1 1636.9L204.6 1641.4L205.1 1634.6L205.6 1638.1L206.1 1633.0L206.5 1636.7L207.0 1632.2L207.5 1636.7L208.0 1631.5L208.5 1636.5L209.0 1632.6L209.6 1635.1L210.1 1630.6L210.6 1632.8L211.1 1628.8L211.6 1632.1L212.1 1629.2L212.6 1632.5L213.2 1626.0L213.7 1632.0L214.2 1628.8L214.7 1631.7L215.2 1628.1L215.7 1630.5L216.2 1627.0L216.8 1631.1L217.3 1626.6L217.8 1630.1L218.3 1623.5L218.8 1629.4L219.4 1626.7L219.9 1629.6L220.4 1625.4L220.9 1628.3L221.4 1624.0L222.0 1628.1L222.5 1623.9L223.0 1627.7L223.5 1624.1L224.0 1627.0L224.6 1623.1L225.1 1627.4L225.6 1622.7L226.1 1628.4L226.7 1622.9L227.2 1625.7L227.7 1623.0L228.2 1626.2L228.8 1624.1L229.3 1627.6L229.8 1624.9L230.4 1629.2L230.9 1624.5L231.4 1628.6L231.9 1625.8L232.5 1629.6L232.9 1626.4L233.4 1629.3L233.9 1626.2L234.4 1629.8L234.9 1626.8L235.4 1630.5L235.9 1627.3L236.4 1631.2L236.9 1627.8L237.3 1632.7L237.8 1629.8L238.3 1635.2L238.8 1630.2L239.3 1633.7L239.8 1628.0L240.3 1634.3L240.9 1631.1L241.4 1634.1L241.9 1629.9L242.4 1635.3L243.0 1631.4L243.5 1634.1L244.0 1630.5L244.5 1635.3L245.0 1631.9L245.6 1636.2L246.1 1632.1L246.6 1635.7L247.1 1631.1L247.6 1636.6L248.1 1632.4L248.6 1636.4L249.1 1631.9L249.6 1638.5L250.1 1636.2L250.5 1640.1L251.0 1638.4L251.5 1641.7L252.0 1638.6L252.5 1642.8L253.0 1640.4L253.5 1644.3L254.0 1640.8L254.5 1644.8L255.0 1640.8L255.5 1644.2L256.0 1641.4L256.5 1645.0L257.0 1641.8L257.5 1647.8L258.0 1642.2L258.5 1646.8L259.0 1642.7L259.6 1646.1L260.1 1643.1L260.6 1647.4L261.1 1644.1L261.6 1648.6L262.1 1643.6L262.6 1648.3L263.1 1644.2L263.7 1647.8L264.2 1645.0L264.7 1649.5L265.2 1645.5L265.7 1649.3L266.2 1645.7L266.7 1649.2L267.2 1645.7L267.7 1648.7L268.2 1645.1L268.6 1648.2L269.1 1644.0L269.6 1646.1L270.1 1640.9L270.6 1643.2L271.1 1638.9L271.6 1642.7L272.1 1637.9L272.6 1641.2L273.1 1637.8L273.6 1641.7L274.2 1636.6L274.7 1641.6L275.2 1636.1L275.8 1641.2L276.3 1637.5L276.8 1640.6L277.4 1636.1L277.9 1639.7L278.4 1635.2L278.9 1640.9L279.4 1638.1L279.9 1641.5L280.4 1638.6L280.9 1643.4L281.4 1639.7L281.8 1643.2L282.3 1640.8L282.8 1644.0L283.3 1640.7L283.8 1645.5L284.3 1641.8L284.7 1647.4L285.1 1645.3L285.5 1649.1L285.9 1646.7L286.2 1651.2L286.6 1648.1L287.0 1653.6L287.4 1650.3L287.8 1656.0L288.2 1653.4L288.6 1658.5L289.0 1656.0L289.4 1659.9L289.8 1657.1L290.2 1662.8L290.4 1661.8L290.7 1665.5L291.0 1664.1L291.3 1669.0L291.6 1665.8L291.9 1671.6L292.2 1669.5L292.5 1674.8L292.8 1671.9L293.1 1677.5L293.4 1675.5L293.7 1679.8L294.0 1678.0L294.3 1682.8L294.6 1680.0L294.8 1686.1L295.1 1682.6L295.4 1687.9L295.7 1685.9L296.0 1690.8L296.5 1687.5L296.9 1693.1L297.3 1689.8L297.8 1695.2L298.2 1692.9L298.7 1697.3L299.1 1694.5L299.5 1700.2L300.0 1694.7L300.5 1696.7L301.0 1692.5L301.5 1695.8L301.9 1692.5L302.4 1696.5L302.9 1693.2L303.4 1694.6L303.9 1690.9L304.3 1693.5L304.8 1689.3L305.2 1691.5L305.6 1687.0L305.9 1688.1L306.3 1682.5L306.7 1686.8L307.0 1678.5L307.4 1681.3L307.8 1676.6L308.1 1678.7L308.5 1673.8L308.9 1677.1L309.2 1671.5L309.6 1674.6L310.0 1670.3L310.3 1673.2L310.7 1668.7L311.2 1670.4L311.7 1667.3L312.2 1670.1L312.6 1665.5L313.1 1668.4L313.6 1663.7L314.1 1667.7L314.6 1663.6L315.1 1666.7L315.6 1661.0L316.1 1665.5L316.6 1661.5L317.0 1664.5L317.5 1661.5L318.1 1664.7L318.6 1659.4L319.1 1664.8L319.6 1659.8L320.1 1663.5L320.7 1658.7L321.2 1662.7L321.7 1659.2L322.2 1662.1L322.8 1658.1L323.3 1662.2L323.8 1657.6L324.3 1661.2L324.8 1657.0L325.4 1660.9L325.9 1656.2L326.4 1660.6L326.9 1655.5L327.4 1660.1L328.0 1656.1L328.5 1659.3L329.0 1655.2L329.5 1658.5L330.1 1655.1L330.6 1658.9L331.1 1655.8L331.6 1659.9L332.1 1655.3L332.7 1659.9L333.2 1655.5L333.7 1658.9L334.2 1653.0L334.6 1658.1L335.1 1652.7L335.6 1655.9L336.1 1651.3L336.6 1654.6L337.1 1651.2L337.6 1654.7L338.1 1650.0L338.6 1654.9L339.0 1650.1L339.5 1652.3L339.9 1647.3L340.3 1650.6L340.7 1646.2L341.1 1648.8L341.5 1644.3L341.9 1647.0L342.3 1641.8L342.7 1644.3L343.1 1639.8L343.5 1643.7L343.9 1638.0L344.3 1642.0L344.7 1639.6L345.1 1644.8L345.4 1641.9L345.8 1647.0L346.2 1645.4L346.6 1649.7L346.9 1647.7L347.3 1652.6L347.7 1650.3L348.1 1655.3L348.5 1653.2L348.8 1658.5L349.2 1656.3L349.5 1660.9L349.9 1657.5L350.2 1663.5L350.6 1660.4L350.9 1665.4L351.2 1661.7L351.6 1668.1L351.9 1664.9L352.3 1671.0L352.6 1667.4L353.0 1672.7L353.3 1671.0L353.7 1675.7L354.0 1673.4L354.4 1678.2L354.7 1674.5L355.1 1680.5L355.5 1676.9L356.0 1682.4L356.4 1679.0L356.8 1683.8L357.2 1680.6L357.6 1685.9L358.0 1683.4L358.5 1687.7L358.9 1685.3L359.3 1690.2L359.7 1687.6L360.1 1692.0L360.6 1690.2L361.1 1694.1L361.5 1692.3L362.0 1695.7L362.5 1691.6L363.0 1696.6L363.5 1692.6L364.0 1697.0L364.5 1693.0L365.0 1700.0L365.5 1695.2L365.9 1699.2L366.4 1696.0L366.8 1701.8L367.2 1698.4L367.5 1703.8L367.9 1701.3L368.3 1704.8L368.6 1702.6L369.0 1710.5L369.4 1704.9L369.7 1709.7L370.1 1708.5L370.5 1714.0L370.8 1710.0L371.2 1713.5L371.6 1711.6L371.9 1715.4L372.3 1713.5L372.7 1717.6L373.1 1716.1L373.6 1720.5L374.0 1717.2L374.4 1723.0L374.8 1720.4L375.2 1725.1L375.7 1721.5L376.1 1724.6L376.5 1721.9L376.9 1727.6L377.3 1725.4L377.7 1730.2L378.2 1728.6L378.6 1729.4L379.1 1724.9L379.5 1729.7L380.0 1723.9L380.4 1727.8L380.9 1722.4L381.3 1725.0L381.8 1720.2L382.2 1723.2L382.7 1718.7L383.1 1722.5L383.6 1716.9L384.0 1720.8L384.5 1714.5L385.0 1718.7L385.5 1715.1L386.0 1717.8L386.5 1712.2L387.0 1714.6L387.5 1710.6L387.9 1714.6L388.4 1710.0L388.9 1715.4L389.4 1708.1L389.9 1712.4L390.4 1708.6L390.9 1713.3L391.4 1709.1L392.0 1713.9L392.5 1708.7L393.0 1713.4L393.5 1710.5L394.0 1714.1L394.5 1710.1L395.0 1714.5L395.6 1710.1L396.1 1714.1L396.6 1711.3L397.1 1715.6L397.6 1711.1L398.1 1715.4L398.6 1712.0L399.2 1715.7L399.7 1712.3L400.2 1715.5L400.8 1712.9L401.4 1716.2L402.0 1712.8L402.2 1715.4L402.4 1709.7L402.6 1712.8L402.8 1708.0L403.0 1709.5L403.2 1704.9L403.4 1706.1L403.6 1700.4L403.8 1703.8L404.0 1698.3L404.2 1699.6L404.4 1694.3L404.6 1695.2L404.8 1690.0L405.0 1693.9L405.2 1687.9L405.5 1690.0L405.7 1684.5L405.9 1686.8L406.2 1681.9L406.5 1683.8L406.8 1677.7L407.2 1681.8L407.5 1675.2L407.8 1678.5L408.1 1672.4L408.5 1675.3L408.8 1670.8L409.1 1672.1L409.5 1668.1L409.8 1671.8L410.1 1665.4L410.4 1669.4L410.8 1663.8L411.1 1666.1L411.4 1660.2L411.7 1661.9L412.3 1659.3L412.8 1662.8L413.3 1659.2L413.8 1663.0L414.3 1658.7L414.9 1660.4L415.4 1657.1L415.9 1660.6L416.4 1655.3L417.0 1659.7L417.5 1657.0L418.0 1659.8L418.5 1656.8L419.0 1661.2L419.6 1656.4L420.1 1660.4L420.6 1655.6L421.2 1658.5L421.7 1656.4L422.2 1659.6L422.8 1656.5L423.3 1658.8L423.8 1654.4L424.4 1658.1L424.9 1654.6L425.4 1657.3L425.9 1652.9L426.3 1654.4L426.8 1650.0L427.2 1653.3L427.6 1648.6L428.1 1652.1L428.5 1646.7L429.0 1650.8L429.4 1646.9L429.9 1649.0L430.3 1644.7L430.7 1649.8L431.1 1646.1L431.5 1651.0L431.9 1647.6L432.4 1652.8L432.8 1650.2L433.2 1655.0L433.6 1651.6L434.0 1656.7L434.4 1653.6L434.8 1659.5L435.2 1656.0L435.5 1661.1L435.7 1658.7L436.0 1665.0L436.2 1663.4L436.5 1667.9L436.8 1666.5L437.0 1671.8L437.3 1668.3L437.6 1673.3L437.8 1671.6L438.1 1676.5L438.3 1674.7L438.6 1680.2L438.9 1676.9L439.1 1682.9L439.4 1680.6L439.6 1686.3L439.8 1683.6L440.1 1688.4L440.3 1686.8L440.6 1691.0L440.8 1688.3L441.1 1695.0L441.3 1691.8L441.6 1697.3L441.8 1693.0L442.0 1699.5L442.3 1696.8L442.5 1702.9L442.8 1700.3L443.0 1705.7L443.3 1703.5L443.5 1708.0L443.8 1705.8L444.0 1710.9L444.2 1708.8L444.5 1714.7L444.7 1711.8L445.0 1718.5L445.5 1713.5L446.0 1717.2L446.6 1713.6L447.1 1716.8L447.6 1712.5L448.1 1717.6L448.7 1712.8L449.2 1716.6L449.7 1712.3L450.2 1716.7L450.8 1712.4L451.3 1716.1L451.8 1711.7L452.1 1715.1L452.4 1708.0L452.7 1713.6L453.0 1707.8L453.3 1710.1L453.6 1704.1L453.8 1707.1L454.1 1701.6L454.4 1704.0L454.7 1698.2L455.0 1700.0L455.3 1694.1L455.6 1696.4L455.9 1691.1L456.1 1694.4L456.4 1690.2L456.7 1692.6L457.0 1687.2L457.3 1690.4L457.6 1686.2L458.0 1688.3L458.3 1682.9L458.6 1687.5L458.9 1679.4L459.2 1681.6L459.5 1676.4L459.8 1677.6L460.1 1673.8L460.4 1675.7L460.7 1670.7L461.0 1674.1L461.4 1667.6L461.7 1670.4L462.0 1666.3L462.3 1668.7L462.6 1663.3L463.1 1666.0L463.7 1662.5L464.2 1665.3L464.7 1661.7L465.3 1663.9L465.8 1660.3L466.3 1663.2L466.9 1659.9L467.4 1664.5L467.9 1659.0L468.5 1662.8L469.0 1657.9L469.5 1662.6L470.0 1658.3L470.5 1661.1L471.1 1657.8L471.6 1661.8L472.1 1657.8L472.6 1660.4L473.1 1657.7L473.7 1660.9L474.2 1655.7L474.7 1659.5L475.2 1655.3L475.8 1659.5L476.3 1654.3L476.7 1655.7L477.2 1652.5L477.6 1655.1L478.1 1650.1L478.5 1653.5L478.9 1647.9L479.4 1652.1L479.8 1647.1L480.3 1650.5L480.7 1646.3L481.2 1650.5L481.7 1645.7L482.1 1650.8L482.6 1646.6L483.1 1649.8L483.6 1646.4L484.1 1650.6L484.6 1647.0L485.1 1651.9L485.6 1648.7L486.1 1652.1L486.5 1648.4L487.0 1653.0L487.5 1649.3L488.0 1654.2L488.5 1650.7L489.0 1655.4L489.5 1651.6L490.0 1656.7L490.5 1652.9L490.9 1657.5L491.4 1653.9L491.9 1657.2L492.4 1653.3L492.9 1658.2L493.4 1654.9L493.9 1658.2L494.4 1655.7L494.9 1659.9L495.3 1656.9L495.8 1661.7L496.3 1657.5L496.8 1663.5L497.3 1659.7L497.8 1663.4L498.3 1660.9L498.8 1664.5L499.3 1660.6L499.7 1665.4L500.2 1662.1L500.7 1666.9L501.2 1663.1L501.7 1668.0L501.9 1665.8L502.2 1671.1L502.4 1669.0L502.6 1674.8L502.9 1672.0L503.1 1677.5L503.3 1674.5L503.5 1681.2L503.8 1679.7L504.0 1684.3L504.2 1682.5L504.5 1687.5L504.7 1686.0L504.9 1691.0L505.2 1689.1L505.4 1692.6L505.6 1689.4L505.7 1695.5L505.8 1693.1L505.9 1699.0L506.0 1697.4L506.1 1703.9L506.1 1700.3L506.2 1704.9L506.3 1704.1L506.4 1708.5L506.5 1707.8" fill="none" stroke="#000" stroke-width="2.3" stroke-linejoin="round"/>
<path d="M506.5 1702.4L506.7 1714.1L506.9 1703.4L507.1 1713.2L507.3 1707.6L507.5 1719.6L507.7 1709.6L507.9 1719.6L508.1 1711.6L508.4 1727.0L508.6 1715.1L508.8 1730.7L509.0 1720.3L509.2 1736.1L509.4 1723.6L509.6 1737.4L509.8 1725.0L510.0 1741.5L510.2 1729.3L510.4 1748.9L510.6 1734.9L510.8 1750.8L511.0 1737.5L511.2 1749.8L511.4 1740.0L511.6 1753.4L511.8 1743.7L512.0 1762.9L512.2 1748.6L512.4 1759.8L512.6 1751.8L512.8 1761.8L513.0 1753.0L513.1 1763.5L513.3 1752.5L513.5 1766.3L513.7 1754.5L513.9 1769.9L514.1 1760.7L514.3 1772.0L514.6 1762.2L514.8 1774.3L515.1 1767.2L515.3 1777.6L515.5 1768.7L515.8 1782.6L516.0 1773.4L516.3 1785.7L516.5 1777.7L516.8 1789.8L517.0 1781.1L517.3 1788.5L517.5 1779.7L517.7 1791.4L518.0 1782.3L518.2 1797.5L518.6 1785.7L519.0 1799.1L519.4 1789.3L519.7 1801.1L520.1 1791.9L520.5 1808.8L520.9 1793.9L521.2 1809.0L521.6 1796.4L522.0 1807.4L522.4 1799.3L522.7 1812.8L523.1 1802.2L523.5 1812.6L523.9 1799.6L524.3 1809.5L524.8 1799.9L525.2 1808.1L525.6 1793.5L526.0 1804.3L526.4 1793.7L526.8 1805.7L527.2 1794.6L527.6 1805.8L528.0 1794.8L528.5 1804.7L529.1 1791.8L529.6 1800.5L530.1 1793.7L530.7 1804.5L531.2 1791.2L531.7 1801.1L532.3 1789.5L532.8 1802.1L533.3 1790.9L533.9 1798.6L534.4 1787.5L534.9 1800.2L535.3 1787.1L535.8 1810.3L536.3 1792.6L536.8 1807.2L537.3 1794.9L537.8 1806.2L538.3 1793.1L538.8 1805.7L539.3 1796.3L539.7 1806.9L540.1 1795.1L540.5 1812.8L540.9 1800.8L541.3 1812.6L541.7 1800.7L542.1 1813.1L542.5 1800.9L542.9 1813.2L543.3 1804.8L543.7 1813.5L544.0 1805.8L544.4 1815.8L544.8 1808.0L545.2 1820.7L545.6 1811.3L546.1 1819.2L546.6 1808.4L547.1 1822.0L547.6 1811.0L548.1 1820.7L548.5 1806.3L549.0 1821.6L549.5 1808.2L550.0 1821.3L550.5 1811.1L551.0 1821.1L551.5 1808.1L552.0 1819.1L552.5 1805.5L552.9 1819.1L553.4 1803.9L553.9 1818.5L554.4 1811.4L554.9 1823.8L555.4 1811.7L555.9 1824.0L556.4 1812.6L556.9 1823.5L557.3 1808.5L557.8 1819.5L558.3 1812.4L558.8 1819.3L559.3 1810.0L559.8 1821.6L560.3 1810.7L560.8 1822.9L561.3 1811.2L561.7 1823.1L562.2 1812.3L562.7 1823.6L563.2 1805.4L563.7 1824.5L564.2 1812.7L564.7 1825.7L565.2 1810.3L565.7 1822.8L566.1 1810.1L566.6 1818.5L567.1 1810.0L567.6 1823.4L568.1 1807.7L568.6 1819.2L569.1 1804.2L569.6 1822.4L570.1 1806.4L570.7 1819.1L571.2 1807.4L571.7 1815.7L572.3 1801.8L572.8 1816.3L573.3 1803.0L573.9 1815.9L574.4 1799.7L575.0 1811.8L575.3 1801.6L575.6 1814.8L575.9 1802.2L576.3 1817.9L576.6 1810.7L576.9 1823.7L577.2 1814.5L577.6 1825.6L577.9 1816.8L578.2 1829.5L578.5 1816.7L578.9 1837.4L579.2 1822.0L579.5 1835.3L579.8 1824.9L580.2 1839.7L580.6 1824.1L581.0 1834.7L581.4 1823.4L581.8 1831.9L582.2 1819.7L582.6 1829.8L583.0 1817.8L583.4 1834.7L583.8 1814.2L584.1 1823.6L584.5 1808.7L584.9 1823.2L585.3 1809.0L585.7 1817.6L586.1 1805.3L586.5 1818.2L586.9 1805.8L587.3 1815.0L587.7 1804.8L588.1 1816.9L588.5 1802.3L588.9 1814.0L589.3 1799.2L589.7 1809.6L590.1 1794.3L590.5 1804.3L590.9 1795.7L591.3 1805.0L591.7 1791.8L592.1 1801.5L592.6 1789.9L593.0 1798.8L593.5 1792.0L593.9 1804.8L594.4 1790.3L594.8 1802.0L595.3 1790.4L595.7 1799.1L596.2 1788.2L596.7 1799.0L597.1 1785.5L597.6 1795.6L598.0 1780.8L598.5 1792.1L598.9 1780.2L599.4 1786.7L599.9 1780.9L600.4 1789.7L600.9 1778.4L601.4 1789.8L601.8 1777.1L602.3 1788.9L602.8 1777.0L603.3 1789.9L603.8 1780.1L604.3 1791.2L604.8 1785.1L605.3 1793.0L605.8 1780.8L606.2 1795.7L606.7 1788.4L607.1 1801.6L607.5 1788.3L607.9 1798.0L608.3 1787.7L608.8 1801.6L609.2 1790.0L609.6 1802.9L610.0 1794.7L610.4 1810.0L610.9 1798.1L611.3 1811.9L611.7 1804.0L612.1 1814.7L612.6 1797.3L613.1 1812.2L613.6 1800.8L614.1 1810.3L614.6 1800.1L615.0 1816.8L615.5 1804.4L616.0 1818.1L616.5 1807.4L617.0 1822.2L617.3 1808.7L617.7 1818.2L618.0 1805.1L618.4 1816.3L618.7 1803.3L619.1 1815.1L619.4 1800.3L619.8 1811.1L620.1 1798.0L620.5 1806.7L620.8 1792.1L621.2 1803.5L621.5 1790.6L621.9 1797.4L622.4 1788.5L622.9 1801.9L623.4 1787.7L623.8 1801.6L624.3 1791.9L624.8 1802.8L625.3 1789.1L625.8 1806.5L626.3 1793.9L626.8 1809.4L627.3 1797.6L627.8 1809.3L628.1 1798.8L628.5 1812.4L628.9 1801.0L629.2 1810.9L629.6 1798.7L630.0 1811.5L630.4 1803.0L630.7 1818.6L631.1 1806.6L631.5 1819.8L631.9 1807.0L632.2 1819.7L632.6 1810.2L633.0 1823.6L633.3 1809.0L633.7 1824.4L634.1 1812.6L634.5 1828.0L634.8 1815.8L635.2 1825.2L635.6 1816.1L636.0 1827.8L636.4 1818.8L636.9 1826.7L637.3 1816.5L637.8 1822.8L638.2 1809.9L638.6 1822.3L639.1 1807.8L639.5 1820.5L639.9 1808.7L640.4 1823.4L640.8 1807.4L641.2 1818.0L641.7 1803.6L642.1 1816.2L642.5 1801.8L643.0 1812.4L643.4 1799.7L643.8 1810.4L644.2 1794.7L644.6 1808.2L645.0 1796.4L645.4 1807.9L645.8 1793.6L646.1 1804.2L646.5 1791.8L646.9 1803.7L647.3 1792.5L647.7 1803.1L648.1 1789.7L648.5 1798.0L648.9 1787.5L649.3 1798.8L649.8 1785.2L650.3 1800.1L650.9 1785.1L651.4 1793.5L651.9 1785.6L652.5 1797.0L653.0 1781.6L653.5 1792.2L654.1 1785.3L654.6 1796.8L655.1 1782.8L655.6 1796.7L656.0 1780.8L656.5 1792.5L656.9 1776.9L657.4 1792.8L657.8 1778.4L658.3 1791.6L658.7 1780.3L659.2 1791.6L659.7 1776.3L660.1 1786.7L660.6 1776.8L661.0 1786.5L661.5 1774.6L662.0 1779.8L662.5 1766.9L663.0 1780.4L663.5 1767.9L663.9 1779.3L664.4 1768.6L664.9 1778.8L665.4 1768.4L665.9 1778.6L666.4 1768.3L666.9 1777.6L667.4 1762.9L667.9 1771.1L668.3 1760.5L668.7 1777.1L669.2 1764.0L669.6 1775.4L670.1 1769.3L670.5 1777.8L671.0 1767.0L671.4 1780.0L671.9 1772.8L672.3 1783.9L672.7 1774.6L673.1 1787.4L673.4 1775.5L673.7 1785.8L674.0 1776.9L674.4 1785.8L674.7 1779.2L675.0 1788.5L675.3 1780.1L675.7 1792.9L676.0 1782.5L676.3 1798.1L676.7 1785.6L677.0 1801.9L677.3 1789.6L677.6 1801.7L678.0 1789.8L678.4 1801.1L678.8 1790.4L679.2 1800.8L679.6 1790.6L680.0 1799.1L680.4 1788.8L680.8 1794.2L681.2 1783.1L681.5 1795.9L681.9 1778.2L682.3 1797.7L682.7 1778.6L683.1 1789.1L683.5 1775.1L683.9 1789.1L684.3 1773.8L684.7 1782.5L685.1 1773.1L685.5 1786.3L685.8 1768.9L686.2 1786.1L686.6 1771.9L687.0 1783.0L687.4 1768.8L687.8 1775.4L688.2 1761.3L688.6 1775.6L689.0 1758.8L689.4 1770.2L689.8 1762.4L690.2 1770.0L690.7 1757.2L691.1 1773.6L691.5 1765.5L692.0 1777.9L692.4 1766.8L692.8 1779.9L693.3 1768.8" fill="none" stroke="#000" stroke-width="2.3" stroke-linejoin="round"/>
<path d="M126.1 1692.6L132.7 1686.0L139.3 1692.6L132.7 1699.2Z" fill="none" stroke="#000" stroke-width="2.3"/><path d="M159.6 1649.2L166.2 1642.6L172.8 1649.2L166.2 1655.8Z" fill="none" stroke="#000" stroke-width="2.3"/><path d="M193.1 1641.4L199.7 1634.8L206.3 1641.4L199.7 1648.0Z" fill="none" stroke="#000" stroke-width="2.3"/><path d="M226.6 1626.7L233.2 1620.1L239.8 1626.7L233.2 1633.3Z" fill="none" stroke="#000" stroke-width="2.3"/><path d="M260.1 1646.4L266.7 1639.8L273.3 1646.4L266.7 1653.0Z" fill="none" stroke="#000" stroke-width="2.3"/><path d="M293.6 1696.6L300.2 1690.0L306.8 1696.6L300.2 1703.2Z" fill="none" stroke="#000" stroke-width="2.3"/><path d="M327.1 1655.9L333.7 1649.3L340.3 1655.9L333.7 1662.5Z" fill="none" stroke="#000" stroke-width="2.3"/><path d="M360.6 1699.9L367.2 1693.3L373.8 1699.9L367.2 1706.5Z" fill="none" stroke="#000" stroke-width="2.3"/><path d="M394.1 1714.1L400.7 1707.5L407.3 1714.1L400.7 1720.7Z" fill="none" stroke="#000" stroke-width="2.3"/><path d="M427.6 1655.9L434.2 1649.3L440.8 1655.9L434.2 1662.5Z" fill="none" stroke="#000" stroke-width="2.3"/><path d="M461.1 1661.8L467.7 1655.2L474.3 1661.8L467.7 1668.4Z" fill="none" stroke="#000" stroke-width="2.3"/><path d="M494.6 1666.5L501.2 1659.9L507.8 1666.5L501.2 1673.1Z" fill="none" stroke="#000" stroke-width="2.3"/>
<path d="M132.7 1672.4L133.1 1673.1L133.5 1669.4L133.8 1670.4L134.2 1667.2L134.6 1668.2L135.0 1664.0L135.3 1665.4L135.7 1661.4L136.1 1663.1L136.5 1659.1L136.8 1660.5L137.2 1657.7L137.6 1659.4L138.1 1656.0L138.5 1657.0L139.0 1653.9L139.4 1655.3L139.9 1652.4L140.4 1653.8L140.8 1651.0L141.3 1652.0L141.7 1649.1L142.2 1650.8L142.7 1647.0L143.1 1649.3L143.6 1646.0L144.0 1646.9L144.5 1644.3L145.0 1645.9L145.4 1643.1L145.9 1645.2L146.4 1641.3L146.9 1643.2L147.4 1640.6L147.9 1642.0L148.4 1640.1L148.8 1641.8L149.3 1638.8L149.8 1639.8L150.3 1637.4L150.8 1639.2L151.3 1636.5L151.8 1638.5L152.3 1635.3L152.8 1637.5L153.2 1634.5L153.8 1636.5L154.3 1634.0L154.8 1635.9L155.3 1633.3L155.8 1635.0L156.3 1632.4L156.9 1634.6L157.4 1631.9L157.9 1633.9L158.4 1631.8L158.9 1633.4L159.4 1631.1L159.9 1633.2L160.5 1630.8L161.0 1632.0L161.5 1629.7L162.0 1632.7L162.5 1629.6L163.0 1631.5L163.5 1629.8L164.1 1632.1L164.6 1629.2L165.1 1632.3L165.6 1630.4L166.2 1632.7L166.7 1629.7L167.2 1632.0L167.7 1630.5L168.2 1632.3L168.8 1630.5L169.3 1633.0L169.8 1631.3L170.3 1633.0L170.9 1630.7L171.3 1633.5L171.8 1631.4L172.3 1634.7L172.8 1632.7L173.3 1634.9L173.8 1633.6L174.3 1635.7L174.8 1634.1L175.3 1637.2L175.7 1634.4L176.2 1637.3L176.7 1635.0L177.2 1636.7L177.8 1634.3L178.3 1636.3L178.8 1633.5L179.3 1636.5L179.8 1632.6L180.4 1635.2L180.9 1632.4L181.4 1635.7L181.9 1631.6L182.5 1634.8L183.0 1631.1L183.5 1633.0L184.0 1630.9L184.5 1633.2L185.0 1629.6L185.5 1630.9L186.0 1629.2L186.5 1630.9L187.0 1627.8L187.5 1630.5L188.0 1627.4L188.5 1629.6L188.9 1626.6L189.4 1628.0L189.9 1625.4L190.4 1626.9L190.9 1624.6L191.4 1625.8L191.9 1623.6L192.4 1624.8L192.9 1622.2L193.3 1624.1L193.8 1621.1L194.3 1622.9L194.8 1620.9L195.3 1623.3L195.9 1620.1L196.4 1623.4L196.9 1621.3L197.4 1623.3L197.9 1620.9L198.4 1622.6L198.9 1621.0L199.4 1622.1L199.9 1620.4L200.4 1622.3L201.0 1619.1L201.5 1622.7L202.0 1619.4L202.5 1622.3L203.0 1619.5L203.5 1621.8L204.0 1619.9L204.5 1622.4L205.0 1619.3L205.5 1621.9L206.1 1619.6L206.5 1621.9L207.0 1617.7L207.5 1621.1L208.0 1618.2L208.5 1619.4L209.0 1616.9L209.5 1618.4L210.0 1616.0L210.5 1617.3L210.9 1614.7L211.4 1616.3L211.9 1613.4L212.4 1615.1L212.9 1613.0L213.4 1614.4L213.9 1611.4L214.4 1613.3L214.9 1610.8L215.3 1611.8L215.8 1609.0L216.3 1611.1L216.8 1608.4L217.3 1610.3L217.8 1607.5L218.3 1609.2L218.8 1606.9L219.3 1608.0L219.7 1605.9L220.2 1607.6L220.7 1605.1L221.2 1606.5L221.7 1604.4L222.2 1606.4L222.7 1603.4L223.2 1604.3L223.7 1601.7L224.1 1603.4L224.6 1601.0L225.1 1602.1L225.6 1599.6L226.1 1601.7L226.6 1598.8L227.1 1600.2L227.6 1597.4L228.1 1598.9L228.5 1596.4L229.0 1598.6L229.5 1595.9L230.0 1597.0L230.5 1595.0L231.0 1597.1L231.5 1594.7L232.0 1596.0L232.5 1593.3L232.9 1595.1L233.4 1592.8L233.9 1594.5L234.4 1591.9L234.9 1593.3L235.4 1590.4L235.9 1593.5L236.4 1591.1L236.9 1593.1L237.5 1591.5L238.0 1594.5L238.5 1592.5L239.0 1594.9L239.5 1592.7L240.0 1594.9L240.5 1593.1L241.1 1595.6L241.6 1592.2L242.1 1596.5L242.6 1593.7L243.1 1596.5L243.6 1594.3L244.1 1597.2L244.7 1595.1L245.2 1596.6L245.7 1594.3L246.2 1597.0L246.7 1594.0L247.2 1595.6L247.7 1593.7L248.2 1595.9L248.7 1593.0L249.3 1595.5L249.8 1593.8L250.3 1594.9L250.8 1592.6L251.3 1594.7L251.8 1592.0L252.3 1594.4L252.8 1592.1L253.3 1594.2L253.8 1591.8L254.4 1594.4L254.9 1591.1L255.4 1593.6L255.9 1591.0L256.4 1593.7L256.9 1591.0L257.4 1593.1L257.9 1590.3L258.4 1592.2L258.9 1589.4L259.5 1592.6L260.0 1589.9L260.5 1592.3L261.0 1590.7L261.5 1593.2L262.0 1591.0L262.5 1593.1L263.0 1590.7L263.5 1592.7L264.0 1590.8L264.6 1592.6L265.1 1590.7L265.6 1593.0L266.1 1590.4L266.6 1593.6L267.1 1590.7L267.6 1592.7L268.1 1590.1L268.6 1593.6L269.1 1590.5L269.6 1591.9L270.1 1589.0L270.6 1590.8L271.1 1587.7L271.6 1590.3L272.1 1587.7L272.6 1589.2L273.0 1586.5L273.5 1588.2L274.0 1585.5L274.5 1587.9L275.0 1585.3L275.5 1587.0L276.0 1584.0L276.5 1586.2L277.0 1583.4L277.4 1586.2L277.9 1583.7L278.4 1585.4L278.9 1582.8L279.4 1584.2L279.9 1582.3L280.4 1583.9L280.9 1581.8L281.4 1583.4L281.9 1580.7L282.4 1583.2L282.9 1580.8L283.5 1582.7L284.0 1580.8L284.5 1582.6L285.0 1579.5L285.5 1582.1L286.0 1579.9L286.6 1581.4L287.1 1579.3L287.6 1580.7L288.1 1578.8L288.6 1580.6L289.1 1579.2L289.6 1580.8L290.2 1577.8L290.7 1579.8L291.2 1577.3L291.7 1579.8L292.2 1578.2L292.7 1580.2L293.2 1577.1L293.8 1579.0L294.3 1576.7L294.8 1578.5L295.3 1576.0L295.8 1577.6L296.3 1574.6L296.8 1576.8L297.4 1573.9L297.9 1575.8L298.4 1574.0L298.9 1575.8L299.4 1573.2L299.9 1576.7L300.5 1573.5L301.0 1575.8L301.5 1573.1L302.0 1575.2L302.5 1571.8L303.1 1574.6L303.6 1572.5L304.1 1574.4L304.6 1571.6L305.1 1574.1L305.7 1570.3L306.2 1573.3L306.7 1570.6L307.2 1572.7L307.8 1570.7L308.3 1573.3L308.8 1571.0L309.3 1573.4L309.8 1571.4L310.4 1573.7L310.9 1572.1L311.4 1574.9L311.9 1573.6L312.5 1575.4L313.0 1573.9L313.5 1576.4L314.0 1573.9L314.5 1576.8L315.1 1574.1L315.6 1576.8L316.1 1574.8L316.6 1577.4L317.1 1575.0L317.6 1576.9L318.1 1575.2L318.6 1577.4L319.2 1574.2L319.7 1576.0L320.2 1574.6L320.7 1576.6L321.2 1573.8L321.7 1576.0L322.2 1573.8L322.7 1577.1L323.2 1574.1L323.7 1578.0L324.3 1575.0L324.8 1577.2L325.3 1575.2L325.8 1577.1L326.3 1574.9L326.8 1577.8L327.3 1575.3L327.8 1577.5L328.4 1575.5L328.9 1577.8L329.4 1575.6L329.9 1578.0L330.4 1576.3L331.0 1578.2L331.5 1576.2L332.0 1579.2L332.5 1577.0L333.1 1579.1L333.6 1576.7L334.1 1579.8L334.6 1577.4L335.1 1580.0L335.6 1578.0L336.2 1579.5L336.7 1577.7L337.2 1580.1L337.7 1577.6L338.2 1579.8L338.7 1577.3L339.2 1579.3L339.7 1577.9L340.2 1579.6L340.8 1577.6L341.3 1579.7L341.8 1577.6L342.3 1580.6L342.8 1577.6L343.3 1579.6L343.8 1577.0L344.3 1579.7L344.8 1576.4L345.3 1579.9L345.9 1577.1L346.4 1579.3L346.9 1576.1L347.4 1578.9L347.9 1576.3L348.4 1578.5L348.9 1576.2L349.4 1578.4L349.9 1575.8L350.4 1578.2L351.0 1574.9L351.5 1577.5L352.0 1574.7L352.5 1576.5L353.0 1573.8L353.5 1575.4L354.0 1574.0L354.5 1575.6L355.0 1572.5L355.5 1574.8L356.1 1572.3L356.6 1574.6L357.1 1571.8L357.6 1573.6L358.1 1571.2L358.6 1572.7L359.1 1571.1L359.7 1573.0L360.2 1571.0L360.7 1573.5L361.2 1571.0L361.7 1572.9L362.3 1570.5L362.8 1572.1L363.3 1569.4L363.8 1571.6L364.3 1569.3L364.9 1571.8L365.4 1569.5L365.9 1572.1L366.4 1570.0L366.9 1572.1L367.4 1570.9L368.0 1572.8L368.5 1570.2L369.0 1572.5L369.5 1570.5L370.0 1573.8L370.5 1571.5L371.0 1573.5L371.5 1571.5L372.0 1573.8L372.5 1571.7L373.0 1573.6L373.5 1571.6L374.0 1574.1L374.5 1571.4L375.1 1574.1L375.6 1572.2L376.1 1574.2L376.6 1572.4L377.1 1573.9L377.6 1572.6L378.1 1575.0L378.6 1573.2L379.1 1574.8L379.6 1573.2L380.1 1576.0L380.6 1573.6L381.1 1575.8L381.6 1573.2L382.1 1575.2L382.7 1572.6L383.2 1575.1L383.7 1572.2L384.2 1574.4L384.7 1572.5L385.2 1573.5L385.7 1571.0L386.2 1574.1L386.7 1570.9L387.2 1573.0L387.7 1570.2L388.2 1573.3L388.7 1571.1L389.2 1573.0L389.8 1570.7L390.3 1572.2L390.8 1570.1L391.3 1571.8L391.8 1569.2L392.3 1571.2L392.8 1569.4L393.3 1571.2L393.8 1569.7L394.3 1570.9L394.8 1569.2L395.4 1571.4L395.9 1568.5L396.4 1570.6L396.9 1569.5L397.4 1571.8L397.9 1570.0L398.4 1572.6L399.0 1570.2L399.5 1571.9L400.0 1569.7L400.5 1572.3L401.0 1569.9L401.5 1572.6L402.0 1570.2L402.6 1572.2L403.1 1570.0L403.6 1573.1L404.1 1570.5L404.6 1572.9L405.1 1570.3L405.7 1573.0L406.2 1571.2L406.7 1573.8L407.2 1570.9L407.7 1574.0L408.2 1572.5L408.7 1575.0L409.3 1573.3L409.8 1575.5L410.3 1573.6L410.8 1575.7L411.3 1573.5L411.8 1575.7L412.3 1573.7L412.9 1576.9L413.4 1573.4L413.9 1576.5L414.4 1573.1L414.9 1575.0L415.4 1573.1L415.9 1575.1L416.5 1573.1L417.0 1575.1L417.5 1571.3L418.0 1574.0L418.5 1572.2L419.0 1574.2L419.6 1571.8L420.1 1574.0L420.6 1572.0L421.1 1575.1L421.6 1571.8L422.1 1573.8L422.6 1571.4L423.1 1573.2L423.6 1571.4L424.1 1574.4L424.7 1571.2L425.2 1573.5L425.7 1570.6L426.2 1573.1L426.7 1570.5L427.2 1572.1L427.7 1570.3L428.2 1572.8L428.7 1570.6L429.3 1572.1L429.8 1570.0L430.3 1573.1L430.8 1570.4L431.3 1572.2L431.8 1569.9L432.3 1572.6L432.8 1569.7L433.3 1572.4L433.8 1570.5L434.3 1572.4L434.8 1569.8L435.3 1572.0L435.9 1570.2L436.4 1573.4L436.9 1570.0L437.4 1572.3L437.9 1570.0L438.4 1571.7L438.9 1570.0L439.4 1571.6L439.9 1569.4L440.4 1571.3L440.9 1569.1L441.4 1571.1L441.9 1568.8L442.4 1571.7L443.0 1569.0L443.5 1572.2L444.0 1569.8L444.5 1571.9L445.0 1569.5L445.5 1572.0L446.0 1569.4L446.5 1571.9L447.0 1568.8L447.5 1572.4L448.0 1569.2L448.5 1571.7L449.0 1569.8L449.5 1571.6L450.0 1570.0L450.5 1571.9L451.0 1569.8L451.5 1572.3L452.0 1569.8L452.5 1571.3L453.0 1569.4L453.5 1571.5L454.0 1568.8L454.5 1571.6L455.0 1569.5L455.5 1571.9L456.0 1570.2L456.6 1572.1L457.1 1570.2L457.6 1572.8L458.1 1570.7L458.6 1573.0L459.1 1571.7L459.6 1573.4L460.1 1571.1L460.6 1573.3L461.1 1570.9L461.6 1573.1L462.1 1571.1L462.6 1573.0L463.1 1571.1L463.6 1573.2L464.1 1571.4L464.6 1573.2L465.1 1569.6L465.6 1572.3L466.1 1569.3L466.6 1572.1L467.1 1569.8L467.6 1572.3L468.1 1570.6L468.6 1572.5L469.1 1569.5L469.7 1571.4L470.2 1569.4L470.7 1572.1L471.2 1569.5L471.7 1571.6L472.2 1568.1L472.7 1571.9L473.2 1569.1L473.7 1572.1L474.2 1569.6L474.7 1571.4L475.2 1569.1L475.7 1570.5L476.2 1568.6L476.7 1570.5L477.2 1568.2L477.7 1570.4L478.2 1568.0L478.7 1570.0L479.3 1567.7L479.8 1570.1L480.3 1567.7L480.8 1569.7L481.3 1567.0L481.8 1569.7L482.3 1566.6L482.8 1569.9L483.3 1567.4L483.8 1568.6L484.4 1566.3L484.9 1569.2L485.4 1566.8L485.9 1568.4L486.4 1565.9L486.9 1567.8L487.4 1566.2L487.9 1568.0L488.4 1565.4L488.9 1568.0L489.5 1564.9L490.0 1567.2L490.5 1564.3L491.0 1567.0L491.5 1564.2L492.0 1566.4L492.5 1564.1L493.0 1565.9L493.5 1563.6L494.0 1565.8L494.5 1563.3L495.0 1565.2L495.5 1562.6L496.1 1564.6L496.6 1562.6L497.1 1564.1L497.6 1561.7L498.1 1563.0L498.6 1560.6L499.1 1562.6L499.6 1561.0L500.1 1562.2L500.6 1560.4L501.1 1562.3L501.6 1560.1L502.1 1562.3L502.6 1559.8L503.2 1561.3L503.7 1558.6L504.2 1562.1L504.7 1559.3L505.2 1561.4L505.7 1559.3L506.2 1561.5L506.7 1559.5L507.2 1562.1L507.7 1559.8L508.2 1561.8L508.7 1559.5L509.2 1562.1L509.7 1560.0L510.2 1562.6L510.8 1560.3L511.3 1562.9L511.8 1559.5L512.3 1562.8L512.8 1560.9L513.3 1562.7L513.8 1560.7L514.3 1563.0L514.8 1561.2L515.3 1563.3L515.8 1560.2L516.3 1562.5L516.8 1560.7L517.3 1562.8L517.9 1560.3L518.4 1562.4L518.9 1560.2L519.4 1561.4L519.9 1559.1L520.4 1561.8L520.9 1559.4L521.4 1561.4L521.9 1559.5L522.4 1561.5L522.9 1559.6L523.4 1561.2L523.9 1558.9L524.4 1561.3L524.9 1558.8L525.4 1560.6L525.9 1558.0L526.4 1560.1L526.9 1558.3L527.4 1560.6L527.9 1557.7L528.5 1560.4L529.0 1558.0L529.5 1560.1L530.0 1557.9L530.5 1559.7L531.0 1557.0L531.5 1559.9L532.0 1557.5L532.5 1560.0L533.0 1557.2L533.5 1559.8L534.0 1558.1L534.5 1559.9L535.0 1556.5L535.5 1559.3L536.0 1556.3L536.5 1558.6L537.0 1556.2L537.5 1558.6L538.0 1557.3L538.5 1559.8L539.1 1556.5L539.6 1559.4L540.1 1557.4L540.6 1559.0L541.1 1556.9L541.6 1559.9L542.1 1556.2L542.6 1558.7L543.1 1555.8L543.6 1558.1L544.1 1556.7L544.6 1558.8L545.1 1557.2L545.6 1558.8L546.1 1556.3L546.6 1558.5L547.1 1556.3L547.6 1558.8L548.1 1556.4L548.6 1558.3L549.2 1556.3L549.7 1559.0L550.2 1556.2L550.7 1558.7L551.2 1555.6L551.7 1558.8L552.2 1555.3L552.7 1557.7L553.2 1554.9L553.7 1557.6L554.3 1553.9L554.8 1556.4L555.3 1553.9L555.8 1556.2L556.3 1553.6L556.8 1556.5L557.3 1553.4L557.8 1555.3L558.3 1552.6L558.8 1554.6L559.4 1553.2L559.9 1554.4L560.4 1552.9L560.9 1555.1L561.4 1552.4L561.9 1553.8L562.4 1552.1L562.9 1554.0L563.4 1551.8L563.9 1554.0L564.5 1551.3L565.0 1553.5L565.5 1551.5L566.0 1553.2L566.5 1550.5L567.0 1553.3L567.5 1551.2L568.0 1552.9L568.5 1550.6L569.0 1553.2L569.6 1550.0L570.1 1552.9L570.6 1549.9L571.1 1552.3L571.6 1550.6L572.1 1552.4L572.6 1550.4L573.1 1552.6L573.6 1550.5L574.1 1552.1L574.6 1550.3L575.2 1552.5L575.7 1550.1L576.2 1552.8L576.7 1550.0L577.2 1552.7L577.7 1550.7L578.2 1553.2L578.7 1550.6L579.2 1553.1L579.7 1550.9L580.2 1553.0L580.7 1550.5L581.2 1553.3L581.7 1551.0L582.3 1553.6L582.8 1550.9L583.3 1553.5L583.8 1550.9L584.3 1554.0L584.8 1551.7L585.3 1554.0L585.8 1552.1L586.3 1553.9L586.8 1552.5L587.3 1554.2L587.8 1551.4L588.3 1553.4L588.8 1550.7L589.4 1553.2L589.9 1550.9L590.4 1553.7L590.9 1551.1L591.4 1552.8L591.9 1550.9L592.4 1553.1L592.9 1550.1L593.4 1552.3L593.9 1548.7L594.4 1553.0L594.9 1549.9L595.4 1552.0L595.9 1549.9L596.4 1551.3L597.0 1549.5L597.5 1551.8L598.0 1549.2L598.5 1551.9L599.0 1548.3L599.5 1551.4L600.0 1548.9L600.5 1550.1L601.0 1548.8L601.5 1551.9L602.0 1549.6L602.5 1551.6L603.0 1550.6L603.5 1552.2L604.0 1549.6L604.5 1551.7L605.0 1549.3L605.5 1552.0L606.1 1550.3L606.6 1552.1L607.1 1549.8L607.6 1552.3L608.1 1550.1L608.6 1552.9L609.1 1550.2L609.6 1552.7L610.1 1550.2L610.6 1552.0L611.1 1549.8L611.6 1551.9L612.1 1550.2L612.6 1552.2L613.1 1550.1L613.6 1552.3L614.1 1549.9L614.6 1552.9L615.1 1549.9L615.6 1553.3L616.1 1550.5L616.7 1552.9L617.2 1550.1L617.7 1552.8L618.2 1550.6L618.7 1551.9L619.2 1550.2L619.7 1552.4L620.2 1550.6L620.7 1552.6L621.2 1550.7L621.7 1552.3L622.2 1550.6L622.7 1552.8L623.2 1551.7L623.7 1553.1L624.2 1551.4L624.7 1552.7L625.2 1550.9L625.7 1552.7L626.2 1551.2L626.7 1553.5L627.3 1551.2L627.8 1552.8L628.3 1550.9L628.8 1553.2L629.3 1550.9L629.8 1553.4L630.3 1551.0L630.8 1553.9L631.3 1551.7L631.8 1553.8L632.3 1551.7L632.8 1553.8L633.3 1551.3L633.8 1553.3L634.3 1551.2L634.8 1552.4L635.3 1549.9L635.9 1553.0L636.4 1550.2L636.9 1552.3L637.4 1549.7L637.9 1552.2L638.4 1549.9L638.9 1551.8L639.4 1549.4L639.9 1551.6L640.4 1549.8L640.9 1552.1L641.4 1549.0L641.9 1551.6L642.4 1549.1L643.0 1551.1L643.5 1548.9L644.0 1551.4L644.5 1549.5L645.0 1551.6L645.5 1549.3L646.0 1551.9L646.5 1549.4L647.0 1551.6L647.6 1549.9L648.1 1551.6L648.6 1549.7L649.1 1551.6L649.6 1549.1L650.1 1552.1L650.7 1550.2L651.2 1552.8L651.7 1550.9L652.2 1553.6L652.7 1551.4L653.2 1553.8L653.7 1551.8L654.3 1553.8L654.8 1552.2L655.3 1553.4L655.8 1551.6L656.3 1553.6L656.8 1552.0L657.3 1554.0L657.8 1552.6L658.3 1554.6L658.8 1552.0L659.4 1553.9L659.9 1551.6L660.4 1553.3L660.9 1551.2L661.4 1553.5L661.9 1551.0L662.4 1553.3L662.9 1550.6L663.4 1552.5L663.9 1550.1L664.5 1552.1L665.0 1549.9L665.5 1551.9L666.0 1549.2L666.5 1551.2L667.0 1549.8L667.5 1551.8L668.0 1548.6L668.5 1552.3L669.0 1550.0L669.6 1552.8L670.1 1551.1L670.6 1553.6L671.1 1551.5L671.6 1553.4L672.1 1551.1L672.6 1552.7L673.1 1550.6L673.6 1553.4L674.2 1551.5L674.7 1554.1L675.2 1551.4L675.7 1554.3L676.2 1552.0L676.7 1554.0L677.2 1552.0L677.7 1553.5L678.2 1551.4L678.7 1553.9L679.2 1551.8L679.7 1553.9L680.3 1551.5L680.8 1553.0L681.3 1550.7L681.8 1552.8L682.3 1550.5L682.8 1553.3L683.3 1550.4L683.8 1553.3L684.3 1550.4L684.8 1552.6L685.3 1549.8L685.8 1552.9L686.3 1549.9L686.8 1552.6L687.3 1550.4L687.8 1553.0L688.3 1550.9L688.9 1552.5L689.4 1551.0L689.9 1552.8L690.4 1550.7L690.9 1551.9L691.4 1549.6L691.9 1551.9L692.4 1549.6" fill="none" stroke="#000" stroke-width="2.6" stroke-linejoin="round"/>
<path d="M130.8 1644.8L131.2 1650.9L131.7 1643.7L132.2 1648.4L132.7 1642.4L133.2 1647.8L133.7 1640.8L134.2 1646.5L134.7 1639.8L135.2 1646.1L135.6 1640.8L136.1 1645.6L136.6 1638.2L137.1 1643.3L137.6 1638.2L138.1 1642.1L138.6 1634.0L139.1 1639.1L139.6 1634.3L140.0 1639.0L140.5 1632.1L141.0 1638.7L141.5 1632.5L142.0 1636.0L142.5 1631.1L143.0 1635.3L143.5 1628.8L144.0 1634.7L144.4 1630.7L144.9 1636.3L145.4 1629.4L145.9 1635.6L146.4 1629.0L146.9 1634.1L147.4 1626.3L147.9 1632.4L148.4 1624.9L148.9 1629.3L149.4 1623.5L150.0 1629.7L150.5 1622.9L151.0 1629.7L151.5 1624.7L152.0 1629.2L152.5 1624.5L153.0 1627.8L153.6 1621.4L154.1 1626.9L154.6 1622.2L155.1 1627.4L155.6 1621.6L156.1 1626.9L156.6 1620.1L157.2 1627.0L157.7 1620.0L158.2 1626.4L158.7 1621.1L159.3 1632.3L159.8 1621.1L160.3 1627.4L160.8 1622.5L161.4 1630.0L161.9 1623.2L162.4 1628.2L163.0 1624.2L163.5 1630.1L164.0 1624.4L164.5 1630.4L165.1 1623.6L165.6 1630.1L166.1 1622.6L166.6 1630.8L167.2 1623.2L167.7 1626.2L168.2 1618.2L168.7 1626.7L169.3 1621.8L169.8 1628.8L170.3 1623.4L170.9 1628.9L171.4 1624.2L171.9 1629.0L172.4 1623.2L172.9 1631.9L173.5 1622.1L174.0 1629.3L174.5 1623.2L175.0 1627.3L175.5 1620.8L176.1 1625.1L176.6 1618.9L177.1 1624.8L177.6 1618.9L178.2 1623.4L178.7 1617.3L179.2 1622.2L179.7 1617.2L180.2 1622.5L180.7 1615.4L181.2 1622.7L181.8 1616.5L182.3 1622.5L182.8 1615.4L183.3 1619.9L183.8 1614.1L184.3 1622.4L184.9 1612.9L185.4 1622.4L185.9 1615.1L186.4 1622.5L186.9 1615.1L187.4 1620.9L187.9 1613.5L188.5 1619.9L189.0 1613.3L189.5 1617.9L190.0 1611.5L190.5 1616.4L191.0 1609.5L191.5 1615.5L192.1 1608.9L192.6 1616.7L193.1 1610.9L193.6 1616.0L194.1 1610.9L194.6 1617.4L195.1 1610.8L195.7 1616.0L196.2 1610.2L196.7 1618.4L197.2 1608.9L197.7 1612.9L198.2 1605.4L198.8 1611.0L199.3 1607.2L199.8 1615.3L200.3 1607.3L200.8 1613.1L201.4 1607.9L201.9 1612.3L202.4 1606.6L202.9 1610.3L203.4 1603.5L204.0 1608.1L204.5 1601.5L205.0 1609.1L205.5 1604.5L206.1 1609.8L206.5 1603.9L207.0 1611.1L207.5 1605.3L208.0 1613.7L208.5 1605.7L209.0 1611.2L209.5 1606.2L210.0 1613.6L210.5 1609.2L210.9 1616.6L211.4 1610.1L211.9 1617.9L212.4 1609.2L212.9 1615.0L213.4 1609.3L213.9 1615.8L214.3 1610.9L214.8 1619.9L215.3 1612.5L215.7 1619.2L216.2 1614.8L216.6 1620.9L217.1 1614.1L217.6 1620.3L218.0 1616.3L218.5 1624.7L218.9 1620.1L219.4 1626.8L219.9 1621.5L220.3 1628.3L220.8 1622.7L221.2 1630.9L221.7 1623.0L222.2 1630.9L222.7 1625.2L223.2 1631.2L223.8 1624.4L224.3 1632.0L224.8 1625.5L225.3 1632.4L225.8 1625.3L226.3 1630.9L226.8 1626.8L227.3 1632.2L227.8 1624.5L228.4 1633.5L228.9 1626.6L229.4 1633.2L229.9 1628.8L230.4 1632.3L230.9 1629.4L231.4 1634.7L231.9 1628.1L232.5 1635.3L233.0 1629.2L233.5 1636.4L234.0 1626.0L234.6 1636.1L235.1 1630.5L235.6 1636.9L236.1 1629.5L236.7 1636.5L237.2 1628.8L237.7 1635.2L238.3 1629.3L238.8 1634.6L239.3 1629.2L239.8 1635.2L240.3 1628.5L240.8 1635.2L241.3 1627.0L241.7 1632.9L242.2 1627.8L242.7 1632.6L243.2 1621.3L243.7 1629.1L244.2 1622.2L244.7 1628.8L245.2 1621.2L245.7 1627.6L246.1 1618.4L246.6 1625.5L247.1 1619.2L247.6 1625.4L248.1 1617.1L248.6 1621.6L249.1 1615.7L249.6 1620.5L250.1 1615.1L250.5 1621.1L251.0 1610.9L251.5 1619.1L252.0 1611.1L252.5 1617.6L253.0 1611.8L253.5 1619.6L254.0 1611.7L254.5 1615.9L255.0 1606.4L255.5 1616.3L256.0 1608.3L256.6 1615.3L257.1 1609.0L257.6 1617.2L258.2 1610.1L258.7 1615.8L259.2 1609.3L259.8 1619.3L260.3 1611.0L260.8 1616.5L261.3 1612.3L261.8 1619.4L262.3 1610.7L262.8 1619.9L263.3 1614.6L263.8 1621.3L264.2 1614.8L264.7 1623.4L265.2 1616.3L265.7 1624.9L266.2 1618.7L266.8 1626.3L267.3 1616.3L267.8 1624.2L268.3 1619.7L268.9 1624.6L269.4 1618.4L269.9 1625.9L270.4 1618.5L271.0 1628.3L271.5 1618.2L272.0 1624.9L272.6 1619.2L273.0 1625.9L273.5 1619.0L274.0 1625.3L274.5 1616.2L275.0 1621.4L275.5 1617.5L276.0 1621.8L276.5 1614.7L277.0 1621.0L277.4 1614.1L277.9 1618.1L278.4 1613.4L278.9 1619.1L279.4 1608.9L279.9 1616.2L280.4 1609.4L280.9 1615.4L281.4 1609.8L281.9 1616.6L282.4 1610.9L282.9 1616.6L283.5 1609.6L284.0 1614.3L284.5 1608.4L285.0 1615.1L285.5 1609.8L286.0 1615.1L286.6 1609.6L287.1 1615.4L287.6 1609.2L288.1 1613.3L288.6 1606.0L289.1 1613.6L289.6 1607.0L290.2 1611.4L290.6 1603.4L291.1 1608.4L291.6 1602.3L292.1 1608.8L292.6 1602.8L293.1 1609.5L293.6 1601.7L294.1 1608.4L294.6 1599.9L295.1 1606.1L295.6 1599.4L296.1 1607.0L296.6 1601.2L297.1 1605.8L297.6 1601.3L298.1 1605.7L298.6 1597.9L299.0 1603.6L299.5 1600.2L300.1 1605.6L300.6 1600.6L301.1 1607.0L301.6 1600.7L302.1 1606.7L302.6 1601.3L303.1 1606.7L303.6 1596.8L304.2 1603.9L304.7 1599.7L305.2 1605.0L305.7 1597.9L306.2 1603.6L306.7 1597.4L307.2 1605.8L307.8 1597.5L308.3 1605.5L308.8 1599.7L309.3 1605.1L309.8 1597.5L310.3 1605.1L310.8 1598.6L311.4 1603.5L311.9 1597.1L312.4 1603.6L312.9 1598.5L313.4 1604.0L313.9 1599.1L314.4 1603.2L315.0 1597.9L315.5 1604.8L316.0 1598.4L316.5 1603.7L317.0 1597.2L317.5 1602.6L318.1 1596.2L318.6 1603.7L319.1 1596.1L319.6 1603.4L320.1 1598.7L320.7 1606.4L321.2 1593.8L321.7 1602.9L322.2 1599.5L322.8 1605.5L323.3 1600.0L323.8 1605.5L324.3 1600.0L324.8 1605.6L325.4 1599.8L325.9 1605.6L326.4 1600.5L326.9 1608.7L327.4 1602.1L328.0 1608.6L328.5 1602.3L329.0 1608.1L329.5 1601.6L330.1 1607.8L330.6 1602.7L331.1 1612.7L331.6 1602.5L332.1 1610.7L332.7 1604.3L333.2 1611.6L333.7 1606.0L334.2 1611.0L334.6 1609.2L335.1 1617.3L335.6 1610.7L336.1 1615.2L336.6 1610.3L337.1 1615.3L337.6 1611.9L338.1 1618.2L338.6 1610.9L339.0 1617.4L339.5 1614.0L340.0 1619.8L340.5 1616.1L341.0 1625.4L341.5 1618.3L342.0 1624.0L342.5 1618.7L343.0 1624.4L343.5 1621.5L343.9 1628.2L344.4 1622.1L344.9 1627.5L345.4 1621.8L345.9 1629.3L346.4 1622.9L346.9 1628.8L347.4 1623.9L347.9 1632.2L348.3 1627.3L348.8 1632.7L349.3 1626.9L349.8 1633.0L350.3 1627.3L350.8 1632.3L351.3 1628.0L351.8 1634.4L352.2 1629.6L352.7 1632.6L353.1 1626.6L353.6 1630.5L354.0 1626.2L354.5 1629.8L355.0 1622.4L355.4 1625.4L355.9 1619.8L356.3 1625.6L356.8 1618.3L357.2 1624.6L357.7 1618.3L358.2 1623.0L358.6 1615.6L359.0 1619.2L359.3 1611.6L359.7 1616.3L360.1 1608.8L360.4 1613.7L360.8 1607.8L361.2 1612.3L361.5 1604.0L361.9 1608.4L362.3 1599.9L362.6 1609.2L363.0 1600.3L363.4 1605.4L363.7 1597.7L364.1 1602.2L364.5 1594.1L365.0 1600.0L365.5 1595.0L366.1 1599.9L366.6 1593.8L367.1 1600.9L367.7 1593.8L368.2 1601.0L368.7 1594.1L369.3 1600.9L369.8 1593.3L370.3 1596.3L370.7 1592.6L371.1 1601.1L371.5 1595.6L371.9 1603.5L372.3 1598.8L372.7 1605.5L373.1 1599.4L373.5 1607.5L373.9 1600.5L374.3 1607.4L374.6 1602.6L375.0 1611.9L375.4 1606.8L375.8 1611.8L376.2 1606.5L376.6 1614.2L377.0 1609.6L377.5 1617.6L377.9 1613.0L378.3 1620.0L378.7 1610.7L379.1 1621.2L379.6 1614.2L380.0 1621.9L380.4 1617.3L380.8 1625.0L381.2 1620.1L381.7 1626.2L382.1 1622.1L382.6 1632.0L383.1 1623.4L383.7 1630.3L384.2 1624.0L384.7 1631.0L385.3 1625.3L385.8 1630.8L386.3 1625.8L386.9 1634.4L387.4 1628.5L387.9 1633.3L388.3 1622.7L388.7 1630.5L389.1 1620.0L389.5 1627.6L389.9 1622.1L390.3 1626.1L390.7 1618.7L391.1 1622.2L391.5 1616.3L391.9 1622.5L392.2 1616.4L392.6 1620.9L393.0 1614.4L393.4 1617.9L393.8 1611.8L394.2 1616.3L394.7 1608.6L395.1 1615.2L395.5 1606.4L395.9 1613.0L396.3 1604.8L396.7 1611.0L397.2 1604.7L397.6 1608.4L398.0 1600.3L398.4 1606.0L398.8 1599.7L399.3 1604.0L399.7 1598.4L400.2 1603.1L400.6 1594.8L401.1 1599.9L401.6 1592.6L402.1 1598.1L402.5 1590.2L403.0 1598.1L403.5 1591.6L404.0 1596.9L404.4 1587.5L404.9 1593.7L405.4 1586.2L405.9 1593.5L406.3 1586.1L406.8 1593.2L407.2 1584.2L407.7 1588.7L408.1 1583.1L408.6 1588.0L409.0 1581.9L409.5 1586.4L409.9 1579.3L410.4 1584.8L410.8 1575.9L411.3 1583.3L411.7 1577.9L412.3 1583.3L412.8 1574.6L413.3 1582.3L413.8 1576.0L414.3 1581.8L414.9 1576.9L415.4 1581.9L415.9 1576.1L416.4 1580.3L417.0 1572.3L417.5 1579.6L418.0 1574.4L418.5 1580.1L419.0 1572.9L419.6 1579.6L420.1 1573.8L420.6 1578.1L421.1 1572.9L421.6 1578.8L422.1 1573.5L422.6 1582.1L423.2 1574.5L423.7 1581.2L424.2 1573.1L424.7 1582.3L425.2 1574.6L425.7 1581.7L426.2 1575.3L426.8 1581.2L427.3 1575.0L427.8 1581.1L428.3 1576.5L428.8 1579.9L429.3 1574.4L429.9 1579.8L430.4 1575.0L430.9 1582.4L431.5 1576.1L432.0 1582.8L432.5 1576.9L433.1 1583.9L433.6 1578.6L434.1 1587.1L434.7 1577.6L435.2 1583.0L435.7 1579.6L436.1 1584.5L436.6 1579.2L437.0 1586.5L437.5 1578.8L437.9 1588.6L438.4 1583.3L438.8 1590.0L439.3 1585.0L439.7 1591.8L440.2 1587.7L440.6 1594.1L441.1 1585.1L441.6 1593.9L442.0 1589.8L442.5 1594.5L443.0 1589.5L443.5 1597.4L444.0 1591.9L444.5 1599.4L445.0 1592.7L445.5 1601.4L446.0 1594.3L446.5 1600.9L446.9 1596.2L447.4 1603.3L447.9 1596.2L448.4 1602.3L448.9 1597.9L449.4 1606.5L449.9 1595.9L450.4 1605.0L451.0 1598.1L451.5 1608.1L452.0 1600.6L452.5 1607.3L453.0 1602.5L453.5 1607.3L454.0 1601.9L454.6 1608.7L455.1 1600.9L455.6 1608.7L456.1 1601.4L456.6 1605.7L457.1 1600.8L457.6 1611.9L458.2 1602.0L458.7 1609.3L459.2 1603.2L459.7 1605.4L460.1 1598.8L460.6 1605.1L461.1 1598.4L461.6 1605.5L462.1 1599.1L462.6 1606.8L463.1 1599.5L463.6 1606.3L464.1 1600.0L464.5 1605.3L465.0 1599.2L465.5 1603.4L466.0 1597.7L466.5 1604.0L467.0 1595.9L467.5 1601.2L468.0 1595.3L468.5 1601.7L468.9 1593.9L469.3 1600.4L469.8 1592.4L470.2 1597.9L470.7 1592.0L471.1 1595.2L471.6 1589.4L472.0 1594.2L472.5 1588.3L472.9 1593.8L473.3 1581.5L473.8 1591.9L474.3 1586.2L474.8 1594.2L475.3 1587.1L475.8 1595.4L476.3 1590.1L476.8 1597.7L477.3 1593.5L477.7 1598.8L478.2 1593.7L478.7 1600.2L479.1 1596.9L479.6 1602.9L480.1 1598.5L480.5 1604.5L481.0 1601.7L481.4 1606.1L481.9 1601.4L482.3 1606.8L482.8 1600.3L483.3 1608.2L483.7 1602.2L484.2 1609.6L484.6 1605.7L485.1 1611.3L485.5 1605.7L486.0 1610.7L486.4 1602.1L486.9 1609.5L487.4 1602.4L487.8 1606.6L488.3 1600.2L488.7 1604.6L489.2 1597.7L489.6 1604.6L490.1 1599.1L490.6 1603.0L491.0 1596.6L491.5 1600.3L491.9 1594.6L492.4 1599.4L492.8 1591.0L493.3 1597.5L493.8 1588.4L494.2 1596.3L494.7 1588.6L495.1 1595.3L495.6 1584.8L496.1 1590.3L496.5 1584.6L497.0 1588.7L497.4 1583.3L497.9 1587.2L498.4 1580.0L498.8 1585.5L499.3 1578.3L499.7 1584.8L500.3 1575.9L500.8 1584.5L501.3 1578.5L501.8 1583.7L502.3 1577.9L502.8 1587.3L503.3 1579.0L503.9 1585.8L504.4 1580.3L504.9 1588.0L505.4 1580.8L505.9 1588.7L506.4 1581.3L507.0 1590.0L507.5 1583.5L508.0 1590.8L508.5 1586.3L509.0 1591.7L509.5 1586.1L510.0 1592.5L510.6 1587.5L511.1 1594.1L511.6 1587.7L512.1 1593.5L512.6 1588.0L513.1 1594.0L513.6 1586.5L514.2 1597.5L514.7 1588.6L515.2 1595.5L515.7 1588.5L516.2 1593.8L516.7 1587.5L517.2 1594.9L517.8 1588.5L518.3 1595.6L518.8 1590.4L519.3 1595.9L519.8 1591.6L520.3 1597.3L520.8 1591.2L521.3 1599.2L521.7 1592.3L522.2 1600.4L522.7 1592.1L523.2 1599.0L523.7 1593.2L524.2 1599.9L524.7 1593.8L525.2 1599.9L525.7 1595.2L526.1 1602.6L526.6 1599.3L527.1 1604.2L527.6 1598.1L528.0 1604.3L528.5 1597.4L529.0 1604.6L529.4 1599.7L529.9 1606.9L530.3 1603.4L530.8 1610.6L531.3 1604.5L531.7 1609.9L532.2 1603.2L532.6 1609.9L533.1 1604.6L533.6 1614.2L534.0 1608.3L534.5 1616.5L535.0 1609.8L535.4 1615.3L535.9 1611.0L536.3 1617.9L536.8 1611.5L537.3 1619.4L537.7 1613.3L538.2 1620.3L538.6 1614.4L539.1 1623.2L539.6 1617.6L540.0 1623.2L540.5 1618.3L540.9 1625.1L541.4 1621.1L541.9 1626.5L542.3 1623.5L542.8 1630.5L543.2 1625.1L543.6 1632.9L544.0 1627.0L544.4 1634.5L544.8 1626.7L545.2 1636.8L545.7 1629.8L546.1 1639.3L546.5 1632.2L546.9 1639.9L547.3 1632.1L547.7 1641.7L548.1 1633.4L548.5 1643.1L548.9 1638.3L549.4 1647.0L549.8 1641.9L550.2 1647.9L550.6 1642.7L551.1 1649.4L551.6 1646.9L552.1 1651.6L552.6 1645.4L553.0 1651.6L553.5 1646.6L554.0 1652.7L554.5 1646.8L555.0 1652.2L555.5 1648.9L556.0 1656.5L556.5 1649.1L557.0 1654.8L557.4 1648.9L557.9 1657.0L558.4 1649.4L558.8 1655.1L559.2 1648.4L559.6 1653.6L560.0 1643.5L560.4 1652.5L560.8 1642.6L561.2 1648.5L561.5 1642.9L561.9 1646.1L562.3 1641.1L562.7 1644.8L563.1 1637.3L563.5 1644.6L563.9 1632.5L564.3 1638.6L564.7 1632.6L565.1 1637.8L565.5 1630.7L566.0 1635.1L566.4 1628.5L566.8 1635.2L567.2 1626.1L567.6 1633.6L568.1 1624.6L568.5 1630.8L568.9 1623.7L569.3 1627.4L569.7 1621.0L570.2 1626.2L570.4 1621.1L570.6 1625.7L570.8 1616.4L571.0 1622.8L571.2 1614.5L571.4 1616.9L571.6 1610.0L571.9 1615.5L572.1 1607.1L572.3 1611.8L572.5 1603.1L572.7 1610.0L572.9 1600.5L573.1 1604.6L573.3 1597.7L573.6 1601.2L573.8 1595.8L574.0 1599.0L574.2 1592.5L574.4 1597.4L574.6 1589.8L574.8 1591.8L575.0 1585.6L575.4 1588.4L575.8 1580.8L576.2 1587.4L576.6 1580.4L577.0 1583.1L577.4 1579.6L577.9 1585.7L578.3 1578.8L578.8 1587.7L579.2 1582.6L579.7 1589.7L580.1 1585.3L580.6 1592.6L581.0 1588.0L581.4 1592.1L581.9 1588.0L582.3 1594.7L582.7 1589.8L583.1 1598.1L583.5 1592.8L583.8 1600.3L584.2 1594.7L584.6 1603.5L585.0 1599.2L585.4 1605.4L585.8 1600.3L586.2 1608.3L586.6 1603.6L587.0 1612.7L587.4 1606.6L587.8 1613.9L588.1 1608.5L588.4 1618.1L588.8 1612.4L589.1 1620.6L589.5 1614.8L589.8 1622.5L590.2 1616.2L590.5 1623.5L590.9 1617.7L591.2 1627.5L591.6 1623.7L591.9 1633.3L592.2 1627.1L592.6 1634.6L592.9 1629.6L593.3 1636.7L593.6 1631.0L594.1 1638.9L594.5 1632.3L594.9 1639.9L595.4 1635.1L595.8 1642.1L596.2 1637.0L596.7 1645.1L597.1 1640.7L597.5 1644.9L598.0 1640.6L598.4 1647.1L598.8 1639.7L599.3 1648.5L599.7 1641.9L600.1 1649.1L600.6 1643.9L601.0 1649.7L601.4 1644.4L601.9 1652.6L602.4 1645.5L602.9 1648.9L603.4 1643.0L603.9 1648.5L604.4 1641.7L604.9 1646.0L605.4 1639.3" fill="none" stroke="#f00" stroke-width="2.2" stroke-linejoin="round"/>
<path d="M126.1 1646.0L132.7 1639.4L139.3 1646.0L132.7 1652.6Z" fill="none" stroke="#f00" stroke-width="2.3"/><path d="M159.6 1626.4L166.2 1619.8L172.8 1626.4L166.2 1633.0Z" fill="none" stroke="#f00" stroke-width="2.3"/><path d="M193.1 1609.1L199.7 1602.5L206.3 1609.1L199.7 1615.7Z" fill="none" stroke="#f00" stroke-width="2.3"/><path d="M226.6 1631.9L233.2 1625.3L239.8 1631.9L233.2 1638.5Z" fill="none" stroke="#f00" stroke-width="2.3"/><path d="M260.1 1622.3L266.7 1615.7L273.3 1622.3L266.7 1628.9Z" fill="none" stroke="#f00" stroke-width="2.3"/><path d="M293.6 1602.6L300.2 1596.0L306.8 1602.6L300.2 1609.2Z" fill="none" stroke="#f00" stroke-width="2.3"/><path d="M327.1 1609.1L333.7 1602.5L340.3 1609.1L333.7 1615.7Z" fill="none" stroke="#f00" stroke-width="2.3"/><path d="M360.6 1596.9L367.2 1590.3L373.8 1596.9L367.2 1603.5Z" fill="none" stroke="#f00" stroke-width="2.3"/><path d="M394.1 1597.9L400.7 1591.3L407.3 1597.9L400.7 1604.5Z" fill="none" stroke="#f00" stroke-width="2.3"/><path d="M427.6 1580.9L434.2 1574.3L440.8 1580.9L434.2 1587.5Z" fill="none" stroke="#f00" stroke-width="2.3"/><path d="M461.1 1598.4L467.7 1591.8L474.3 1598.4L467.7 1605.0Z" fill="none" stroke="#f00" stroke-width="2.3"/><path d="M494.6 1582.8L501.2 1576.2L507.8 1582.8L501.2 1589.4Z" fill="none" stroke="#f00" stroke-width="2.3"/><path d="M528.1 1611.0L534.7 1604.4L541.3 1611.0L534.7 1617.6Z" fill="none" stroke="#f00" stroke-width="2.3"/><path d="M561.6 1628.7L568.2 1622.1L574.8 1628.7L568.2 1635.3Z" fill="none" stroke="#f00" stroke-width="2.3"/><path d="M595.1 1649.2L601.7 1642.6L608.3 1649.2L601.7 1655.8Z" fill="none" stroke="#f00" stroke-width="2.3"/>
<path d="M130.8 1644.1L131.2 1647.0L131.7 1641.6L132.1 1645.4L132.6 1639.2L133.0 1643.3L133.5 1637.8L134.0 1642.5L134.4 1636.6L134.9 1640.7L135.3 1634.7L135.8 1638.1L136.2 1633.4L136.7 1637.1L137.1 1631.1L137.6 1634.3L138.0 1630.5L138.5 1632.2L138.9 1626.7L139.3 1630.3L139.8 1625.2L140.2 1629.3L140.6 1624.0L141.1 1628.9L141.5 1622.4L141.9 1626.4L142.4 1619.4L142.8 1624.7L143.3 1619.2L143.7 1622.5L144.1 1615.6L144.6 1619.5L145.0 1616.0L145.4 1618.7L145.9 1613.0L146.4 1616.8L146.9 1611.7L147.4 1617.8L147.9 1611.6L148.4 1616.2L148.8 1611.4L149.3 1614.8L149.8 1611.0L150.3 1614.7L150.8 1608.9L151.3 1613.5L151.8 1608.6L152.3 1612.9L152.8 1608.5L153.2 1613.4L153.8 1608.5L154.3 1613.2L154.8 1608.5L155.3 1613.9L155.9 1608.7L156.4 1612.9L156.9 1608.3L157.4 1614.2L157.9 1610.3L158.5 1614.5L159.0 1610.2L159.5 1615.7L160.0 1610.1L160.6 1616.0L161.1 1610.9L161.6 1616.8L162.1 1612.6L162.6 1617.9L163.2 1614.7L163.7 1618.8L164.2 1614.8L164.7 1618.5L165.2 1613.7L165.8 1618.6L166.3 1615.6L166.8 1618.8L167.3 1615.5L167.9 1620.5L168.4 1616.1L168.9 1621.5L169.4 1616.2L169.9 1620.7L170.4 1615.7L171.0 1620.9L171.5 1613.4L172.0 1620.7L172.5 1616.0L173.0 1620.3L173.5 1615.5L174.0 1618.7L174.6 1615.7L175.1 1618.9L175.6 1614.7L176.1 1619.1L176.6 1615.0L177.1 1620.3L177.6 1616.2L178.2 1620.7L178.7 1616.7L179.2 1620.8L179.7 1616.1L180.2 1621.8L180.7 1616.6L181.2 1619.9L181.8 1615.9L182.3 1620.1L182.8 1614.1L183.3 1618.4L183.8 1610.9L184.3 1617.1L184.9 1612.8L185.4 1615.4L185.9 1611.6L186.4 1615.3L186.9 1611.8L187.4 1616.3L187.9 1611.9L188.5 1614.9L189.0 1609.8L189.5 1612.5L190.0 1609.6L190.5 1614.2L191.0 1608.3L191.5 1611.4L192.1 1608.4L192.6 1611.2L193.1 1604.7L193.6 1610.8L194.1 1606.1L194.6 1609.8L195.1 1605.7L195.7 1609.9L196.2 1603.3L196.7 1607.7L197.2 1602.0L197.7 1607.8L198.2 1602.3L198.8 1606.3L199.3 1602.5L199.8 1606.5L200.3 1602.6L200.8 1606.6L201.4 1601.2L201.9 1605.6L202.4 1601.2L202.9 1606.3L203.4 1601.7L204.0 1606.2L204.5 1600.3L205.0 1605.8L205.5 1602.1L206.1 1605.3L206.5 1602.3L207.0 1607.9L207.5 1603.5L208.0 1607.5L208.5 1603.2L209.0 1611.9L209.5 1604.3L210.0 1609.9L210.5 1604.3L210.9 1608.8L211.4 1605.8L211.9 1609.6L212.4 1604.7L212.9 1609.8L213.4 1604.9L213.9 1610.8L214.4 1606.6L214.9 1612.2L215.4 1608.4L215.9 1612.7L216.4 1608.4L216.9 1612.6L217.4 1608.1L218.0 1611.4L218.5 1606.8L219.0 1611.9L219.5 1608.5L220.0 1613.0L220.5 1608.0L221.0 1613.0L221.5 1609.3L222.0 1613.7L222.6 1608.8L223.1 1613.3L223.6 1607.2L224.1 1613.3L224.6 1609.9L225.1 1613.8L225.6 1609.9L226.1 1613.9L226.6 1610.4L227.1 1614.9L227.7 1608.3L228.2 1613.9L228.7 1610.0L229.2 1613.2L229.7 1609.1L230.2 1612.6L230.7 1608.6L231.2 1613.8L231.7 1608.8L232.2 1613.0L232.8 1607.8L233.3 1611.8L233.8 1606.8L234.3 1611.3L234.8 1605.6L235.3 1611.1L235.8 1608.7L236.3 1612.1L236.8 1606.7L237.3 1611.5L237.9 1607.1L238.4 1611.0L238.9 1606.9L239.4 1611.1L239.9 1603.6L240.4 1609.1L241.0 1605.0L241.5 1609.3L242.0 1605.0L242.5 1608.1L243.0 1603.6L243.5 1607.9L244.0 1603.3L244.6 1607.2L245.1 1601.0L245.6 1606.1L246.1 1601.7L246.6 1605.6L247.1 1601.1L247.7 1605.2L248.2 1601.4L248.7 1605.9L249.3 1600.4L249.8 1604.3L250.3 1599.6L250.9 1604.3L251.4 1597.7L251.9 1602.4L252.5 1599.2L253.0 1602.3L253.5 1597.9L254.0 1602.4L254.5 1599.0L255.0 1603.0L255.4 1599.1L255.9 1604.5L256.4 1600.1L256.9 1606.7L257.4 1602.0L257.9 1607.4L258.4 1602.5L258.9 1606.5L259.4 1603.6L259.8 1607.7L260.3 1605.6L260.8 1608.5L261.3 1605.6L261.8 1609.8L262.4 1606.4L262.9 1608.9L263.4 1605.6L263.9 1610.2L264.4 1604.5L264.9 1609.4L265.4 1605.0L266.0 1608.6L266.5 1605.3L267.0 1609.0L267.5 1605.4L268.0 1609.8L268.5 1606.0L269.1 1610.6L269.6 1606.1L270.1 1610.3L270.6 1606.1L271.1 1611.6L271.6 1606.6L272.1 1611.2L272.7 1606.5L273.2 1611.7L273.7 1607.5L274.2 1611.4L274.7 1605.2L275.2 1610.8L275.7 1605.8L276.3 1610.7L276.8 1606.1L277.3 1610.8L277.8 1608.1L278.3 1613.6L278.8 1606.4L279.3 1611.9L279.9 1606.8L280.4 1611.8L280.9 1607.5L281.4 1610.4L281.8 1603.7L282.3 1608.1L282.8 1603.7L283.3 1610.3L283.8 1603.5L284.3 1606.3L284.8 1600.1L285.3 1605.2L285.8 1600.2L286.2 1603.0L286.7 1599.3L287.2 1601.9L287.7 1598.1L288.2 1601.7L288.7 1597.3L289.2 1601.7L289.7 1596.7L290.2 1600.5L290.7 1597.0L291.3 1601.5L291.8 1598.2L292.3 1600.9L292.8 1597.3L293.3 1600.8L293.8 1596.0L294.3 1602.0L294.8 1593.6L295.3 1599.8L295.9 1594.1L296.4 1599.8L296.9 1594.3L297.4 1598.6L297.9 1592.4L298.4 1596.4L298.9 1592.1L299.4 1596.7L299.9 1591.0L300.4 1595.3L301.0 1592.3L301.5 1596.2L302.0 1591.0L302.5 1595.4L303.0 1591.1L303.5 1595.4L304.0 1591.1L304.5 1596.4L305.0 1591.5L305.5 1596.9L306.1 1592.0L306.6 1596.8L307.1 1592.2L307.6 1594.9L308.1 1590.6L308.6 1594.9L309.1 1591.3L309.6 1594.1L310.1 1589.1L310.6 1593.4L311.2 1588.8L311.7 1593.8L312.2 1590.1L312.7 1592.5L313.2 1587.2L313.7 1592.2L314.2 1586.8L314.7 1591.0L315.2 1587.1L315.7 1592.1L316.2 1587.2L316.7 1592.7L317.2 1588.1L317.8 1592.6L318.3 1588.3L318.8 1592.1L319.3 1587.5L319.8 1591.0L320.3 1587.6L320.8 1593.7L321.3 1586.8L321.8 1590.8L322.3 1585.8L322.8 1590.5L323.3 1586.1L323.8 1590.8L324.3 1586.6L324.9 1589.4L325.4 1585.3L325.9 1590.8L326.4 1586.4L326.9 1589.6L327.4 1586.1L327.9 1589.3L328.4 1584.0L329.0 1589.4L329.5 1583.1L330.0 1587.3L330.5 1583.2L331.0 1589.5L331.5 1583.1L332.0 1587.2L332.6 1582.2L333.1 1587.0L333.6 1582.9L334.1 1586.9L334.6 1583.2L335.1 1586.0L335.6 1581.5L336.2 1586.2L336.7 1582.0L337.2 1585.1L337.7 1580.1L338.2 1585.9L338.7 1580.7L339.2 1585.5L339.7 1580.6L340.2 1585.2L340.8 1579.3L341.3 1583.3L341.8 1579.9L342.3 1584.6L342.8 1578.7L343.3 1583.2L343.8 1578.7L344.3 1583.8L344.8 1579.4L345.3 1584.9L345.9 1580.6L346.4 1584.4L346.9 1578.7L347.4 1583.1L347.9 1579.1L348.4 1583.9L348.9 1579.6L349.4 1586.2L349.9 1579.0L350.4 1583.3L351.0 1578.6L351.5 1584.4L352.0 1581.2L352.5 1585.9L353.0 1581.2L353.5 1585.6L354.0 1580.8L354.5 1584.1L355.0 1580.3L355.5 1585.0L356.1 1580.0L356.6 1586.1L357.1 1580.2L357.6 1585.0L358.1 1581.4L358.6 1585.6L359.1 1580.3L359.6 1585.9L360.1 1581.5L360.6 1585.8L361.2 1583.1L361.7 1585.7L362.2 1580.0L362.7 1586.2L363.2 1580.7L363.7 1585.6L364.2 1580.9L364.7 1583.9L365.2 1579.5L365.8 1584.4L366.3 1579.9L366.8 1585.0L367.3 1581.5L367.8 1586.6L368.3 1581.1L368.8 1587.7L369.3 1578.2L369.8 1586.3L370.3 1580.2L370.9 1585.0L371.4 1580.2L371.9 1585.6L372.4 1580.6L372.9 1584.5L373.4 1579.0L373.9 1584.8L374.4 1579.3L374.9 1582.7L375.4 1578.8L376.0 1583.4L376.5 1578.7L377.0 1582.6L377.5 1577.8L378.0 1582.6L378.5 1578.2L379.0 1581.1L379.5 1576.2L380.0 1581.2L380.5 1576.9L381.1 1579.6L381.6 1576.5L382.1 1579.3L382.6 1574.1L383.1 1579.5L383.6 1575.3L384.1 1580.6L384.6 1574.9L385.1 1578.2L385.6 1574.8L386.2 1578.6L386.7 1575.8L387.2 1579.9L387.7 1574.6L388.2 1580.3L388.7 1575.0L389.2 1579.7L389.7 1575.7L390.2 1578.8L390.8 1575.0L391.3 1581.9L391.8 1573.5L392.3 1577.7L392.8 1573.4L393.3 1578.5L393.8 1573.9L394.3 1578.4L394.8 1573.6L395.4 1578.3L395.9 1572.0L396.4 1576.9L396.9 1572.8L397.4 1577.8L397.9 1572.9L398.4 1578.0L399.0 1571.2L399.5 1577.3L400.0 1572.0L400.5 1577.2L401.0 1573.6L401.5 1577.0L402.0 1572.5L402.6 1577.6L403.1 1572.9L403.6 1577.6L404.1 1572.3L404.6 1575.9L405.1 1571.7L405.7 1574.8L406.2 1571.0L406.7 1575.6L407.2 1569.5L407.7 1575.0L408.2 1571.2L408.7 1575.5L409.3 1572.2L409.8 1576.8L410.3 1571.8L410.8 1576.4L411.3 1571.6L411.8 1575.5L412.3 1570.3L412.9 1574.6L413.4 1571.2L413.9 1574.5L414.4 1569.5L414.9 1574.5L415.4 1570.1L415.9 1573.9L416.5 1567.3L417.0 1572.1L417.5 1567.7L418.0 1570.5L418.5 1566.0L419.0 1571.5L419.6 1566.4L420.1 1570.4L420.6 1567.3L421.1 1571.3L421.6 1567.7L422.1 1571.6L422.6 1567.4L423.2 1572.2L423.7 1568.3L424.2 1572.9L424.7 1567.9L425.2 1572.7L425.7 1570.4L426.2 1574.6L426.8 1570.2L427.3 1573.6L427.8 1570.3L428.3 1574.0L428.8 1568.3L429.3 1574.0L429.8 1570.5L430.3 1573.8L430.9 1569.5L431.4 1573.7L431.9 1568.8L432.4 1573.9L432.9 1568.6L433.4 1573.6L433.9 1569.1L434.4 1573.0L434.9 1569.1L435.4 1575.2L435.9 1569.9L436.4 1574.5L436.9 1570.5L437.4 1574.7L437.9 1568.9L438.4 1573.6L438.9 1567.9L439.4 1573.2L439.9 1570.0L440.4 1574.0L440.9 1569.5L441.5 1575.4L442.0 1568.1L442.5 1572.7L443.0 1566.6L443.5 1572.7L444.0 1568.7L444.5 1573.0L445.0 1567.9L445.5 1573.3L446.0 1569.8L446.5 1574.3L447.0 1569.6L447.5 1576.3L448.0 1570.2L448.5 1574.8L449.0 1569.6L449.5 1574.2L450.0 1569.4L450.5 1576.5L451.0 1570.8L451.5 1576.2L452.0 1571.5L452.5 1576.5L453.0 1572.7L453.5 1575.8L454.0 1571.5L454.5 1577.9L455.0 1571.9L455.5 1577.7L456.0 1571.9L456.6 1576.7L457.1 1573.2L457.6 1577.5L458.1 1572.0L458.6 1575.5L459.1 1572.1L459.6 1577.3L460.1 1572.4L460.6 1578.1L461.1 1573.3L461.6 1579.7L462.1 1573.9L462.6 1578.3L463.1 1573.9L463.6 1580.2L464.1 1575.2L464.6 1579.6L465.1 1574.5L465.6 1579.0L466.1 1572.8L466.6 1576.5L467.1 1571.9L467.6 1578.2L468.1 1572.1L468.6 1576.0L469.1 1572.3L469.7 1577.3L470.2 1572.9L470.7 1577.1L471.2 1572.0L471.7 1576.7L472.2 1571.4L472.7 1575.8L473.2 1571.7L473.7 1577.2L474.2 1571.5L474.7 1576.3L475.2 1572.1L475.7 1576.1L476.2 1570.9L476.7 1574.3L477.2 1570.5L477.7 1573.6L478.2 1571.0L478.7 1573.3L479.2 1569.4L479.8 1575.1L480.3 1569.3L480.8 1574.6L481.3 1568.9L481.8 1573.3L482.3 1568.4L482.8 1572.7L483.3 1566.7L483.8 1571.7L484.3 1568.1L484.8 1572.2L485.3 1568.7L485.8 1572.0L486.3 1568.7L486.9 1574.3L487.4 1568.5L487.9 1572.4L488.4 1568.7L488.9 1571.0L489.4 1568.4L489.9 1571.4L490.4 1567.6L490.9 1574.9L491.4 1566.9L491.9 1572.4L492.4 1566.2L492.9 1571.7L493.4 1566.5L494.0 1572.2L494.5 1566.6L495.0 1571.6L495.5 1566.9L496.0 1570.6L496.5 1565.2L497.0 1570.6L497.5 1567.3L498.0 1571.4L498.5 1565.3L499.0 1570.7L499.5 1566.5L500.0 1570.9L500.5 1567.0L501.0 1570.9L501.6 1567.0L502.1 1571.8L502.6 1564.3L503.1 1570.5L503.6 1565.6L504.1 1570.5L504.6 1564.9L505.1 1570.2L505.6 1566.3L506.1 1570.0L506.6 1565.1L507.1 1572.1L507.7 1568.2L508.2 1573.1L508.7 1568.8L509.2 1572.7L509.7 1570.0L510.2 1574.0L510.7 1569.9L511.2 1575.4L511.7 1569.0L512.2 1574.1L512.8 1570.0L513.3 1575.0L513.8 1569.9L514.3 1575.5L514.8 1571.5L515.3 1576.7L515.8 1571.9L516.3 1576.9L516.8 1572.0L517.3 1577.3L517.9 1572.9L518.4 1577.8L518.9 1572.2L519.4 1577.2L519.9 1572.3L520.4 1576.7L520.9 1572.0L521.4 1576.4L521.9 1572.5L522.4 1576.4L522.9 1570.5L523.4 1575.2L523.9 1568.5L524.4 1575.2L524.9 1570.8L525.4 1575.1L525.9 1569.8L526.4 1574.6L526.9 1571.0L527.4 1574.1L527.9 1570.6L528.5 1574.9L529.0 1570.8L529.5 1574.9L530.0 1571.1L530.5 1574.5L531.0 1571.1L531.5 1573.4L532.0 1569.4L532.5 1573.4L533.0 1570.0L533.5 1573.4L534.0 1570.1L534.5 1573.2L535.0 1569.4L535.5 1572.2L536.1 1568.4L536.6 1572.1L537.1 1567.8L537.6 1574.1L538.1 1568.1L538.6 1572.7L539.1 1567.2L539.6 1572.7L540.1 1568.2L540.6 1572.4L541.2 1567.4L541.7 1572.1L542.2 1566.8L542.7 1572.8L543.2 1567.0L543.7 1571.7L544.2 1567.4L544.7 1571.6L545.2 1567.7L545.7 1572.2L546.2 1566.3L546.7 1573.9L547.3 1568.9L547.8 1572.4L548.3 1569.1L548.8 1575.1L549.3 1569.0L549.8 1575.0L550.3 1570.4L550.8 1574.0L551.3 1570.7L551.8 1576.3L552.3 1570.6L552.8 1575.0L553.3 1571.6L553.8 1576.7L554.3 1573.3L554.8 1576.7L555.3 1572.5L555.8 1575.9L556.3 1572.1L556.8 1576.7L557.3 1571.4L557.9 1575.0L558.4 1571.6L558.9 1574.8L559.4 1571.5L559.9 1576.1L560.4 1571.0L560.9 1576.7L561.4 1570.7L561.9 1575.8L562.4 1571.2L562.9 1576.6L563.4 1570.9L563.9 1576.2L564.4 1570.8L564.9 1575.8L565.4 1570.3L565.9 1574.4L566.4 1570.9L566.9 1575.9L567.4 1570.9L567.9 1574.8L568.5 1570.7L569.0 1574.1L569.5 1569.8L570.0 1574.1L570.5 1569.6L571.0 1575.8L571.5 1570.6L572.0 1575.2L572.5 1569.6L573.0 1574.2L573.5 1569.5L574.0 1573.8L574.5 1568.9L575.0 1573.1L575.5 1568.9L576.0 1572.1L576.5 1568.8L577.0 1573.3L577.6 1568.0L578.1 1575.0L578.6 1570.7L579.1 1573.8L579.6 1570.2L580.1 1574.7L580.6 1570.4L581.1 1575.3L581.6 1571.6L582.1 1575.4L582.7 1570.0L583.2 1575.3L583.7 1569.9L584.2 1576.2L584.7 1569.7L585.2 1575.3L585.7 1571.1L586.2 1574.5L586.7 1570.7L587.2 1576.2L587.8 1571.6L588.3 1576.6L588.8 1571.2L589.3 1575.4L589.8 1572.3L590.3 1576.3L590.8 1572.1L591.3 1576.8L591.8 1572.3L592.3 1576.9L592.8 1571.5L593.3 1576.1L593.8 1571.8L594.3 1576.0L594.8 1571.1L595.3 1576.9L595.8 1571.5L596.3 1575.9L596.8 1572.1L597.3 1574.8L597.9 1569.2L598.4 1574.3L598.9 1570.0L599.4 1573.7L599.9 1569.6L600.4 1573.7L600.9 1569.4L601.4 1573.2L601.9 1569.4L602.4 1573.3L602.9 1568.2L603.4 1573.0" fill="none" stroke="#f00" stroke-width="2.4" stroke-linejoin="round"/>
<rect x="126.8" y="1517.1" width="600.5" height="534.7" fill="none" stroke="#000" stroke-width="3.7"/>
<text x="126.8" y="2082.2" font-family='"Liberation Sans", sans-serif' font-size="33.7" text-anchor="middle">0</text>
<text x="260.2" y="2082.2" font-family='"Liberation Sans", sans-serif' font-size="33.7" text-anchor="middle">20</text>
<text x="393.7" y="2082.2" font-family='"Liberation Sans", sans-serif' font-size="33.7" text-anchor="middle">40</text>
<text x="527.1" y="2082.2" font-family='"Liberation Sans", sans-serif' font-size="33.7" text-anchor="middle">60</text>
<text x="660.6" y="2082.2" font-family='"Liberation Sans", sans-serif' font-size="33.7" text-anchor="middle">80</text>
<text x="120.3" y="2063.7" font-family='"Liberation Sans", sans-serif' font-size="33.7" text-anchor="end">0</text>
<text x="120.3" y="1956.8" font-family='"Liberation Sans", sans-serif' font-size="33.7" text-anchor="end">0.1</text>
<text x="120.3" y="1849.8" font-family='"Liberation Sans", sans-serif' font-size="33.7" text-anchor="end">0.2</text>
<text x="120.3" y="1742.9" font-family='"Liberation Sans", sans-serif' font-size="33.7" text-anchor="end">0.3</text>
<text x="120.3" y="1635.9" font-family='"Liberation Sans", sans-serif' font-size="33.7" text-anchor="end">0.4</text>
<text x="120.3" y="1529.0" font-family='"Liberation Sans", sans-serif' font-size="33.7" text-anchor="end">0.5</text>
<text x="427.0" y="2117.4" font-family='"Liberation Sans", sans-serif' font-size="37.2" text-anchor="middle">Time (ps)</text>
<text transform="translate(51.0 1784.5) rotate(-90)" font-family='"Liberation Sans", sans-serif' font-size="37.2" text-anchor="middle">q<tspan font-size="26.4" dy="16">tet</tspan><tspan dy="-16">, q</tspan><tspan font-size="26.4" dy="16">hex</tspan></text>
</g>
<g id="panel-f">
<path d="M994.2 2046.2v-7.0M994.2 1518.4v7.0M1060.1 2046.2v-13.0M1060.1 1518.4v13.0M1126.0 2046.2v-7.0M1126.0 1518.4v7.0M1191.9 2046.2v-13.0M1191.9 1518.4v13.0M1257.9 2046.2v-7.0M1257.9 1518.4v7.0M1323.8 2046.2v-13.0M1323.8 1518.4v13.0M1389.7 2046.2v-7.0M1389.7 1518.4v7.0M1455.6 2046.2v-13.0M1455.6 1518.4v13.0M928.3 1993.4h7.0M1521.5 1993.4h-7.0M928.3 1940.6h13.0M1521.5 1940.6h-13.0M928.3 1887.9h7.0M1521.5 1887.9h-7.0M928.3 1835.1h13.0M1521.5 1835.1h-13.0M928.3 1782.3h7.0M1521.5 1782.3h-7.0M928.3 1729.5h13.0M1521.5 1729.5h-13.0M928.3 1676.7h7.0M1521.5 1676.7h-7.0M928.3 1624.0h13.0M1521.5 1624.0h-13.0M928.3 1571.2h7.0M1521.5 1571.2h-7.0" stroke="#000" stroke-width="1.7" fill="none"/>
<path d="M935.2 1871.2L935.7 1872.6L936.2 1871.8L936.7 1873.1L937.2 1872.7L937.6 1873.8L938.1 1873.5L938.6 1874.5L939.1 1874.4L939.6 1875.3L940.1 1875.1L940.6 1876.1L941.1 1875.8L941.6 1877.0L942.1 1876.6L942.6 1877.9L943.1 1877.3L943.6 1878.0L944.2 1877.4L944.7 1878.4L945.2 1877.6L945.7 1878.5L946.3 1877.8L946.8 1878.7L947.3 1878.1L947.8 1879.0L948.3 1878.5L948.9 1879.3L949.4 1878.8L949.9 1879.6L950.4 1879.0L950.9 1880.4L951.4 1880.2L951.9 1881.6L952.4 1881.3L952.9 1882.8L953.4 1882.8L953.8 1884.0L954.3 1884.0L954.8 1885.2L955.3 1885.3L955.8 1886.5L956.3 1886.5L956.8 1887.8L957.3 1887.4L957.8 1889.1L958.2 1888.8L958.7 1890.0L959.2 1889.8L959.7 1890.8L960.2 1890.4L960.7 1891.5L961.2 1891.2L961.6 1892.3L962.1 1892.2L962.6 1893.3L963.1 1893.1L963.6 1894.2L964.1 1893.9L964.5 1895.1L965.0 1894.6L965.5 1896.1L966.0 1895.2L966.5 1896.8L967.0 1896.4L967.5 1897.5L967.9 1897.1L968.4 1898.3L968.9 1897.1L969.4 1897.6L969.9 1896.4L970.4 1896.6L970.9 1895.5L971.4 1896.1L971.9 1895.0L972.4 1895.1L972.9 1893.7L973.4 1894.3L973.9 1893.2L974.4 1893.4L974.9 1892.1L975.4 1892.7L975.9 1891.6L976.4 1892.2L976.9 1891.0L977.4 1891.4L978.0 1890.4L978.5 1891.1L979.0 1890.2L979.5 1890.5L980.1 1889.4L980.6 1889.7L981.1 1888.8L981.6 1889.3L982.2 1888.3L982.7 1888.6L983.2 1888.2L983.7 1889.5L984.3 1888.9L984.8 1890.4L985.3 1889.6L985.9 1890.7L986.4 1890.1L986.9 1891.2L987.4 1890.7L988.0 1891.7L988.5 1891.4L989.0 1892.7L989.5 1891.7L990.0 1893.4L990.4 1893.5L990.9 1894.7L991.3 1894.9L991.8 1896.7L992.2 1896.6L992.7 1898.1L993.2 1898.4L993.6 1899.8L994.1 1900.0L994.5 1901.4L995.0 1901.3L995.4 1903.1L995.9 1902.9L996.4 1904.2L996.9 1904.0L997.3 1905.1L997.8 1904.8L998.3 1906.4L998.8 1906.0L999.3 1907.3L999.7 1906.9L1000.2 1908.4L1000.7 1908.3L1001.2 1909.5L1001.7 1909.1L1002.2 1910.1L1002.7 1909.9L1003.2 1910.9L1003.6 1910.6L1004.1 1911.6L1004.6 1911.2L1005.1 1912.2L1005.6 1911.9L1006.1 1912.8L1006.6 1912.3L1007.1 1913.3L1007.6 1913.0L1008.1 1913.8L1008.6 1913.3L1009.1 1914.4L1009.6 1913.7L1010.1 1914.4L1010.6 1913.7L1011.2 1914.5L1011.7 1913.4L1012.2 1913.9L1012.7 1913.2L1013.2 1914.0L1013.7 1913.3L1014.2 1913.9L1014.8 1912.9L1015.3 1913.6L1015.8 1912.9L1016.3 1913.4L1016.8 1912.1L1017.3 1913.1L1017.8 1912.4L1018.4 1913.0L1018.9 1912.2L1019.4 1912.9L1019.9 1912.1L1020.4 1913.0L1020.9 1912.2L1021.5 1912.8L1022.0 1912.0L1022.5 1912.5L1023.0 1911.6L1023.5 1912.2L1024.0 1911.4L1024.5 1912.1L1025.1 1911.3L1025.6 1911.9L1026.1 1911.2L1026.6 1911.8L1027.1 1911.2L1027.6 1911.9L1028.1 1910.9L1028.7 1911.8L1029.2 1911.2L1029.7 1912.2L1030.3 1911.7L1030.8 1912.6L1031.3 1912.0L1031.9 1912.7L1032.4 1912.4L1032.9 1913.3L1033.5 1913.0L1034.0 1913.8L1034.5 1913.1L1035.0 1914.2L1035.5 1914.2L1036.0 1915.3L1036.5 1915.0L1037.0 1916.4L1037.5 1916.4L1037.9 1917.4L1038.4 1917.3L1038.9 1918.5L1039.4 1918.5L1039.9 1919.7L1040.4 1919.2L1040.9 1921.0L1041.4 1920.7L1041.9 1922.1L1042.3 1922.0L1042.9 1923.1L1043.4 1922.6L1043.9 1923.7L1044.4 1923.3L1044.9 1924.4L1045.4 1924.1L1046.0 1925.1L1046.5 1924.3L1047.0 1925.6L1047.5 1925.4L1048.0 1926.5L1048.5 1925.9L1049.0 1926.9L1049.6 1926.5L1050.1 1927.5L1050.6 1927.2L1051.1 1928.1L1051.6 1927.6L1052.1 1928.7L1052.6 1928.0L1053.2 1928.7L1053.7 1928.0L1054.2 1929.1L1054.7 1928.6L1055.2 1929.4L1055.7 1928.7L1056.2 1929.4L1056.8 1928.8L1057.3 1929.6L1057.8 1928.9L1058.3 1929.9L1058.8 1928.9L1059.3 1929.8L1059.8 1929.3L1060.4 1930.2L1060.9 1929.4L1061.4 1930.2L1061.9 1929.2L1062.4 1930.2L1063.0 1929.8L1063.5 1930.3L1064.0 1929.4L1064.6 1930.6L1065.1 1929.9L1065.6 1930.5L1066.2 1929.6L1066.7 1930.8L1067.2 1929.8L1067.8 1930.4L1068.3 1930.1L1068.8 1931.6L1069.2 1930.9L1069.7 1932.2L1070.2 1931.6L1070.7 1932.8L1071.2 1932.3L1071.7 1933.3L1072.2 1932.9L1072.7 1933.9L1073.2 1933.8L1073.6 1934.7L1074.1 1934.5L1074.6 1935.7L1075.1 1935.5L1075.6 1936.8L1076.1 1936.6L1076.5 1937.8L1077.0 1937.7L1077.4 1939.2L1077.9 1939.4L1078.4 1940.7L1078.8 1940.6L1079.3 1941.9L1079.7 1942.0L1080.2 1943.4L1080.7 1943.4L1081.1 1944.7L1081.6 1944.7L1082.0 1946.3L1082.5 1946.2L1083.0 1947.8L1083.4 1947.4L1083.8 1949.3L1084.2 1949.9L1084.6 1951.9L1085.0 1952.4L1085.4 1954.2L1085.8 1954.5L1086.2 1956.6L1086.5 1956.9L1086.9 1958.9L1087.3 1959.1L1087.7 1961.1L1088.1 1961.3L1088.5 1963.3L1088.9 1963.6L1089.3 1965.7L1089.7 1965.8L1090.1 1968.0L1090.5 1968.2L1090.9 1970.0L1091.2 1970.6L1091.6 1972.2L1092.0 1972.4L1092.4 1974.2L1092.8 1974.7L1093.2 1976.4L1093.6 1976.4L1094.0 1978.3L1094.4 1978.5L1094.8 1980.2L1095.2 1980.6L1095.6 1981.9L1096.1 1981.5L1096.6 1983.1L1097.1 1982.9L1097.6 1984.2L1098.0 1983.9L1098.5 1985.1L1099.0 1984.8L1099.5 1986.0L1100.0 1985.8L1100.4 1987.0L1101.0 1986.5L1101.5 1987.5L1102.0 1987.3L1102.5 1988.2L1103.1 1987.8L1103.6 1988.8L1104.1 1988.3L1104.6 1989.3L1105.2 1988.9L1105.7 1990.2L1106.2 1989.3L1106.7 1990.3L1107.3 1989.9L1107.8 1990.9L1108.3 1990.3L1108.8 1991.3L1109.4 1990.7L1109.9 1991.3L1110.4 1991.0L1110.9 1991.8L1111.4 1991.1L1111.9 1992.3L1112.4 1991.3L1112.9 1992.0L1113.4 1991.7L1113.9 1992.5L1114.5 1991.7L1115.0 1992.8L1115.5 1992.2L1116.0 1993.3L1116.5 1992.4L1117.0 1993.1L1117.5 1992.6L1118.0 1993.5L1118.5 1992.8L1119.0 1993.7L1119.6 1993.0L1120.1 1994.0L1120.6 1993.2L1121.1 1994.3L1121.6 1993.6L1122.1 1994.6L1122.6 1994.0L1123.1 1994.8L1123.6 1994.2L1124.1 1995.3L1124.6 1994.8L1125.1 1995.6L1125.6 1995.0L1126.1 1995.7L1126.6 1995.1L1127.1 1995.7L1127.6 1995.3L1128.1 1996.4L1128.6 1995.9L1129.1 1996.7L1129.7 1996.1L1130.2 1997.1L1130.7 1996.6L1131.2 1997.3L1131.7 1996.5L1132.2 1997.6L1132.7 1996.8L1133.2 1998.0L1133.7 1997.4L1134.2 1998.0L1134.7 1997.1L1135.3 1997.7L1135.8 1996.4L1136.3 1997.0L1136.8 1996.0L1137.4 1996.5L1137.9 1995.9L1138.4 1996.3L1138.9 1995.4L1139.5 1996.3L1140.0 1994.7L1140.5 1995.6L1141.0 1994.6L1141.6 1995.2L1142.1 1994.3L1142.6 1995.1L1143.1 1994.2L1143.6 1995.1L1144.2 1994.1L1144.7 1994.9L1145.2 1994.2L1145.7 1994.7L1146.2 1994.1L1146.7 1994.5L1147.2 1993.7L1147.8 1994.5L1148.3 1993.2L1148.8 1994.5L1149.3 1993.5L1149.8 1994.2L1150.3 1993.4L1150.8 1994.1L1151.4 1993.3L1151.9 1994.0L1152.4 1993.5L1152.9 1994.4L1153.4 1993.5L1154.0 1994.7L1154.5 1993.9L1155.0 1994.7L1155.5 1994.0L1156.0 1995.3L1156.6 1994.4L1157.1 1995.3L1157.6 1994.6L1158.1 1995.5L1158.7 1994.8L1159.2 1995.7L1159.7 1995.2L1160.2 1996.4L1160.7 1996.2L1161.1 1997.2L1161.6 1997.3L1162.1 1998.1L1162.6 1997.9L1163.1 1999.1L1163.6 1998.9L1164.0 2000.1L1164.5 2000.0L1165.0 2001.1L1165.5 2001.0L1166.0 2002.1L1166.4 2001.9L1166.9 2003.2L1167.4 2002.8L1167.9 2004.1L1168.4 2003.8L1168.9 2005.4L1169.4 2005.0L1169.9 2006.4L1170.4 2006.1L1170.9 2007.5L1171.4 2007.2L1171.9 2008.7L1172.4 2008.2L1172.9 2009.7L1173.4 2009.4L1173.9 2010.9L1174.4 2010.7L1174.8 2011.7L1175.3 2011.6L1175.9 2012.2L1176.4 2011.3L1176.9 2011.6L1177.4 2011.0L1177.9 2011.3L1178.5 2010.3L1179.0 2010.6L1179.5 2009.9L1180.0 2010.3L1180.6 2009.0L1181.1 2009.9L1181.6 2008.9L1182.1 2009.2L1182.6 2008.2L1183.2 2008.5L1183.7 2007.7L1184.2 2008.3L1184.7 2007.1L1185.3 2007.8L1185.8 2006.8L1186.3 2007.5L1186.8 2006.3L1187.3 2007.2L1187.9 2006.0L1188.4 2006.7L1188.9 2005.5L1189.4 2006.1L1189.9 2005.2L1190.5 2005.9L1191.0 2005.1L1191.5 2005.8L1192.0 2005.0L1192.5 2005.7L1193.1 2005.2L1193.6 2006.0L1194.1 2005.4L1194.6 2006.2L1195.1 2005.5L1195.6 2006.1L1196.2 2005.3L1196.7 2006.1L1197.2 2005.5L1197.7 2006.2L1198.2 2005.5L1198.8 2006.1L1199.3 2005.6L1199.8 2006.2L1200.3 2005.7L1200.8 2006.4L1201.3 2005.7L1201.9 2006.8L1202.4 2006.0L1202.9 2006.7L1203.4 2006.3L1203.9 2007.0L1204.5 2006.3L1205.0 2007.2L1205.5 2006.4L1206.0 2007.3L1206.5 2006.5L1207.1 2007.5L1207.6 2006.7L1208.1 2007.4L1208.6 2007.0L1209.1 2007.8L1209.7 2006.8L1210.2 2007.6L1210.7 2007.1L1211.2 2007.9L1211.7 2007.2L1212.2 2007.9L1212.8 2007.2L1213.3 2007.9L1213.8 2006.6L1214.3 2007.9L1214.8 2007.1L1215.3 2007.6L1215.8 2007.0L1216.3 2007.6L1216.8 2006.7L1217.3 2007.2L1217.9 2006.5L1218.4 2007.3L1218.9 2006.5L1219.4 2007.3L1219.9 2006.6L1220.4 2007.3L1220.9 2006.7L1221.4 2007.3L1221.9 2006.5L1222.4 2007.1L1223.0 2006.3L1223.5 2007.0L1224.0 2005.9L1224.5 2007.1L1225.0 2006.1L1225.5 2006.9L1226.0 2006.3L1226.5 2006.9L1227.0 2005.8L1227.6 2006.9L1228.1 2006.0L1228.6 2006.9L1229.1 2005.9L1229.6 2006.7L1230.1 2005.9L1230.6 2006.8L1231.1 2006.1L1231.6 2006.7L1232.2 2005.8L1232.7 2006.6L1233.2 2006.0L1233.7 2006.6L1234.2 2006.0L1234.7 2006.7L1235.2 2005.9L1235.7 2006.5L1236.2 2005.9L1236.7 2006.4L1237.2 2005.7L1237.7 2006.4L1238.2 2005.9L1238.7 2006.6L1239.3 2006.0L1239.8 2006.7L1240.3 2006.0L1240.8 2006.7L1241.3 2005.9L1241.8 2006.8L1242.3 2006.0L1242.8 2006.6L1243.3 2006.1L1243.8 2006.7L1244.3 2005.8L1244.8 2006.8L1245.3 2005.9L1245.9 2006.8L1246.4 2006.1L1246.9 2006.8L1247.4 2005.8L1247.9 2006.6L1248.4 2005.6L1248.9 2006.6L1249.4 2006.1L1249.9 2006.8L1250.4 2006.0L1250.9 2006.8L1251.4 2006.0L1251.9 2006.7L1252.4 2005.8L1252.9 2006.5L1253.4 2005.9L1253.9 2007.0L1254.4 2006.0L1254.9 2006.7L1255.4 2006.0L1255.9 2007.0L1256.5 2006.3L1257.0 2007.0L1257.5 2006.2L1258.0 2007.0L1258.5 2005.9L1259.0 2007.0L1259.5 2006.3L1260.0 2006.8L1260.5 2006.1L1261.0 2006.6L1261.5 2005.8L1262.0 2006.7L1262.5 2005.9L1263.0 2006.7L1263.5 2006.0L1264.0 2006.7L1264.5 2005.9L1265.0 2006.7L1265.5 2005.9L1266.0 2006.9L1266.5 2005.8L1267.1 2006.8L1267.6 2006.1L1268.1 2006.7L1268.6 2006.1L1269.1 2006.8L1269.6 2006.1L1270.1 2006.7L1270.6 2005.8L1271.2 2006.3L1271.7 2005.5L1272.2 2006.4L1272.7 2005.5L1273.2 2006.3L1273.7 2005.5L1274.2 2006.3L1274.7 2005.7L1275.3 2006.3L1275.8 2005.7L1276.3 2006.3L1276.8 2005.6L1277.3 2006.2L1277.8 2005.1L1278.3 2006.2L1278.8 2005.5L1279.4 2006.4L1279.9 2005.6L1280.4 2006.5L1280.9 2005.7L1281.4 2006.5L1281.9 2005.6L1282.5 2006.6L1283.0 2005.8L1283.5 2006.8L1284.0 2005.5L1284.5 2006.4L1285.0 2005.6L1285.5 2006.5L1286.1 2005.9L1286.5 2007.0L1287.0 2006.6L1287.5 2008.2L1288.0 2007.7L1288.5 2009.0L1289.0 2008.6L1289.5 2009.8L1290.0 2009.4L1290.5 2010.6L1290.9 2010.5L1291.4 2011.5L1291.9 2011.3L1292.4 2012.2L1292.9 2011.7L1293.4 2013.1L1293.9 2012.7L1294.4 2014.0L1294.9 2013.4L1295.3 2014.8L1295.8 2014.1L1296.3 2015.1L1296.8 2014.5L1297.3 2015.7L1297.8 2015.3L1298.3 2016.4L1298.8 2016.1L1299.3 2017.3L1299.7 2017.0L1300.2 2018.3L1300.7 2018.3L1301.2 2019.5L1301.7 2019.6L1302.2 2020.5L1302.7 2020.2L1303.2 2021.7L1303.7 2021.4L1304.1 2022.8L1304.6 2022.7L1305.1 2024.0L1305.6 2023.7L1306.1 2025.1L1306.6 2024.8L1307.1 2025.7L1307.6 2025.3L1308.1 2026.7L1308.5 2026.0L1309.0 2027.1L1309.5 2026.9L1310.0 2028.3L1310.5 2027.7L1311.0 2028.5L1311.5 2028.3L1312.0 2029.4L1312.5 2029.0L1312.9 2030.0L1313.4 2029.4L1314.0 2030.3L1314.5 2029.5L1315.0 2030.3L1315.5 2029.9L1316.0 2030.7L1316.5 2029.9L1317.0 2030.5L1317.6 2029.9L1318.1 2030.8L1318.6 2030.1L1319.1 2030.9L1319.6 2030.4L1320.1 2031.0L1320.6 2030.6L1321.2 2031.5L1321.7 2030.6L1322.2 2031.9L1322.7 2030.6L1323.2 2031.7L1323.7 2030.8L1324.3 2031.9L1324.8 2030.8L1325.3 2031.6L1325.8 2030.7L1326.3 2031.9L1326.8 2030.8L1327.4 2031.8L1327.9 2031.0L1328.4 2031.8L1328.9 2031.2L1329.4 2031.8L1329.9 2030.9L1330.5 2031.6L1331.0 2030.8L1331.5 2031.4L1332.0 2030.5L1332.5 2031.4L1333.1 2030.8L1333.6 2031.8L1334.1 2030.6L1334.6 2031.8L1335.1 2031.0L1335.6 2031.7L1336.2 2030.8L1336.7 2032.0L1337.2 2031.4L1337.7 2032.0L1338.2 2031.4L1338.7 2032.3L1339.3 2031.7L1339.8 2032.4L1340.3 2031.8L1340.8 2032.6L1341.3 2031.9L1341.8 2032.4L1342.3 2031.4L1342.8 2032.2L1343.4 2031.5L1343.9 2032.1L1344.4 2031.6L1344.9 2032.3L1345.4 2031.4L1345.9 2032.1L1346.4 2031.3L1346.9 2031.9L1347.4 2031.2L1347.9 2032.0L1348.4 2031.2L1348.9 2032.0L1349.4 2031.1L1349.9 2031.8L1350.5 2031.0L1351.0 2031.8L1351.5 2030.9L1352.0 2031.6L1352.5 2031.1L1353.0 2031.5L1353.5 2030.9L1354.0 2031.8L1354.5 2030.9L1355.0 2031.8L1355.5 2031.2L1356.0 2031.9L1356.6 2031.6L1357.1 2032.6L1357.6 2031.4L1358.1 2032.2L1358.6 2031.7L1359.1 2032.4L1359.6 2032.0L1360.1 2032.7L1360.7 2032.0L1361.2 2032.7L1361.7 2032.1L1362.2 2033.0L1362.7 2032.2L1363.2 2033.3L1363.7 2032.6L1364.2 2033.1L1364.8 2032.6L1365.3 2033.5L1365.8 2032.4L1366.3 2033.6L1366.8 2032.8L1367.3 2034.0L1367.8 2033.0L1368.3 2033.9L1368.9 2033.1L1369.4 2034.0L1369.9 2033.2L1370.4 2034.1L1370.9 2033.5L1371.4 2034.1L1371.9 2033.4L1372.4 2034.0L1372.9 2033.4L1373.5 2034.1L1374.0 2033.6L1374.5 2034.2L1375.0 2033.6L1375.5 2034.3L1376.0 2033.6L1376.5 2034.9L1377.0 2033.6L1377.6 2034.6L1378.1 2033.9L1378.6 2034.5L1379.1 2033.7L1379.6 2034.6L1380.1 2034.0L1380.6 2034.5L1381.1 2033.6L1381.6 2034.6L1382.1 2034.2L1382.7 2034.7L1383.2 2034.3L1383.7 2035.3L1384.2 2034.6L1384.7 2035.6L1385.2 2034.5L1385.7 2035.3L1386.2 2034.7L1386.7 2035.6L1387.2 2034.8L1387.8 2035.4L1388.3 2034.8L1388.8 2035.6L1389.3 2035.1L1389.8 2035.8L1390.3 2034.9L1390.8 2036.2L1391.3 2035.4L1391.8 2036.1L1392.3 2035.4L1392.8 2036.2L1393.4 2035.8L1393.9 2036.9L1394.4 2036.1L1394.9 2036.7L1395.4 2035.9L1395.9 2036.8L1396.4 2036.2L1396.9 2037.3L1397.4 2036.5L1397.9 2037.2L1398.4 2036.6L1398.9 2037.6L1399.4 2036.7L1400.0 2037.3L1400.5 2036.6L1401.0 2037.7L1401.5 2036.8L1402.0 2037.5L1402.5 2037.0L1403.0 2037.7L1403.5 2037.2L1404.0 2037.9L1404.5 2037.3L1405.0 2038.2L1405.5 2037.4L1406.0 2038.2L1406.5 2037.6L1407.0 2038.2L1407.5 2037.4L1408.1 2038.4L1408.6 2037.6L1409.1 2038.4L1409.6 2037.8L1410.1 2038.6L1410.6 2037.9L1411.1 2038.5L1411.6 2037.7L1412.1 2038.5L1412.6 2037.7L1413.1 2038.4L1413.6 2037.7L1414.1 2038.5L1414.6 2037.9L1415.1 2038.8L1415.6 2037.9L1416.1 2038.6L1416.6 2037.9L1417.1 2038.5L1417.6 2037.9L1418.1 2038.8L1418.6 2037.9L1419.1 2038.7L1419.6 2038.0L1420.1 2039.1L1420.7 2037.9L1421.2 2038.7L1421.7 2037.7L1422.2 2038.4L1422.7 2037.8L1423.2 2038.5L1423.7 2037.7L1424.2 2038.6L1424.7 2037.9L1425.2 2038.5L1425.7 2037.9L1426.2 2038.5L1426.7 2037.5L1427.2 2038.5L1427.7 2037.6L1428.2 2038.5L1428.7 2037.5L1429.2 2038.4L1429.7 2037.5L1430.2 2038.4L1430.7 2037.7L1431.2 2038.4L1431.7 2037.7L1432.2 2038.4L1432.7 2037.6L1433.2 2038.5L1433.7 2037.7L1434.2 2038.7L1434.7 2038.1L1435.2 2038.8L1435.8 2038.2L1436.3 2038.9L1436.8 2037.8L1437.3 2038.6L1437.8 2038.1L1438.3 2038.9L1438.8 2038.2L1439.3 2038.9L1439.8 2038.2L1440.3 2038.9L1440.8 2038.2L1441.3 2038.8L1441.9 2038.3L1442.4 2039.1L1442.9 2038.4L1443.4 2038.9L1443.9 2038.3L1444.4 2039.1L1444.9 2038.5L1445.4 2039.2L1445.9 2038.6L1446.4 2039.3L1446.9 2038.6L1447.4 2039.2L1447.9 2038.7L1448.4 2039.4L1448.9 2038.4L1449.4 2039.2L1450.0 2038.4L1450.5 2039.1L1451.0 2038.7L1451.5 2039.2L1452.0 2038.5L1452.5 2039.3L1453.0 2038.5L1453.5 2039.2L1454.0 2038.4L1454.5 2039.4L1455.0 2038.2L1455.5 2038.9L1456.0 2038.1L1456.5 2038.9L1457.0 2038.3L1457.5 2038.9L1458.0 2038.3L1458.5 2039.1L1459.0 2038.1L1459.5 2039.0L1460.0 2038.3L1460.5 2038.9L1461.0 2038.1L1461.5 2038.5L1462.0 2038.1L1462.5 2038.8L1463.0 2038.2L1463.5 2039.1L1464.0 2038.3L1464.5 2038.8L1465.0 2037.8L1465.6 2038.8L1466.1 2038.0L1466.6 2038.7L1467.1 2038.1L1467.6 2038.7L1468.1 2038.1L1468.6 2038.8L1469.1 2038.0L1469.6 2038.9L1470.1 2038.2L1470.6 2038.6L1471.1 2038.0L1471.6 2038.6L1472.1 2037.9L1472.7 2038.8L1473.2 2038.0L1473.7 2038.5L1474.2 2037.7L1474.7 2038.5L1475.2 2037.7L1475.7 2039.0L1476.2 2038.0L1476.7 2038.8L1477.2 2037.8L1477.7 2039.0L1478.2 2038.4L1478.8 2039.0L1479.3 2038.3L1479.8 2039.1L1480.3 2038.4L1480.9 2039.1L1481.4 2038.4L1481.9 2039.1L1482.4 2038.4L1482.9 2039.3L1483.5 2038.4L1484.0 2039.3L1484.5 2038.6L1485.0 2039.4L1485.5 2038.5" fill="none" stroke="#000" stroke-width="2.3" stroke-linejoin="round"/>
<path d="M928.6 1871.5L935.2 1864.9L941.8 1871.5L935.2 1878.1Z" fill="none" stroke="#000" stroke-width="2.3"/><path d="M961.7 1897.8L968.3 1891.2L974.9 1897.8L968.3 1904.4Z" fill="none" stroke="#000" stroke-width="2.3"/><path d="M994.8 1909.3L1001.4 1902.7L1008.0 1909.3L1001.4 1915.9Z" fill="none" stroke="#000" stroke-width="2.3"/><path d="M1027.8 1913.5L1034.4 1906.9L1041.0 1913.5L1034.4 1920.1Z" fill="none" stroke="#000" stroke-width="2.3"/><path d="M1060.9 1930.2L1067.5 1923.6L1074.1 1930.2L1067.5 1936.8Z" fill="none" stroke="#000" stroke-width="2.3"/><path d="M1094.0 1987.0L1100.6 1980.4L1107.2 1987.0L1100.6 1993.6Z" fill="none" stroke="#000" stroke-width="2.3"/><path d="M1127.1 1997.7L1133.7 1991.1L1140.3 1997.7L1133.7 2004.3Z" fill="none" stroke="#000" stroke-width="2.3"/><path d="M1160.2 2002.4L1166.8 1995.8L1173.4 2002.4L1166.8 2009.0Z" fill="none" stroke="#000" stroke-width="2.3"/><path d="M1193.2 2006.1L1199.8 1999.5L1206.4 2006.1L1199.8 2012.7Z" fill="none" stroke="#000" stroke-width="2.3"/><path d="M1226.3 2006.3L1232.9 1999.7L1239.5 2006.3L1232.9 2012.9Z" fill="none" stroke="#000" stroke-width="2.3"/><path d="M1259.4 2006.6L1266.0 2000.0L1272.6 2006.6L1266.0 2013.2Z" fill="none" stroke="#000" stroke-width="2.3"/><path d="M1292.5 2016.8L1299.1 2010.2L1305.7 2016.8L1299.1 2023.4Z" fill="none" stroke="#000" stroke-width="2.3"/><path d="M1325.6 2031.1L1332.2 2024.5L1338.8 2031.1L1332.2 2037.7Z" fill="none" stroke="#000" stroke-width="2.3"/><path d="M1358.6 2033.1L1365.2 2026.5L1371.8 2033.1L1365.2 2039.7Z" fill="none" stroke="#000" stroke-width="2.3"/><path d="M1391.7 2037.0L1398.3 2030.4L1404.9 2037.0L1398.3 2043.6Z" fill="none" stroke="#000" stroke-width="2.3"/><path d="M1424.8 2038.0L1431.4 2031.4L1438.0 2038.0L1431.4 2044.6Z" fill="none" stroke="#000" stroke-width="2.3"/><path d="M1457.9 2038.4L1464.5 2031.8L1471.1 2038.4L1464.5 2045.0Z" fill="none" stroke="#000" stroke-width="2.3"/>
<path d="M935.8 1709.7L936.2 1709.6L936.7 1708.1L937.2 1708.2L937.7 1706.4L938.2 1706.5L938.7 1705.0L939.2 1705.2L939.7 1703.6L940.2 1703.6L940.6 1701.8L941.2 1702.3L941.7 1701.2L942.2 1702.2L942.8 1700.9L943.3 1701.8L943.8 1700.3L944.4 1700.8L944.9 1700.0L945.4 1700.9L946.0 1699.5L946.5 1700.5L947.0 1699.5L947.6 1700.1L948.1 1699.1L948.6 1699.8L949.1 1698.8L949.6 1699.2L950.2 1698.0L950.7 1698.6L951.2 1697.4L951.7 1697.9L952.3 1696.9L952.8 1697.9L953.3 1696.7L953.8 1697.2L954.3 1696.1L954.8 1696.3L955.3 1694.5L955.7 1694.6L956.2 1693.2L956.6 1693.1L957.1 1691.7L957.6 1692.0L958.0 1690.3L958.5 1690.5L958.9 1689.0L959.4 1689.2L959.9 1687.8L960.3 1687.8L960.8 1686.4L961.2 1686.6L961.7 1684.8L962.2 1685.2L962.6 1683.7L963.1 1683.9L963.6 1682.5L964.1 1682.6L964.6 1681.0L965.1 1680.9L965.6 1679.5L966.1 1679.8L966.6 1678.6L967.0 1678.8L967.5 1677.1L968.0 1677.4L968.5 1675.9L969.0 1676.2L969.5 1675.3L970.1 1676.2L970.6 1675.6L971.2 1676.5L971.7 1675.9L972.3 1676.8L972.8 1676.2L973.4 1677.3L973.9 1676.3L974.4 1677.7L974.9 1677.3L975.4 1679.0L975.9 1678.9L976.3 1680.2L976.8 1680.0L977.3 1681.7L977.8 1681.4L978.3 1682.7L978.8 1682.7L979.3 1684.5L979.8 1683.7L980.3 1684.9L980.8 1683.9L981.4 1685.2L981.9 1684.3L982.4 1685.3L983.0 1684.6L983.5 1685.6L984.0 1684.9L984.6 1686.0L985.1 1685.2L985.6 1686.2L986.1 1684.7L986.6 1685.2L987.1 1683.6L987.6 1683.9L988.1 1682.7L988.6 1683.0L989.1 1681.7L989.5 1682.0L990.0 1680.4L990.5 1681.1L991.0 1679.6L991.5 1680.0L991.9 1678.4L992.4 1678.4L992.8 1676.2L993.2 1676.3L993.7 1674.3L994.1 1674.5L994.5 1672.8L995.0 1672.4L995.4 1670.3L995.8 1671.1L996.3 1668.9L996.7 1669.1L997.1 1666.9L997.6 1667.0L998.0 1665.1L998.5 1665.3L998.9 1663.2L999.3 1663.3L999.8 1661.9L1000.3 1662.2L1000.8 1661.0L1001.3 1661.1L1001.8 1660.0L1002.3 1660.1L1002.7 1658.8L1003.2 1659.2L1003.7 1657.8L1004.2 1658.3L1004.7 1657.3L1005.2 1657.6L1005.7 1656.0L1006.2 1656.5L1006.7 1655.2L1007.1 1655.7L1007.7 1655.0L1008.2 1656.1L1008.7 1655.4L1009.2 1656.9L1009.8 1655.9L1010.3 1656.8L1010.8 1656.4L1011.3 1657.3L1011.8 1656.9L1012.4 1657.8L1012.9 1657.1L1013.4 1657.9L1013.9 1657.1L1014.4 1658.1L1015.0 1657.5L1015.5 1658.5L1016.0 1657.8L1016.5 1659.0L1017.0 1657.7L1017.5 1659.1L1018.1 1658.4L1018.6 1659.2L1019.1 1658.3L1019.6 1659.8L1020.1 1658.9L1020.6 1659.8L1021.1 1659.0L1021.7 1660.0L1022.2 1659.1L1022.7 1660.3L1023.2 1659.5L1023.7 1660.4L1024.2 1659.5L1024.7 1660.5L1025.3 1659.8L1025.8 1660.8L1026.3 1660.0L1026.9 1661.0L1027.4 1660.3L1027.9 1661.0L1028.4 1660.3L1029.0 1661.3L1029.5 1660.4L1030.0 1661.6L1030.5 1660.6L1031.1 1661.5L1031.6 1660.6L1032.1 1660.9L1032.6 1659.6L1033.1 1660.3L1033.5 1658.5L1034.0 1659.0L1034.5 1657.8L1035.0 1658.3L1035.5 1657.3L1036.0 1657.9L1036.5 1656.6L1037.0 1656.8L1037.5 1655.8L1037.9 1656.3L1038.4 1654.8L1038.9 1655.2L1039.4 1653.9L1039.9 1654.7L1040.4 1653.0L1040.9 1652.9L1041.4 1651.4L1041.9 1651.6L1042.3 1650.3L1042.8 1650.6L1043.3 1649.5L1043.8 1649.4L1044.3 1648.1L1044.8 1648.6L1045.3 1646.7L1045.8 1647.3L1046.3 1645.8L1046.8 1646.6L1047.3 1645.7L1047.8 1646.0L1048.3 1644.9L1048.8 1645.6L1049.3 1644.2L1049.9 1645.8L1050.4 1644.2L1050.9 1644.8L1051.4 1643.8L1051.9 1644.7L1052.4 1643.5L1053.0 1644.0L1053.5 1642.8L1054.0 1643.9L1054.5 1642.5L1055.0 1643.2L1055.5 1642.4L1056.0 1643.0L1056.6 1642.0L1057.1 1643.0L1057.6 1641.8L1058.1 1642.7L1058.6 1641.9L1059.2 1642.7L1059.7 1641.7L1060.2 1642.4L1060.7 1641.4L1061.3 1642.2L1061.8 1641.3L1062.3 1642.3L1062.8 1641.0L1063.3 1642.0L1063.9 1641.0L1064.4 1641.5L1064.9 1640.3L1065.4 1641.1L1065.9 1639.8L1066.5 1640.6L1067.0 1639.4L1067.5 1640.3L1068.0 1639.0L1068.6 1640.0L1069.1 1638.6L1069.6 1639.2L1070.1 1638.2L1070.6 1638.8L1071.2 1637.3L1071.7 1637.9L1072.2 1636.3L1072.7 1636.8L1073.2 1635.2L1073.6 1635.3L1074.1 1634.1L1074.6 1634.8L1075.1 1633.0L1075.6 1633.3L1076.1 1631.8L1076.6 1632.0L1077.1 1630.3L1077.6 1630.6L1078.0 1628.7L1078.5 1629.5L1079.0 1627.5L1079.5 1628.4L1079.9 1626.5L1080.4 1626.2L1080.8 1624.5L1081.2 1624.2L1081.7 1622.4L1082.1 1622.4L1082.6 1620.4L1083.0 1620.3L1083.4 1618.5L1083.9 1618.4L1084.3 1616.4L1084.7 1616.2L1085.2 1614.5L1085.6 1614.3L1086.0 1612.5L1086.5 1612.8L1086.9 1611.0L1087.3 1610.6L1087.7 1608.6L1088.1 1608.6L1088.5 1606.6L1088.9 1606.4L1089.3 1604.8L1089.7 1604.6L1090.1 1602.5L1090.5 1602.3L1090.9 1600.5L1091.2 1600.1L1091.6 1597.8L1092.0 1597.7L1092.4 1595.5L1092.8 1595.6L1093.2 1593.7L1093.6 1593.6L1094.0 1591.3L1094.4 1591.1L1094.8 1589.1L1095.2 1589.2L1095.6 1587.4L1096.1 1587.7L1096.6 1586.0L1097.1 1586.2L1097.6 1584.5L1098.1 1584.8L1098.6 1583.2L1099.1 1583.3L1099.6 1582.1L1100.0 1582.0L1100.5 1580.5L1101.0 1580.4L1101.5 1579.2L1102.1 1579.8L1102.6 1579.0L1103.1 1579.6L1103.6 1578.6L1104.2 1579.5L1104.7 1578.3L1105.2 1578.9L1105.7 1577.7L1106.2 1578.4L1106.8 1577.5L1107.3 1578.3L1107.8 1577.0L1108.3 1577.9L1108.8 1576.6L1109.4 1577.0L1109.9 1576.1L1110.4 1576.8L1110.9 1575.6L1111.5 1576.4L1112.0 1575.4L1112.5 1576.0L1113.0 1575.0L1113.5 1575.6L1114.1 1574.6L1114.6 1575.4L1115.1 1574.5L1115.6 1575.2L1116.1 1573.8L1116.7 1574.4L1117.2 1573.3L1117.7 1574.1L1118.2 1573.4L1118.7 1573.8L1119.2 1572.7L1119.8 1573.5L1120.3 1572.5L1120.8 1573.0L1121.3 1571.9L1121.8 1572.5L1122.3 1571.8L1122.8 1572.4L1123.4 1571.5L1123.9 1572.2L1124.4 1571.1L1124.9 1571.8L1125.4 1571.2L1125.9 1571.8L1126.4 1570.6L1127.0 1571.4L1127.5 1570.4L1128.0 1571.4L1128.5 1570.3L1129.0 1571.4L1129.5 1570.2L1130.1 1570.8L1130.6 1570.1L1131.1 1570.9L1131.6 1570.0L1132.1 1570.8L1132.6 1569.6L1133.1 1570.5L1133.7 1569.6L1134.2 1570.0L1134.7 1569.0L1135.2 1570.0L1135.7 1569.0L1136.2 1569.6L1136.7 1568.7L1137.3 1569.8L1137.8 1569.3L1138.3 1570.0L1138.8 1569.6L1139.3 1570.3L1139.8 1569.8L1140.3 1571.0L1140.9 1570.2L1141.4 1571.6L1141.9 1570.3L1142.4 1571.3L1142.9 1570.7L1143.4 1571.7L1143.9 1571.0L1144.5 1572.0L1145.0 1571.6L1145.5 1572.6L1146.0 1571.8L1146.5 1572.5L1147.0 1571.7L1147.5 1572.7L1148.0 1571.9L1148.6 1572.5L1149.1 1571.9L1149.6 1572.9L1150.1 1571.8L1150.6 1572.9L1151.1 1571.9L1151.6 1572.8L1152.1 1571.9L1152.6 1572.6L1153.1 1572.0L1153.7 1572.8L1154.2 1572.0L1154.7 1573.2L1155.2 1572.3L1155.7 1572.8L1156.2 1572.0L1156.7 1573.0L1157.2 1572.2L1157.7 1573.4L1158.2 1571.9L1158.7 1572.4L1159.2 1571.1L1159.7 1571.3L1160.2 1569.9L1160.7 1570.5L1161.2 1569.0L1161.7 1569.5L1162.1 1568.3L1162.6 1568.5L1163.1 1567.2L1163.6 1567.7L1164.1 1566.2L1164.6 1566.7L1165.1 1565.4L1165.6 1565.7L1166.1 1564.0L1166.5 1564.4L1167.0 1562.9L1167.5 1562.9L1168.0 1561.7L1168.5 1561.8L1169.0 1560.3L1169.5 1560.8L1170.0 1559.5L1170.5 1559.4L1170.9 1558.3L1171.4 1558.5L1171.9 1557.1L1172.4 1557.1L1172.9 1555.6L1173.4 1556.0L1173.9 1554.9L1174.5 1555.9L1175.0 1554.7L1175.5 1556.0L1176.1 1555.0L1176.6 1556.1L1177.1 1555.2L1177.7 1556.5L1178.2 1555.7L1178.7 1556.8L1179.3 1556.0L1179.8 1557.2L1180.3 1556.3L1180.8 1557.4L1181.3 1556.6L1181.8 1558.1L1182.3 1557.4L1182.9 1558.2L1183.4 1557.5L1183.9 1558.9L1184.4 1558.3L1184.9 1559.4L1185.4 1558.6L1185.9 1559.9L1186.5 1559.1L1187.0 1559.9L1187.5 1559.2L1188.0 1560.7L1188.5 1559.9L1189.0 1560.9L1189.5 1560.0L1190.1 1561.2L1190.6 1560.1L1191.1 1561.1L1191.6 1560.1L1192.1 1560.9L1192.6 1560.0L1193.2 1560.5L1193.7 1559.6L1194.2 1560.6L1194.7 1559.9L1195.2 1560.6L1195.7 1559.6L1196.2 1560.5L1196.8 1559.7L1197.3 1560.7L1197.8 1559.7L1198.3 1560.5L1198.8 1559.7L1199.4 1561.1L1200.0 1560.4L1200.5 1561.4L1201.0 1560.4L1201.5 1561.6L1202.0 1560.6L1202.6 1561.7L1203.1 1560.9L1203.6 1561.5L1204.1 1560.7L1204.6 1561.3L1205.1 1560.7L1205.6 1561.4L1206.1 1560.2L1206.6 1561.4L1207.1 1560.3L1207.7 1561.3L1208.2 1560.5L1208.7 1561.7L1209.2 1560.8L1209.7 1561.5L1210.2 1559.9L1210.7 1561.2L1211.2 1560.4L1211.7 1561.3L1212.2 1560.3L1212.8 1561.4L1213.3 1559.9L1213.8 1560.7L1214.3 1559.6L1214.8 1560.2L1215.3 1559.5L1215.9 1560.3L1216.4 1559.2L1216.9 1559.8L1217.4 1558.6L1217.9 1559.6L1218.4 1558.7L1218.9 1559.3L1219.5 1558.4L1220.0 1559.0L1220.5 1558.0L1221.0 1559.0L1221.5 1557.7L1222.0 1558.8L1222.6 1558.0L1223.1 1559.0L1223.6 1557.7L1224.1 1558.7L1224.6 1557.8L1225.2 1559.0L1225.7 1558.1L1226.2 1559.2L1226.7 1558.5L1227.3 1559.2L1227.8 1558.1L1228.3 1559.2L1228.8 1558.6L1229.3 1559.3L1229.9 1558.5L1230.4 1559.4L1230.9 1558.8L1231.4 1559.7L1231.9 1559.1L1232.4 1559.9L1232.9 1559.1L1233.5 1560.2L1234.0 1559.4L1234.5 1560.2L1235.0 1559.5L1235.5 1560.5L1236.0 1559.7L1236.5 1560.8L1237.1 1559.9L1237.6 1561.4L1238.1 1560.1L1238.6 1561.2L1239.1 1560.0L1239.6 1561.2L1240.1 1560.2L1240.6 1561.0L1241.1 1560.1L1241.7 1561.2L1242.2 1560.1L1242.7 1561.1L1243.2 1560.2L1243.7 1560.9L1244.2 1560.1L1244.7 1560.7L1245.2 1559.8L1245.7 1561.1L1246.2 1559.9L1246.7 1560.7L1247.2 1559.5L1247.7 1560.6L1248.2 1559.5L1248.8 1560.2L1249.3 1559.4L1249.8 1560.4L1250.3 1559.4L1250.8 1560.3L1251.3 1559.3L1251.8 1559.9L1252.3 1559.1L1252.8 1560.1L1253.3 1559.3L1253.8 1560.1L1254.4 1559.6L1254.9 1560.5L1255.4 1559.7L1255.9 1560.6L1256.4 1559.7L1256.9 1560.4L1257.4 1559.7L1258.0 1560.9L1258.5 1560.0L1259.0 1561.1L1259.5 1560.3L1260.0 1561.1L1260.5 1560.4L1261.0 1560.9L1261.6 1560.5L1262.1 1561.3L1262.6 1560.5L1263.1 1561.4L1263.6 1560.3L1264.1 1561.0L1264.6 1560.0L1265.2 1560.9L1265.7 1559.7L1266.2 1560.6L1266.7 1559.4L1267.2 1560.2L1267.7 1559.2L1268.2 1560.4L1268.8 1558.9L1269.3 1559.6L1269.8 1558.7L1270.3 1559.6L1270.8 1558.3L1271.3 1559.1L1271.8 1558.2L1272.4 1558.8L1272.9 1558.1L1273.4 1558.8L1273.9 1558.1L1274.4 1558.8L1274.9 1558.2L1275.4 1558.9L1275.9 1558.1L1276.4 1558.9L1276.9 1558.3L1277.4 1558.9L1277.9 1558.3L1278.4 1559.0L1279.0 1558.2L1279.5 1559.2L1280.0 1558.1L1280.5 1559.0L1281.0 1557.7L1281.5 1558.8L1282.0 1558.1L1282.5 1558.7L1283.0 1557.8L1283.5 1558.7L1284.0 1557.7L1284.5 1558.7L1285.0 1558.3L1285.5 1558.9L1286.1 1557.6L1286.6 1558.4L1287.1 1557.3L1287.6 1558.2L1288.1 1556.6L1288.6 1557.3L1289.1 1556.0L1289.7 1556.6L1290.2 1555.1L1290.7 1555.6L1291.2 1554.4L1291.7 1555.1L1292.2 1553.8L1292.7 1554.2L1293.3 1553.1L1293.8 1553.6L1294.3 1552.2L1294.8 1552.9L1295.3 1551.6L1295.8 1552.3L1296.3 1550.9L1296.8 1551.3L1297.3 1549.6L1297.8 1550.2L1298.3 1548.7L1298.8 1549.1L1299.3 1548.0L1299.7 1548.2L1300.2 1547.0L1300.7 1547.4L1301.2 1545.9L1301.7 1546.1L1302.2 1544.9L1302.7 1545.3L1303.2 1544.2L1303.7 1544.2L1304.1 1543.2L1304.6 1543.7L1305.1 1542.3L1305.6 1542.6L1306.1 1541.3L1306.6 1541.7L1307.1 1540.4L1307.6 1540.8L1308.1 1539.7L1308.5 1540.1L1309.0 1538.9L1309.5 1539.0L1310.0 1537.9L1310.5 1538.4L1311.0 1536.8L1311.5 1537.1L1312.0 1536.2L1312.5 1537.0L1313.0 1535.7L1313.6 1536.5L1314.1 1535.5L1314.6 1536.2L1315.1 1535.5L1315.7 1536.0L1316.2 1535.4L1316.7 1536.7L1317.2 1535.2L1317.7 1536.2L1318.3 1535.0L1318.8 1535.7L1319.3 1534.6L1319.8 1535.6L1320.3 1534.9L1320.8 1535.7L1321.4 1534.7L1321.9 1535.6L1322.4 1534.8L1322.9 1535.6L1323.4 1534.6L1323.9 1535.3L1324.5 1534.6L1325.0 1535.2L1325.5 1534.5L1326.0 1535.4L1326.5 1534.4L1327.0 1535.3L1327.5 1534.3L1328.1 1535.5L1328.6 1534.2L1329.1 1535.3L1329.6 1534.2L1330.1 1534.8L1330.6 1534.0L1331.1 1534.7L1331.6 1533.3L1332.1 1534.4L1332.7 1533.6L1333.2 1534.1L1333.7 1533.0L1334.2 1533.9L1334.7 1533.4L1335.2 1534.1L1335.7 1533.0L1336.2 1533.5L1336.7 1532.6L1337.2 1533.3L1337.8 1532.5L1338.3 1533.2L1338.8 1532.3L1339.3 1533.0L1339.8 1531.9L1340.3 1532.9L1340.8 1531.9L1341.3 1533.0L1341.8 1532.1L1342.3 1532.8L1342.9 1532.1L1343.4 1532.9L1343.9 1532.1L1344.4 1533.1L1344.9 1532.0L1345.4 1533.2L1345.9 1532.3L1346.4 1533.0L1346.9 1532.5L1347.5 1533.5L1348.0 1532.4L1348.5 1533.4L1349.0 1532.6L1349.5 1533.6L1350.0 1532.5L1350.5 1533.6L1351.0 1532.9L1351.5 1533.5L1352.0 1532.7L1352.6 1533.7L1353.1 1532.7L1353.6 1533.3L1354.1 1532.6L1354.6 1533.4L1355.1 1532.5L1355.6 1533.3L1356.1 1532.2L1356.6 1532.9L1357.1 1531.7L1357.7 1532.4L1358.2 1531.4L1358.7 1532.1L1359.2 1531.1L1359.7 1531.7L1360.2 1530.7L1360.7 1531.7L1361.2 1530.5L1361.7 1531.5L1362.2 1530.4L1362.8 1531.1L1363.3 1530.1L1363.8 1530.7L1364.3 1529.7L1364.8 1530.7L1365.3 1529.5L1365.8 1530.5L1366.3 1529.6L1366.8 1530.6L1367.3 1529.7L1367.9 1530.4L1368.4 1529.8L1368.9 1530.5L1369.4 1529.5L1369.9 1530.3L1370.4 1529.2L1370.9 1530.1L1371.4 1529.4L1371.9 1530.1L1372.5 1529.4L1373.0 1530.5L1373.5 1529.2L1374.0 1530.1L1374.5 1529.4L1375.0 1530.3L1375.5 1529.3L1376.0 1530.4L1376.5 1529.2L1377.0 1530.3L1377.6 1529.3L1378.1 1530.1L1378.6 1529.4L1379.1 1530.1L1379.6 1529.2L1380.1 1530.1L1380.6 1529.3L1381.1 1530.1L1381.6 1529.2L1382.1 1530.0L1382.7 1529.2L1383.2 1530.2L1383.7 1529.2L1384.2 1530.4L1384.7 1529.2L1385.2 1530.4L1385.7 1529.6L1386.2 1530.4L1386.7 1529.6L1387.2 1530.2L1387.8 1529.6L1388.3 1530.4L1388.8 1529.2L1389.3 1530.6L1389.8 1529.4L1390.3 1529.8L1390.8 1528.8L1391.3 1529.4L1391.8 1528.3L1392.3 1529.2L1392.9 1528.4L1393.4 1528.9L1393.9 1527.7L1394.4 1528.8L1394.9 1527.4L1395.4 1529.2L1395.9 1527.6L1396.4 1528.8L1396.9 1527.4L1397.5 1528.4L1398.0 1527.3L1398.5 1528.6L1399.0 1526.6L1399.5 1528.2L1400.0 1527.1L1400.5 1527.7L1401.0 1526.9L1401.5 1527.7L1402.0 1526.7L1402.6 1527.5L1403.1 1526.6L1403.6 1527.6L1404.1 1526.5L1404.6 1527.6L1405.1 1526.5L1405.6 1527.3L1406.1 1526.2L1406.6 1527.2L1407.1 1526.3L1407.7 1527.1L1408.2 1526.1L1408.7 1526.7L1409.2 1525.8L1409.7 1526.4L1410.2 1525.7L1410.7 1526.6L1411.2 1525.3L1411.7 1526.6L1412.2 1525.9L1412.8 1526.9L1413.3 1525.9L1413.8 1526.9L1414.3 1526.2L1414.8 1527.1L1415.3 1526.0L1415.8 1527.0L1416.3 1526.1L1416.8 1526.9L1417.3 1526.4L1417.9 1527.2L1418.4 1526.3L1418.9 1527.2L1419.4 1526.5L1419.9 1527.5L1420.4 1526.7L1420.9 1527.7L1421.4 1526.9L1421.9 1527.7L1422.5 1526.7L1423.0 1527.7L1423.5 1527.0L1424.0 1527.9L1424.5 1527.0L1425.0 1528.0L1425.5 1526.9L1426.0 1527.8L1426.5 1527.1L1427.0 1528.0L1427.6 1527.1L1428.1 1527.9L1428.6 1526.8L1429.1 1527.6L1429.6 1526.7L1430.1 1527.6L1430.6 1526.9L1431.1 1527.5L1431.6 1526.8L1432.1 1527.6L1432.7 1526.8L1433.2 1527.6L1433.7 1526.8L1434.2 1527.7L1434.7 1526.8L1435.2 1527.4L1435.7 1526.6L1436.2 1527.3L1436.7 1526.4L1437.2 1527.2L1437.8 1526.4L1438.3 1527.2L1438.8 1526.1L1439.3 1527.3L1439.8 1525.9L1440.3 1526.7L1440.8 1525.9L1441.3 1526.7L1441.8 1525.9L1442.3 1526.9L1442.9 1525.7L1443.4 1526.6L1443.9 1525.4L1444.4 1526.3L1444.9 1525.2L1445.4 1526.2L1445.9 1525.6L1446.4 1526.3L1446.9 1525.5L1447.5 1526.5L1448.0 1525.7L1448.5 1526.9L1449.0 1525.8L1449.5 1526.9L1450.0 1526.1L1450.5 1526.9L1451.0 1526.0L1451.5 1527.0L1452.0 1525.9L1452.6 1527.3L1453.1 1526.5L1453.6 1527.3L1454.1 1526.5L1454.6 1527.3L1455.1 1526.3L1455.6 1527.1L1456.1 1526.8L1456.6 1527.5L1457.1 1526.5L1457.7 1527.7L1458.2 1527.1L1458.7 1528.0L1459.2 1527.1L1459.7 1528.2L1460.2 1527.1L1460.7 1527.6L1461.2 1526.9L1461.7 1527.9L1462.2 1526.9L1462.7 1527.8L1463.2 1527.0L1463.7 1527.6L1464.2 1526.8L1464.7 1527.5L1465.2 1526.7L1465.7 1527.5L1466.2 1526.5L1466.7 1527.6L1467.3 1526.5L1467.8 1527.2L1468.3 1526.1L1468.8 1527.3L1469.3 1526.4L1469.8 1527.4L1470.3 1526.4L1470.8 1527.5L1471.3 1526.3L1471.8 1527.0L1472.3 1526.0L1472.8 1526.6L1473.3 1525.9L1473.8 1526.7L1474.3 1526.2L1474.8 1526.8L1475.3 1526.0L1475.9 1526.7L1476.4 1525.8L1476.9 1526.9L1477.4 1526.0L1477.9 1526.7L1478.4 1525.7L1478.9 1526.8L1479.4 1526.1L1479.9 1526.6L1480.4 1526.0L1481.0 1526.7L1481.5 1526.0L1482.0 1526.8L1482.5 1526.0L1483.0 1526.8L1483.5 1525.9L1484.0 1527.0L1484.5 1526.2L1485.0 1526.7L1485.5 1526.0" fill="none" stroke="#000" stroke-width="2.3" stroke-linejoin="round"/>
<path d="M933.8 1880.8L934.3 1881.7L934.9 1880.6L935.4 1881.1L935.9 1880.2L936.4 1881.1L937.0 1879.6L937.5 1880.6L938.0 1879.3L938.5 1880.5L939.1 1879.7L939.6 1880.3L940.1 1879.2L940.6 1879.9L941.2 1879.1L941.7 1880.3L942.2 1879.7L942.7 1880.8L943.3 1879.9L943.8 1880.9L944.3 1880.3L944.8 1881.4L945.3 1880.8L945.9 1881.6L946.4 1880.9L946.9 1882.2L947.4 1881.1L947.9 1882.5L948.5 1881.9L949.0 1883.2L949.5 1882.4L950.0 1883.8L950.5 1883.1L951.0 1884.4L951.6 1883.9L952.1 1885.1L952.6 1884.5L953.1 1886.1L953.6 1885.2L954.1 1886.5L954.6 1885.8L955.2 1886.8L955.7 1885.8L956.2 1887.5L956.7 1886.9L957.2 1888.1L957.7 1887.5L958.2 1888.6L958.8 1887.4L959.3 1888.5L959.8 1887.9L960.3 1888.7L960.8 1887.9L961.3 1889.0L961.8 1887.6L962.3 1889.0L962.8 1887.8L963.3 1889.4L963.8 1888.6L964.4 1889.4L964.9 1888.6L965.4 1889.8L965.9 1888.3L966.4 1889.6L966.9 1888.7L967.4 1890.0L967.9 1888.7L968.4 1889.9L968.9 1889.1L969.4 1890.3L969.9 1889.9L970.4 1891.1L970.9 1890.6L971.4 1892.5L971.9 1891.4L972.4 1892.9L972.9 1892.3L973.4 1894.0L973.9 1893.3L974.4 1894.8L974.9 1894.0L975.4 1895.5L975.9 1894.8L976.3 1896.5L976.8 1895.8L977.3 1897.2L977.8 1897.0L978.3 1898.6L978.8 1898.2L979.3 1899.6L979.8 1899.3L980.3 1901.5L980.7 1900.8L981.2 1902.4L981.7 1901.7L982.2 1903.4L982.7 1902.8L983.2 1904.3L983.7 1903.9L984.2 1905.4L984.7 1905.0L985.1 1906.6L985.6 1906.1L986.1 1907.5L986.6 1907.0L987.1 1908.6L987.6 1907.9L988.1 1909.4L988.6 1908.8L989.1 1911.2L989.5 1910.3L990.0 1911.8L990.5 1911.6L991.0 1912.7L991.5 1912.1L992.0 1913.9L992.5 1913.3L993.0 1914.7L993.5 1914.7L993.9 1916.0L994.4 1915.6L994.9 1916.9L995.4 1916.8L995.9 1918.4L996.4 1917.3L996.9 1919.4L997.4 1919.0L997.9 1920.7L998.3 1920.2L998.8 1921.7L999.3 1921.4L999.8 1923.0L1000.3 1922.5L1000.8 1924.1L1001.3 1923.6L1001.7 1925.3L1002.2 1925.1L1002.7 1926.7L1003.1 1926.1L1003.6 1927.7L1004.0 1927.2L1004.5 1929.2L1005.0 1928.9L1005.4 1930.6L1005.9 1930.3L1006.3 1932.0L1006.8 1931.5L1007.3 1933.0L1007.7 1932.7L1008.2 1934.4L1008.6 1933.8L1009.1 1935.8L1009.6 1934.8L1010.1 1935.9L1010.6 1934.9L1011.2 1935.7L1011.7 1935.1L1012.2 1935.9L1012.7 1935.0L1013.2 1936.1L1013.7 1934.8L1014.2 1935.8L1014.8 1934.9L1015.3 1936.2L1015.8 1934.8L1016.3 1936.2L1016.8 1935.1L1017.3 1936.4L1017.8 1935.5L1018.4 1936.5L1018.9 1935.5L1019.4 1936.4L1019.9 1935.3L1020.4 1936.2L1021.0 1935.1L1021.5 1935.9L1022.0 1934.8L1022.5 1935.8L1023.1 1934.5L1023.6 1935.7L1024.1 1934.5L1024.6 1935.3L1025.1 1934.2L1025.7 1935.2L1026.2 1934.0L1026.7 1935.1L1027.2 1933.8L1027.7 1935.0L1028.3 1933.9L1028.8 1935.0L1029.3 1934.3L1029.8 1935.4L1030.4 1934.6L1030.9 1936.1L1031.4 1934.9L1031.9 1935.8L1032.4 1935.0L1033.0 1936.2L1033.5 1935.2L1034.0 1936.2L1034.5 1935.3L1035.0 1936.5L1035.6 1935.9L1036.1 1936.9L1036.6 1936.1L1037.1 1937.5L1037.6 1936.0L1038.1 1937.6L1038.6 1936.5L1039.2 1937.7L1039.7 1936.7L1040.2 1937.8L1040.7 1936.9L1041.2 1938.0L1041.7 1936.8L1042.2 1937.9L1042.8 1936.7L1043.3 1938.0L1043.8 1937.1L1044.3 1938.5L1044.8 1937.9L1045.3 1939.0L1045.9 1938.3L1046.4 1939.5L1046.9 1938.3L1047.4 1939.9L1048.0 1938.8L1048.5 1940.1L1049.0 1939.2L1049.5 1940.5L1050.0 1939.8L1050.6 1941.1L1051.1 1940.2L1051.6 1941.1L1052.1 1940.4L1052.6 1942.0L1053.2 1941.4L1053.7 1943.0L1054.2 1942.3L1054.7 1943.5L1055.3 1942.9L1055.8 1944.2L1056.3 1943.3L1056.8 1944.8L1057.3 1943.9L1057.9 1945.3L1058.4 1944.4L1058.9 1945.7L1059.4 1944.8L1060.0 1946.5L1060.5 1945.6L1061.0 1946.7L1061.5 1945.0L1062.1 1946.8L1062.6 1945.1L1063.1 1946.6L1063.7 1945.8L1064.2 1946.9L1064.7 1946.0L1065.3 1947.1L1065.8 1946.1L1066.3 1946.9L1066.9 1946.2L1067.4 1947.1L1067.9 1946.2L1068.4 1947.1L1068.9 1946.5L1069.4 1947.8L1069.9 1946.5L1070.4 1947.5L1070.9 1946.5L1071.5 1947.6L1072.0 1946.0L1072.5 1947.2L1073.0 1946.1L1073.5 1947.0L1074.0 1946.2L1074.5 1947.1L1075.0 1946.3L1075.5 1947.1L1076.0 1946.5L1076.5 1947.6L1077.0 1945.9L1077.6 1947.4L1078.1 1946.0L1078.6 1946.7L1079.1 1945.0L1079.6 1946.3L1080.1 1944.6L1080.6 1945.9L1081.2 1944.3L1081.7 1945.0L1082.2 1943.5L1082.7 1944.6L1083.2 1943.4L1083.7 1944.4L1084.2 1942.7L1084.8 1943.9L1085.3 1942.1L1085.8 1943.2L1086.3 1941.8L1086.8 1942.5L1087.3 1941.3L1087.9 1942.3L1088.4 1941.0L1088.9 1942.2L1089.4 1941.0L1089.9 1942.3L1090.5 1940.4L1091.0 1941.3L1091.5 1940.2L1092.0 1941.1L1092.5 1939.7L1093.1 1940.8L1093.6 1939.5L1094.1 1940.8L1094.6 1939.5L1095.2 1940.3L1095.7 1939.3L1096.2 1940.5L1096.7 1939.7L1097.3 1940.9L1097.8 1939.9L1098.3 1941.3L1098.9 1940.3L1099.4 1941.0L1099.9 1940.2L1100.4 1941.3L1100.9 1940.7L1101.4 1941.8L1101.9 1941.4L1102.4 1942.9L1102.9 1942.3L1103.4 1943.9L1103.9 1943.3L1104.4 1944.7L1104.9 1944.0L1105.4 1945.2L1105.9 1944.6L1106.4 1946.2L1106.9 1945.4L1107.4 1947.2L1107.9 1946.4L1108.4 1948.3L1108.8 1947.5L1109.3 1948.6L1109.8 1947.8L1110.3 1949.2L1110.8 1948.4L1111.3 1949.8L1111.8 1949.2L1112.3 1950.9L1112.8 1950.1L1113.2 1951.5L1113.7 1950.9L1114.2 1952.4L1114.7 1951.6L1115.2 1952.9L1115.7 1952.4L1116.2 1953.6L1116.7 1952.9L1117.2 1954.3L1117.7 1952.9L1118.2 1954.9L1118.7 1953.5L1119.2 1954.5L1119.8 1953.6L1120.3 1954.8L1120.8 1954.2L1121.3 1955.4L1121.8 1954.5L1122.3 1955.4L1122.8 1954.4L1123.4 1955.6L1123.9 1954.7L1124.4 1956.0L1124.9 1955.1L1125.4 1956.2L1125.9 1955.0L1126.4 1955.9L1127.0 1955.1L1127.5 1956.2L1128.0 1955.5L1128.5 1956.4L1129.0 1955.8L1129.5 1957.5L1130.1 1956.6L1130.6 1957.9L1131.1 1956.7L1131.6 1957.8L1132.1 1956.8L1132.6 1958.2L1133.2 1957.2L1133.7 1958.0L1134.2 1956.6L1134.7 1957.5L1135.2 1956.1L1135.7 1957.0L1136.2 1955.7L1136.7 1956.2L1137.2 1954.8L1137.7 1955.9L1138.2 1954.8L1138.6 1954.9L1139.1 1953.2L1139.6 1954.2L1140.1 1952.8L1140.7 1954.0L1141.2 1953.3L1141.7 1954.4L1142.2 1953.7L1142.7 1954.6L1143.3 1954.1L1143.8 1955.2L1144.3 1954.6L1144.8 1955.9L1145.4 1955.1L1145.9 1956.0L1146.4 1955.2L1146.9 1956.8L1147.4 1955.6L1148.0 1957.3L1148.5 1956.6L1148.9 1958.4L1149.4 1958.0L1149.9 1959.4L1150.4 1958.7L1150.9 1960.4L1151.4 1959.9L1151.9 1961.3L1152.4 1961.0L1152.9 1962.6L1153.3 1962.0L1153.8 1963.7L1154.3 1963.1L1154.8 1964.7L1155.3 1964.6L1155.8 1965.8L1156.3 1965.3L1156.8 1967.2L1157.3 1966.5L1157.7 1967.7L1158.2 1967.2L1158.7 1968.7L1159.2 1968.7L1159.7 1970.1L1160.2 1969.3L1160.7 1970.8L1161.2 1970.0L1161.7 1971.7L1162.2 1971.2L1162.7 1972.2L1163.2 1971.2L1163.8 1972.6L1164.3 1971.6L1164.8 1973.1L1165.3 1972.3L1165.9 1973.5L1166.4 1972.7L1166.9 1973.7L1167.5 1972.8L1168.0 1973.3L1168.5 1972.5L1169.0 1973.2L1169.5 1971.8L1170.0 1972.9L1170.6 1971.7L1171.1 1972.7L1171.6 1971.5L1172.1 1972.8L1172.6 1971.7L1173.2 1972.5L1173.7 1971.1L1174.2 1972.4L1174.7 1971.5L1175.2 1972.5L1175.7 1971.2L1176.3 1972.2L1176.8 1970.8L1177.3 1972.0L1177.8 1971.3L1178.3 1972.2L1178.8 1971.5L1179.4 1972.8L1179.9 1971.6L1180.4 1973.1L1180.9 1971.9L1181.4 1973.4L1181.9 1972.2L1182.4 1973.7L1183.0 1972.7L1183.5 1974.2L1184.0 1972.8L1184.5 1974.3L1185.0 1973.4L1185.5 1975.1L1186.0 1974.3L1186.6 1975.0L1187.1 1974.3L1187.6 1975.4L1188.1 1974.3L1188.6 1975.7L1189.1 1975.1L1189.6 1976.1L1190.1 1975.3L1190.6 1976.6L1191.1 1975.3L1191.7 1976.5L1192.2 1975.4L1192.7 1976.8L1193.2 1975.8L1193.7 1977.0L1194.2 1975.8L1194.7 1976.9L1195.2 1976.2L1195.7 1977.4L1196.2 1976.4L1196.7 1977.5L1197.2 1976.7L1197.8 1977.7L1198.3 1976.8L1198.8 1977.4L1199.3 1976.9L1199.8 1977.8L1200.3 1976.9L1200.8 1977.9L1201.3 1976.9L1201.8 1978.2L1202.3 1977.0L1202.8 1978.0L1203.3 1977.0L1203.8 1978.3L1204.3 1977.5L1204.8 1978.8L1205.3 1978.4L1205.8 1979.3L1206.3 1978.5L1206.8 1979.5L1207.3 1978.5L1207.8 1980.0L1208.3 1978.5L1208.8 1980.3L1209.3 1979.2L1209.8 1980.6L1210.3 1979.1L1210.8 1980.1L1211.3 1978.4L1211.8 1979.8L1212.3 1978.6L1212.8 1979.6L1213.4 1978.9L1213.9 1979.8L1214.4 1978.8L1214.9 1979.8L1215.4 1978.6L1215.9 1979.3L1216.4 1978.3L1216.9 1979.1L1217.4 1978.2L1217.9 1979.1L1218.5 1978.2L1219.0 1979.1L1219.5 1978.1L1220.0 1978.9L1220.5 1978.0L1221.0 1979.0L1221.5 1977.7L1222.0 1978.6L1222.5 1977.9L1223.0 1978.7L1223.5 1977.7L1224.0 1978.8L1224.6 1977.6L1225.1 1978.5L1225.6 1977.6L1226.1 1978.5L1226.6 1977.4L1227.1 1978.6L1227.6 1977.6L1228.1 1978.5L1228.6 1976.8L1229.1 1978.2L1229.6 1977.1L1230.1 1978.3L1230.6 1976.9L1231.1 1978.1L1231.6 1976.9L1232.2 1977.7L1232.7 1977.0L1233.2 1977.7L1233.7 1976.5L1234.2 1977.2L1234.8 1975.8L1235.3 1976.7L1235.8 1975.1L1236.3 1976.2L1236.9 1975.2L1237.4 1975.9L1237.9 1974.8L1238.4 1975.8L1239.0 1974.1L1239.5 1974.9L1240.0 1973.6L1240.5 1974.4L1241.1 1973.4L1241.6 1974.3L1242.1 1973.0L1242.6 1974.2L1243.2 1973.2L1243.7 1974.6L1244.2 1973.1L1244.7 1974.1L1245.2 1973.2L1245.8 1974.2L1246.3 1973.1L1246.8 1974.3L1247.3 1972.8L1247.9 1973.8L1248.4 1972.6L1248.9 1973.4L1249.4 1972.6L1249.9 1973.9L1250.4 1972.7L1251.0 1973.7L1251.5 1973.0L1252.0 1974.1L1252.5 1973.2L1253.0 1974.5L1253.5 1973.4L1254.0 1974.6L1254.6 1973.4L1255.1 1974.7L1255.6 1974.1L1256.1 1975.3L1256.6 1974.6L1257.1 1975.5L1257.6 1974.5L1258.2 1975.7L1258.7 1974.8L1259.2 1976.2L1259.7 1975.2L1260.3 1976.5L1260.8 1975.7L1261.3 1976.8L1261.8 1976.3L1262.4 1977.4L1262.9 1977.1L1263.4 1978.3L1263.9 1977.3L1264.5 1978.7L1265.0 1978.0L1265.5 1979.1L1266.0 1978.3L1266.5 1980.0L1267.0 1979.3L1267.5 1981.1L1268.0 1981.0L1268.5 1982.3L1268.9 1981.5L1269.4 1983.3L1269.9 1982.3L1270.4 1984.3L1270.9 1983.5L1271.4 1985.6L1271.9 1985.1L1272.4 1986.3L1272.9 1985.8L1273.3 1987.0L1273.8 1986.3L1274.3 1988.3L1274.8 1987.3L1275.3 1989.0L1275.8 1988.4L1276.3 1990.1L1276.8 1989.6L1277.3 1991.3L1277.7 1991.0L1278.2 1992.4L1278.7 1992.2L1279.2 1993.6L1279.7 1993.0L1280.2 1995.0L1280.7 1993.8L1281.2 1995.1L1281.8 1994.0L1282.3 1995.5L1282.8 1994.5L1283.3 1995.5L1283.8 1994.7L1284.4 1995.6L1284.9 1994.9L1285.4 1996.2L1285.9 1995.1L1286.4 1996.0L1287.0 1995.2L1287.5 1996.4L1288.0 1995.2L1288.5 1996.6L1289.1 1995.1L1289.6 1995.9L1290.1 1994.7L1290.7 1996.0L1291.2 1994.5L1291.7 1995.3L1292.3 1994.0L1292.8 1994.8L1293.3 1993.8L1293.9 1994.6L1294.4 1993.8L1295.0 1994.8L1295.5 1993.8L1296.1 1994.7L1296.6 1993.7L1297.1 1994.8L1297.7 1993.4L1298.2 1994.3L1298.8 1993.4L1299.3 1994.5L1299.8 1993.6L1300.3 1994.4L1300.8 1993.4L1301.4 1994.7L1301.9 1993.7L1302.4 1995.0L1302.9 1994.2L1303.4 1994.9L1303.9 1994.1L1304.5 1995.8L1305.0 1994.1L1305.5 1995.1L1306.0 1993.7L1306.5 1995.0L1307.1 1994.2L1307.6 1995.3L1308.1 1994.1L1308.6 1995.3L1309.1 1994.0L1309.7 1995.2L1310.2 1994.4L1310.7 1995.4L1311.2 1994.4L1311.7 1995.4L1312.3 1994.4L1312.8 1995.6L1313.3 1994.5L1313.8 1995.1L1314.3 1994.3L1314.9 1995.5L1315.4 1994.5L1315.8 1996.3L1316.3 1995.9L1316.7 1997.4L1317.2 1997.5L1317.6 1999.2L1318.1 1998.9L1318.6 2000.5L1319.0 2000.3L1319.5 2002.2L1319.9 2001.6L1320.4 2003.5L1320.8 2003.7L1321.3 2005.4L1321.7 2004.9L1322.2 2007.0L1322.6 2006.7L1323.1 2008.8L1323.5 2008.5L1324.0 2010.5L1324.4 2010.5L1324.9 2012.1L1325.3 2011.9L1325.8 2013.9L1326.2 2014.1L1326.7 2015.9L1327.1 2015.6L1327.6 2017.1L1328.1 2016.6L1328.6 2018.1L1329.1 2017.8L1329.6 2019.1L1330.1 2018.8L1330.5 2020.2L1331.0 2019.8L1331.5 2021.4L1332.0 2020.7L1332.5 2022.2L1333.0 2021.8L1333.5 2023.3L1334.0 2022.4L1334.5 2024.3L1335.0 2023.2L1335.4 2024.9L1335.9 2024.2L1336.4 2026.0L1336.9 2025.2L1337.4 2026.6L1337.9 2025.6L1338.4 2027.4L1338.9 2026.7L1339.4 2028.4L1339.8 2028.0L1340.3 2029.5L1340.8 2028.6L1341.3 2030.2L1341.8 2029.5L1342.4 2030.7L1342.9 2030.2L1343.4 2031.7L1343.9 2030.9L1344.4 2032.3L1344.9 2031.7L1345.4 2033.6L1346.0 2032.3L1346.5 2033.5L1347.0 2032.9L1347.5 2034.5L1348.0 2033.9L1348.5 2035.5L1349.1 2034.6L1349.6 2035.9L1350.1 2035.4L1350.6 2036.6L1351.1 2036.0L1351.6 2036.9L1352.2 2036.1L1352.7 2037.0L1353.2 2036.0L1353.7 2037.2L1354.2 2036.5L1354.8 2037.8L1355.3 2036.8L1355.8 2038.0L1356.3 2037.4L1356.9 2038.6L1357.4 2037.7L1357.9 2038.9L1358.4 2037.6L1358.9 2038.6L1359.5 2037.7L1360.0 2039.0L1360.5 2037.7L1361.1 2038.8L1361.6 2038.0L1362.1 2039.0L1362.6 2037.7L1363.2 2039.0L1363.7 2037.9L1364.2 2039.1L1364.7 2038.2L1365.3 2038.8L1365.8 2037.9L1366.3 2039.1L1366.8 2037.9L1367.3 2039.0L1367.9 2037.7L1368.4 2039.0L1368.9 2038.1L1369.4 2039.0L1369.9 2037.7L1370.4 2038.8L1371.0 2037.9L1371.5 2039.2L1372.0 2037.9L1372.5 2039.4L1373.0 2038.2L1373.5 2039.3L1374.1 2038.4L1374.6 2039.3L1375.1 2038.4L1375.6 2039.9L1376.1 2038.1L1376.6 2039.3L1377.2 2038.2L1377.7 2038.9L1378.2 2037.5L1378.7 2038.8L1379.2 2037.5L1379.7 2038.3L1380.2 2037.1L1380.8 2037.8L1381.3 2036.9L1381.8 2037.6L1382.3 2036.6L1382.8 2037.4L1383.3 2036.1L1383.8 2037.2L1384.4 2036.4L1384.9 2037.1L1385.4 2035.9L1385.9 2036.7L1386.5 2035.5L1387.0 2036.8L1387.5 2035.4L1388.0 2035.9L1388.5 2034.5L1389.1 2035.8L1389.6 2033.9L1390.1 2035.3L1390.6 2034.2L1391.1 2035.3L1391.7 2033.8L1392.2 2034.4L1392.8 2033.0L1393.3 2034.0L1393.9 2032.8L1394.5 2033.7L1395.0 2032.8L1395.6 2033.6" fill="none" stroke="#f00" stroke-width="2.8" stroke-linejoin="round"/>
<path d="M928.6 1880.9L935.2 1874.3L941.8 1880.9L935.2 1887.5Z" fill="none" stroke="#f00" stroke-width="2.3"/><path d="M961.7 1889.1L968.3 1882.5L974.9 1889.1L968.3 1895.7Z" fill="none" stroke="#f00" stroke-width="2.3"/><path d="M994.8 1924.0L1001.4 1917.4L1008.0 1924.0L1001.4 1930.6Z" fill="none" stroke="#f00" stroke-width="2.3"/><path d="M1027.8 1936.0L1034.4 1929.4L1041.0 1936.0L1034.4 1942.6Z" fill="none" stroke="#f00" stroke-width="2.3"/><path d="M1060.9 1946.8L1067.5 1940.2L1074.1 1946.8L1067.5 1953.4Z" fill="none" stroke="#f00" stroke-width="2.3"/><path d="M1094.0 1941.1L1100.6 1934.5L1107.2 1941.1L1100.6 1947.7Z" fill="none" stroke="#f00" stroke-width="2.3"/><path d="M1127.1 1957.6L1133.7 1951.0L1140.3 1957.6L1133.7 1964.2Z" fill="none" stroke="#f00" stroke-width="2.3"/><path d="M1160.2 1973.2L1166.8 1966.6L1173.4 1973.2L1166.8 1979.8Z" fill="none" stroke="#f00" stroke-width="2.3"/><path d="M1193.2 1977.1L1199.8 1970.5L1206.4 1977.1L1199.8 1983.7Z" fill="none" stroke="#f00" stroke-width="2.3"/><path d="M1226.3 1977.2L1232.9 1970.6L1239.5 1977.2L1232.9 1983.8Z" fill="none" stroke="#f00" stroke-width="2.3"/><path d="M1259.4 1978.9L1266.0 1972.3L1272.6 1978.9L1266.0 1985.5Z" fill="none" stroke="#f00" stroke-width="2.3"/><path d="M1292.5 1994.0L1299.1 1987.4L1305.7 1994.0L1299.1 2000.6Z" fill="none" stroke="#f00" stroke-width="2.3"/><path d="M1325.6 2021.5L1332.2 2014.9L1338.8 2021.5L1332.2 2028.1Z" fill="none" stroke="#f00" stroke-width="2.3"/><path d="M1358.6 2038.4L1365.2 2031.8L1371.8 2038.4L1365.2 2045.0Z" fill="none" stroke="#f00" stroke-width="2.3"/>
<path d="M935.8 1699.7L936.3 1700.6L936.8 1699.8L937.3 1701.1L937.9 1699.8L938.4 1701.3L938.9 1700.6L939.4 1701.7L940.0 1701.0L940.5 1701.9L941.0 1700.9L941.5 1702.1L942.1 1701.7L942.6 1702.8L943.1 1701.2L943.6 1701.8L944.1 1700.0L944.6 1700.5L945.0 1699.2L945.5 1699.7L946.0 1697.9L946.5 1698.7L947.0 1697.3L947.5 1697.7L948.0 1696.0L948.5 1696.8L949.0 1695.1L949.4 1695.8L949.9 1694.4L950.4 1694.8L950.9 1693.4L951.4 1693.9L951.9 1692.3L952.4 1692.9L952.9 1691.4L953.4 1692.0L953.8 1690.8L954.3 1691.3L954.8 1689.8L955.3 1690.6L955.8 1689.3L956.3 1690.0L956.8 1688.4L957.3 1688.8L957.8 1687.6L958.2 1688.3L958.8 1687.1L959.3 1688.0L959.8 1687.0L960.3 1687.8L960.9 1686.9L961.4 1687.5L961.9 1686.9L962.4 1687.7L962.9 1686.9L963.5 1688.0L964.0 1686.9L964.5 1688.1L965.0 1686.9L965.6 1688.0L966.1 1687.1L966.6 1687.6L967.0 1686.4L967.5 1686.6L968.0 1685.1L968.5 1685.8L969.0 1684.3L969.5 1685.0L970.0 1683.3L970.5 1684.0L971.0 1682.9L971.5 1683.6L971.9 1681.9L972.4 1682.8L972.9 1681.4L973.4 1681.5L973.9 1680.4L974.4 1680.9L974.9 1679.5L975.4 1680.5L975.9 1679.3L976.3 1679.4L976.8 1677.7L977.3 1678.5L977.8 1676.5L978.3 1677.1L978.8 1675.5L979.3 1676.2L979.8 1674.7L980.3 1675.0L980.7 1673.8L981.2 1674.2L981.7 1672.6L982.2 1673.3L982.7 1671.6L983.2 1671.9L983.7 1670.3L984.2 1671.2L984.7 1669.5L985.1 1670.2L985.6 1668.5L986.1 1668.7L986.6 1667.3L987.1 1667.9L987.6 1666.5L988.1 1667.0L988.6 1665.7L989.1 1665.9L989.5 1664.5L990.0 1664.8L990.5 1662.9L991.0 1664.0L991.5 1662.3L992.0 1662.5L992.4 1660.9L992.9 1661.4L993.3 1659.5L993.8 1660.1L994.3 1658.5L994.7 1658.7L995.2 1657.1L995.6 1657.3L996.1 1655.8L996.6 1656.1L997.0 1654.0L997.5 1654.1L997.9 1652.5L998.4 1652.8L998.9 1651.1L999.3 1651.6L999.8 1649.6L1000.2 1649.9L1000.7 1648.6L1001.2 1648.9L1001.6 1647.1L1002.1 1647.5L1002.5 1645.4L1003.0 1645.8L1003.5 1643.9L1003.9 1644.2L1004.4 1642.7L1004.8 1642.7L1005.3 1641.0L1005.8 1641.6L1006.2 1639.8L1006.7 1639.9L1007.1 1638.0L1007.6 1638.4L1008.1 1637.1L1008.6 1637.9L1009.1 1636.4L1009.6 1637.0L1010.1 1635.6L1010.6 1636.4L1011.1 1635.3L1011.6 1636.1L1012.1 1635.7L1012.6 1636.6L1013.1 1635.8L1013.6 1636.7L1014.1 1635.7L1014.7 1636.7L1015.2 1636.0L1015.7 1637.5L1016.2 1636.0L1016.7 1637.3L1017.2 1636.2L1017.7 1637.3L1018.3 1636.6L1018.8 1637.5L1019.3 1636.5L1019.8 1637.9L1020.3 1636.8L1020.8 1638.1L1021.3 1636.9L1021.9 1638.0L1022.4 1637.1L1022.9 1637.9L1023.4 1636.7L1023.9 1638.0L1024.4 1637.2L1025.0 1638.5L1025.5 1637.2L1026.0 1638.7L1026.5 1637.4L1027.0 1638.9L1027.5 1637.6L1028.0 1639.0L1028.6 1637.9L1029.1 1638.9L1029.6 1637.7L1030.1 1639.0L1030.6 1638.2L1031.1 1639.2L1031.6 1638.1L1032.2 1638.8L1032.7 1638.0L1033.2 1638.6L1033.7 1637.8L1034.2 1638.6L1034.7 1637.5L1035.2 1638.6L1035.8 1637.3L1036.3 1638.6L1036.8 1637.3L1037.3 1638.0L1037.8 1636.9L1038.3 1637.9L1038.8 1636.9L1039.4 1637.7L1039.9 1636.5L1040.4 1637.7L1040.9 1636.5L1041.4 1637.9L1041.9 1636.2L1042.4 1637.7L1042.9 1636.1L1043.5 1636.9L1044.0 1635.4L1044.5 1636.4L1045.0 1635.1L1045.5 1635.8L1046.0 1634.8L1046.5 1636.5L1047.0 1634.7L1047.5 1635.5L1048.0 1634.2L1048.6 1635.3L1049.1 1633.8L1049.6 1634.9L1050.1 1633.9L1050.6 1634.6L1051.1 1633.7L1051.6 1634.2L1052.1 1633.0L1052.6 1634.1L1053.2 1632.4L1053.7 1633.3L1054.2 1631.8L1054.7 1632.7L1055.3 1631.1L1055.8 1632.0L1056.3 1630.6L1056.8 1631.3L1057.3 1630.0L1057.9 1630.6L1058.4 1628.9L1058.9 1629.8L1059.4 1628.2L1060.0 1628.9L1060.5 1627.9L1061.0 1628.8L1061.5 1627.7L1062.0 1628.7L1062.6 1627.5L1063.1 1628.5L1063.6 1627.1L1064.1 1628.0L1064.6 1627.4L1065.2 1628.1L1065.7 1627.1L1066.2 1627.9L1066.7 1626.7L1067.3 1628.0L1067.8 1626.5L1068.3 1627.4L1068.8 1626.2L1069.3 1627.2L1069.8 1626.0L1070.3 1627.2L1070.9 1626.0L1071.4 1626.8L1071.9 1626.0L1072.4 1626.7L1072.9 1626.0L1073.4 1627.2L1073.9 1625.5L1074.5 1626.6L1075.0 1625.6L1075.5 1626.8L1076.0 1625.5L1076.5 1626.7L1077.0 1625.3L1077.6 1626.3L1078.1 1625.5L1078.6 1626.8L1079.1 1625.3L1079.6 1626.7L1080.2 1625.5L1080.7 1626.8L1081.2 1626.1L1081.7 1627.4L1082.2 1626.4L1082.8 1627.8L1083.3 1626.9L1083.8 1628.1L1084.3 1627.4L1084.9 1628.5L1085.4 1627.3L1085.9 1628.8L1086.4 1628.2L1086.9 1629.7L1087.5 1629.0L1088.0 1630.3L1088.5 1629.5L1089.0 1630.6L1089.5 1630.1L1090.1 1631.3L1090.6 1630.5L1091.1 1631.9L1091.6 1631.1L1092.2 1632.5L1092.7 1631.7L1093.2 1632.9L1093.7 1632.1L1094.3 1633.5L1094.8 1631.9L1095.3 1632.9L1095.9 1631.8L1096.4 1633.1L1096.9 1632.2L1097.5 1633.4L1098.0 1632.0L1098.5 1633.5L1099.1 1632.2L1099.6 1632.4L1100.0 1630.7L1100.5 1631.5L1101.0 1630.0L1101.5 1630.5L1102.0 1628.9L1102.5 1629.2L1103.0 1627.8L1103.5 1628.0L1104.0 1626.4L1104.4 1627.1L1104.9 1625.5L1105.4 1625.6L1105.9 1624.3L1106.4 1624.9L1106.9 1623.1L1107.4 1623.7L1107.9 1622.0L1108.4 1623.1L1108.8 1621.2L1109.3 1622.0L1109.8 1620.3L1110.3 1620.8L1110.8 1619.5L1111.3 1620.0L1111.8 1618.7L1112.3 1619.2L1112.8 1616.9L1113.2 1618.3L1113.7 1616.4L1114.2 1617.0L1114.7 1615.8L1115.2 1616.3L1115.7 1615.4L1116.3 1616.1L1116.8 1615.0L1117.3 1615.9L1117.8 1614.6L1118.3 1615.9L1118.8 1614.8L1119.3 1615.5L1119.9 1614.3L1120.4 1615.2L1120.9 1614.0L1121.4 1614.9L1121.9 1613.8L1122.4 1614.9L1122.9 1613.8L1123.5 1614.8L1124.0 1613.6L1124.5 1614.1L1125.0 1613.2L1125.5 1613.9L1126.1 1613.0L1126.6 1613.6L1127.1 1612.6L1127.6 1613.9L1128.1 1612.5L1128.7 1613.4L1129.2 1612.7L1129.7 1613.3L1130.2 1611.9L1130.8 1612.9L1131.3 1611.8L1131.8 1612.7L1132.3 1611.7L1132.8 1613.0L1133.3 1612.1L1133.9 1613.4L1134.4 1612.4L1134.9 1613.5L1135.4 1612.7L1135.9 1613.9L1136.4 1612.9L1136.9 1614.0L1137.5 1613.7L1138.0 1614.8L1138.5 1614.3L1139.0 1615.4L1139.5 1614.3L1140.0 1615.4L1140.5 1614.8L1141.1 1616.0L1141.6 1615.2L1142.1 1616.2L1142.6 1615.2L1143.1 1615.8L1143.7 1614.6L1144.2 1615.9L1144.7 1614.2L1145.2 1615.7L1145.7 1614.2L1146.3 1615.2L1146.8 1614.1L1147.3 1614.9L1147.8 1614.0L1148.4 1615.2L1148.9 1613.9L1149.4 1614.8L1149.9 1613.4L1150.4 1614.5L1150.8 1612.8L1151.3 1612.9L1151.8 1611.2L1152.2 1611.5L1152.7 1609.6L1153.1 1609.7L1153.6 1607.8L1154.1 1608.4L1154.5 1606.5L1155.0 1606.9L1155.4 1605.1L1155.9 1605.5L1156.4 1604.0L1156.8 1604.0L1157.3 1602.5L1157.7 1603.4L1158.2 1601.4L1158.7 1602.3L1159.2 1600.3L1159.7 1601.2L1160.2 1599.8L1160.7 1600.1L1161.2 1598.2L1161.7 1598.9L1162.1 1596.6L1162.6 1597.9L1163.1 1596.3L1163.6 1596.9L1164.1 1595.0L1164.6 1595.8L1165.1 1593.8L1165.6 1594.7L1166.1 1594.2L1166.6 1595.0L1167.1 1594.1L1167.6 1595.3L1168.1 1594.7L1168.7 1596.4L1169.2 1595.1L1169.7 1595.9L1170.2 1595.2L1170.7 1596.4L1171.2 1595.8L1171.7 1597.0L1172.3 1596.1L1172.8 1597.2L1173.3 1596.2L1173.8 1597.4L1174.3 1596.5L1174.8 1597.3L1175.3 1596.7L1175.9 1597.5L1176.4 1596.9L1176.9 1597.7L1177.4 1596.6L1177.9 1597.6L1178.5 1596.6L1179.0 1597.6L1179.5 1596.3L1180.0 1597.4L1180.6 1596.7L1181.1 1597.5L1181.6 1596.2L1182.1 1596.9L1182.6 1595.7L1183.2 1597.1L1183.7 1596.3L1184.2 1596.9L1184.7 1595.5L1185.2 1596.3L1185.7 1595.0L1186.3 1595.9L1186.8 1594.8L1187.3 1595.8L1187.8 1594.7L1188.3 1595.5L1188.8 1594.6L1189.3 1595.2L1189.9 1594.0L1190.4 1594.8L1190.9 1593.5L1191.4 1594.5L1191.9 1593.5L1192.4 1594.5L1192.9 1593.3L1193.4 1594.0L1194.0 1593.0L1194.5 1593.7L1195.0 1592.4L1195.5 1593.3L1196.0 1592.1L1196.5 1592.8L1197.0 1591.6L1197.5 1592.4L1198.0 1591.6L1198.5 1592.2L1199.0 1591.1L1199.5 1592.0L1200.0 1590.5L1200.5 1591.5L1201.0 1590.2L1201.5 1591.0L1202.0 1590.2L1202.6 1591.0L1203.1 1589.7L1203.6 1590.9L1204.1 1589.7L1204.6 1590.8L1205.1 1589.9L1205.6 1590.5L1206.1 1589.4L1206.6 1590.4L1207.1 1589.6L1207.7 1590.5L1208.2 1589.5L1208.7 1590.7L1209.2 1589.3L1209.7 1590.1L1210.2 1589.0L1210.7 1590.3L1211.2 1588.9L1211.7 1589.8L1212.2 1588.9L1212.8 1590.1L1213.3 1588.8L1213.8 1590.0L1214.3 1588.7L1214.8 1589.9L1215.3 1589.1L1215.9 1590.0L1216.4 1589.1L1216.9 1590.0L1217.4 1589.2L1217.9 1590.2L1218.4 1589.5L1218.9 1590.6L1219.5 1589.7L1220.0 1591.0L1220.5 1589.8L1221.0 1591.2L1221.5 1590.1L1222.0 1590.9L1222.5 1590.1L1223.1 1591.5L1223.6 1590.1L1224.1 1591.2L1224.6 1590.0L1225.1 1591.2L1225.6 1590.2L1226.1 1591.8L1226.7 1590.6L1227.2 1591.8L1227.7 1591.0L1228.2 1592.1L1228.7 1590.6L1229.2 1591.8L1229.7 1590.7L1230.3 1592.2L1230.8 1591.2L1231.3 1592.5L1231.8 1591.3L1232.3 1592.3L1232.9 1591.5L1233.4 1592.4L1233.9 1591.6L1234.4 1593.0L1234.9 1592.0L1235.5 1593.0L1236.0 1592.1L1236.5 1593.2L1237.0 1592.2L1237.6 1593.6L1238.1 1592.4L1238.6 1593.8L1239.1 1593.0L1239.6 1593.9L1240.2 1593.1L1240.7 1594.4L1241.2 1593.4L1241.7 1594.8L1242.2 1594.0L1242.8 1595.2L1243.3 1594.2L1243.8 1595.5L1244.3 1594.4L1244.9 1595.7L1245.4 1594.2L1245.9 1595.9L1246.4 1594.6L1246.9 1595.9L1247.5 1594.7L1248.0 1595.4L1248.5 1594.0L1249.0 1595.3L1249.5 1594.0L1250.0 1595.0L1250.5 1594.0L1251.1 1594.9L1251.6 1594.1L1252.1 1594.6L1252.6 1593.5L1253.1 1594.5L1253.6 1593.3L1254.1 1594.3L1254.7 1593.3L1255.2 1593.9L1255.7 1592.8L1256.2 1593.7L1256.7 1592.8L1257.2 1593.7L1257.7 1592.3L1258.2 1592.9L1258.8 1591.8L1259.3 1592.3L1259.8 1591.1L1260.3 1592.0L1260.8 1590.3L1261.3 1591.0L1261.8 1590.0L1262.3 1590.9L1262.8 1589.4L1263.4 1590.1L1263.9 1589.0L1264.4 1589.4L1264.9 1588.5L1265.4 1589.3L1265.9 1587.9L1266.4 1588.8L1266.9 1587.6L1267.4 1588.1L1267.9 1586.8L1268.5 1587.9L1268.9 1586.2L1269.4 1586.5L1269.9 1584.7L1270.4 1585.3L1270.9 1583.6L1271.4 1584.0L1271.9 1582.4L1272.4 1583.1L1272.9 1581.6L1273.3 1582.3L1273.8 1580.8L1274.3 1581.4L1274.8 1579.7L1275.3 1580.0L1275.8 1578.5L1276.3 1579.0L1276.8 1577.5L1277.3 1578.0L1277.7 1576.9L1278.2 1577.2L1278.7 1576.0L1279.2 1576.3L1279.7 1574.8L1280.2 1575.3L1280.7 1574.0L1281.2 1575.4L1281.7 1573.3L1282.1 1573.8L1282.7 1572.4L1283.2 1573.4L1283.7 1572.3L1284.3 1573.7L1284.8 1571.9L1285.3 1573.1L1285.9 1572.2L1286.4 1573.3L1286.9 1572.2L1287.5 1573.0L1288.0 1572.1L1288.5 1573.1L1289.1 1572.3L1289.6 1573.7L1290.1 1573.1L1290.6 1574.6L1291.1 1573.3L1291.7 1574.5L1292.2 1573.6L1292.7 1575.0L1293.2 1573.9L1293.7 1575.7L1294.3 1574.7L1294.8 1575.8L1295.3 1575.1L1295.8 1576.7L1296.3 1575.4L1296.9 1576.5L1297.4 1575.4L1297.9 1576.2L1298.4 1574.8L1298.9 1575.8L1299.4 1574.9L1300.0 1575.8L1300.5 1574.6L1301.0 1575.4L1301.5 1574.1L1302.0 1575.3L1302.5 1573.7L1303.0 1574.8L1303.6 1574.0L1304.1 1574.9L1304.6 1573.8L1305.1 1574.6L1305.6 1573.5L1306.1 1574.2L1306.6 1573.1L1307.1 1574.4L1307.7 1572.9L1308.2 1573.8L1308.7 1572.6L1309.2 1573.6L1309.7 1572.3L1310.2 1573.5L1310.7 1571.9L1311.2 1573.3L1311.8 1572.2L1312.3 1573.3L1312.8 1572.4L1313.3 1573.3L1313.8 1572.3L1314.3 1573.0L1314.8 1571.9L1315.3 1572.6L1315.9 1571.7L1316.4 1572.4L1316.8 1571.0L1317.3 1570.9L1317.7 1569.3L1318.2 1569.4L1318.6 1567.7L1319.1 1568.0L1319.5 1566.1L1320.0 1566.3L1320.4 1564.6L1320.9 1565.4L1321.3 1563.6L1321.8 1563.9L1322.2 1562.3L1322.7 1562.2L1323.1 1560.6L1323.6 1560.5L1324.0 1558.7L1324.5 1558.5L1324.9 1556.5L1325.3 1556.7L1325.8 1554.5L1326.2 1554.7L1326.7 1552.9L1327.1 1552.9L1327.6 1551.0L1328.1 1551.6L1328.6 1550.1L1329.1 1550.2L1329.6 1548.8L1330.1 1549.2L1330.5 1547.7L1331.0 1548.6L1331.5 1546.9L1332.0 1547.5L1332.5 1545.7L1333.0 1546.3L1333.5 1545.0L1334.0 1545.8L1334.5 1543.8L1335.0 1545.0L1335.4 1542.9L1335.9 1543.8L1336.4 1542.5L1336.9 1543.1L1337.4 1541.6L1337.9 1541.9L1338.4 1540.5L1338.9 1541.0L1339.4 1539.5L1339.8 1540.5L1340.3 1539.1L1340.8 1540.2L1341.3 1538.2L1341.8 1538.7L1342.3 1537.1L1342.8 1538.0L1343.3 1536.0L1343.8 1536.6L1344.2 1535.1L1344.7 1535.5L1345.2 1534.4L1345.7 1534.8L1346.2 1533.3L1346.7 1533.8L1347.2 1532.4L1347.7 1533.2L1348.2 1531.8L1348.8 1532.9L1349.3 1531.5L1349.8 1532.4L1350.3 1531.1L1350.9 1531.9L1351.4 1530.5L1351.9 1531.0L1352.4 1529.6L1352.9 1530.6L1353.5 1529.0L1354.0 1529.7L1354.5 1528.4L1355.0 1529.4L1355.5 1528.4L1356.1 1529.7L1356.6 1528.6L1357.1 1529.6L1357.6 1528.7L1358.1 1530.1L1358.6 1528.7L1359.1 1529.6L1359.7 1528.5L1360.2 1529.5L1360.7 1528.5L1361.2 1529.4L1361.7 1528.3L1362.2 1529.4L1362.7 1528.1L1363.3 1529.4L1363.8 1528.2L1364.3 1529.2L1364.8 1528.4L1365.3 1529.4L1365.8 1528.3L1366.3 1529.0L1366.9 1528.0L1367.4 1529.1L1367.9 1528.0L1368.4 1529.4L1368.9 1527.8L1369.4 1529.5L1369.9 1528.1L1370.5 1528.8L1371.0 1527.8L1371.5 1528.7L1372.0 1527.7L1372.5 1528.7L1373.0 1527.8L1373.6 1529.1L1374.1 1527.9L1374.6 1529.3L1375.1 1528.0L1375.6 1529.5L1376.2 1528.5L1376.7 1529.7L1377.2 1529.0L1377.7 1530.6L1378.2 1529.1L1378.8 1530.4L1379.3 1529.6L1379.8 1530.8L1380.3 1530.0L1380.8 1531.1L1381.4 1529.9L1381.9 1531.6L1382.4 1530.7L1382.9 1531.9L1383.5 1531.3L1384.0 1532.2L1384.5 1531.2L1385.0 1532.3L1385.5 1531.8L1386.1 1532.8L1386.6 1532.0L1387.1 1533.1L1387.6 1532.0L1388.1 1533.1L1388.7 1532.2L1389.2 1533.9L1389.7 1532.7L1390.2 1533.9L1390.8 1533.0L1391.3 1534.0L1391.8 1533.1L1392.3 1534.2L1392.9 1532.6L1393.4 1533.9L1393.9 1533.0L1394.5 1534.4L1395.0 1533.3L1395.5 1534.9L1396.0 1533.4L1396.6 1534.8" fill="none" stroke="#f00" stroke-width="2.8" stroke-linejoin="round"/>
<rect x="928.3" y="1518.4" width="593.2" height="527.8" fill="none" stroke="#000" stroke-width="3.7"/>
<text x="928.3" y="2076.6" font-family='"Liberation Sans", sans-serif' font-size="33.7" text-anchor="middle">0</text>
<text x="1060.1" y="2076.6" font-family='"Liberation Sans", sans-serif' font-size="33.7" text-anchor="middle">20</text>
<text x="1191.9" y="2076.6" font-family='"Liberation Sans", sans-serif' font-size="33.7" text-anchor="middle">40</text>
<text x="1323.8" y="2076.6" font-family='"Liberation Sans", sans-serif' font-size="33.7" text-anchor="middle">60</text>
<text x="1455.6" y="2076.6" font-family='"Liberation Sans", sans-serif' font-size="33.7" text-anchor="middle">80</text>
<text x="921.8" y="2058.1" font-family='"Liberation Sans", sans-serif' font-size="33.7" text-anchor="end">0</text>
<text x="921.8" y="1952.5" font-family='"Liberation Sans", sans-serif' font-size="33.7" text-anchor="end">20</text>
<text x="921.8" y="1847.0" font-family='"Liberation Sans", sans-serif' font-size="33.7" text-anchor="end">40</text>
<text x="921.8" y="1741.4" font-family='"Liberation Sans", sans-serif' font-size="33.7" text-anchor="end">60</text>
<text x="921.8" y="1635.9" font-family='"Liberation Sans", sans-serif' font-size="33.7" text-anchor="end">80</text>
<text x="921.8" y="1530.3" font-family='"Liberation Sans", sans-serif' font-size="33.7" text-anchor="end">100</text>
<text x="1224.9" y="2111.8" font-family='"Liberation Sans", sans-serif' font-size="37.2" text-anchor="middle">Time (ps)</text>
<text transform="translate(853.0 1780.3) rotate(-90)" font-family='"Liberation Sans", sans-serif' font-size="37.2" text-anchor="middle">Coordination (%)</text>
</g>
<g id="legend">
<path d="M383.3 440.6H410.5" stroke="#000" stroke-width="2.7"/>
<path d="M376.6 440.6L383.3 433.9L390.0 440.6L383.3 447.3Z" fill="none" stroke="#000" stroke-width="2.6"/><path d="M403.8 440.6L410.5 433.9L417.2 440.6L410.5 447.3Z" fill="none" stroke="#000" stroke-width="2.6"/>
<text x="423.0" y="450.0" font-family='"Liberation Sans", sans-serif' font-size="33.9">a-C 4-fold (tet)</text>
<path d="M383.3 479.4H410.5" stroke="#000" stroke-width="2.7"/>
<text x="423.0" y="488.8" font-family='"Liberation Sans", sans-serif' font-size="33.9">a-C 3-fold (hex)</text>
<path d="M383.3 518.6H410.5" stroke="#f00" stroke-width="2.7"/>
<path d="M376.6 518.6L383.3 511.9L390.0 518.6L383.3 525.3Z" fill="none" stroke="#f00" stroke-width="2.6"/><path d="M403.8 518.6L410.5 511.9L417.2 518.6L410.5 525.3Z" fill="none" stroke="#f00" stroke-width="2.6"/>
<text x="423.0" y="528.0" font-family='"Liberation Sans", sans-serif' font-size="33.9">a-CN 4-fold (tet)</text>
<path d="M383.3 556.7H410.5" stroke="#f00" stroke-width="2.7"/>
<text x="423.0" y="566.1" font-family='"Liberation Sans", sans-serif' font-size="33.9">a-CN 3-fold (hex)</text>
</g>
<text x="806.5" y="35.0" font-family='"DejaVu Sans", sans-serif' font-size="37.0" text-anchor="middle">3.3 and 3.4 g/cc</text>
<text x="810.5" y="741.0" font-family='"DejaVu Sans", sans-serif' font-size="37.0" text-anchor="middle">2.9 and 3.0 g/cc</text>
<text x="829.4" y="1469.5" font-family='"DejaVu Sans", sans-serif' font-size="37.0" text-anchor="middle">2.7 and 2.8 g/cc</text>
<text x="36.5" y="86.3" font-family='"DejaVu Sans", sans-serif' font-size="37.2" text-anchor="middle" letter-spacing="0.6">(a)</text>
<text x="803.8" y="80.4" font-family='"DejaVu Sans", sans-serif' font-size="37.2" text-anchor="middle" letter-spacing="0.6">(b)</text>
<text x="29.3" y="786.4" font-family='"DejaVu Sans", sans-serif' font-size="37.2" text-anchor="middle" letter-spacing="0.6">(c)</text>
<text x="807.9" y="792.6" font-family='"DejaVu Sans", sans-serif' font-size="37.2" text-anchor="middle" letter-spacing="0.6">(d)</text>
<text x="36.0" y="1524.3" font-family='"DejaVu Sans", sans-serif' font-size="37.2" text-anchor="middle" letter-spacing="0.6">(e)</text>
<text x="800.4" y="1526.6" font-family='"DejaVu Sans", sans-serif' font-size="37.2" text-anchor="middle" letter-spacing="0.6">(f)</text>
</svg>
</body></html>
